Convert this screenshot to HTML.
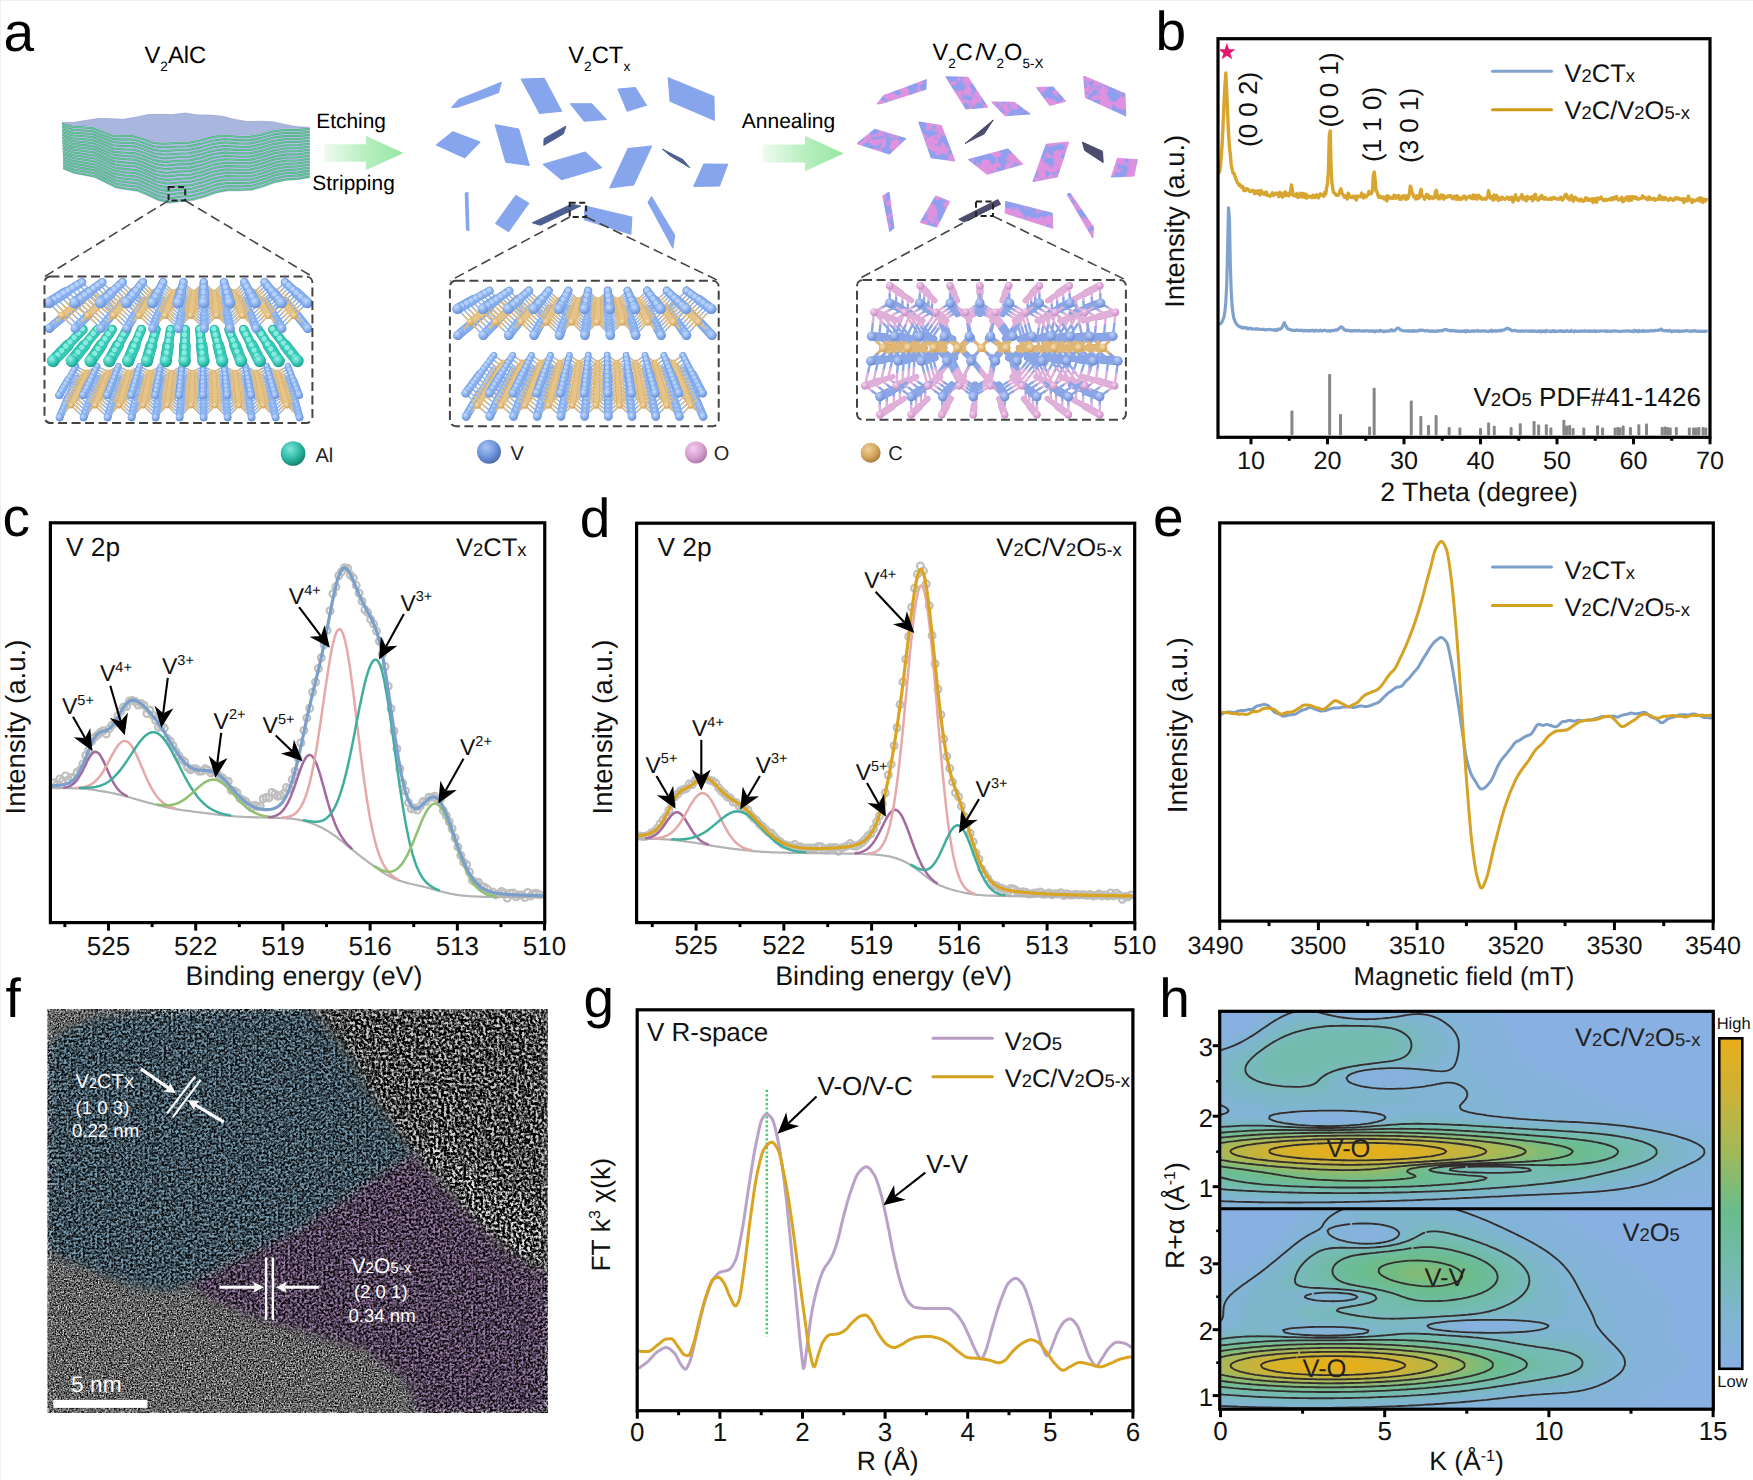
<!DOCTYPE html>
<html><head><meta charset="utf-8"><title>figure</title>
<style>
html,body{margin:0;padding:0;background:#fff;}
body{width:1753px;height:1480px;overflow:hidden;font-family:"Liberation Sans",sans-serif;}
svg{display:block;font-family:"Liberation Sans",sans-serif;text-rendering:geometricPrecision;}
</style></head><body>
<svg width="1753" height="1480" viewBox="0 0 1753 1480">
<rect x="0" y="0" width="1753" height="1480" fill="#fff"/>
<path d="M0.5 1480V0.5H1753" fill="none" stroke="#f0f0f0" stroke-width="1"/>
<g id="panel_a"><defs><radialGradient id="gV" cx="0.38" cy="0.32" r="0.75"><stop offset="0" stop-color="#c4dcfc"/><stop offset="0.55" stop-color="#86aeec"/><stop offset="1" stop-color="#5f88d4"/></radialGradient><radialGradient id="gV2" cx="0.38" cy="0.32" r="0.75"><stop offset="0" stop-color="#bdd0f8"/><stop offset="0.55" stop-color="#8aa6e6"/><stop offset="1" stop-color="#6582cc"/></radialGradient><radialGradient id="gC" cx="0.38" cy="0.32" r="0.75"><stop offset="0" stop-color="#f6e0b4"/><stop offset="0.55" stop-color="#e2ba78"/><stop offset="1" stop-color="#c89a52"/></radialGradient><radialGradient id="gAl" cx="0.38" cy="0.32" r="0.75"><stop offset="0" stop-color="#9af2e4"/><stop offset="0.55" stop-color="#35c8b6"/><stop offset="1" stop-color="#1a9584"/></radialGradient><radialGradient id="gO" cx="0.38" cy="0.32" r="0.75"><stop offset="0" stop-color="#f6d4f0"/><stop offset="0.55" stop-color="#dca6d6"/><stop offset="1" stop-color="#bf86ba"/></radialGradient><radialGradient id="gLV" cx="0.38" cy="0.32" r="0.75"><stop offset="0" stop-color="#a9c4f4"/><stop offset="0.55" stop-color="#6f94dc"/><stop offset="1" stop-color="#47639f"/></radialGradient><radialGradient id="gLO" cx="0.38" cy="0.32" r="0.75"><stop offset="0" stop-color="#f4cdee"/><stop offset="0.55" stop-color="#d9a0d2"/><stop offset="1" stop-color="#a874a4"/></radialGradient><radialGradient id="gLC" cx="0.38" cy="0.32" r="0.75"><stop offset="0" stop-color="#f0d09a"/><stop offset="0.55" stop-color="#d6a65c"/><stop offset="1" stop-color="#9f7634"/></radialGradient><radialGradient id="gLAl" cx="0.38" cy="0.32" r="0.75"><stop offset="0" stop-color="#7fe8d6"/><stop offset="0.55" stop-color="#2cb8a4"/><stop offset="1" stop-color="#147868"/></radialGradient><linearGradient id="ga1" x1="0" y1="0" x2="1" y2="0"><stop offset="0" stop-color="#eefbf0"/><stop offset="0.5" stop-color="#b9efc0"/><stop offset="1" stop-color="#96e6a2"/></linearGradient><filter id="mottle" x="0" y="0" width="100%" height="100%" color-interpolation-filters="sRGB">
<feTurbulence type="fractalNoise" baseFrequency="0.11" numOctaves="2" seed="3" result="n"/>
<feColorMatrix in="n" type="matrix" values="0 0 0 0 0.87  0 0 0 0 0.57  0 0 0 0 0.87  9 0 0 0 -3.9" result="pk"/>
<feComposite in="pk" in2="SourceGraphic" operator="atop"/>
</filter></defs>
<text x="144.4" y="62.9" font-size="23.8" text-anchor="start" fill="#000" >V<tspan font-size="13.68" dy="7.97">2</tspan><tspan dy="-7.97" font-size="1">&#8203;</tspan>AlC</text>
<text x="568.2" y="62.7" font-size="23.8" text-anchor="start" fill="#000" >V<tspan font-size="13.68" dy="7.97">2</tspan><tspan dy="-7.97" font-size="1">&#8203;</tspan>CT<tspan font-size="13.68" dy="7.97">x</tspan><tspan dy="-7.97" font-size="1">&#8203;</tspan></text>
<text x="932.6" y="60.1" font-size="23.5" text-anchor="start" fill="#000" >V<tspan font-size="13.51" dy="7.87">2</tspan><tspan dy="-7.87" font-size="1">&#8203;</tspan>C<tspan dx="2.6">/</tspan><tspan dx="-1">V</tspan><tspan font-size="13.51" dy="7.87">2</tspan><tspan dy="-7.87" font-size="1">&#8203;</tspan>O<tspan font-size="13.51" dy="7.87">5-X</tspan><tspan dy="-7.87" font-size="1">&#8203;</tspan></text>
<text x="3.6" y="50.7" font-size="55" text-anchor="start" fill="#000" >a</text>
<path d="M62 122.5 L74.3 122.33 L86.6 120.32 L98.9 118.31 L111.2 118.7 L123.5 119.24 L135.8 117.17 L148.1 114.6 L160.4 114.34 L172.7 114.62 L185 113 L197.47 114.96 L209.94 115.08 L222.41 116.19 L234.88 119.42 L247.35 121.55 L259.82 121.22 L272.29 121.67 L284.76 124.43 L297.23 126.7 L309.7 127.3 L297.47 128.45 L285.25 128.27 L273.02 129.83 L260.8 133.24 L248.57 135.56 L236.35 135.09 L224.12 134.05 L211.9 135.46 L199.68 138.82 L187.45 141.1 L175.22 141.27 L163 142 L152.9 140.98 L142.8 137.43 L132.7 134.44 L122.6 134.58 L112.5 134.24 L102.4 130.41 L92.3 126.58 L82.2 125.94 L72.1 125.46 L62 122.5Z" fill="#a9b6dd" stroke="#8f9cc8" stroke-width="0.6" /><path d="M62 122.5 L72.1 125.46 L82.2 125.94 L92.3 126.58 L102.4 130.41 L112.5 134.24 L122.6 134.58 L132.7 134.44 L142.8 137.43 L152.9 140.98 L163 142 L169.4 203.7 L158.79 201.2 L148.18 196.17 L137.57 191.7 L126.96 190.36 L116.35 188.54 L105.74 183.23 L95.13 177.92 L84.52 175.8 L73.91 173.84 L63.3 169.4Z" fill="#b0bbe6" stroke="none" stroke-width="1" /><path d="M163 142 L175.22 141.27 L187.45 141.1 L199.68 138.82 L211.9 135.46 L224.12 134.05 L236.35 135.09 L248.57 135.56 L260.8 133.24 L273.02 129.83 L285.25 128.27 L297.47 128.45 L309.7 127.3 L309.7 178 L298.01 180.07 L286.32 180.8 L274.62 183.28 L262.93 187.61 L251.24 190.84 L239.55 191.29 L227.86 191.17 L216.17 193.49 L204.48 197.77 L192.78 200.97 L181.09 202.06 L169.4 203.7Z" fill="#b0bbe6" stroke="none" stroke-width="1" /><path d="M62 123.9 72.2 126.9 82.3 127.4 92.4 128.1 102.5 132 112.6 135.8 122.7 136.2 132.8 136.1 143 139.2 153.1 142.8 163.2 143.8 175.4 143.1 187.6 142.9 199.8 140.6 212 137.2 224.2 135.7 236.4 136.7 248.7 137.2 260.9 134.8 273.1 131.4 285.3 129.8 297.5 130 309.7 128.8M62.1 126.6 72.3 129.7 82.4 130.3 92.5 131.1 102.7 135.1 112.8 139 123 139.5 133.1 139.5 143.3 142.6 153.4 146.3 163.6 147.4 175.7 146.6 187.9 146.4 200.1 144 212.3 140.6 224.5 139.1 236.6 140 248.8 140.4 261 138 273.2 134.5 285.3 132.9 297.5 133 309.7 131.8M62.2 129.4 72.4 132.6 82.5 133.3 92.7 134.1 102.9 138.2 113.1 142.2 123.2 142.8 133.4 142.9 143.6 146.1 153.8 149.8 163.9 151.1 176.1 150.2 188.2 149.9 200.4 147.5 212.5 144 224.7 142.4 236.8 143.3 249 143.7 261.1 141.2 273.3 137.7 285.4 136 297.6 136 309.7 134.8M62.3 132.2 72.5 135.4 82.7 136.2 92.9 137.2 103.1 141.3 113.3 145.4 123.5 146.1 133.7 146.2 143.9 149.5 154.1 153.4 164.3 154.7 176.4 153.8 188.5 153.4 200.7 151 212.8 147.4 224.9 145.8 237 146.7 249.1 146.9 261.2 144.4 273.4 140.8 285.5 139.1 297.6 139.1 309.7 137.7M62.3 134.9 72.6 138.3 82.8 139.1 93 140.2 103.3 144.4 113.5 148.6 123.8 149.3 134 149.6 144.2 153 154.5 156.9 164.7 158.3 176.8 157.4 188.9 156.9 200.9 154.4 213 150.8 225.1 149.2 237.2 150 249.3 150.2 261.4 147.6 273.4 144 285.5 142.2 297.6 142.1 309.7 140.7M62.4 137.7 72.7 141.1 83 142.1 93.2 143.2 103.5 147.5 113.7 151.8 124 152.6 134.3 153 144.5 156.4 154.8 160.5 165.1 162 177.1 160.9 189.2 160.5 201.2 157.9 213.3 154.2 225.3 152.5 237.4 153.3 249.4 153.4 261.5 150.8 273.5 147.1 285.6 145.3 297.6 145.2 309.7 143.7M62.5 140.4 72.8 144 83.1 145 93.4 146.2 103.7 150.6 114 155 124.3 155.9 134.6 156.3 144.9 159.9 155.2 164 165.4 165.6 177.5 164.5 189.5 164 201.5 161.4 213.5 157.6 225.6 155.9 237.6 156.6 249.6 156.7 261.6 154 273.6 150.3 285.7 148.4 297.7 148.2 309.7 146.7M62.6 143.2 72.9 146.8 83.2 147.9 93.5 149.2 103.9 153.7 114.2 158.2 124.5 159.2 134.8 159.7 145.2 163.3 155.5 167.6 165.8 169.2 177.8 168.1 189.8 167.5 201.8 164.8 213.8 161.1 225.8 159.2 237.8 159.9 249.8 159.9 261.7 157.2 273.7 153.4 285.7 151.4 297.7 151.2 309.7 149.7M62.6 146 73 149.7 83.4 150.9 93.7 152.3 104.1 156.8 114.4 161.4 124.8 162.5 135.1 163.1 145.5 166.8 155.8 171.1 166.2 172.8 178.2 171.7 190.1 171 202.1 168.3 214 164.5 226 162.6 237.9 163.2 249.9 163.2 261.9 160.4 273.8 156.6 285.8 154.5 297.7 154.3 309.7 152.7M62.7 148.7 73.1 152.5 83.5 153.8 93.9 155.3 104.3 159.9 114.7 164.6 125 165.8 135.4 166.4 145.8 170.3 156.2 174.6 166.6 176.5 178.5 175.2 190.4 174.6 202.4 171.8 214.3 167.9 226.2 166 238.1 166.5 250.1 166.5 262 163.6 273.9 159.7 285.8 157.6 297.8 157.3 309.7 155.6M62.8 151.5 73.2 155.3 83.6 156.7 94 158.3 104.5 163 114.9 167.8 125.3 169 135.7 169.8 146.1 173.7 156.5 178.2 167 180.1 178.8 178.8 190.7 178.1 202.6 175.2 214.5 171.3 226.4 169.3 238.3 169.8 250.2 169.7 262.1 166.8 274 162.8 285.9 160.7 297.8 160.3 309.7 158.6M62.9 154.2 73.3 158.2 83.8 159.7 94.2 161.3 104.7 166.1 115.1 171 125.5 172.3 136 173.2 146.4 177.2 156.9 181.7 167.3 183.7 179.2 182.4 191.1 181.6 202.9 178.7 214.8 174.7 226.7 172.7 238.5 173.1 250.4 173 262.2 170 274.1 166 286 163.8 297.8 163.4 309.7 161.6M63 157 73.4 161 83.9 162.6 94.4 164.3 104.9 169.2 115.3 174.2 125.8 175.6 136.3 176.5 146.8 180.6 157.2 185.3 167.7 187.4 179.5 186 191.4 185.1 203.2 182.2 215 178.1 226.9 176 238.7 176.4 250.5 176.2 262.4 173.2 274.2 169.1 286 166.9 297.9 166.4 309.7 164.6M63 159.7 73.5 163.9 84 165.5 94.5 167.4 105.1 172.4 115.6 177.4 126.1 178.9 136.6 179.9 147.1 184.1 157.6 188.8 168.1 191 179.9 189.5 191.7 188.6 203.5 185.6 215.3 181.5 227.1 179.4 238.9 179.7 250.7 179.5 262.5 176.4 274.3 172.3 286.1 170 297.9 169.4 309.7 167.6M63.1 162.5 73.6 166.7 84.2 168.5 94.7 170.4 105.2 175.5 115.8 180.6 126.3 182.2 136.9 183.3 147.4 187.5 157.9 192.3 168.5 194.6 180.2 193.1 192 192.2 203.8 189.1 215.5 185 227.3 182.8 239.1 183 250.8 182.7 262.6 179.6 274.4 175.4 286.2 173.1 297.9 172.5 309.7 170.5M63.2 165.3 73.8 169.6 84.3 171.4 94.9 173.4 105.4 178.6 116 183.8 126.6 185.4 137.1 186.7 147.7 191 158.3 195.9 168.8 198.3 180.6 196.7 192.3 195.7 204.1 192.6 215.8 188.4 227.5 186.1 239.3 186.3 251 186 262.7 182.8 274.5 178.6 286.2 176.2 298 175.5 309.7 173.5M63.3 168 73.9 172.4 84.5 174.3 95 176.4 105.6 181.7 116.2 186.9 126.8 188.7 137.4 190 148 194.4 158.6 199.4 169.2 201.9 180.9 200.3 192.6 199.2 204.3 196 216 191.8 227.7 189.5 239.5 189.6 251.2 189.2 262.9 186 274.6 181.7 286.3 179.3 298 178.6 309.7 176.5" fill="none" stroke="#4aa97c" stroke-width="1.8" stroke-linejoin="round"/><path d="M62 123.9 72.2 126.9 82.3 127.4 92.4 128.1 102.5 132 112.6 135.8 122.7 136.2 132.8 136.1 143 139.2 153.1 142.8 163.2 143.8 175.4 143.1 187.6 142.9 199.8 140.6 212 137.2 224.2 135.7 236.4 136.7 248.7 137.2 260.9 134.8 273.1 131.4 285.3 129.8 297.5 130 309.7 128.8M62.1 126.6 72.3 129.7 82.4 130.3 92.5 131.1 102.7 135.1 112.8 139 123 139.5 133.1 139.5 143.3 142.6 153.4 146.3 163.6 147.4 175.7 146.6 187.9 146.4 200.1 144 212.3 140.6 224.5 139.1 236.6 140 248.8 140.4 261 138 273.2 134.5 285.3 132.9 297.5 133 309.7 131.8M62.2 129.4 72.4 132.6 82.5 133.3 92.7 134.1 102.9 138.2 113.1 142.2 123.2 142.8 133.4 142.9 143.6 146.1 153.8 149.8 163.9 151.1 176.1 150.2 188.2 149.9 200.4 147.5 212.5 144 224.7 142.4 236.8 143.3 249 143.7 261.1 141.2 273.3 137.7 285.4 136 297.6 136 309.7 134.8M62.3 132.2 72.5 135.4 82.7 136.2 92.9 137.2 103.1 141.3 113.3 145.4 123.5 146.1 133.7 146.2 143.9 149.5 154.1 153.4 164.3 154.7 176.4 153.8 188.5 153.4 200.7 151 212.8 147.4 224.9 145.8 237 146.7 249.1 146.9 261.2 144.4 273.4 140.8 285.5 139.1 297.6 139.1 309.7 137.7M62.3 134.9 72.6 138.3 82.8 139.1 93 140.2 103.3 144.4 113.5 148.6 123.8 149.3 134 149.6 144.2 153 154.5 156.9 164.7 158.3 176.8 157.4 188.9 156.9 200.9 154.4 213 150.8 225.1 149.2 237.2 150 249.3 150.2 261.4 147.6 273.4 144 285.5 142.2 297.6 142.1 309.7 140.7M62.4 137.7 72.7 141.1 83 142.1 93.2 143.2 103.5 147.5 113.7 151.8 124 152.6 134.3 153 144.5 156.4 154.8 160.5 165.1 162 177.1 160.9 189.2 160.5 201.2 157.9 213.3 154.2 225.3 152.5 237.4 153.3 249.4 153.4 261.5 150.8 273.5 147.1 285.6 145.3 297.6 145.2 309.7 143.7M62.5 140.4 72.8 144 83.1 145 93.4 146.2 103.7 150.6 114 155 124.3 155.9 134.6 156.3 144.9 159.9 155.2 164 165.4 165.6 177.5 164.5 189.5 164 201.5 161.4 213.5 157.6 225.6 155.9 237.6 156.6 249.6 156.7 261.6 154 273.6 150.3 285.7 148.4 297.7 148.2 309.7 146.7M62.6 143.2 72.9 146.8 83.2 147.9 93.5 149.2 103.9 153.7 114.2 158.2 124.5 159.2 134.8 159.7 145.2 163.3 155.5 167.6 165.8 169.2 177.8 168.1 189.8 167.5 201.8 164.8 213.8 161.1 225.8 159.2 237.8 159.9 249.8 159.9 261.7 157.2 273.7 153.4 285.7 151.4 297.7 151.2 309.7 149.7M62.6 146 73 149.7 83.4 150.9 93.7 152.3 104.1 156.8 114.4 161.4 124.8 162.5 135.1 163.1 145.5 166.8 155.8 171.1 166.2 172.8 178.2 171.7 190.1 171 202.1 168.3 214 164.5 226 162.6 237.9 163.2 249.9 163.2 261.9 160.4 273.8 156.6 285.8 154.5 297.7 154.3 309.7 152.7M62.7 148.7 73.1 152.5 83.5 153.8 93.9 155.3 104.3 159.9 114.7 164.6 125 165.8 135.4 166.4 145.8 170.3 156.2 174.6 166.6 176.5 178.5 175.2 190.4 174.6 202.4 171.8 214.3 167.9 226.2 166 238.1 166.5 250.1 166.5 262 163.6 273.9 159.7 285.8 157.6 297.8 157.3 309.7 155.6M62.8 151.5 73.2 155.3 83.6 156.7 94 158.3 104.5 163 114.9 167.8 125.3 169 135.7 169.8 146.1 173.7 156.5 178.2 167 180.1 178.8 178.8 190.7 178.1 202.6 175.2 214.5 171.3 226.4 169.3 238.3 169.8 250.2 169.7 262.1 166.8 274 162.8 285.9 160.7 297.8 160.3 309.7 158.6M62.9 154.2 73.3 158.2 83.8 159.7 94.2 161.3 104.7 166.1 115.1 171 125.5 172.3 136 173.2 146.4 177.2 156.9 181.7 167.3 183.7 179.2 182.4 191.1 181.6 202.9 178.7 214.8 174.7 226.7 172.7 238.5 173.1 250.4 173 262.2 170 274.1 166 286 163.8 297.8 163.4 309.7 161.6M63 157 73.4 161 83.9 162.6 94.4 164.3 104.9 169.2 115.3 174.2 125.8 175.6 136.3 176.5 146.8 180.6 157.2 185.3 167.7 187.4 179.5 186 191.4 185.1 203.2 182.2 215 178.1 226.9 176 238.7 176.4 250.5 176.2 262.4 173.2 274.2 169.1 286 166.9 297.9 166.4 309.7 164.6M63 159.7 73.5 163.9 84 165.5 94.5 167.4 105.1 172.4 115.6 177.4 126.1 178.9 136.6 179.9 147.1 184.1 157.6 188.8 168.1 191 179.9 189.5 191.7 188.6 203.5 185.6 215.3 181.5 227.1 179.4 238.9 179.7 250.7 179.5 262.5 176.4 274.3 172.3 286.1 170 297.9 169.4 309.7 167.6M63.1 162.5 73.6 166.7 84.2 168.5 94.7 170.4 105.2 175.5 115.8 180.6 126.3 182.2 136.9 183.3 147.4 187.5 157.9 192.3 168.5 194.6 180.2 193.1 192 192.2 203.8 189.1 215.5 185 227.3 182.8 239.1 183 250.8 182.7 262.6 179.6 274.4 175.4 286.2 173.1 297.9 172.5 309.7 170.5M63.2 165.3 73.8 169.6 84.3 171.4 94.9 173.4 105.4 178.6 116 183.8 126.6 185.4 137.1 186.7 147.7 191 158.3 195.9 168.8 198.3 180.6 196.7 192.3 195.7 204.1 192.6 215.8 188.4 227.5 186.1 239.3 186.3 251 186 262.7 182.8 274.5 178.6 286.2 176.2 298 175.5 309.7 173.5M63.3 168 73.9 172.4 84.5 174.3 95 176.4 105.6 181.7 116.2 186.9 126.8 188.7 137.4 190 148 194.4 158.6 199.4 169.2 201.9 180.9 200.3 192.6 199.2 204.3 196 216 191.8 227.7 189.5 239.5 189.6 251.2 189.2 262.9 186 274.6 181.7 286.3 179.3 298 178.6 309.7 176.5" fill="none" stroke="#67cc97" stroke-width="1.0" stroke-linejoin="round"/>
<path d="M324.3 144.35 L365.8 144.35 L365.8 135.85 L403.4 153.05 L365.8 170.25 L365.8 161.75 L324.3 161.75Z" fill="url(#ga1)" stroke="none" stroke-width="1" />
<path d="M762.7 144.6 L805 144.6 L805 135.7 L843.7 153.5 L805 171.3 L805 162.4 L762.7 162.4Z" fill="url(#ga1)" stroke="none" stroke-width="1" />
<text x="316.3" y="127.5" font-size="20.9" text-anchor="start" fill="#000" >Etching</text>
<text x="312.3" y="189.7" font-size="20.9" text-anchor="start" fill="#000" >Stripping</text>
<text x="741.8" y="127.7" font-size="21" text-anchor="start" fill="#000" >Annealing</text>
<path d="M451.9 107.5 459.2 99.2 480.2 91 501.2 82.3 498.5 92.5 474.8 101.1 457.4 107.1ZM521.3 79.2 544.1 78.3 561.5 111.1 539.6 113.3ZM570.6 103.8 591.6 103.8 606.2 119.3 584.3 121.2ZM618.1 89.2 635.4 87.7 646.4 105.3 627.2 111.1ZM668.3 77.9 713.9 96.5 714.3 120.2 670.1 101.1ZM436.4 144.9 452.9 131.7 479.9 142.1 464.7 157.7ZM495.2 124.8 518.6 129 529.2 165.5 505.8 162.2ZM543.2 164.4 585.2 152.2 601.6 167.7 561.5 179.6ZM628.1 148.5 651.5 146.2 633.6 185 609.9 187.8ZM703.9 164.1 727.6 164.4 719.4 186 693.8 186.3ZM465.3 193.3 467.8 192.3 468.9 230.7 466.5 229.8ZM515.8 195.5 528.6 203.3 508.5 231.6 495.8 223.4ZM585.2 206 631.8 217 630.8 234.3 584.3 219.7ZM648.2 202.4 651.5 196.9 674.7 235.2 672.8 248Z" fill="#86a5ec" stroke="#86a5ec" stroke-width="1.2" stroke-linejoin="round" /><path d="M544.1 138.5 566 126.1 563.3 133.9 543.8 145.4ZM662.4 149.1 682.9 159.5 689.8 167.7 670.1 155.8ZM532.3 222.8 571.5 204.2 580.6 206 540.5 225.2Z" fill="#4d5f90" stroke="#4d5f90" stroke-width="1" stroke-linejoin="round"/>
<path d="M877.4 103.8 883.8 95.6 903.9 88.3 926.2 79.7 925.8 89.2 900.2 97.4 881.1 103.4ZM945.9 76.8 967.8 77.3 987.5 107.1 966 108.9ZM991.9 102 1014.3 102.4 1029.9 113.9 1005.2 115.7ZM1036.8 87.7 1052.7 87 1065.4 101.1 1049.9 105.3ZM1083.7 76.1 1124.8 93.8 1125.7 115.7 1085.5 97.4ZM857.3 143.6 874.7 129.4 905.7 138.5 889.3 154ZM918.9 122.1 941.3 125.7 954.6 160.8 931.3 157.7ZM968.7 159.5 1007.9 149.1 1022.5 164.1 987 174.1ZM1046.3 144.3 1068.6 142.1 1057.2 176.8 1033.1 181.4ZM1117.5 158.6 1137.2 159.5 1133.9 175.9 1111.6 176.8ZM882.9 196 888.9 192.3 893.9 227.9 889.7 231.2ZM935.8 196 949.5 201.5 936.8 227 920.3 222.5ZM1005.8 201.5 1052.1 213.3 1052.7 228.3 1005.2 213ZM1067.3 194.2 1070 193.3 1093.4 227 1092.8 238Z" fill="#8d9fee" stroke="#8d9fee" stroke-width="1.2" stroke-linejoin="round" filter="url(#mottle)"/><path d="M965 143.6 993.3 119.9 984.2 133.9 967.8 142.1ZM1082.4 142.1 1102.5 151.3 1103.2 162.6 1084.6 150.4ZM958.7 219.2 997.9 199.6 1000.6 204.2 964.1 222.1Z" fill="#4c4d6e" stroke="#4c4d6e" stroke-width="1" stroke-linejoin="round"/>
<path d="M76.5 378L59.6 417.5M97.7 378L83.6 417.5M118.9 378L107.6 417.5M140.1 378L131.6 417.5M161.3 378L155.6 417.5M182.5 378L179.6 417.5M203.7 378L203.6 417.5M224.9 378L227.6 417.5M246.1 378L251.6 417.5M267.3 378L275.6 417.5M288.5 378L299.6 417.5" stroke="#6a93dc" stroke-width="6.4" stroke-linecap="round" fill="none"/><path d="M68 397.8L59.6 417.5M90.7 397.8L83.6 417.5M113.2 397.8L107.6 417.5M135.8 397.8L131.6 417.5M158.4 397.8L155.6 417.5M181.1 397.8L179.6 417.5M203.6 397.8L203.6 417.5M226.2 397.8L227.6 417.5M248.8 397.8L251.6 417.5M271.4 397.8L275.6 417.5M294.1 397.8L299.6 417.5" stroke="#6a93dc" stroke-width="7.5" stroke-linecap="round" fill="none"/><path d="M76.5 378L59.6 417.5M97.7 378L83.6 417.5M118.9 378L107.6 417.5M140.1 378L131.6 417.5M161.3 378L155.6 417.5M182.5 378L179.6 417.5M203.7 378L203.6 417.5M224.9 378L227.6 417.5M246.1 378L251.6 417.5M267.3 378L275.6 417.5M288.5 378L299.6 417.5" stroke="#86aeec" stroke-width="5.4" stroke-linecap="round" fill="none"/><path d="M68 397.8L59.6 417.5M90.7 397.8L83.6 417.5M113.2 397.8L107.6 417.5M135.8 397.8L131.6 417.5M158.4 397.8L155.6 417.5M181.1 397.8L179.6 417.5M203.6 397.8L203.6 417.5M226.2 397.8L227.6 417.5M248.8 397.8L251.6 417.5M271.4 397.8L275.6 417.5M294.1 397.8L299.6 417.5" stroke="#86aeec" stroke-width="6.5" stroke-linecap="round" fill="none"/><path d="M75.9 377.2L59 416.7M97.1 377.2L83 416.7M118.3 377.2L107 416.7M139.5 377.2L131 416.7M160.7 377.2L155 416.7M181.9 377.2L179 416.7M203.1 377.2L203 416.7M224.3 377.2L227 416.7M245.5 377.2L251 416.7M266.7 377.2L275 416.7M287.9 377.2L299 416.7" stroke="#b3d0fa" stroke-width="3.5" stroke-linecap="round" stroke-dasharray="0.1 4" fill="none"/><path d="M59.1 395.2 71.1 405.5 83.1 395.2 95.1 405.5 107.1 395.2 119.1 405.5 131.1 395.2 143.1 405.5 155.1 395.2 167.1 405.5 179.1 395.2 191.1 405.5 203.1 395.2 215.1 405.5 227.1 395.2 239.1 405.5 251.1 395.2 263.1 405.5 275.1 395.2 287.1 405.5 299.1 395.2M59.6 417.5 71.1 405.5 83.6 417.5 95.1 405.5 107.6 417.5 119.1 405.5 131.6 417.5 143.1 405.5 155.6 417.5 167.1 405.5 179.6 417.5 191.1 405.5 203.6 417.5 215.1 405.5 227.6 417.5 239.1 405.5 251.6 417.5 263.1 405.5 275.6 417.5 287.1 405.5 299.6 417.5M60.5 392.8 72.4 402.7 84.3 392.8 96.2 402.7 108 392.8 119.9 402.7 131.8 392.8 143.7 402.7 155.6 392.8 167.5 402.7 179.3 392.8 191.2 402.7 203.1 392.8 215 402.7 226.9 392.8 238.8 402.7 250.6 392.8 262.5 402.7 274.4 392.8 286.3 402.7 298.2 392.8M61 414.2 72.4 402.7 84.8 414.2 96.2 402.7 108.5 414.2 119.9 402.7 132.3 414.2 143.7 402.7 156.1 414.2 167.5 402.7 179.8 414.2 191.2 402.7 203.6 414.2 215 402.7 227.4 414.2 238.8 402.7 251.1 414.2 262.5 402.7 274.9 414.2 286.3 402.7 298.7 414.2M61.9 390.4 73.7 399.9 85.4 390.4 97.2 399.9 109 390.4 120.8 399.9 132.5 390.4 144.3 399.9 156.1 390.4 167.8 399.9 179.6 390.4 191.3 399.9 203.1 390.4 214.9 399.9 226.7 390.4 238.4 399.9 250.2 390.4 262 399.9 273.7 390.4 285.5 399.9 297.2 390.4M62.4 410.9 73.7 399.9 85.9 410.9 97.2 399.9 109.5 410.9 120.8 399.9 133 410.9 144.3 399.9 156.6 410.9 167.8 399.9 180.1 410.9 191.3 399.9 203.6 410.9 214.9 399.9 227.2 410.9 238.4 399.9 250.7 410.9 262 399.9 274.2 410.9 285.5 399.9 297.8 410.9M63.3 387.9 75 397.1 86.6 387.9 98.3 397.1 109.9 387.9 121.6 397.1 133.2 387.9 144.9 397.1 156.5 387.9 168.2 397.1 179.8 387.9 191.5 397.1 203.1 387.9 214.8 397.1 226.4 387.9 238.1 397.1 249.7 387.9 261.4 397.1 273 387.9 284.7 397.1 296.3 387.9M63.8 407.6 75 397.1 87.1 407.6 98.3 397.1 110.4 407.6 121.6 397.1 133.7 407.6 144.9 397.1 157 407.6 168.2 397.1 180.3 407.6 191.5 397.1 203.6 407.6 214.8 397.1 226.9 407.6 238.1 397.1 250.2 407.6 261.4 397.1 273.5 407.6 284.7 397.1 296.8 407.6M64.7 385.5 76.3 394.3 87.8 385.5 99.3 394.3 110.9 385.5 122.4 394.3 133.9 385.5 145.5 394.3 157 385.5 168.5 394.3 180.1 385.5 191.6 394.3 203.1 385.5 214.7 394.3 226.2 385.5 237.7 394.3 249.3 385.5 260.8 394.3 272.3 385.5 283.9 394.3 295.4 385.5M65.2 404.3 76.3 394.3 88.3 404.3 99.3 394.3 111.4 404.3 122.4 394.3 134.4 404.3 145.5 394.3 157.5 404.3 168.5 394.3 180.6 404.3 191.6 394.3 203.6 404.3 214.7 394.3 226.7 404.3 237.7 394.3 249.8 404.3 260.8 394.3 272.8 404.3 283.9 394.3 295.9 404.3M66.1 383.1 77.6 391.5 89 383.1 100.4 391.5 111.8 383.1 123.2 391.5 134.6 383.1 146.1 391.5 157.5 383.1 168.9 391.5 180.3 383.1 191.7 391.5 203.1 383.1 214.6 391.5 226 383.1 237.4 391.5 248.8 383.1 260.2 391.5 271.6 383.1 283.1 391.5 294.5 383.1M66.6 401 77.6 391.5 89.5 401 100.4 391.5 112.3 401 123.2 391.5 135.1 401 146.1 391.5 158 401 168.9 391.5 180.8 401 191.7 391.5 203.6 401 214.6 391.5 226.5 401 237.4 391.5 249.3 401 260.2 391.5 272.1 401 283.1 391.5 295 401M67.5 380.6 78.8 388.8 90.2 380.6 101.4 388.8 112.8 380.6 124 388.8 135.3 380.6 146.6 388.8 157.9 380.6 169.2 388.8 180.6 380.6 191.8 388.8 203.1 380.6 214.4 388.8 225.8 380.6 237.1 388.8 248.3 380.6 259.6 388.8 270.9 380.6 282.2 388.8 293.6 380.6M68 397.8 78.8 388.8 90.7 397.8 101.4 388.8 113.2 397.8 124 388.8 135.8 397.8 146.6 388.8 158.4 397.8 169.2 388.8 181.1 397.8 191.8 388.8 203.6 397.8 214.4 388.8 226.2 397.8 237.1 388.8 248.8 397.8 259.6 388.8 271.4 397.8 282.2 388.8 294.1 397.8M69 378.2 80.1 386 91.3 378.2 102.5 386 113.7 378.2 124.9 386 136.1 378.2 147.2 386 158.4 378.2 169.6 386 180.8 378.2 192 386 203.2 378.2 214.3 386 225.5 378.2 236.7 386 247.9 378.2 259.1 386 270.3 378.2 281.4 386 292.6 378.2M69.5 394.5 80.1 386 91.8 394.5 102.5 386 114.2 394.5 124.9 386 136.6 394.5 147.2 386 158.9 394.5 169.6 386 181.3 394.5 192 386 203.7 394.5 214.3 386 226 394.5 236.7 386 248.4 394.5 259.1 386 270.8 394.5 281.4 386 293.1 394.5M70.4 375.8 81.4 383.2 92.5 375.8 103.6 383.2 114.6 375.8 125.7 383.2 136.8 375.8 147.8 383.2 158.9 375.8 170 383.2 181 375.8 192.1 383.2 203.2 375.8 214.2 383.2 225.3 375.8 236.4 383.2 247.4 375.8 258.5 383.2 269.6 375.8 280.6 383.2 291.7 375.8M70.9 391.2 81.4 383.2 93 391.2 103.6 383.2 115.1 391.2 125.7 383.2 137.3 391.2 147.8 383.2 159.4 391.2 170 383.2 181.5 391.2 192.1 383.2 203.7 391.2 214.2 383.2 225.8 391.2 236.4 383.2 247.9 391.2 258.5 383.2 270.1 391.2 280.6 383.2 292.2 391.2M71.8 373.4 82.7 380.4 93.7 373.4 104.6 380.4 115.6 373.4 126.5 380.4 137.5 373.4 148.4 380.4 159.4 373.4 170.3 380.4 181.3 373.4 192.2 380.4 203.2 373.4 214.1 380.4 225.1 373.4 236 380.4 247 373.4 257.9 380.4 268.9 373.4 279.8 380.4 290.8 373.4M72.3 387.9 82.7 380.4 94.2 387.9 104.6 380.4 116.1 387.9 126.5 380.4 138 387.9 148.4 380.4 159.9 387.9 170.3 380.4 181.8 387.9 192.2 380.4 203.7 387.9 214.1 380.4 225.6 387.9 236 380.4 247.5 387.9 257.9 380.4 269.4 387.9 279.8 380.4 291.3 387.9M73.2 371 84 377.6 94.8 371 105.7 377.6 116.5 371 127.3 377.6 138.2 371 149 377.6 159.9 371 170.7 377.6 181.5 371 192.3 377.6 203.2 371 214 377.6 224.8 371 235.7 377.6 246.5 371 257.4 377.6 268.2 371 279 377.6 289.9 371M73.7 384.6 84 377.6 95.3 384.6 105.7 377.6 117 384.6 127.3 377.6 138.7 384.6 149 377.6 160.4 384.6 170.7 377.6 182 384.6 192.3 377.6 203.7 384.6 214 377.6 225.3 384.6 235.7 377.6 247 384.6 257.4 377.6 268.7 384.6 279 377.6 290.4 384.6M74.6 368.5 85.3 374.8 96 368.5 106.7 374.8 117.5 368.5 128.2 374.8 138.9 368.5 149.6 374.8 160.3 368.5 171 374.8 181.8 368.5 192.5 374.8 203.2 368.5 213.9 374.8 224.6 368.5 235.3 374.8 246.1 368.5 256.8 374.8 267.5 368.5 278.2 374.8 288.9 368.5M75.1 381.3 85.3 374.8 96.5 381.3 106.7 374.8 118 381.3 128.2 374.8 139.4 381.3 149.6 374.8 160.8 381.3 171 374.8 182.3 381.3 192.5 374.8 203.7 381.3 213.9 374.8 225.1 381.3 235.3 374.8 246.6 381.3 256.8 374.8 268 381.3 278.2 374.8 289.4 381.3M76 366.1 86.6 372 97.2 366.1 107.8 372 118.4 366.1 129 372 139.6 366.1 150.2 372 160.8 366.1 171.4 372 182 366.1 192.6 372 203.2 366.1 213.8 372 224.4 366.1 235 372 245.6 366.1 256.2 372 266.8 366.1 277.4 372 288 366.1M76.5 378 86.6 372 97.7 378 107.8 372 118.9 378 129 372 140.1 378 150.2 372 161.3 378 171.4 372 182.5 378 192.6 372 203.7 378 213.8 372 224.9 378 235 372 246.1 378 256.2 372 267.3 378 277.4 372 288.5 378" stroke="#8db3ee" stroke-width="1.5" fill="none" stroke-linejoin="round"/><g stroke="#e2be80" stroke-width="1.7" fill="none" stroke-dasharray="0 0.5 1 0.5"><path pathLength="20" d="M59.1 395.2 71.1 405.5 83.1 395.2 95.1 405.5 107.1 395.2 119.1 405.5 131.1 395.2 143.1 405.5 155.1 395.2 167.1 405.5 179.1 395.2 191.1 405.5 203.1 395.2 215.1 405.5 227.1 395.2 239.1 405.5 251.1 395.2 263.1 405.5 275.1 395.2 287.1 405.5 299.1 395.2"/><path pathLength="20" d="M59.6 417.5 71.1 405.5 83.6 417.5 95.1 405.5 107.6 417.5 119.1 405.5 131.6 417.5 143.1 405.5 155.6 417.5 167.1 405.5 179.6 417.5 191.1 405.5 203.6 417.5 215.1 405.5 227.6 417.5 239.1 405.5 251.6 417.5 263.1 405.5 275.6 417.5 287.1 405.5 299.6 417.5"/><path pathLength="20" d="M60.5 392.8 72.4 402.7 84.3 392.8 96.2 402.7 108 392.8 119.9 402.7 131.8 392.8 143.7 402.7 155.6 392.8 167.5 402.7 179.3 392.8 191.2 402.7 203.1 392.8 215 402.7 226.9 392.8 238.8 402.7 250.6 392.8 262.5 402.7 274.4 392.8 286.3 402.7 298.2 392.8"/><path pathLength="20" d="M61 414.2 72.4 402.7 84.8 414.2 96.2 402.7 108.5 414.2 119.9 402.7 132.3 414.2 143.7 402.7 156.1 414.2 167.5 402.7 179.8 414.2 191.2 402.7 203.6 414.2 215 402.7 227.4 414.2 238.8 402.7 251.1 414.2 262.5 402.7 274.9 414.2 286.3 402.7 298.7 414.2"/><path pathLength="20" d="M61.9 390.4 73.7 399.9 85.4 390.4 97.2 399.9 109 390.4 120.8 399.9 132.5 390.4 144.3 399.9 156.1 390.4 167.8 399.9 179.6 390.4 191.3 399.9 203.1 390.4 214.9 399.9 226.7 390.4 238.4 399.9 250.2 390.4 262 399.9 273.7 390.4 285.5 399.9 297.2 390.4"/><path pathLength="20" d="M62.4 410.9 73.7 399.9 85.9 410.9 97.2 399.9 109.5 410.9 120.8 399.9 133 410.9 144.3 399.9 156.6 410.9 167.8 399.9 180.1 410.9 191.3 399.9 203.6 410.9 214.9 399.9 227.2 410.9 238.4 399.9 250.7 410.9 262 399.9 274.2 410.9 285.5 399.9 297.8 410.9"/><path pathLength="20" d="M63.3 387.9 75 397.1 86.6 387.9 98.3 397.1 109.9 387.9 121.6 397.1 133.2 387.9 144.9 397.1 156.5 387.9 168.2 397.1 179.8 387.9 191.5 397.1 203.1 387.9 214.8 397.1 226.4 387.9 238.1 397.1 249.7 387.9 261.4 397.1 273 387.9 284.7 397.1 296.3 387.9"/><path pathLength="20" d="M63.8 407.6 75 397.1 87.1 407.6 98.3 397.1 110.4 407.6 121.6 397.1 133.7 407.6 144.9 397.1 157 407.6 168.2 397.1 180.3 407.6 191.5 397.1 203.6 407.6 214.8 397.1 226.9 407.6 238.1 397.1 250.2 407.6 261.4 397.1 273.5 407.6 284.7 397.1 296.8 407.6"/><path pathLength="20" d="M64.7 385.5 76.3 394.3 87.8 385.5 99.3 394.3 110.9 385.5 122.4 394.3 133.9 385.5 145.5 394.3 157 385.5 168.5 394.3 180.1 385.5 191.6 394.3 203.1 385.5 214.7 394.3 226.2 385.5 237.7 394.3 249.3 385.5 260.8 394.3 272.3 385.5 283.9 394.3 295.4 385.5"/><path pathLength="20" d="M65.2 404.3 76.3 394.3 88.3 404.3 99.3 394.3 111.4 404.3 122.4 394.3 134.4 404.3 145.5 394.3 157.5 404.3 168.5 394.3 180.6 404.3 191.6 394.3 203.6 404.3 214.7 394.3 226.7 404.3 237.7 394.3 249.8 404.3 260.8 394.3 272.8 404.3 283.9 394.3 295.9 404.3"/><path pathLength="20" d="M66.1 383.1 77.6 391.5 89 383.1 100.4 391.5 111.8 383.1 123.2 391.5 134.6 383.1 146.1 391.5 157.5 383.1 168.9 391.5 180.3 383.1 191.7 391.5 203.1 383.1 214.6 391.5 226 383.1 237.4 391.5 248.8 383.1 260.2 391.5 271.6 383.1 283.1 391.5 294.5 383.1"/><path pathLength="20" d="M66.6 401 77.6 391.5 89.5 401 100.4 391.5 112.3 401 123.2 391.5 135.1 401 146.1 391.5 158 401 168.9 391.5 180.8 401 191.7 391.5 203.6 401 214.6 391.5 226.5 401 237.4 391.5 249.3 401 260.2 391.5 272.1 401 283.1 391.5 295 401"/><path pathLength="20" d="M67.5 380.6 78.8 388.8 90.2 380.6 101.4 388.8 112.8 380.6 124 388.8 135.3 380.6 146.6 388.8 157.9 380.6 169.2 388.8 180.6 380.6 191.8 388.8 203.1 380.6 214.4 388.8 225.8 380.6 237.1 388.8 248.3 380.6 259.6 388.8 270.9 380.6 282.2 388.8 293.6 380.6"/><path pathLength="20" d="M68 397.8 78.8 388.8 90.7 397.8 101.4 388.8 113.2 397.8 124 388.8 135.8 397.8 146.6 388.8 158.4 397.8 169.2 388.8 181.1 397.8 191.8 388.8 203.6 397.8 214.4 388.8 226.2 397.8 237.1 388.8 248.8 397.8 259.6 388.8 271.4 397.8 282.2 388.8 294.1 397.8"/><path pathLength="20" d="M69 378.2 80.1 386 91.3 378.2 102.5 386 113.7 378.2 124.9 386 136.1 378.2 147.2 386 158.4 378.2 169.6 386 180.8 378.2 192 386 203.2 378.2 214.3 386 225.5 378.2 236.7 386 247.9 378.2 259.1 386 270.3 378.2 281.4 386 292.6 378.2"/><path pathLength="20" d="M69.5 394.5 80.1 386 91.8 394.5 102.5 386 114.2 394.5 124.9 386 136.6 394.5 147.2 386 158.9 394.5 169.6 386 181.3 394.5 192 386 203.7 394.5 214.3 386 226 394.5 236.7 386 248.4 394.5 259.1 386 270.8 394.5 281.4 386 293.1 394.5"/><path pathLength="20" d="M70.4 375.8 81.4 383.2 92.5 375.8 103.6 383.2 114.6 375.8 125.7 383.2 136.8 375.8 147.8 383.2 158.9 375.8 170 383.2 181 375.8 192.1 383.2 203.2 375.8 214.2 383.2 225.3 375.8 236.4 383.2 247.4 375.8 258.5 383.2 269.6 375.8 280.6 383.2 291.7 375.8"/><path pathLength="20" d="M70.9 391.2 81.4 383.2 93 391.2 103.6 383.2 115.1 391.2 125.7 383.2 137.3 391.2 147.8 383.2 159.4 391.2 170 383.2 181.5 391.2 192.1 383.2 203.7 391.2 214.2 383.2 225.8 391.2 236.4 383.2 247.9 391.2 258.5 383.2 270.1 391.2 280.6 383.2 292.2 391.2"/><path pathLength="20" d="M71.8 373.4 82.7 380.4 93.7 373.4 104.6 380.4 115.6 373.4 126.5 380.4 137.5 373.4 148.4 380.4 159.4 373.4 170.3 380.4 181.3 373.4 192.2 380.4 203.2 373.4 214.1 380.4 225.1 373.4 236 380.4 247 373.4 257.9 380.4 268.9 373.4 279.8 380.4 290.8 373.4"/><path pathLength="20" d="M72.3 387.9 82.7 380.4 94.2 387.9 104.6 380.4 116.1 387.9 126.5 380.4 138 387.9 148.4 380.4 159.9 387.9 170.3 380.4 181.8 387.9 192.2 380.4 203.7 387.9 214.1 380.4 225.6 387.9 236 380.4 247.5 387.9 257.9 380.4 269.4 387.9 279.8 380.4 291.3 387.9"/><path pathLength="20" d="M73.2 371 84 377.6 94.8 371 105.7 377.6 116.5 371 127.3 377.6 138.2 371 149 377.6 159.9 371 170.7 377.6 181.5 371 192.3 377.6 203.2 371 214 377.6 224.8 371 235.7 377.6 246.5 371 257.4 377.6 268.2 371 279 377.6 289.9 371"/><path pathLength="20" d="M73.7 384.6 84 377.6 95.3 384.6 105.7 377.6 117 384.6 127.3 377.6 138.7 384.6 149 377.6 160.4 384.6 170.7 377.6 182 384.6 192.3 377.6 203.7 384.6 214 377.6 225.3 384.6 235.7 377.6 247 384.6 257.4 377.6 268.7 384.6 279 377.6 290.4 384.6"/><path pathLength="20" d="M74.6 368.5 85.3 374.8 96 368.5 106.7 374.8 117.5 368.5 128.2 374.8 138.9 368.5 149.6 374.8 160.3 368.5 171 374.8 181.8 368.5 192.5 374.8 203.2 368.5 213.9 374.8 224.6 368.5 235.3 374.8 246.1 368.5 256.8 374.8 267.5 368.5 278.2 374.8 288.9 368.5"/><path pathLength="20" d="M75.1 381.3 85.3 374.8 96.5 381.3 106.7 374.8 118 381.3 128.2 374.8 139.4 381.3 149.6 374.8 160.8 381.3 171 374.8 182.3 381.3 192.5 374.8 203.7 381.3 213.9 374.8 225.1 381.3 235.3 374.8 246.6 381.3 256.8 374.8 268 381.3 278.2 374.8 289.4 381.3"/><path pathLength="20" d="M76 366.1 86.6 372 97.2 366.1 107.8 372 118.4 366.1 129 372 139.6 366.1 150.2 372 160.8 366.1 171.4 372 182 366.1 192.6 372 203.2 366.1 213.8 372 224.4 366.1 235 372 245.6 366.1 256.2 372 266.8 366.1 277.4 372 288 366.1"/><path pathLength="20" d="M76.5 378 86.6 372 97.7 378 107.8 372 118.9 378 129 372 140.1 378 150.2 372 161.3 378 171.4 372 182.5 378 192.6 372 203.7 378 213.8 372 224.9 378 235 372 246.1 378 256.2 372 267.3 378 277.4 372 288.5 378"/></g><path d="M86.6 372L71.1 405.5M107.8 372L95.1 405.5M129 372L119.1 405.5M150.2 372L143.1 405.5M171.4 372L167.1 405.5M192.6 372L191.1 405.5M213.8 372L215.1 405.5M235 372L239.1 405.5M256.2 372L263.1 405.5M277.4 372L287.1 405.5" stroke="#d3ab68" stroke-width="4.7" stroke-linecap="round" fill="none"/><path d="M78.8 388.8L71.1 405.5M101.4 388.8L95.1 405.5M124 388.8L119.1 405.5M146.6 388.8L143.1 405.5M169.2 388.8L167.1 405.5M191.8 388.8L191.1 405.5M214.4 388.8L215.1 405.5M237.1 388.8L239.1 405.5M259.6 388.8L263.1 405.5M282.2 388.8L287.1 405.5" stroke="#d3ab68" stroke-width="5.7" stroke-linecap="round" fill="none"/><path d="M86.6 372L71.1 405.5M107.8 372L95.1 405.5M129 372L119.1 405.5M150.2 372L143.1 405.5M171.4 372L167.1 405.5M192.6 372L191.1 405.5M213.8 372L215.1 405.5M235 372L239.1 405.5M256.2 372L263.1 405.5M277.4 372L287.1 405.5" stroke="#e6c488" stroke-width="3.7" stroke-linecap="round" fill="none"/><path d="M78.8 388.8L71.1 405.5M101.4 388.8L95.1 405.5M124 388.8L119.1 405.5M146.6 388.8L143.1 405.5M169.2 388.8L167.1 405.5M191.8 388.8L191.1 405.5M214.4 388.8L215.1 405.5M237.1 388.8L239.1 405.5M259.6 388.8L263.1 405.5M282.2 388.8L287.1 405.5" stroke="#e6c488" stroke-width="4.7" stroke-linecap="round" fill="none"/><circle cx="71.1" cy="405.5" r="2.8" fill="url(#gC)"/><circle cx="95.1" cy="405.5" r="2.8" fill="url(#gC)"/><circle cx="119.1" cy="405.5" r="2.8" fill="url(#gC)"/><circle cx="143.1" cy="405.5" r="2.8" fill="url(#gC)"/><circle cx="167.1" cy="405.5" r="2.8" fill="url(#gC)"/><circle cx="191.1" cy="405.5" r="2.8" fill="url(#gC)"/><circle cx="215.1" cy="405.5" r="2.8" fill="url(#gC)"/><circle cx="239.1" cy="405.5" r="2.8" fill="url(#gC)"/><circle cx="263.1" cy="405.5" r="2.8" fill="url(#gC)"/><circle cx="287.1" cy="405.5" r="2.8" fill="url(#gC)"/><circle cx="59.6" cy="417.5" r="3.8" fill="url(#gV)"/><circle cx="83.6" cy="417.5" r="3.8" fill="url(#gV)"/><circle cx="107.6" cy="417.5" r="3.8" fill="url(#gV)"/><circle cx="131.6" cy="417.5" r="3.8" fill="url(#gV)"/><circle cx="155.6" cy="417.5" r="3.8" fill="url(#gV)"/><circle cx="179.6" cy="417.5" r="3.8" fill="url(#gV)"/><circle cx="203.6" cy="417.5" r="3.8" fill="url(#gV)"/><circle cx="227.6" cy="417.5" r="3.8" fill="url(#gV)"/><circle cx="251.6" cy="417.5" r="3.8" fill="url(#gV)"/><circle cx="275.6" cy="417.5" r="3.8" fill="url(#gV)"/><circle cx="299.6" cy="417.5" r="3.8" fill="url(#gV)"/><path d="M76 366.1L59.1 395.2M97.2 366.1L83.1 395.2M118.4 366.1L107.1 395.2M139.6 366.1L131.1 395.2M160.8 366.1L155.1 395.2M182 366.1L179.1 395.2M203.2 366.1L203.1 395.2M224.4 366.1L227.1 395.2M245.6 366.1L251.1 395.2M266.8 366.1L275.1 395.2M288 366.1L299.1 395.2" stroke="#6a93dc" stroke-width="6.4" stroke-linecap="round" fill="none"/><path d="M67.5 380.6L59.1 395.2M90.2 380.6L83.1 395.2M112.8 380.6L107.1 395.2M135.3 380.6L131.1 395.2M157.9 380.6L155.1 395.2M180.6 380.6L179.1 395.2M203.1 380.6L203.1 395.2M225.8 380.6L227.1 395.2M248.3 380.6L251.1 395.2M270.9 380.6L275.1 395.2M293.6 380.6L299.1 395.2" stroke="#6a93dc" stroke-width="7.5" stroke-linecap="round" fill="none"/><path d="M76 366.1L59.1 395.2M97.2 366.1L83.1 395.2M118.4 366.1L107.1 395.2M139.6 366.1L131.1 395.2M160.8 366.1L155.1 395.2M182 366.1L179.1 395.2M203.2 366.1L203.1 395.2M224.4 366.1L227.1 395.2M245.6 366.1L251.1 395.2M266.8 366.1L275.1 395.2M288 366.1L299.1 395.2" stroke="#86aeec" stroke-width="5.4" stroke-linecap="round" fill="none"/><path d="M67.5 380.6L59.1 395.2M90.2 380.6L83.1 395.2M112.8 380.6L107.1 395.2M135.3 380.6L131.1 395.2M157.9 380.6L155.1 395.2M180.6 380.6L179.1 395.2M203.1 380.6L203.1 395.2M225.8 380.6L227.1 395.2M248.3 380.6L251.1 395.2M270.9 380.6L275.1 395.2M293.6 380.6L299.1 395.2" stroke="#86aeec" stroke-width="6.5" stroke-linecap="round" fill="none"/><path d="M75.4 365.3L58.5 394.4M96.6 365.3L82.5 394.4M117.8 365.3L106.5 394.4M139 365.3L130.5 394.4M160.2 365.3L154.5 394.4M181.4 365.3L178.5 394.4M202.6 365.3L202.5 394.4M223.8 365.3L226.5 394.4M245 365.3L250.5 394.4M266.2 365.3L274.5 394.4M287.4 365.3L298.5 394.4" stroke="#b3d0fa" stroke-width="3.5" stroke-linecap="round" stroke-dasharray="0.1 4" fill="none"/><circle cx="59.1" cy="395.2" r="3.8" fill="url(#gV)"/><circle cx="83.1" cy="395.2" r="3.8" fill="url(#gV)"/><circle cx="107.1" cy="395.2" r="3.8" fill="url(#gV)"/><circle cx="131.1" cy="395.2" r="3.8" fill="url(#gV)"/><circle cx="155.1" cy="395.2" r="3.8" fill="url(#gV)"/><circle cx="179.1" cy="395.2" r="3.8" fill="url(#gV)"/><circle cx="203.1" cy="395.2" r="3.8" fill="url(#gV)"/><circle cx="227.1" cy="395.2" r="3.8" fill="url(#gV)"/><circle cx="251.1" cy="395.2" r="3.8" fill="url(#gV)"/><circle cx="275.1" cy="395.2" r="3.8" fill="url(#gV)"/><circle cx="299.1" cy="395.2" r="3.8" fill="url(#gV)"/><path d="M83 329.5L53 361M97.6 329.5L71.8 361M112.2 329.5L90.6 361M126.8 329.5L109.4 361M141.4 329.5L128.2 361M156 329.5L147 361M170.6 329.5L165.8 361M185.2 329.5L184.6 361M199.8 329.5L203.4 361M214.4 329.5L222.2 361M229 329.5L241 361M243.6 329.5L259.8 361M258.2 329.5L278.6 361M272.8 329.5L297.4 361" stroke="#22a897" stroke-width="9.5" stroke-linecap="round" fill="none"/><path d="M68 345.2L53 361M84.7 345.2L71.8 361M101.4 345.2L90.6 361M118.1 345.2L109.4 361M134.8 345.2L128.2 361M151.5 345.2L147 361M168.2 345.2L165.8 361M184.9 345.2L184.6 361M201.6 345.2L203.4 361M218.3 345.2L222.2 361M235 345.2L241 361M251.7 345.2L259.8 361M268.4 345.2L278.6 361M285.1 345.2L297.4 361" stroke="#22a897" stroke-width="11.6" stroke-linecap="round" fill="none"/><path d="M83 329.5L53 361M97.6 329.5L71.8 361M112.2 329.5L90.6 361M126.8 329.5L109.4 361M141.4 329.5L128.2 361M156 329.5L147 361M170.6 329.5L165.8 361M185.2 329.5L184.6 361M199.8 329.5L203.4 361M214.4 329.5L222.2 361M229 329.5L241 361M243.6 329.5L259.8 361M258.2 329.5L278.6 361M272.8 329.5L297.4 361" stroke="#35c8b6" stroke-width="8.5" stroke-linecap="round" fill="none"/><path d="M68 345.2L53 361M84.7 345.2L71.8 361M101.4 345.2L90.6 361M118.1 345.2L109.4 361M134.8 345.2L128.2 361M151.5 345.2L147 361M168.2 345.2L165.8 361M184.9 345.2L184.6 361M201.6 345.2L203.4 361M218.3 345.2L222.2 361M235 345.2L241 361M251.7 345.2L259.8 361M268.4 345.2L278.6 361M285.1 345.2L297.4 361" stroke="#35c8b6" stroke-width="10.6" stroke-linecap="round" fill="none"/><path d="M82.4 328.7L52.4 360.2M97 328.7L71.2 360.2M111.6 328.7L90 360.2M126.2 328.7L108.8 360.2M140.8 328.7L127.6 360.2M155.4 328.7L146.4 360.2M170 328.7L165.2 360.2M184.6 328.7L184 360.2M199.2 328.7L202.8 360.2M213.8 328.7L221.6 360.2M228.4 328.7L240.4 360.2M243 328.7L259.2 360.2M257.6 328.7L278 360.2M272.2 328.7L296.8 360.2" stroke="#86ecde" stroke-width="5.2" stroke-linecap="round" stroke-dasharray="0.1 5.9" fill="none"/><circle cx="53" cy="361" r="6.2" fill="url(#gAl)"/><circle cx="71.8" cy="361" r="6.2" fill="url(#gAl)"/><circle cx="90.6" cy="361" r="6.2" fill="url(#gAl)"/><circle cx="109.4" cy="361" r="6.2" fill="url(#gAl)"/><circle cx="128.2" cy="361" r="6.2" fill="url(#gAl)"/><circle cx="147" cy="361" r="6.2" fill="url(#gAl)"/><circle cx="165.8" cy="361" r="6.2" fill="url(#gAl)"/><circle cx="184.6" cy="361" r="6.2" fill="url(#gAl)"/><circle cx="203.4" cy="361" r="6.2" fill="url(#gAl)"/><circle cx="222.2" cy="361" r="6.2" fill="url(#gAl)"/><circle cx="241" cy="361" r="6.2" fill="url(#gAl)"/><circle cx="259.8" cy="361" r="6.2" fill="url(#gAl)"/><circle cx="278.6" cy="361" r="6.2" fill="url(#gAl)"/><circle cx="297.4" cy="361" r="6.2" fill="url(#gAl)"/><path d="M82.5 300.5L49.3 328.5M102.8 300.5L75.1 328.5M123.1 300.5L101 328.5M143.4 300.5L126.8 328.5M163.7 300.5L152.7 328.5M184 300.5L178.5 328.5M204.3 300.5L204.3 328.5M224.6 300.5L230.2 328.5M244.9 300.5L256 328.5M265.2 300.5L281.9 328.5M285.5 300.5L307.7 328.5" stroke="#6a93dc" stroke-width="7" stroke-linecap="round" fill="none"/><path d="M65.9 314.5L49.3 328.5M89 314.5L75.1 328.5M112 314.5L101 328.5M135.1 314.5L126.8 328.5M158.2 314.5L152.7 328.5M181.2 314.5L178.5 328.5M204.3 314.5L204.3 328.5M227.4 314.5L230.2 328.5M250.5 314.5L256 328.5M273.5 314.5L281.9 328.5M296.6 314.5L307.7 328.5" stroke="#6a93dc" stroke-width="8.6" stroke-linecap="round" fill="none"/><path d="M82.5 300.5L49.3 328.5M102.8 300.5L75.1 328.5M123.1 300.5L101 328.5M143.4 300.5L126.8 328.5M163.7 300.5L152.7 328.5M184 300.5L178.5 328.5M204.3 300.5L204.3 328.5M224.6 300.5L230.2 328.5M244.9 300.5L256 328.5M265.2 300.5L281.9 328.5M285.5 300.5L307.7 328.5" stroke="#86aeec" stroke-width="6" stroke-linecap="round" fill="none"/><path d="M65.9 314.5L49.3 328.5M89 314.5L75.1 328.5M112 314.5L101 328.5M135.1 314.5L126.8 328.5M158.2 314.5L152.7 328.5M181.2 314.5L178.5 328.5M204.3 314.5L204.3 328.5M227.4 314.5L230.2 328.5M250.5 314.5L256 328.5M273.5 314.5L281.9 328.5M296.6 314.5L307.7 328.5" stroke="#86aeec" stroke-width="7.6" stroke-linecap="round" fill="none"/><path d="M81.9 299.7L48.7 327.7M102.2 299.7L74.5 327.7M122.5 299.7L100.4 327.7M142.8 299.7L126.2 327.7M163.1 299.7L152.1 327.7M183.4 299.7L177.9 327.7M203.7 299.7L203.7 327.7M224 299.7L229.6 327.7M244.3 299.7L255.4 327.7M264.6 299.7L281.3 327.7M284.9 299.7L307.1 327.7" stroke="#b3d0fa" stroke-width="3.9" stroke-linecap="round" stroke-dasharray="0.1 4.4" fill="none"/><path d="M48.8 302.8 61.7 315.6 74.6 302.8 87.6 315.6 100.5 302.8 113.4 315.6 126.3 302.8 139.2 315.6 152.2 302.8 165.1 315.6 178 302.8 190.9 315.6 203.8 302.8 216.8 315.6 229.7 302.8 242.6 315.6 255.5 302.8 268.4 315.6 281.4 302.8 294.3 315.6 307.2 302.8M49.3 328.5 61.7 315.6 75.1 328.5 87.6 315.6 101 328.5 113.4 315.6 126.8 328.5 139.2 315.6 152.7 328.5 165.1 315.6 178.5 328.5 190.9 315.6 204.3 328.5 216.8 315.6 230.2 328.5 242.6 315.6 256 328.5 268.4 315.6 281.9 328.5 294.3 315.6 307.7 328.5M52.5 300.5 65.1 313 77.7 300.5 90.3 313 102.9 300.5 115.5 313 128.2 300.5 140.8 313 153.4 300.5 166 313 178.6 300.5 191.2 313 203.8 300.5 216.4 313 229.1 300.5 241.7 313 254.3 300.5 266.9 313 279.5 300.5 292.1 313 304.7 300.5M53 325.4 65.1 313 78.2 325.4 90.3 313 103.4 325.4 115.5 313 128.7 325.4 140.8 313 153.9 325.4 166 313 179.1 325.4 191.2 313 204.3 325.4 216.4 313 229.6 325.4 241.7 313 254.8 325.4 266.9 313 280 325.4 292.1 313 305.2 325.4M56.2 298.2 68.5 310.4 80.8 298.2 93.1 310.4 105.4 298.2 117.7 310.4 130 298.2 142.3 310.4 154.6 298.2 166.9 310.4 179.2 298.2 191.5 310.4 203.8 298.2 216.1 310.4 228.4 298.2 240.7 310.4 253 298.2 265.4 310.4 277.7 298.2 290 310.4 302.3 298.2M56.7 322.3 68.5 310.4 81.3 322.3 93.1 310.4 105.9 322.3 117.7 310.4 130.5 322.3 142.3 310.4 155.1 322.3 166.9 310.4 179.7 322.3 191.5 310.4 204.3 322.3 216.1 310.4 228.9 322.3 240.7 310.4 253.5 322.3 265.4 310.4 278.2 322.3 290 310.4 302.8 322.3M59.9 295.9 71.9 307.7 83.9 295.9 95.9 307.7 107.9 295.9 119.8 307.7 131.8 295.9 143.8 307.7 155.8 295.9 167.8 307.7 179.8 295.9 191.8 307.7 203.8 295.9 215.8 307.7 227.8 295.9 239.8 307.7 251.8 295.9 263.8 307.7 275.8 295.9 287.8 307.7 299.8 295.9M60.4 319.2 71.9 307.7 84.4 319.2 95.9 307.7 108.4 319.2 119.8 307.7 132.3 319.2 143.8 307.7 156.3 319.2 167.8 307.7 180.3 319.2 191.8 307.7 204.3 319.2 215.8 307.7 228.3 319.2 239.8 307.7 252.3 319.2 263.8 307.7 276.3 319.2 287.8 307.7 300.3 319.2M63.6 293.6 75.2 305.1 86.9 293.6 98.6 305.1 110.3 293.6 122 305.1 133.7 293.6 145.4 305.1 157.1 293.6 168.8 305.1 180.4 293.6 192.1 305.1 203.8 293.6 215.5 305.1 227.2 293.6 238.9 305.1 250.6 293.6 262.3 305.1 274 293.6 285.6 305.1 297.3 293.6M64.1 316.1 75.2 305.1 87.4 316.1 98.6 305.1 110.8 316.1 122 305.1 134.2 316.1 145.4 305.1 157.6 316.1 168.8 305.1 180.9 316.1 192.1 305.1 204.3 316.1 215.5 305.1 227.7 316.1 238.9 305.1 251.1 316.1 262.3 305.1 274.5 316.1 285.6 305.1 297.8 316.1M67.2 291.4 78.6 302.5 90 291.4 101.4 302.5 112.8 291.4 124.1 302.5 135.5 291.4 146.9 302.5 158.3 291.4 169.7 302.5 181.1 291.4 192.4 302.5 203.8 291.4 215.2 302.5 226.6 291.4 238 302.5 249.3 291.4 260.7 302.5 272.1 291.4 283.5 302.5 294.9 291.4M67.7 312.9 78.6 302.5 90.5 312.9 101.4 302.5 113.3 312.9 124.1 302.5 136 312.9 146.9 302.5 158.8 312.9 169.7 302.5 181.6 312.9 192.4 302.5 204.3 312.9 215.2 302.5 227.1 312.9 238 302.5 249.8 312.9 260.7 302.5 272.6 312.9 283.5 302.5 295.4 312.9M70.9 289.1 82 299.9 93.1 289.1 104.2 299.9 115.2 289.1 126.3 299.9 137.4 289.1 148.4 299.9 159.5 289.1 170.6 299.9 181.7 289.1 192.7 299.9 203.8 289.1 214.9 299.9 226 289.1 237 299.9 248.1 289.1 259.2 299.9 270.3 289.1 281.3 299.9 292.4 289.1M71.4 309.8 82 299.9 93.6 309.8 104.2 299.9 115.7 309.8 126.3 299.9 137.9 309.8 148.4 299.9 160 309.8 170.6 299.9 182.2 309.8 192.7 299.9 204.3 309.8 214.9 299.9 226.5 309.8 237 299.9 248.6 309.8 259.2 299.9 270.8 309.8 281.3 299.9 292.9 309.8M74.6 286.8 85.4 297.2 96.2 286.8 106.9 297.2 117.7 286.8 128.4 297.2 139.2 286.8 150 297.2 160.7 286.8 171.5 297.2 182.3 286.8 193 297.2 203.8 286.8 214.6 297.2 225.3 286.8 236.1 297.2 246.9 286.8 257.6 297.2 268.4 286.8 279.2 297.2 289.9 286.8M75.1 306.7 85.4 297.2 96.7 306.7 106.9 297.2 118.2 306.7 128.4 297.2 139.7 306.7 150 297.2 161.2 306.7 171.5 297.2 182.8 306.7 193 297.2 204.3 306.7 214.6 297.2 225.8 306.7 236.1 297.2 247.4 306.7 257.6 297.2 268.9 306.7 279.2 297.2 290.4 306.7M78.3 284.5 88.8 294.6 99.2 284.5 109.7 294.6 120.1 284.5 130.6 294.6 141.1 284.5 151.5 294.6 162 284.5 172.4 294.6 182.9 284.5 193.3 294.6 203.8 284.5 214.3 294.6 224.7 284.5 235.2 294.6 245.6 284.5 256.1 294.6 266.6 284.5 277 294.6 287.5 284.5M78.8 303.6 88.8 294.6 99.7 303.6 109.7 294.6 120.6 303.6 130.6 294.6 141.6 303.6 151.5 294.6 162.5 303.6 172.4 294.6 183.4 303.6 193.3 294.6 204.3 303.6 214.3 294.6 225.2 303.6 235.2 294.6 246.1 303.6 256.1 294.6 267.1 303.6 277 294.6 288 303.6M82 282.2 92.2 292 102.3 282.2 112.5 292 122.6 282.2 132.8 292 142.9 282.2 153.1 292 163.2 282.2 173.4 292 183.5 282.2 193.7 292 203.8 282.2 214 292 224.1 282.2 234.2 292 244.4 282.2 254.6 292 264.7 282.2 274.9 292 285 282.2M82.5 300.5 92.2 292 102.8 300.5 112.5 292 123.1 300.5 132.8 292 143.4 300.5 153.1 292 163.7 300.5 173.4 292 184 300.5 193.7 292 204.3 300.5 214 292 224.6 300.5 234.2 292 244.9 300.5 254.6 292 265.2 300.5 274.9 292 285.5 300.5" stroke="#8db3ee" stroke-width="1.5" fill="none" stroke-linejoin="round"/><g stroke="#e2be80" stroke-width="1.7" fill="none" stroke-dasharray="0 0.5 1 0.5"><path pathLength="20" d="M48.8 302.8 61.7 315.6 74.6 302.8 87.6 315.6 100.5 302.8 113.4 315.6 126.3 302.8 139.2 315.6 152.2 302.8 165.1 315.6 178 302.8 190.9 315.6 203.8 302.8 216.8 315.6 229.7 302.8 242.6 315.6 255.5 302.8 268.4 315.6 281.4 302.8 294.3 315.6 307.2 302.8"/><path pathLength="20" d="M49.3 328.5 61.7 315.6 75.1 328.5 87.6 315.6 101 328.5 113.4 315.6 126.8 328.5 139.2 315.6 152.7 328.5 165.1 315.6 178.5 328.5 190.9 315.6 204.3 328.5 216.8 315.6 230.2 328.5 242.6 315.6 256 328.5 268.4 315.6 281.9 328.5 294.3 315.6 307.7 328.5"/><path pathLength="20" d="M52.5 300.5 65.1 313 77.7 300.5 90.3 313 102.9 300.5 115.5 313 128.2 300.5 140.8 313 153.4 300.5 166 313 178.6 300.5 191.2 313 203.8 300.5 216.4 313 229.1 300.5 241.7 313 254.3 300.5 266.9 313 279.5 300.5 292.1 313 304.7 300.5"/><path pathLength="20" d="M53 325.4 65.1 313 78.2 325.4 90.3 313 103.4 325.4 115.5 313 128.7 325.4 140.8 313 153.9 325.4 166 313 179.1 325.4 191.2 313 204.3 325.4 216.4 313 229.6 325.4 241.7 313 254.8 325.4 266.9 313 280 325.4 292.1 313 305.2 325.4"/><path pathLength="20" d="M56.2 298.2 68.5 310.4 80.8 298.2 93.1 310.4 105.4 298.2 117.7 310.4 130 298.2 142.3 310.4 154.6 298.2 166.9 310.4 179.2 298.2 191.5 310.4 203.8 298.2 216.1 310.4 228.4 298.2 240.7 310.4 253 298.2 265.4 310.4 277.7 298.2 290 310.4 302.3 298.2"/><path pathLength="20" d="M56.7 322.3 68.5 310.4 81.3 322.3 93.1 310.4 105.9 322.3 117.7 310.4 130.5 322.3 142.3 310.4 155.1 322.3 166.9 310.4 179.7 322.3 191.5 310.4 204.3 322.3 216.1 310.4 228.9 322.3 240.7 310.4 253.5 322.3 265.4 310.4 278.2 322.3 290 310.4 302.8 322.3"/><path pathLength="20" d="M59.9 295.9 71.9 307.7 83.9 295.9 95.9 307.7 107.9 295.9 119.8 307.7 131.8 295.9 143.8 307.7 155.8 295.9 167.8 307.7 179.8 295.9 191.8 307.7 203.8 295.9 215.8 307.7 227.8 295.9 239.8 307.7 251.8 295.9 263.8 307.7 275.8 295.9 287.8 307.7 299.8 295.9"/><path pathLength="20" d="M60.4 319.2 71.9 307.7 84.4 319.2 95.9 307.7 108.4 319.2 119.8 307.7 132.3 319.2 143.8 307.7 156.3 319.2 167.8 307.7 180.3 319.2 191.8 307.7 204.3 319.2 215.8 307.7 228.3 319.2 239.8 307.7 252.3 319.2 263.8 307.7 276.3 319.2 287.8 307.7 300.3 319.2"/><path pathLength="20" d="M63.6 293.6 75.2 305.1 86.9 293.6 98.6 305.1 110.3 293.6 122 305.1 133.7 293.6 145.4 305.1 157.1 293.6 168.8 305.1 180.4 293.6 192.1 305.1 203.8 293.6 215.5 305.1 227.2 293.6 238.9 305.1 250.6 293.6 262.3 305.1 274 293.6 285.6 305.1 297.3 293.6"/><path pathLength="20" d="M64.1 316.1 75.2 305.1 87.4 316.1 98.6 305.1 110.8 316.1 122 305.1 134.2 316.1 145.4 305.1 157.6 316.1 168.8 305.1 180.9 316.1 192.1 305.1 204.3 316.1 215.5 305.1 227.7 316.1 238.9 305.1 251.1 316.1 262.3 305.1 274.5 316.1 285.6 305.1 297.8 316.1"/><path pathLength="20" d="M67.2 291.4 78.6 302.5 90 291.4 101.4 302.5 112.8 291.4 124.1 302.5 135.5 291.4 146.9 302.5 158.3 291.4 169.7 302.5 181.1 291.4 192.4 302.5 203.8 291.4 215.2 302.5 226.6 291.4 238 302.5 249.3 291.4 260.7 302.5 272.1 291.4 283.5 302.5 294.9 291.4"/><path pathLength="20" d="M67.7 312.9 78.6 302.5 90.5 312.9 101.4 302.5 113.3 312.9 124.1 302.5 136 312.9 146.9 302.5 158.8 312.9 169.7 302.5 181.6 312.9 192.4 302.5 204.3 312.9 215.2 302.5 227.1 312.9 238 302.5 249.8 312.9 260.7 302.5 272.6 312.9 283.5 302.5 295.4 312.9"/><path pathLength="20" d="M70.9 289.1 82 299.9 93.1 289.1 104.2 299.9 115.2 289.1 126.3 299.9 137.4 289.1 148.4 299.9 159.5 289.1 170.6 299.9 181.7 289.1 192.7 299.9 203.8 289.1 214.9 299.9 226 289.1 237 299.9 248.1 289.1 259.2 299.9 270.3 289.1 281.3 299.9 292.4 289.1"/><path pathLength="20" d="M71.4 309.8 82 299.9 93.6 309.8 104.2 299.9 115.7 309.8 126.3 299.9 137.9 309.8 148.4 299.9 160 309.8 170.6 299.9 182.2 309.8 192.7 299.9 204.3 309.8 214.9 299.9 226.5 309.8 237 299.9 248.6 309.8 259.2 299.9 270.8 309.8 281.3 299.9 292.9 309.8"/><path pathLength="20" d="M74.6 286.8 85.4 297.2 96.2 286.8 106.9 297.2 117.7 286.8 128.4 297.2 139.2 286.8 150 297.2 160.7 286.8 171.5 297.2 182.3 286.8 193 297.2 203.8 286.8 214.6 297.2 225.3 286.8 236.1 297.2 246.9 286.8 257.6 297.2 268.4 286.8 279.2 297.2 289.9 286.8"/><path pathLength="20" d="M75.1 306.7 85.4 297.2 96.7 306.7 106.9 297.2 118.2 306.7 128.4 297.2 139.7 306.7 150 297.2 161.2 306.7 171.5 297.2 182.8 306.7 193 297.2 204.3 306.7 214.6 297.2 225.8 306.7 236.1 297.2 247.4 306.7 257.6 297.2 268.9 306.7 279.2 297.2 290.4 306.7"/><path pathLength="20" d="M78.3 284.5 88.8 294.6 99.2 284.5 109.7 294.6 120.1 284.5 130.6 294.6 141.1 284.5 151.5 294.6 162 284.5 172.4 294.6 182.9 284.5 193.3 294.6 203.8 284.5 214.3 294.6 224.7 284.5 235.2 294.6 245.6 284.5 256.1 294.6 266.6 284.5 277 294.6 287.5 284.5"/><path pathLength="20" d="M78.8 303.6 88.8 294.6 99.7 303.6 109.7 294.6 120.6 303.6 130.6 294.6 141.6 303.6 151.5 294.6 162.5 303.6 172.4 294.6 183.4 303.6 193.3 294.6 204.3 303.6 214.3 294.6 225.2 303.6 235.2 294.6 246.1 303.6 256.1 294.6 267.1 303.6 277 294.6 288 303.6"/><path pathLength="20" d="M82 282.2 92.2 292 102.3 282.2 112.5 292 122.6 282.2 132.8 292 142.9 282.2 153.1 292 163.2 282.2 173.4 292 183.5 282.2 193.7 292 203.8 282.2 214 292 224.1 282.2 234.2 292 244.4 282.2 254.6 292 264.7 282.2 274.9 292 285 282.2"/><path pathLength="20" d="M82.5 300.5 92.2 292 102.8 300.5 112.5 292 123.1 300.5 132.8 292 143.4 300.5 153.1 292 163.7 300.5 173.4 292 184 300.5 193.7 292 204.3 300.5 214 292 224.6 300.5 234.2 292 244.9 300.5 254.6 292 265.2 300.5 274.9 292 285.5 300.5"/></g><path d="M92.2 292L61.7 315.6M112.5 292L87.6 315.6M132.8 292L113.4 315.6M153.1 292L139.2 315.6M173.4 292L165.1 315.6M193.7 292L190.9 315.6M214 292L216.8 315.6M234.2 292L242.6 315.6M254.6 292L268.4 315.6M274.9 292L294.3 315.6" stroke="#d3ab68" stroke-width="5.1" stroke-linecap="round" fill="none"/><path d="M76.9 303.8L61.7 315.6M100 303.8L87.6 315.6M123.1 303.8L113.4 315.6M146.1 303.8L139.2 315.6M169.2 303.8L165.1 315.6M192.3 303.8L190.9 315.6M215.4 303.8L216.8 315.6M238.4 303.8L242.6 315.6M261.5 303.8L268.4 315.6M284.6 303.8L294.3 315.6" stroke="#d3ab68" stroke-width="6.4" stroke-linecap="round" fill="none"/><path d="M92.2 292L61.7 315.6M112.5 292L87.6 315.6M132.8 292L113.4 315.6M153.1 292L139.2 315.6M173.4 292L165.1 315.6M193.7 292L190.9 315.6M214 292L216.8 315.6M234.2 292L242.6 315.6M254.6 292L268.4 315.6M274.9 292L294.3 315.6" stroke="#e6c488" stroke-width="4.1" stroke-linecap="round" fill="none"/><path d="M76.9 303.8L61.7 315.6M100 303.8L87.6 315.6M123.1 303.8L113.4 315.6M146.1 303.8L139.2 315.6M169.2 303.8L165.1 315.6M192.3 303.8L190.9 315.6M215.4 303.8L216.8 315.6M238.4 303.8L242.6 315.6M261.5 303.8L268.4 315.6M284.6 303.8L294.3 315.6" stroke="#e6c488" stroke-width="5.4" stroke-linecap="round" fill="none"/><circle cx="61.7" cy="315.6" r="3.2" fill="url(#gC)"/><circle cx="87.6" cy="315.6" r="3.2" fill="url(#gC)"/><circle cx="113.4" cy="315.6" r="3.2" fill="url(#gC)"/><circle cx="139.2" cy="315.6" r="3.2" fill="url(#gC)"/><circle cx="165.1" cy="315.6" r="3.2" fill="url(#gC)"/><circle cx="190.9" cy="315.6" r="3.2" fill="url(#gC)"/><circle cx="216.8" cy="315.6" r="3.2" fill="url(#gC)"/><circle cx="242.6" cy="315.6" r="3.2" fill="url(#gC)"/><circle cx="268.4" cy="315.6" r="3.2" fill="url(#gC)"/><circle cx="294.3" cy="315.6" r="3.2" fill="url(#gC)"/><circle cx="49.3" cy="328.5" r="4.5" fill="url(#gV)"/><circle cx="75.1" cy="328.5" r="4.5" fill="url(#gV)"/><circle cx="101" cy="328.5" r="4.5" fill="url(#gV)"/><circle cx="126.8" cy="328.5" r="4.5" fill="url(#gV)"/><circle cx="152.7" cy="328.5" r="4.5" fill="url(#gV)"/><circle cx="178.5" cy="328.5" r="4.5" fill="url(#gV)"/><circle cx="204.3" cy="328.5" r="4.5" fill="url(#gV)"/><circle cx="230.2" cy="328.5" r="4.5" fill="url(#gV)"/><circle cx="256" cy="328.5" r="4.5" fill="url(#gV)"/><circle cx="281.9" cy="328.5" r="4.5" fill="url(#gV)"/><circle cx="307.7" cy="328.5" r="4.5" fill="url(#gV)"/><path d="M82 282.2L48.8 302.8M102.3 282.2L74.6 302.8M122.6 282.2L100.5 302.8M142.9 282.2L126.3 302.8M163.2 282.2L152.2 302.8M183.5 282.2L178 302.8M203.8 282.2L203.8 302.8M224.1 282.2L229.7 302.8M244.4 282.2L255.5 302.8M264.7 282.2L281.4 302.8M285 282.2L307.2 302.8" stroke="#6a93dc" stroke-width="8.6" stroke-linecap="round" fill="none"/><path d="M65.4 292.5L48.8 302.8M88.5 292.5L74.6 302.8M111.5 292.5L100.5 302.8M134.6 292.5L126.3 302.8M157.7 292.5L152.2 302.8M180.8 292.5L178 302.8M203.8 292.5L203.8 302.8M226.9 292.5L229.7 302.8M250 292.5L255.5 302.8M273 292.5L281.4 302.8M296.1 292.5L307.2 302.8" stroke="#6a93dc" stroke-width="10.4" stroke-linecap="round" fill="none"/><path d="M82 282.2L48.8 302.8M102.3 282.2L74.6 302.8M122.6 282.2L100.5 302.8M142.9 282.2L126.3 302.8M163.2 282.2L152.2 302.8M183.5 282.2L178 302.8M203.8 282.2L203.8 302.8M224.1 282.2L229.7 302.8M244.4 282.2L255.5 302.8M264.7 282.2L281.4 302.8M285 282.2L307.2 302.8" stroke="#86aeec" stroke-width="7.6" stroke-linecap="round" fill="none"/><path d="M65.4 292.5L48.8 302.8M88.5 292.5L74.6 302.8M111.5 292.5L100.5 302.8M134.6 292.5L126.3 302.8M157.7 292.5L152.2 302.8M180.8 292.5L178 302.8M203.8 292.5L203.8 302.8M226.9 292.5L229.7 302.8M250 292.5L255.5 302.8M273 292.5L281.4 302.8M296.1 292.5L307.2 302.8" stroke="#86aeec" stroke-width="9.4" stroke-linecap="round" fill="none"/><path d="M81.4 281.4L48.2 302M101.7 281.4L74 302M122 281.4L99.9 302M142.3 281.4L125.7 302M162.6 281.4L151.6 302M182.9 281.4L177.4 302M203.2 281.4L203.2 302M223.5 281.4L229.1 302M243.8 281.4L254.9 302M264.1 281.4L280.8 302M284.4 281.4L306.6 302" stroke="#b3d0fa" stroke-width="4.7" stroke-linecap="round" stroke-dasharray="0.1 5.3" fill="none"/><circle cx="48.8" cy="302.8" r="5.5" fill="url(#gV)"/><circle cx="74.6" cy="302.8" r="5.5" fill="url(#gV)"/><circle cx="100.5" cy="302.8" r="5.5" fill="url(#gV)"/><circle cx="126.3" cy="302.8" r="5.5" fill="url(#gV)"/><circle cx="152.2" cy="302.8" r="5.5" fill="url(#gV)"/><circle cx="178" cy="302.8" r="5.5" fill="url(#gV)"/><circle cx="203.8" cy="302.8" r="5.5" fill="url(#gV)"/><circle cx="229.7" cy="302.8" r="5.5" fill="url(#gV)"/><circle cx="255.5" cy="302.8" r="5.5" fill="url(#gV)"/><circle cx="281.4" cy="302.8" r="5.5" fill="url(#gV)"/><circle cx="307.2" cy="302.8" r="5.5" fill="url(#gV)"/>
<path d="M490.1 308.5L457.9 335.3M509.8 308.5L483.3 335.3M529.5 308.5L508.7 335.3M549.2 308.5L534.1 335.3M568.9 308.5L559.5 335.3M588.6 308.5L584.9 335.3M608.3 308.5L610.3 335.3M628 308.5L635.7 335.3M647.7 308.5L661.1 335.3M667.4 308.5L686.5 335.3M687.1 308.5L711.9 335.3" stroke="#6a93dc" stroke-width="7.4" stroke-linecap="round" fill="none"/><path d="M474 321.9L457.9 335.3M496.5 321.9L483.3 335.3M519.1 321.9L508.7 335.3M541.6 321.9L534.1 335.3M564.2 321.9L559.5 335.3M586.8 321.9L584.9 335.3M609.3 321.9L610.3 335.3M631.8 321.9L635.7 335.3M654.4 321.9L661.1 335.3M677 321.9L686.5 335.3M699.5 321.9L711.9 335.3" stroke="#6a93dc" stroke-width="9.1" stroke-linecap="round" fill="none"/><path d="M490.1 308.5L457.9 335.3M509.8 308.5L483.3 335.3M529.5 308.5L508.7 335.3M549.2 308.5L534.1 335.3M568.9 308.5L559.5 335.3M588.6 308.5L584.9 335.3M608.3 308.5L610.3 335.3M628 308.5L635.7 335.3M647.7 308.5L661.1 335.3M667.4 308.5L686.5 335.3M687.1 308.5L711.9 335.3" stroke="#86aeec" stroke-width="6.4" stroke-linecap="round" fill="none"/><path d="M474 321.9L457.9 335.3M496.5 321.9L483.3 335.3M519.1 321.9L508.7 335.3M541.6 321.9L534.1 335.3M564.2 321.9L559.5 335.3M586.8 321.9L584.9 335.3M609.3 321.9L610.3 335.3M631.8 321.9L635.7 335.3M654.4 321.9L661.1 335.3M677 321.9L686.5 335.3M699.5 321.9L711.9 335.3" stroke="#86aeec" stroke-width="8.1" stroke-linecap="round" fill="none"/><path d="M489.5 307.7L457.3 334.5M509.2 307.7L482.7 334.5M528.9 307.7L508.1 334.5M548.6 307.7L533.5 334.5M568.3 307.7L558.9 334.5M588 307.7L584.3 334.5M607.7 307.7L609.7 334.5M627.4 307.7L635.1 334.5M647.1 307.7L660.5 334.5M666.8 307.7L685.9 334.5M686.5 307.7L711.3 334.5" stroke="#b3d0fa" stroke-width="4.1" stroke-linecap="round" stroke-dasharray="0.1 4.6" fill="none"/><path d="M457.4 308.9 470.1 322.1 482.8 308.9 495.5 322.1 508.2 308.9 520.9 322.1 533.6 308.9 546.3 322.1 559 308.9 571.7 322.1 584.4 308.9 597.1 322.1 609.8 308.9 622.5 322.1 635.2 308.9 647.9 322.1 660.6 308.9 673.3 322.1 686 308.9 698.7 322.1 711.4 308.9M457.9 335.3 470.1 322.1 483.3 335.3 495.5 322.1 508.7 335.3 520.9 322.1 534.1 335.3 546.3 322.1 559.5 335.3 571.7 322.1 584.9 335.3 597.1 322.1 610.3 335.3 622.5 322.1 635.7 335.3 647.9 322.1 661.1 335.3 673.3 322.1 686.5 335.3 698.7 322.1 711.9 335.3M461 306.9 473.4 319.6 485.7 306.9 498.1 319.6 510.5 306.9 522.9 319.6 535.3 306.9 547.7 319.6 560 306.9 572.4 319.6 584.8 306.9 597.2 319.6 609.6 306.9 622 319.6 634.3 306.9 646.7 319.6 659.1 306.9 671.5 319.6 683.9 306.9 696.3 319.6 708.6 306.9M461.5 332.3 473.4 319.6 486.2 332.3 498.1 319.6 511 332.3 522.9 319.6 535.8 332.3 547.7 319.6 560.5 332.3 572.4 319.6 585.3 332.3 597.2 319.6 610.1 332.3 622 319.6 634.8 332.3 646.7 319.6 659.6 332.3 671.5 319.6 684.4 332.3 696.3 319.6 709.1 332.3M464.6 304.9 476.6 317.2 488.7 304.9 500.8 317.2 512.8 304.9 524.9 317.2 537 304.9 549 317.2 561.1 304.9 573.2 317.2 585.2 304.9 597.3 317.2 609.4 304.9 621.4 317.2 633.5 304.9 645.6 317.2 657.6 304.9 669.7 317.2 681.8 304.9 693.8 317.2 705.9 304.9M465.1 329.3 476.6 317.2 489.2 329.3 500.8 317.2 513.3 329.3 524.9 317.2 537.5 329.3 549 317.2 561.6 329.3 573.2 317.2 585.7 329.3 597.3 317.2 609.9 329.3 621.4 317.2 634 329.3 645.6 317.2 658.1 329.3 669.7 317.2 682.3 329.3 693.8 317.2 706.4 329.3M468.1 302.8 479.9 314.7 491.6 302.8 503.4 314.7 515.1 302.8 526.9 314.7 538.6 302.8 550.4 314.7 562.1 302.8 573.9 314.7 585.6 302.8 597.4 314.7 609.1 302.8 620.9 314.7 632.6 302.8 644.4 314.7 656.1 302.8 667.9 314.7 679.6 302.8 691.4 314.7 703.1 302.8M468.6 326.4 479.9 314.7 492.1 326.4 503.4 314.7 515.6 326.4 526.9 314.7 539.1 326.4 550.4 314.7 562.6 326.4 573.9 314.7 586.1 326.4 597.4 314.7 609.6 326.4 620.9 314.7 633.1 326.4 644.4 314.7 656.6 326.4 667.9 314.7 680.1 326.4 691.4 314.7 703.6 326.4M471.7 300.8 483.1 312.3 494.6 300.8 506 312.3 517.4 300.8 528.9 312.3 540.3 300.8 551.7 312.3 563.2 300.8 574.6 312.3 586 300.8 597.5 312.3 608.9 300.8 620.3 312.3 631.8 300.8 643.2 312.3 654.6 300.8 666.1 312.3 677.5 300.8 688.9 312.3 700.4 300.8M472.2 323.4 483.1 312.3 495.1 323.4 506 312.3 517.9 323.4 528.9 312.3 540.8 323.4 551.7 312.3 563.7 323.4 574.6 312.3 586.5 323.4 597.5 312.3 609.4 323.4 620.3 312.3 632.3 323.4 643.2 312.3 655.1 323.4 666.1 312.3 678 323.4 688.9 312.3 700.9 323.4M475.3 298.8 486.4 309.8 497.5 298.8 508.6 309.8 519.8 298.8 530.9 309.8 542 298.8 553.1 309.8 564.2 298.8 575.3 309.8 586.5 298.8 597.6 309.8 608.7 298.8 619.8 309.8 630.9 298.8 642 309.8 653.2 298.8 664.3 309.8 675.4 298.8 686.5 309.8 697.6 298.8M475.8 320.4 486.4 309.8 498 320.4 508.6 309.8 520.3 320.4 530.9 309.8 542.5 320.4 553.1 309.8 564.7 320.4 575.3 309.8 587 320.4 597.6 309.8 609.2 320.4 619.8 309.8 631.4 320.4 642 309.8 653.7 320.4 664.3 309.8 675.9 320.4 686.5 309.8 698.1 320.4M478.9 296.8 489.7 307.4 500.5 296.8 511.3 307.4 522.1 296.8 532.9 307.4 543.7 296.8 554.5 307.4 565.3 296.8 576.1 307.4 586.9 296.8 597.7 307.4 608.5 296.8 619.3 307.4 630.1 296.8 640.9 307.4 651.7 296.8 662.5 307.4 673.3 296.8 684.1 307.4 694.9 296.8M479.4 317.4 489.7 307.4 501 317.4 511.3 307.4 522.6 317.4 532.9 307.4 544.2 317.4 554.5 307.4 565.8 317.4 576.1 307.4 587.4 317.4 597.7 307.4 609 317.4 619.3 307.4 630.6 317.4 640.9 307.4 652.2 317.4 662.5 307.4 673.8 317.4 684.1 307.4 695.4 317.4M482.4 294.7 492.9 304.9 503.4 294.7 513.9 304.9 524.4 294.7 534.9 304.9 545.3 294.7 555.8 304.9 566.3 294.7 576.8 304.9 587.3 294.7 597.8 304.9 608.2 294.7 618.7 304.9 629.2 294.7 639.7 304.9 650.2 294.7 660.7 304.9 671.1 294.7 681.6 304.9 692.1 294.7M482.9 314.5 492.9 304.9 503.9 314.5 513.9 304.9 524.9 314.5 534.9 304.9 545.8 314.5 555.8 304.9 566.8 314.5 576.8 304.9 587.8 314.5 597.8 304.9 608.7 314.5 618.7 304.9 629.7 314.5 639.7 304.9 650.7 314.5 660.7 304.9 671.6 314.5 681.6 304.9 692.6 314.5M486 292.7 496.2 302.5 506.4 292.7 516.5 302.5 526.7 292.7 536.9 302.5 547 292.7 557.2 302.5 567.4 292.7 577.5 302.5 587.7 292.7 597.9 302.5 608 292.7 618.2 302.5 628.4 292.7 638.5 302.5 648.7 292.7 658.9 302.5 669 292.7 679.2 302.5 689.4 292.7M486.5 311.5 496.2 302.5 506.9 311.5 516.5 302.5 527.2 311.5 536.9 302.5 547.5 311.5 557.2 302.5 567.9 311.5 577.5 302.5 588.2 311.5 597.9 302.5 608.5 311.5 618.2 302.5 628.9 311.5 638.5 302.5 649.2 311.5 658.9 302.5 669.5 311.5 679.2 302.5 689.9 311.5M489.6 290.7 499.5 300 509.3 290.7 519.1 300 529 290.7 538.9 300 548.7 290.7 558.6 300 568.4 290.7 578.2 300 588.1 290.7 598 300 607.8 290.7 617.6 300 627.5 290.7 637.4 300 647.2 290.7 657 300 666.9 290.7 676.8 300 686.6 290.7M490.1 308.5 499.5 300 509.8 308.5 519.1 300 529.5 308.5 538.9 300 549.2 308.5 558.6 300 568.9 308.5 578.2 300 588.6 308.5 598 300 608.3 308.5 617.6 300 628 308.5 637.4 300 647.7 308.5 657 300 667.4 308.5 676.8 300 687.1 308.5" stroke="#8db3ee" stroke-width="1.5" fill="none" stroke-linejoin="round"/><g stroke="#e2be80" stroke-width="1.7" fill="none" stroke-dasharray="0 0.5 1 0.5"><path pathLength="20" d="M457.4 308.9 470.1 322.1 482.8 308.9 495.5 322.1 508.2 308.9 520.9 322.1 533.6 308.9 546.3 322.1 559 308.9 571.7 322.1 584.4 308.9 597.1 322.1 609.8 308.9 622.5 322.1 635.2 308.9 647.9 322.1 660.6 308.9 673.3 322.1 686 308.9 698.7 322.1 711.4 308.9"/><path pathLength="20" d="M457.9 335.3 470.1 322.1 483.3 335.3 495.5 322.1 508.7 335.3 520.9 322.1 534.1 335.3 546.3 322.1 559.5 335.3 571.7 322.1 584.9 335.3 597.1 322.1 610.3 335.3 622.5 322.1 635.7 335.3 647.9 322.1 661.1 335.3 673.3 322.1 686.5 335.3 698.7 322.1 711.9 335.3"/><path pathLength="20" d="M461 306.9 473.4 319.6 485.7 306.9 498.1 319.6 510.5 306.9 522.9 319.6 535.3 306.9 547.7 319.6 560 306.9 572.4 319.6 584.8 306.9 597.2 319.6 609.6 306.9 622 319.6 634.3 306.9 646.7 319.6 659.1 306.9 671.5 319.6 683.9 306.9 696.3 319.6 708.6 306.9"/><path pathLength="20" d="M461.5 332.3 473.4 319.6 486.2 332.3 498.1 319.6 511 332.3 522.9 319.6 535.8 332.3 547.7 319.6 560.5 332.3 572.4 319.6 585.3 332.3 597.2 319.6 610.1 332.3 622 319.6 634.8 332.3 646.7 319.6 659.6 332.3 671.5 319.6 684.4 332.3 696.3 319.6 709.1 332.3"/><path pathLength="20" d="M464.6 304.9 476.6 317.2 488.7 304.9 500.8 317.2 512.8 304.9 524.9 317.2 537 304.9 549 317.2 561.1 304.9 573.2 317.2 585.2 304.9 597.3 317.2 609.4 304.9 621.4 317.2 633.5 304.9 645.6 317.2 657.6 304.9 669.7 317.2 681.8 304.9 693.8 317.2 705.9 304.9"/><path pathLength="20" d="M465.1 329.3 476.6 317.2 489.2 329.3 500.8 317.2 513.3 329.3 524.9 317.2 537.5 329.3 549 317.2 561.6 329.3 573.2 317.2 585.7 329.3 597.3 317.2 609.9 329.3 621.4 317.2 634 329.3 645.6 317.2 658.1 329.3 669.7 317.2 682.3 329.3 693.8 317.2 706.4 329.3"/><path pathLength="20" d="M468.1 302.8 479.9 314.7 491.6 302.8 503.4 314.7 515.1 302.8 526.9 314.7 538.6 302.8 550.4 314.7 562.1 302.8 573.9 314.7 585.6 302.8 597.4 314.7 609.1 302.8 620.9 314.7 632.6 302.8 644.4 314.7 656.1 302.8 667.9 314.7 679.6 302.8 691.4 314.7 703.1 302.8"/><path pathLength="20" d="M468.6 326.4 479.9 314.7 492.1 326.4 503.4 314.7 515.6 326.4 526.9 314.7 539.1 326.4 550.4 314.7 562.6 326.4 573.9 314.7 586.1 326.4 597.4 314.7 609.6 326.4 620.9 314.7 633.1 326.4 644.4 314.7 656.6 326.4 667.9 314.7 680.1 326.4 691.4 314.7 703.6 326.4"/><path pathLength="20" d="M471.7 300.8 483.1 312.3 494.6 300.8 506 312.3 517.4 300.8 528.9 312.3 540.3 300.8 551.7 312.3 563.2 300.8 574.6 312.3 586 300.8 597.5 312.3 608.9 300.8 620.3 312.3 631.8 300.8 643.2 312.3 654.6 300.8 666.1 312.3 677.5 300.8 688.9 312.3 700.4 300.8"/><path pathLength="20" d="M472.2 323.4 483.1 312.3 495.1 323.4 506 312.3 517.9 323.4 528.9 312.3 540.8 323.4 551.7 312.3 563.7 323.4 574.6 312.3 586.5 323.4 597.5 312.3 609.4 323.4 620.3 312.3 632.3 323.4 643.2 312.3 655.1 323.4 666.1 312.3 678 323.4 688.9 312.3 700.9 323.4"/><path pathLength="20" d="M475.3 298.8 486.4 309.8 497.5 298.8 508.6 309.8 519.8 298.8 530.9 309.8 542 298.8 553.1 309.8 564.2 298.8 575.3 309.8 586.5 298.8 597.6 309.8 608.7 298.8 619.8 309.8 630.9 298.8 642 309.8 653.2 298.8 664.3 309.8 675.4 298.8 686.5 309.8 697.6 298.8"/><path pathLength="20" d="M475.8 320.4 486.4 309.8 498 320.4 508.6 309.8 520.3 320.4 530.9 309.8 542.5 320.4 553.1 309.8 564.7 320.4 575.3 309.8 587 320.4 597.6 309.8 609.2 320.4 619.8 309.8 631.4 320.4 642 309.8 653.7 320.4 664.3 309.8 675.9 320.4 686.5 309.8 698.1 320.4"/><path pathLength="20" d="M478.9 296.8 489.7 307.4 500.5 296.8 511.3 307.4 522.1 296.8 532.9 307.4 543.7 296.8 554.5 307.4 565.3 296.8 576.1 307.4 586.9 296.8 597.7 307.4 608.5 296.8 619.3 307.4 630.1 296.8 640.9 307.4 651.7 296.8 662.5 307.4 673.3 296.8 684.1 307.4 694.9 296.8"/><path pathLength="20" d="M479.4 317.4 489.7 307.4 501 317.4 511.3 307.4 522.6 317.4 532.9 307.4 544.2 317.4 554.5 307.4 565.8 317.4 576.1 307.4 587.4 317.4 597.7 307.4 609 317.4 619.3 307.4 630.6 317.4 640.9 307.4 652.2 317.4 662.5 307.4 673.8 317.4 684.1 307.4 695.4 317.4"/><path pathLength="20" d="M482.4 294.7 492.9 304.9 503.4 294.7 513.9 304.9 524.4 294.7 534.9 304.9 545.3 294.7 555.8 304.9 566.3 294.7 576.8 304.9 587.3 294.7 597.8 304.9 608.2 294.7 618.7 304.9 629.2 294.7 639.7 304.9 650.2 294.7 660.7 304.9 671.1 294.7 681.6 304.9 692.1 294.7"/><path pathLength="20" d="M482.9 314.5 492.9 304.9 503.9 314.5 513.9 304.9 524.9 314.5 534.9 304.9 545.8 314.5 555.8 304.9 566.8 314.5 576.8 304.9 587.8 314.5 597.8 304.9 608.7 314.5 618.7 304.9 629.7 314.5 639.7 304.9 650.7 314.5 660.7 304.9 671.6 314.5 681.6 304.9 692.6 314.5"/><path pathLength="20" d="M486 292.7 496.2 302.5 506.4 292.7 516.5 302.5 526.7 292.7 536.9 302.5 547 292.7 557.2 302.5 567.4 292.7 577.5 302.5 587.7 292.7 597.9 302.5 608 292.7 618.2 302.5 628.4 292.7 638.5 302.5 648.7 292.7 658.9 302.5 669 292.7 679.2 302.5 689.4 292.7"/><path pathLength="20" d="M486.5 311.5 496.2 302.5 506.9 311.5 516.5 302.5 527.2 311.5 536.9 302.5 547.5 311.5 557.2 302.5 567.9 311.5 577.5 302.5 588.2 311.5 597.9 302.5 608.5 311.5 618.2 302.5 628.9 311.5 638.5 302.5 649.2 311.5 658.9 302.5 669.5 311.5 679.2 302.5 689.9 311.5"/><path pathLength="20" d="M489.6 290.7 499.5 300 509.3 290.7 519.1 300 529 290.7 538.9 300 548.7 290.7 558.6 300 568.4 290.7 578.2 300 588.1 290.7 598 300 607.8 290.7 617.6 300 627.5 290.7 637.4 300 647.2 290.7 657 300 666.9 290.7 676.8 300 686.6 290.7"/><path pathLength="20" d="M490.1 308.5 499.5 300 509.8 308.5 519.1 300 529.5 308.5 538.9 300 549.2 308.5 558.6 300 568.9 308.5 578.2 300 588.6 308.5 598 300 608.3 308.5 617.6 300 628 308.5 637.4 300 647.7 308.5 657 300 667.4 308.5 676.8 300 687.1 308.5"/></g><path d="M499.5 300L470.1 322.1M519.1 300L495.5 322.1M538.9 300L520.9 322.1M558.6 300L546.3 322.1M578.2 300L571.7 322.1M598 300L597.1 322.1M617.6 300L622.5 322.1M637.4 300L647.9 322.1M657 300L673.3 322.1M676.8 300L698.7 322.1" stroke="#d3ab68" stroke-width="5.3" stroke-linecap="round" fill="none"/><path d="M484.8 311.1L470.1 322.1M507.3 311.1L495.5 322.1M529.9 311.1L520.9 322.1M552.4 311.1L546.3 322.1M575 311.1L571.7 322.1M597.5 311.1L597.1 322.1M620.1 311.1L622.5 322.1M642.6 311.1L647.9 322.1M665.2 311.1L673.3 322.1M687.7 311.1L698.7 322.1" stroke="#d3ab68" stroke-width="6.7" stroke-linecap="round" fill="none"/><path d="M499.5 300L470.1 322.1M519.1 300L495.5 322.1M538.9 300L520.9 322.1M558.6 300L546.3 322.1M578.2 300L571.7 322.1M598 300L597.1 322.1M617.6 300L622.5 322.1M637.4 300L647.9 322.1M657 300L673.3 322.1M676.8 300L698.7 322.1" stroke="#e6c488" stroke-width="4.3" stroke-linecap="round" fill="none"/><path d="M484.8 311.1L470.1 322.1M507.3 311.1L495.5 322.1M529.9 311.1L520.9 322.1M552.4 311.1L546.3 322.1M575 311.1L571.7 322.1M597.5 311.1L597.1 322.1M620.1 311.1L622.5 322.1M642.6 311.1L647.9 322.1M665.2 311.1L673.3 322.1M687.7 311.1L698.7 322.1" stroke="#e6c488" stroke-width="5.7" stroke-linecap="round" fill="none"/><circle cx="470.1" cy="322.1" r="3.4" fill="url(#gC)"/><circle cx="495.5" cy="322.1" r="3.4" fill="url(#gC)"/><circle cx="520.9" cy="322.1" r="3.4" fill="url(#gC)"/><circle cx="546.3" cy="322.1" r="3.4" fill="url(#gC)"/><circle cx="571.7" cy="322.1" r="3.4" fill="url(#gC)"/><circle cx="597.1" cy="322.1" r="3.4" fill="url(#gC)"/><circle cx="622.5" cy="322.1" r="3.4" fill="url(#gC)"/><circle cx="647.9" cy="322.1" r="3.4" fill="url(#gC)"/><circle cx="673.3" cy="322.1" r="3.4" fill="url(#gC)"/><circle cx="698.7" cy="322.1" r="3.4" fill="url(#gC)"/><circle cx="457.9" cy="335.3" r="4.8" fill="url(#gV)"/><circle cx="483.3" cy="335.3" r="4.8" fill="url(#gV)"/><circle cx="508.7" cy="335.3" r="4.8" fill="url(#gV)"/><circle cx="534.1" cy="335.3" r="4.8" fill="url(#gV)"/><circle cx="559.5" cy="335.3" r="4.8" fill="url(#gV)"/><circle cx="584.9" cy="335.3" r="4.8" fill="url(#gV)"/><circle cx="610.3" cy="335.3" r="4.8" fill="url(#gV)"/><circle cx="635.7" cy="335.3" r="4.8" fill="url(#gV)"/><circle cx="661.1" cy="335.3" r="4.8" fill="url(#gV)"/><circle cx="686.5" cy="335.3" r="4.8" fill="url(#gV)"/><circle cx="711.9" cy="335.3" r="4.8" fill="url(#gV)"/><path d="M489.6 290.7L457.4 308.9M509.3 290.7L482.8 308.9M529 290.7L508.2 308.9M548.7 290.7L533.6 308.9M568.4 290.7L559 308.9M588.1 290.7L584.4 308.9M607.8 290.7L609.8 308.9M627.5 290.7L635.2 308.9M647.2 290.7L660.6 308.9M666.9 290.7L686 308.9M686.6 290.7L711.4 308.9" stroke="#6a93dc" stroke-width="8.2" stroke-linecap="round" fill="none"/><path d="M473.5 299.8L457.4 308.9M496 299.8L482.8 308.9M518.6 299.8L508.2 308.9M541.1 299.8L533.6 308.9M563.7 299.8L559 308.9M586.2 299.8L584.4 308.9M608.8 299.8L609.8 308.9M631.3 299.8L635.2 308.9M653.9 299.8L660.6 308.9M676.5 299.8L686 308.9M699 299.8L711.4 308.9" stroke="#6a93dc" stroke-width="9.9" stroke-linecap="round" fill="none"/><path d="M489.6 290.7L457.4 308.9M509.3 290.7L482.8 308.9M529 290.7L508.2 308.9M548.7 290.7L533.6 308.9M568.4 290.7L559 308.9M588.1 290.7L584.4 308.9M607.8 290.7L609.8 308.9M627.5 290.7L635.2 308.9M647.2 290.7L660.6 308.9M666.9 290.7L686 308.9M686.6 290.7L711.4 308.9" stroke="#86aeec" stroke-width="7.2" stroke-linecap="round" fill="none"/><path d="M473.5 299.8L457.4 308.9M496 299.8L482.8 308.9M518.6 299.8L508.2 308.9M541.1 299.8L533.6 308.9M563.7 299.8L559 308.9M586.2 299.8L584.4 308.9M608.8 299.8L609.8 308.9M631.3 299.8L635.2 308.9M653.9 299.8L660.6 308.9M676.5 299.8L686 308.9M699 299.8L711.4 308.9" stroke="#86aeec" stroke-width="8.9" stroke-linecap="round" fill="none"/><path d="M489 289.9L456.8 308.1M508.7 289.9L482.2 308.1M528.4 289.9L507.6 308.1M548.1 289.9L533 308.1M567.8 289.9L558.4 308.1M587.5 289.9L583.8 308.1M607.2 289.9L609.2 308.1M626.9 289.9L634.6 308.1M646.6 289.9L660 308.1M666.3 289.9L685.4 308.1M686 289.9L710.8 308.1" stroke="#b3d0fa" stroke-width="4.5" stroke-linecap="round" stroke-dasharray="0.1 5.1" fill="none"/><circle cx="457.4" cy="308.9" r="5.2" fill="url(#gV)"/><circle cx="482.8" cy="308.9" r="5.2" fill="url(#gV)"/><circle cx="508.2" cy="308.9" r="5.2" fill="url(#gV)"/><circle cx="533.6" cy="308.9" r="5.2" fill="url(#gV)"/><circle cx="559" cy="308.9" r="5.2" fill="url(#gV)"/><circle cx="584.4" cy="308.9" r="5.2" fill="url(#gV)"/><circle cx="609.8" cy="308.9" r="5.2" fill="url(#gV)"/><circle cx="635.2" cy="308.9" r="5.2" fill="url(#gV)"/><circle cx="660.6" cy="308.9" r="5.2" fill="url(#gV)"/><circle cx="686" cy="308.9" r="5.2" fill="url(#gV)"/><circle cx="711.4" cy="308.9" r="5.2" fill="url(#gV)"/><path d="M494.3 369L466.1 416.4M513.2 369L489.8 416.4M532.1 369L513.5 416.4M551 369L537.2 416.4M569.9 369L560.9 416.4M588.8 369L584.6 416.4M607.7 369L608.3 416.4M626.6 369L632 416.4M645.5 369L655.7 416.4M664.4 369L679.4 416.4M683.3 369L703.1 416.4" stroke="#6a93dc" stroke-width="6.7" stroke-linecap="round" fill="none"/><path d="M480.2 392.7L466.1 416.4M501.5 392.7L489.8 416.4M522.8 392.7L513.5 416.4M544.1 392.7L537.2 416.4M565.4 392.7L560.9 416.4M586.7 392.7L584.6 416.4M608 392.7L608.3 416.4M629.3 392.7L632 416.4M650.6 392.7L655.7 416.4M671.9 392.7L679.4 416.4M693.2 392.7L703.1 416.4" stroke="#6a93dc" stroke-width="8.3" stroke-linecap="round" fill="none"/><path d="M494.3 369L466.1 416.4M513.2 369L489.8 416.4M532.1 369L513.5 416.4M551 369L537.2 416.4M569.9 369L560.9 416.4M588.8 369L584.6 416.4M607.7 369L608.3 416.4M626.6 369L632 416.4M645.5 369L655.7 416.4M664.4 369L679.4 416.4M683.3 369L703.1 416.4" stroke="#86aeec" stroke-width="5.7" stroke-linecap="round" fill="none"/><path d="M480.2 392.7L466.1 416.4M501.5 392.7L489.8 416.4M522.8 392.7L513.5 416.4M544.1 392.7L537.2 416.4M565.4 392.7L560.9 416.4M586.7 392.7L584.6 416.4M608 392.7L608.3 416.4M629.3 392.7L632 416.4M650.6 392.7L655.7 416.4M671.9 392.7L679.4 416.4M693.2 392.7L703.1 416.4" stroke="#86aeec" stroke-width="7.3" stroke-linecap="round" fill="none"/><path d="M493.7 368.2L465.5 415.6M512.6 368.2L489.2 415.6M531.5 368.2L512.9 415.6M550.4 368.2L536.6 415.6M569.3 368.2L560.3 415.6M588.2 368.2L584 415.6M607.1 368.2L607.7 415.6M626 368.2L631.4 415.6M644.9 368.2L655.1 415.6M663.8 368.2L678.8 415.6M682.7 368.2L702.5 415.6" stroke="#b3d0fa" stroke-width="3.7" stroke-linecap="round" stroke-dasharray="0.1 4.2" fill="none"/><path d="M465.6 393.2 477.5 405.6 489.3 393.2 501.2 405.6 513 393.2 524.9 405.6 536.7 393.2 548.6 405.6 560.4 393.2 572.2 405.6 584.1 393.2 596 405.6 607.8 393.2 619.6 405.6 631.5 393.2 643.4 405.6 655.2 393.2 667 405.6 678.9 393.2 690.8 405.6 702.6 393.2M466.1 416.4 477.5 405.6 489.8 416.4 501.2 405.6 513.5 416.4 524.9 405.6 537.2 416.4 548.6 405.6 560.9 416.4 572.2 405.6 584.6 416.4 596 405.6 608.3 416.4 619.6 405.6 632 416.4 643.4 405.6 655.7 416.4 667 405.6 679.4 416.4 690.8 405.6 703.1 416.4M468 390 479.6 402 491.2 390 502.9 402 514.5 390 526.2 402 537.9 390 549.5 402 561.1 390 572.8 402 584.5 390 596.1 402 607.8 390 619.4 402 631 390 642.7 402 654.4 390 666 402 677.6 390 689.3 402 701 390M468.5 412.4 479.6 402 491.8 412.4 502.9 402 515 412.4 526.2 402 538.4 412.4 549.5 402 561.6 412.4 572.8 402 585 412.4 596.1 402 608.2 412.4 619.4 402 631.5 412.4 642.7 402 654.9 412.4 666 402 678.1 412.4 689.3 402 701.5 412.4M470.3 386.9 481.8 398.3 493.2 386.9 504.7 398.3 516.1 386.9 527.5 398.3 539 386.9 550.5 398.3 561.9 386.9 573.4 398.3 584.8 386.9 596.2 398.3 607.7 386.9 619.1 398.3 630.6 386.9 642 398.3 653.5 386.9 664.9 398.3 676.4 386.9 687.9 398.3 699.3 386.9M470.8 408.5 481.8 398.3 493.7 408.5 504.7 398.3 516.6 408.5 527.5 398.3 539.5 408.5 550.5 398.3 562.4 408.5 573.4 398.3 585.3 408.5 596.2 398.3 608.2 408.5 619.1 398.3 631.1 408.5 642 398.3 654 408.5 664.9 398.3 676.9 408.5 687.9 398.3 699.8 408.5M472.7 383.7 483.9 394.7 495.2 383.7 506.4 394.7 517.6 383.7 528.9 394.7 540.2 383.7 551.4 394.7 562.6 383.7 573.9 394.7 585.1 383.7 596.4 394.7 607.6 383.7 618.9 394.7 630.1 383.7 641.4 394.7 652.7 383.7 663.9 394.7 675.1 383.7 686.4 394.7 697.6 383.7M473.2 404.5 483.9 394.7 495.7 404.5 506.4 394.7 518.1 404.5 528.9 394.7 540.7 404.5 551.4 394.7 563.1 404.5 573.9 394.7 585.6 404.5 596.4 394.7 608.1 404.5 618.9 394.7 630.6 404.5 641.4 394.7 653.2 404.5 663.9 394.7 675.6 404.5 686.4 394.7 698.1 404.5M475 380.5 486.1 391.1 497.1 380.5 508.2 391.1 519.2 380.5 530.2 391.1 541.3 380.5 552.4 391.1 563.4 380.5 574.5 391.1 585.5 380.5 596.6 391.1 607.6 380.5 618.6 391.1 629.7 380.5 640.8 391.1 651.8 380.5 662.9 391.1 673.9 380.5 685 391.1 696 380.5M475.5 400.6 486.1 391.1 497.6 400.6 508.2 391.1 519.7 400.6 530.2 391.1 541.8 400.6 552.4 391.1 563.9 400.6 574.5 391.1 586 400.6 596.6 391.1 608.1 400.6 618.6 391.1 630.2 400.6 640.8 391.1 652.3 400.6 662.9 391.1 674.4 400.6 685 391.1 696.5 400.6M477.4 377.4 488.2 387.4 499.1 377.4 509.9 387.4 520.8 377.4 531.6 387.4 542.5 377.4 553.3 387.4 564.1 377.4 575 387.4 585.9 377.4 596.7 387.4 607.5 377.4 618.4 387.4 629.2 377.4 640.1 387.4 651 377.4 661.8 387.4 672.6 377.4 683.5 387.4 694.4 377.4M477.9 396.6 488.2 387.4 499.6 396.6 509.9 387.4 521.2 396.6 531.6 387.4 543 396.6 553.3 387.4 564.6 396.6 575 387.4 586.4 396.6 596.7 387.4 608 396.6 618.4 387.4 629.8 396.6 640.1 387.4 651.5 396.6 661.8 387.4 673.1 396.6 683.5 387.4 694.9 396.6M479.7 374.2 490.4 383.8 501 374.2 511.6 383.8 522.3 374.2 533 383.8 543.6 374.2 554.2 383.8 564.9 374.2 575.5 383.8 586.2 374.2 596.9 383.8 607.5 374.2 618.1 383.8 628.8 374.2 639.5 383.8 650.1 374.2 660.8 383.8 671.4 374.2 682 383.8 692.7 374.2M480.2 392.7 490.4 383.8 501.5 392.7 511.6 383.8 522.8 392.7 533 383.8 544.1 392.7 554.2 383.8 565.4 392.7 575.5 383.8 586.7 392.7 596.9 383.8 608 392.7 618.1 383.8 629.3 392.7 639.5 383.8 650.6 392.7 660.8 383.8 671.9 392.7 682 383.8 693.2 392.7M482.1 371 492.5 380.2 503 371 513.4 380.2 523.9 371 534.3 380.2 544.8 371 555.2 380.2 565.6 371 576.1 380.2 586.5 371 597 380.2 607.5 371 617.9 380.2 628.4 371 638.8 380.2 649.2 371 659.7 380.2 670.1 371 680.6 380.2 691 371M482.6 388.8 492.5 380.2 503.5 388.8 513.4 380.2 524.4 388.8 534.3 380.2 545.2 388.8 555.2 380.2 566.1 388.8 576.1 380.2 587 388.8 597 380.2 608 388.8 617.9 380.2 628.9 388.8 638.8 380.2 649.8 388.8 659.7 380.2 670.6 388.8 680.6 380.2 691.5 388.8M484.4 367.9 494.7 376.5 504.9 367.9 515.1 376.5 525.4 367.9 535.6 376.5 545.9 367.9 556.2 376.5 566.4 367.9 576.6 376.5 586.9 367.9 597.1 376.5 607.4 367.9 617.6 376.5 627.9 367.9 638.1 376.5 648.4 367.9 658.6 376.5 668.9 367.9 679.1 376.5 689.4 367.9M484.9 384.8 494.7 376.5 505.4 384.8 515.1 376.5 525.9 384.8 535.6 376.5 546.4 384.8 556.2 376.5 566.9 384.8 576.6 376.5 587.4 384.8 597.1 376.5 607.9 384.8 617.6 376.5 628.4 384.8 638.1 376.5 648.9 384.8 658.6 376.5 669.4 384.8 679.1 376.5 689.9 384.8M486.8 364.7 496.8 372.9 506.9 364.7 516.9 372.9 527 364.7 537 372.9 547 364.7 557.1 372.9 567.1 364.7 577.2 372.9 587.2 364.7 597.3 372.9 607.4 364.7 617.4 372.9 627.5 364.7 637.5 372.9 647.5 364.7 657.6 372.9 667.6 364.7 677.7 372.9 687.8 364.7M487.2 380.9 496.8 372.9 507.4 380.9 516.9 372.9 527.5 380.9 537 372.9 547.5 380.9 557.1 372.9 567.6 380.9 577.2 372.9 587.8 380.9 597.3 372.9 607.9 380.9 617.4 372.9 628 380.9 637.5 372.9 648 380.9 657.6 372.9 668.1 380.9 677.7 372.9 688.2 380.9M489.1 361.5 498.9 369.3 508.8 361.5 518.6 369.3 528.5 361.5 538.3 369.3 548.2 361.5 558.1 369.3 567.9 361.5 577.8 369.3 587.6 361.5 597.5 369.3 607.3 361.5 617.1 369.3 627 361.5 636.8 369.3 646.7 361.5 656.6 369.3 666.4 361.5 676.2 369.3 686.1 361.5M489.6 376.9 498.9 369.3 509.3 376.9 518.6 369.3 529 376.9 538.3 369.3 548.7 376.9 558.1 369.3 568.4 376.9 577.8 369.3 588.1 376.9 597.5 369.3 607.8 376.9 617.1 369.3 627.5 376.9 636.8 369.3 647.2 376.9 656.6 369.3 666.9 376.9 676.2 369.3 686.6 376.9M491.4 358.4 501.1 365.6 510.8 358.4 520.4 365.6 530.1 358.4 539.7 365.6 549.4 358.4 559 365.6 568.6 358.4 578.3 365.6 587.9 358.4 597.6 365.6 607.2 358.4 616.9 365.6 626.6 358.4 636.2 365.6 645.9 358.4 655.5 365.6 665.1 358.4 674.8 365.6 684.4 358.4M491.9 372.9 501.1 365.6 511.3 372.9 520.4 365.6 530.6 372.9 539.7 365.6 549.9 372.9 559 365.6 569.1 372.9 578.3 365.6 588.4 372.9 597.6 365.6 607.8 372.9 616.9 365.6 627.1 372.9 636.2 365.6 646.4 372.9 655.5 365.6 665.6 372.9 674.8 365.6 684.9 372.9M493.8 355.2 503.2 362 512.7 355.2 522.1 362 531.6 355.2 541 362 550.5 355.2 560 362 569.4 355.2 578.9 362 588.3 355.2 597.8 362 607.2 355.2 616.6 362 626.1 355.2 635.5 362 645 355.2 654.5 362 663.9 355.2 673.4 362 682.8 355.2M494.3 369 503.2 362 513.2 369 522.1 362 532.1 369 541 362 551 369 560 362 569.9 369 578.9 362 588.8 369 597.8 362 607.7 369 616.6 362 626.6 369 635.5 362 645.5 369 654.5 362 664.4 369 673.4 362 683.3 369" stroke="#8db3ee" stroke-width="1.5" fill="none" stroke-linejoin="round"/><g stroke="#e2be80" stroke-width="1.7" fill="none" stroke-dasharray="0 0.5 1 0.5"><path pathLength="20" d="M465.6 393.2 477.5 405.6 489.3 393.2 501.2 405.6 513 393.2 524.9 405.6 536.7 393.2 548.6 405.6 560.4 393.2 572.2 405.6 584.1 393.2 596 405.6 607.8 393.2 619.6 405.6 631.5 393.2 643.4 405.6 655.2 393.2 667 405.6 678.9 393.2 690.8 405.6 702.6 393.2"/><path pathLength="20" d="M466.1 416.4 477.5 405.6 489.8 416.4 501.2 405.6 513.5 416.4 524.9 405.6 537.2 416.4 548.6 405.6 560.9 416.4 572.2 405.6 584.6 416.4 596 405.6 608.3 416.4 619.6 405.6 632 416.4 643.4 405.6 655.7 416.4 667 405.6 679.4 416.4 690.8 405.6 703.1 416.4"/><path pathLength="20" d="M468 390 479.6 402 491.2 390 502.9 402 514.5 390 526.2 402 537.9 390 549.5 402 561.1 390 572.8 402 584.5 390 596.1 402 607.8 390 619.4 402 631 390 642.7 402 654.4 390 666 402 677.6 390 689.3 402 701 390"/><path pathLength="20" d="M468.5 412.4 479.6 402 491.8 412.4 502.9 402 515 412.4 526.2 402 538.4 412.4 549.5 402 561.6 412.4 572.8 402 585 412.4 596.1 402 608.2 412.4 619.4 402 631.5 412.4 642.7 402 654.9 412.4 666 402 678.1 412.4 689.3 402 701.5 412.4"/><path pathLength="20" d="M470.3 386.9 481.8 398.3 493.2 386.9 504.7 398.3 516.1 386.9 527.5 398.3 539 386.9 550.5 398.3 561.9 386.9 573.4 398.3 584.8 386.9 596.2 398.3 607.7 386.9 619.1 398.3 630.6 386.9 642 398.3 653.5 386.9 664.9 398.3 676.4 386.9 687.9 398.3 699.3 386.9"/><path pathLength="20" d="M470.8 408.5 481.8 398.3 493.7 408.5 504.7 398.3 516.6 408.5 527.5 398.3 539.5 408.5 550.5 398.3 562.4 408.5 573.4 398.3 585.3 408.5 596.2 398.3 608.2 408.5 619.1 398.3 631.1 408.5 642 398.3 654 408.5 664.9 398.3 676.9 408.5 687.9 398.3 699.8 408.5"/><path pathLength="20" d="M472.7 383.7 483.9 394.7 495.2 383.7 506.4 394.7 517.6 383.7 528.9 394.7 540.2 383.7 551.4 394.7 562.6 383.7 573.9 394.7 585.1 383.7 596.4 394.7 607.6 383.7 618.9 394.7 630.1 383.7 641.4 394.7 652.7 383.7 663.9 394.7 675.1 383.7 686.4 394.7 697.6 383.7"/><path pathLength="20" d="M473.2 404.5 483.9 394.7 495.7 404.5 506.4 394.7 518.1 404.5 528.9 394.7 540.7 404.5 551.4 394.7 563.1 404.5 573.9 394.7 585.6 404.5 596.4 394.7 608.1 404.5 618.9 394.7 630.6 404.5 641.4 394.7 653.2 404.5 663.9 394.7 675.6 404.5 686.4 394.7 698.1 404.5"/><path pathLength="20" d="M475 380.5 486.1 391.1 497.1 380.5 508.2 391.1 519.2 380.5 530.2 391.1 541.3 380.5 552.4 391.1 563.4 380.5 574.5 391.1 585.5 380.5 596.6 391.1 607.6 380.5 618.6 391.1 629.7 380.5 640.8 391.1 651.8 380.5 662.9 391.1 673.9 380.5 685 391.1 696 380.5"/><path pathLength="20" d="M475.5 400.6 486.1 391.1 497.6 400.6 508.2 391.1 519.7 400.6 530.2 391.1 541.8 400.6 552.4 391.1 563.9 400.6 574.5 391.1 586 400.6 596.6 391.1 608.1 400.6 618.6 391.1 630.2 400.6 640.8 391.1 652.3 400.6 662.9 391.1 674.4 400.6 685 391.1 696.5 400.6"/><path pathLength="20" d="M477.4 377.4 488.2 387.4 499.1 377.4 509.9 387.4 520.8 377.4 531.6 387.4 542.5 377.4 553.3 387.4 564.1 377.4 575 387.4 585.9 377.4 596.7 387.4 607.5 377.4 618.4 387.4 629.2 377.4 640.1 387.4 651 377.4 661.8 387.4 672.6 377.4 683.5 387.4 694.4 377.4"/><path pathLength="20" d="M477.9 396.6 488.2 387.4 499.6 396.6 509.9 387.4 521.2 396.6 531.6 387.4 543 396.6 553.3 387.4 564.6 396.6 575 387.4 586.4 396.6 596.7 387.4 608 396.6 618.4 387.4 629.8 396.6 640.1 387.4 651.5 396.6 661.8 387.4 673.1 396.6 683.5 387.4 694.9 396.6"/><path pathLength="20" d="M479.7 374.2 490.4 383.8 501 374.2 511.6 383.8 522.3 374.2 533 383.8 543.6 374.2 554.2 383.8 564.9 374.2 575.5 383.8 586.2 374.2 596.9 383.8 607.5 374.2 618.1 383.8 628.8 374.2 639.5 383.8 650.1 374.2 660.8 383.8 671.4 374.2 682 383.8 692.7 374.2"/><path pathLength="20" d="M480.2 392.7 490.4 383.8 501.5 392.7 511.6 383.8 522.8 392.7 533 383.8 544.1 392.7 554.2 383.8 565.4 392.7 575.5 383.8 586.7 392.7 596.9 383.8 608 392.7 618.1 383.8 629.3 392.7 639.5 383.8 650.6 392.7 660.8 383.8 671.9 392.7 682 383.8 693.2 392.7"/><path pathLength="20" d="M482.1 371 492.5 380.2 503 371 513.4 380.2 523.9 371 534.3 380.2 544.8 371 555.2 380.2 565.6 371 576.1 380.2 586.5 371 597 380.2 607.5 371 617.9 380.2 628.4 371 638.8 380.2 649.2 371 659.7 380.2 670.1 371 680.6 380.2 691 371"/><path pathLength="20" d="M482.6 388.8 492.5 380.2 503.5 388.8 513.4 380.2 524.4 388.8 534.3 380.2 545.2 388.8 555.2 380.2 566.1 388.8 576.1 380.2 587 388.8 597 380.2 608 388.8 617.9 380.2 628.9 388.8 638.8 380.2 649.8 388.8 659.7 380.2 670.6 388.8 680.6 380.2 691.5 388.8"/><path pathLength="20" d="M484.4 367.9 494.7 376.5 504.9 367.9 515.1 376.5 525.4 367.9 535.6 376.5 545.9 367.9 556.2 376.5 566.4 367.9 576.6 376.5 586.9 367.9 597.1 376.5 607.4 367.9 617.6 376.5 627.9 367.9 638.1 376.5 648.4 367.9 658.6 376.5 668.9 367.9 679.1 376.5 689.4 367.9"/><path pathLength="20" d="M484.9 384.8 494.7 376.5 505.4 384.8 515.1 376.5 525.9 384.8 535.6 376.5 546.4 384.8 556.2 376.5 566.9 384.8 576.6 376.5 587.4 384.8 597.1 376.5 607.9 384.8 617.6 376.5 628.4 384.8 638.1 376.5 648.9 384.8 658.6 376.5 669.4 384.8 679.1 376.5 689.9 384.8"/><path pathLength="20" d="M486.8 364.7 496.8 372.9 506.9 364.7 516.9 372.9 527 364.7 537 372.9 547 364.7 557.1 372.9 567.1 364.7 577.2 372.9 587.2 364.7 597.3 372.9 607.4 364.7 617.4 372.9 627.5 364.7 637.5 372.9 647.5 364.7 657.6 372.9 667.6 364.7 677.7 372.9 687.8 364.7"/><path pathLength="20" d="M487.2 380.9 496.8 372.9 507.4 380.9 516.9 372.9 527.5 380.9 537 372.9 547.5 380.9 557.1 372.9 567.6 380.9 577.2 372.9 587.8 380.9 597.3 372.9 607.9 380.9 617.4 372.9 628 380.9 637.5 372.9 648 380.9 657.6 372.9 668.1 380.9 677.7 372.9 688.2 380.9"/><path pathLength="20" d="M489.1 361.5 498.9 369.3 508.8 361.5 518.6 369.3 528.5 361.5 538.3 369.3 548.2 361.5 558.1 369.3 567.9 361.5 577.8 369.3 587.6 361.5 597.5 369.3 607.3 361.5 617.1 369.3 627 361.5 636.8 369.3 646.7 361.5 656.6 369.3 666.4 361.5 676.2 369.3 686.1 361.5"/><path pathLength="20" d="M489.6 376.9 498.9 369.3 509.3 376.9 518.6 369.3 529 376.9 538.3 369.3 548.7 376.9 558.1 369.3 568.4 376.9 577.8 369.3 588.1 376.9 597.5 369.3 607.8 376.9 617.1 369.3 627.5 376.9 636.8 369.3 647.2 376.9 656.6 369.3 666.9 376.9 676.2 369.3 686.6 376.9"/><path pathLength="20" d="M491.4 358.4 501.1 365.6 510.8 358.4 520.4 365.6 530.1 358.4 539.7 365.6 549.4 358.4 559 365.6 568.6 358.4 578.3 365.6 587.9 358.4 597.6 365.6 607.2 358.4 616.9 365.6 626.6 358.4 636.2 365.6 645.9 358.4 655.5 365.6 665.1 358.4 674.8 365.6 684.4 358.4"/><path pathLength="20" d="M491.9 372.9 501.1 365.6 511.3 372.9 520.4 365.6 530.6 372.9 539.7 365.6 549.9 372.9 559 365.6 569.1 372.9 578.3 365.6 588.4 372.9 597.6 365.6 607.8 372.9 616.9 365.6 627.1 372.9 636.2 365.6 646.4 372.9 655.5 365.6 665.6 372.9 674.8 365.6 684.9 372.9"/><path pathLength="20" d="M493.8 355.2 503.2 362 512.7 355.2 522.1 362 531.6 355.2 541 362 550.5 355.2 560 362 569.4 355.2 578.9 362 588.3 355.2 597.8 362 607.2 355.2 616.6 362 626.1 355.2 635.5 362 645 355.2 654.5 362 663.9 355.2 673.4 362 682.8 355.2"/><path pathLength="20" d="M494.3 369 503.2 362 513.2 369 522.1 362 532.1 369 541 362 551 369 560 362 569.9 369 578.9 362 588.8 369 597.8 362 607.7 369 616.6 362 626.6 369 635.5 362 645.5 369 654.5 362 664.4 369 673.4 362 683.3 369"/></g><path d="M503.2 362L477.5 405.6M522.1 362L501.2 405.6M541 362L524.9 405.6M560 362L548.6 405.6M578.9 362L572.2 405.6M597.8 362L596 405.6M616.6 362L619.6 405.6M635.5 362L643.4 405.6M654.5 362L667 405.6M673.4 362L690.8 405.6" stroke="#d3ab68" stroke-width="4.7" stroke-linecap="round" fill="none"/><path d="M490.4 383.8L477.5 405.6M511.6 383.8L501.2 405.6M533 383.8L524.9 405.6M554.2 383.8L548.6 405.6M575.5 383.8L572.2 405.6M596.9 383.8L596 405.6M618.1 383.8L619.6 405.6M639.5 383.8L643.4 405.6M660.8 383.8L667 405.6M682 383.8L690.8 405.6" stroke="#d3ab68" stroke-width="5.9" stroke-linecap="round" fill="none"/><path d="M503.2 362L477.5 405.6M522.1 362L501.2 405.6M541 362L524.9 405.6M560 362L548.6 405.6M578.9 362L572.2 405.6M597.8 362L596 405.6M616.6 362L619.6 405.6M635.5 362L643.4 405.6M654.5 362L667 405.6M673.4 362L690.8 405.6" stroke="#e6c488" stroke-width="3.7" stroke-linecap="round" fill="none"/><path d="M490.4 383.8L477.5 405.6M511.6 383.8L501.2 405.6M533 383.8L524.9 405.6M554.2 383.8L548.6 405.6M575.5 383.8L572.2 405.6M596.9 383.8L596 405.6M618.1 383.8L619.6 405.6M639.5 383.8L643.4 405.6M660.8 383.8L667 405.6M682 383.8L690.8 405.6" stroke="#e6c488" stroke-width="4.9" stroke-linecap="round" fill="none"/><circle cx="477.5" cy="405.6" r="3" fill="url(#gC)"/><circle cx="501.2" cy="405.6" r="3" fill="url(#gC)"/><circle cx="524.9" cy="405.6" r="3" fill="url(#gC)"/><circle cx="548.6" cy="405.6" r="3" fill="url(#gC)"/><circle cx="572.2" cy="405.6" r="3" fill="url(#gC)"/><circle cx="596" cy="405.6" r="3" fill="url(#gC)"/><circle cx="619.6" cy="405.6" r="3" fill="url(#gC)"/><circle cx="643.4" cy="405.6" r="3" fill="url(#gC)"/><circle cx="667" cy="405.6" r="3" fill="url(#gC)"/><circle cx="690.8" cy="405.6" r="3" fill="url(#gC)"/><circle cx="466.1" cy="416.4" r="4.3" fill="url(#gV)"/><circle cx="489.8" cy="416.4" r="4.3" fill="url(#gV)"/><circle cx="513.5" cy="416.4" r="4.3" fill="url(#gV)"/><circle cx="537.2" cy="416.4" r="4.3" fill="url(#gV)"/><circle cx="560.9" cy="416.4" r="4.3" fill="url(#gV)"/><circle cx="584.6" cy="416.4" r="4.3" fill="url(#gV)"/><circle cx="608.3" cy="416.4" r="4.3" fill="url(#gV)"/><circle cx="632" cy="416.4" r="4.3" fill="url(#gV)"/><circle cx="655.7" cy="416.4" r="4.3" fill="url(#gV)"/><circle cx="679.4" cy="416.4" r="4.3" fill="url(#gV)"/><circle cx="703.1" cy="416.4" r="4.3" fill="url(#gV)"/><path d="M493.8 355.2L465.6 393.2M512.7 355.2L489.3 393.2M531.6 355.2L513 393.2M550.5 355.2L536.7 393.2M569.4 355.2L560.4 393.2M588.3 355.2L584.1 393.2M607.2 355.2L607.8 393.2M626.1 355.2L631.5 393.2M645 355.2L655.2 393.2M663.9 355.2L678.9 393.2M682.8 355.2L702.6 393.2" stroke="#6a93dc" stroke-width="6.7" stroke-linecap="round" fill="none"/><path d="M479.7 374.2L465.6 393.2M501 374.2L489.3 393.2M522.3 374.2L513 393.2M543.6 374.2L536.7 393.2M564.9 374.2L560.4 393.2M586.2 374.2L584.1 393.2M607.5 374.2L607.8 393.2M628.8 374.2L631.5 393.2M650.1 374.2L655.2 393.2M671.4 374.2L678.9 393.2M692.7 374.2L702.6 393.2" stroke="#6a93dc" stroke-width="8.3" stroke-linecap="round" fill="none"/><path d="M493.8 355.2L465.6 393.2M512.7 355.2L489.3 393.2M531.6 355.2L513 393.2M550.5 355.2L536.7 393.2M569.4 355.2L560.4 393.2M588.3 355.2L584.1 393.2M607.2 355.2L607.8 393.2M626.1 355.2L631.5 393.2M645 355.2L655.2 393.2M663.9 355.2L678.9 393.2M682.8 355.2L702.6 393.2" stroke="#86aeec" stroke-width="5.7" stroke-linecap="round" fill="none"/><path d="M479.7 374.2L465.6 393.2M501 374.2L489.3 393.2M522.3 374.2L513 393.2M543.6 374.2L536.7 393.2M564.9 374.2L560.4 393.2M586.2 374.2L584.1 393.2M607.5 374.2L607.8 393.2M628.8 374.2L631.5 393.2M650.1 374.2L655.2 393.2M671.4 374.2L678.9 393.2M692.7 374.2L702.6 393.2" stroke="#86aeec" stroke-width="7.3" stroke-linecap="round" fill="none"/><path d="M493.2 354.4L465 392.4M512.1 354.4L488.7 392.4M531 354.4L512.4 392.4M549.9 354.4L536.1 392.4M568.8 354.4L559.8 392.4M587.7 354.4L583.5 392.4M606.6 354.4L607.2 392.4M625.5 354.4L630.9 392.4M644.4 354.4L654.6 392.4M663.3 354.4L678.3 392.4M682.2 354.4L702 392.4" stroke="#b3d0fa" stroke-width="3.7" stroke-linecap="round" stroke-dasharray="0.1 4.2" fill="none"/><circle cx="465.6" cy="393.2" r="4.3" fill="url(#gV)"/><circle cx="489.3" cy="393.2" r="4.3" fill="url(#gV)"/><circle cx="513" cy="393.2" r="4.3" fill="url(#gV)"/><circle cx="536.7" cy="393.2" r="4.3" fill="url(#gV)"/><circle cx="560.4" cy="393.2" r="4.3" fill="url(#gV)"/><circle cx="584.1" cy="393.2" r="4.3" fill="url(#gV)"/><circle cx="607.8" cy="393.2" r="4.3" fill="url(#gV)"/><circle cx="631.5" cy="393.2" r="4.3" fill="url(#gV)"/><circle cx="655.2" cy="393.2" r="4.3" fill="url(#gV)"/><circle cx="678.9" cy="393.2" r="4.3" fill="url(#gV)"/><circle cx="702.6" cy="393.2" r="4.3" fill="url(#gV)"/>
<path d="M911.5 300.6L889.7 285.7M934.8 300.6L920.3 285.7M957.4 300.6L950.1 285.7M980.1 300.6L979.9 285.7M1002.1 300.6L1008.8 285.7M1025.3 300.6L1039.4 285.7M1047.9 300.6L1069.2 285.7M1071.2 300.6L1099.8 285.7" stroke="#cf9cca" stroke-width="5.4" stroke-linecap="round" fill="none"/><path d="M900.6 293.2L889.7 285.7M927.6 293.2L920.3 285.7M953.8 293.2L950.1 285.7M980 293.2L979.9 285.7M1005.4 293.2L1008.8 285.7M1032.4 293.2L1039.4 285.7M1058.6 293.2L1069.2 285.7M1085.5 293.2L1099.8 285.7" stroke="#cf9cca" stroke-width="7.1" stroke-linecap="round" fill="none"/><path d="M911.5 300.6L889.7 285.7M934.8 300.6L920.3 285.7M957.4 300.6L950.1 285.7M980.1 300.6L979.9 285.7M1002.1 300.6L1008.8 285.7M1025.3 300.6L1039.4 285.7M1047.9 300.6L1069.2 285.7M1071.2 300.6L1099.8 285.7" stroke="#e0b0da" stroke-width="4.4" stroke-linecap="round" fill="none"/><path d="M900.6 293.2L889.7 285.7M927.6 293.2L920.3 285.7M953.8 293.2L950.1 285.7M980 293.2L979.9 285.7M1005.4 293.2L1008.8 285.7M1032.4 293.2L1039.4 285.7M1058.6 293.2L1069.2 285.7M1085.5 293.2L1099.8 285.7" stroke="#e0b0da" stroke-width="6.1" stroke-linecap="round" fill="none"/><path d="M899.6 320.7L874 312.2M922.9 320.7L904.6 312.2M946.7 320.7L936 312.2M969.4 320.7L965.8 312.2M992 320.7L995.6 312.2M1014.6 320.7L1025.4 312.2M1037.3 320.7L1055.1 312.2M1059.9 320.7L1084.9 312.2M1083.2 320.7L1115.5 312.2" stroke="#cf9cca" stroke-width="5.4" stroke-linecap="round" fill="none"/><path d="M886.8 316.5L874 312.2M913.7 316.5L904.6 312.2M941.4 316.5L936 312.2M967.6 316.5L965.8 312.2M993.8 316.5L995.6 312.2M1020 316.5L1025.4 312.2M1046.2 316.5L1055.1 312.2M1072.4 316.5L1084.9 312.2M1099.3 316.5L1115.5 312.2" stroke="#cf9cca" stroke-width="7.1" stroke-linecap="round" fill="none"/><path d="M899.6 320.7L874 312.2M922.9 320.7L904.6 312.2M946.7 320.7L936 312.2M969.4 320.7L965.8 312.2M992 320.7L995.6 312.2M1014.6 320.7L1025.4 312.2M1037.3 320.7L1055.1 312.2M1059.9 320.7L1084.9 312.2M1083.2 320.7L1115.5 312.2" stroke="#e0b0da" stroke-width="4.4" stroke-linecap="round" fill="none"/><path d="M886.8 316.5L874 312.2M913.7 316.5L904.6 312.2M941.4 316.5L936 312.2M967.6 316.5L965.8 312.2M993.8 316.5L995.6 312.2M1020 316.5L1025.4 312.2M1046.2 316.5L1055.1 312.2M1072.4 316.5L1084.9 312.2M1099.3 316.5L1115.5 312.2" stroke="#e0b0da" stroke-width="6.1" stroke-linecap="round" fill="none"/><path d="M892.7 376.7L864.9 385.8M916.6 376.7L896.3 385.8M940.5 376.7L927.8 385.8M964.3 376.7L959.2 385.8M988.2 376.7L990.6 385.8M1012.1 376.7L1022 385.8M1036 376.7L1053.5 385.8M1059.9 376.7L1084.9 385.8M1082.5 376.7L1114.7 385.8" stroke="#cf9cca" stroke-width="5.4" stroke-linecap="round" fill="none"/><path d="M878.8 381.2L864.9 385.8M906.4 381.2L896.3 385.8M934.1 381.2L927.8 385.8M961.8 381.2L959.2 385.8M989.4 381.2L990.6 385.8M1017.1 381.2L1022 385.8M1044.7 381.2L1053.5 385.8M1072.4 381.2L1084.9 385.8M1098.6 381.2L1114.7 385.8" stroke="#cf9cca" stroke-width="7.1" stroke-linecap="round" fill="none"/><path d="M892.7 376.7L864.9 385.8M916.6 376.7L896.3 385.8M940.5 376.7L927.8 385.8M964.3 376.7L959.2 385.8M988.2 376.7L990.6 385.8M1012.1 376.7L1022 385.8M1036 376.7L1053.5 385.8M1059.9 376.7L1084.9 385.8M1082.5 376.7L1114.7 385.8" stroke="#e0b0da" stroke-width="4.4" stroke-linecap="round" fill="none"/><path d="M878.8 381.2L864.9 385.8M906.4 381.2L896.3 385.8M934.1 381.2L927.8 385.8M961.8 381.2L959.2 385.8M989.4 381.2L990.6 385.8M1017.1 381.2L1022 385.8M1044.7 381.2L1053.5 385.8M1072.4 381.2L1084.9 385.8M1098.6 381.2L1114.7 385.8" stroke="#e0b0da" stroke-width="6.1" stroke-linecap="round" fill="none"/><path d="M904 398.7L879.8 414.7M927.9 398.7L911.2 414.7M951.1 398.7L941.8 414.7M975 398.7L973.2 414.7M998.9 398.7L1004.7 414.7M1023.4 398.7L1036.9 414.7M1047.3 398.7L1068.4 414.7M1071.2 398.7L1099.8 414.7" stroke="#cf9cca" stroke-width="5.4" stroke-linecap="round" fill="none"/><path d="M891.9 406.7L879.8 414.7M919.5 406.7L911.2 414.7M946.5 406.7L941.8 414.7M974.1 406.7L973.2 414.7M1001.8 406.7L1004.7 414.7M1030.2 406.7L1036.9 414.7M1057.8 406.7L1068.4 414.7M1085.5 406.7L1099.8 414.7" stroke="#cf9cca" stroke-width="7.1" stroke-linecap="round" fill="none"/><path d="M904 398.7L879.8 414.7M927.9 398.7L911.2 414.7M951.1 398.7L941.8 414.7M975 398.7L973.2 414.7M998.9 398.7L1004.7 414.7M1023.4 398.7L1036.9 414.7M1047.3 398.7L1068.4 414.7M1071.2 398.7L1099.8 414.7" stroke="#e0b0da" stroke-width="4.4" stroke-linecap="round" fill="none"/><path d="M891.9 406.7L879.8 414.7M919.5 406.7L911.2 414.7M946.5 406.7L941.8 414.7M974.1 406.7L973.2 414.7M1001.8 406.7L1004.7 414.7M1030.2 406.7L1036.9 414.7M1057.8 406.7L1068.4 414.7M1085.5 406.7L1099.8 414.7" stroke="#e0b0da" stroke-width="6.1" stroke-linecap="round" fill="none"/><path d="M911.5 313.8L889.7 303.1M934.2 313.8L919.5 303.1M957.4 313.8L950.1 303.1M980.1 313.8L979.9 303.1M1002.7 313.8L1009.6 303.1M1025.3 313.8L1039.4 303.1M1048.6 313.8L1070 303.1M1071.8 313.8L1100.6 303.1" stroke="#6f8cd2" stroke-width="6.6" stroke-linecap="round" fill="none"/><path d="M900.6 308.4L889.7 303.1M926.8 308.4L919.5 303.1M953.8 308.4L950.1 303.1M980 308.4L979.9 303.1M1006.2 308.4L1009.6 303.1M1032.4 308.4L1039.4 303.1M1059.3 308.4L1070 303.1M1086.2 308.4L1100.6 303.1" stroke="#6f8cd2" stroke-width="8.5" stroke-linecap="round" fill="none"/><path d="M911.5 313.8L889.7 303.1M934.2 313.8L919.5 303.1M957.4 313.8L950.1 303.1M980.1 313.8L979.9 303.1M1002.7 313.8L1009.6 303.1M1025.3 313.8L1039.4 303.1M1048.6 313.8L1070 303.1M1071.8 313.8L1100.6 303.1" stroke="#8aa6e6" stroke-width="5.6" stroke-linecap="round" fill="none"/><path d="M900.6 308.4L889.7 303.1M926.8 308.4L919.5 303.1M953.8 308.4L950.1 303.1M980 308.4L979.9 303.1M1006.2 308.4L1009.6 303.1M1032.4 308.4L1039.4 303.1M1059.3 308.4L1070 303.1M1086.2 308.4L1100.6 303.1" stroke="#8aa6e6" stroke-width="7.5" stroke-linecap="round" fill="none"/><path d="M897.7 338.9L871.5 336.2M915.3 338.9L894.7 336.2M934.2 338.9L919.5 336.2M953 338.9L944.3 336.2M971.9 338.9L969.1 336.2M988.2 338.9L990.6 336.2M1005.2 338.9L1012.9 336.2M1019.7 338.9L1032 336.2M1034.1 338.9L1051 336.2M1048.6 338.9L1070 336.2M1063.7 338.9L1089.9 336.2M1081.3 338.9L1113 336.2" stroke="#6f8cd2" stroke-width="6.6" stroke-linecap="round" fill="none"/><path d="M884.6 337.6L871.5 336.2M905 337.6L894.7 336.2M926.8 337.6L919.5 336.2M948.7 337.6L944.3 336.2M970.5 337.6L969.1 336.2M989.4 337.6L990.6 336.2M1009.1 337.6L1012.9 336.2M1025.8 337.6L1032 336.2M1042.6 337.6L1051 336.2M1059.3 337.6L1070 336.2M1076.8 337.6L1089.9 336.2M1097.1 337.6L1113 336.2" stroke="#6f8cd2" stroke-width="8.5" stroke-linecap="round" fill="none"/><path d="M897.7 338.9L871.5 336.2M915.3 338.9L894.7 336.2M934.2 338.9L919.5 336.2M953 338.9L944.3 336.2M971.9 338.9L969.1 336.2M988.2 338.9L990.6 336.2M1005.2 338.9L1012.9 336.2M1019.7 338.9L1032 336.2M1034.1 338.9L1051 336.2M1048.6 338.9L1070 336.2M1063.7 338.9L1089.9 336.2M1081.3 338.9L1113 336.2" stroke="#8aa6e6" stroke-width="5.6" stroke-linecap="round" fill="none"/><path d="M884.6 337.6L871.5 336.2M905 337.6L894.7 336.2M926.8 337.6L919.5 336.2M948.7 337.6L944.3 336.2M970.5 337.6L969.1 336.2M989.4 337.6L990.6 336.2M1009.1 337.6L1012.9 336.2M1025.8 337.6L1032 336.2M1042.6 337.6L1051 336.2M1059.3 337.6L1070 336.2M1076.8 337.6L1089.9 336.2M1097.1 337.6L1113 336.2" stroke="#8aa6e6" stroke-width="7.5" stroke-linecap="round" fill="none"/><path d="M897.1 357.8L870.7 361M917.8 357.8L898 361M935.4 357.8L921.1 361M954.9 357.8L946.8 361M973.1 357.8L970.8 361M992 357.8L995.6 361M1008.3 357.8L1017.1 361M1027.2 357.8L1041.9 361M1046.1 357.8L1066.7 361M1066.2 357.8L1093.2 361M1085 357.8L1118 361" stroke="#6f8cd2" stroke-width="6.6" stroke-linecap="round" fill="none"/><path d="M883.9 359.4L870.7 361M907.9 359.4L898 361M928.3 359.4L921.1 361M950.8 359.4L946.8 361M972 359.4L970.8 361M993.8 359.4L995.6 361M1012.7 359.4L1017.1 361M1034.5 359.4L1041.9 361M1056.4 359.4L1066.7 361M1079.7 359.4L1093.2 361M1101.5 359.4L1118 361" stroke="#6f8cd2" stroke-width="8.5" stroke-linecap="round" fill="none"/><path d="M897.1 357.8L870.7 361M917.8 357.8L898 361M935.4 357.8L921.1 361M954.9 357.8L946.8 361M973.1 357.8L970.8 361M992 357.8L995.6 361M1008.3 357.8L1017.1 361M1027.2 357.8L1041.9 361M1046.1 357.8L1066.7 361M1066.2 357.8L1093.2 361M1085 357.8L1118 361" stroke="#8aa6e6" stroke-width="5.6" stroke-linecap="round" fill="none"/><path d="M883.9 359.4L870.7 361M907.9 359.4L898 361M928.3 359.4L921.1 361M950.8 359.4L946.8 361M972 359.4L970.8 361M993.8 359.4L995.6 361M1012.7 359.4L1017.1 361M1034.5 359.4L1041.9 361M1056.4 359.4L1066.7 361M1079.7 359.4L1093.2 361M1101.5 359.4L1118 361" stroke="#8aa6e6" stroke-width="7.5" stroke-linecap="round" fill="none"/><path d="M904 384.8L879.8 396.6M927.9 384.8L911.2 396.6M951.8 384.8L942.6 396.6M975 384.8L973.2 396.6M998.9 384.8L1004.7 396.6M1023.4 384.8L1036.9 396.6M1047.3 384.8L1068.4 396.6M1071.2 384.8L1099.8 396.6" stroke="#6f8cd2" stroke-width="6.6" stroke-linecap="round" fill="none"/><path d="M891.9 390.7L879.8 396.6M919.5 390.7L911.2 396.6M947.2 390.7L942.6 396.6M974.1 390.7L973.2 396.6M1001.8 390.7L1004.7 396.6M1030.2 390.7L1036.9 396.6M1057.8 390.7L1068.4 396.6M1085.5 390.7L1099.8 396.6" stroke="#6f8cd2" stroke-width="8.5" stroke-linecap="round" fill="none"/><path d="M904 384.8L879.8 396.6M927.9 384.8L911.2 396.6M951.8 384.8L942.6 396.6M975 384.8L973.2 396.6M998.9 384.8L1004.7 396.6M1023.4 384.8L1036.9 396.6M1047.3 384.8L1068.4 396.6M1071.2 384.8L1099.8 396.6" stroke="#8aa6e6" stroke-width="5.6" stroke-linecap="round" fill="none"/><path d="M891.9 390.7L879.8 396.6M919.5 390.7L911.2 396.6M947.2 390.7L942.6 396.6M974.1 390.7L973.2 396.6M1001.8 390.7L1004.7 396.6M1030.2 390.7L1036.9 396.6M1057.8 390.7L1068.4 396.6M1085.5 390.7L1099.8 396.6" stroke="#8aa6e6" stroke-width="7.5" stroke-linecap="round" fill="none"/><path d="M906.5 347.8L883.1 347.8M925.4 347.8L907.9 347.8M944.9 347.8L933.5 347.8M963.1 347.8L957.5 347.8M981.3 347.8L981.5 347.8M1000.2 347.8L1006.3 347.8M1018.4 347.8L1030.3 347.8M1036.6 347.8L1054.3 347.8M1055.5 347.8L1079.1 347.8M1073.7 347.8L1103.1 347.8" stroke="#cfa25e" stroke-width="5.6" stroke-linecap="round" fill="none"/><path d="M894.8 347.8L883.1 347.8M916.6 347.8L907.9 347.8M939.2 347.8L933.5 347.8M960.3 347.8L957.5 347.8M981.4 347.8L981.5 347.8M1003.3 347.8L1006.3 347.8M1024.4 347.8L1030.3 347.8M1045.5 347.8L1054.3 347.8M1067.3 347.8L1079.1 347.8M1088.4 347.8L1103.1 347.8" stroke="#cfa25e" stroke-width="7.4" stroke-linecap="round" fill="none"/><path d="M906.5 347.8L883.1 347.8M925.4 347.8L907.9 347.8M944.9 347.8L933.5 347.8M963.1 347.8L957.5 347.8M981.3 347.8L981.5 347.8M1000.2 347.8L1006.3 347.8M1018.4 347.8L1030.3 347.8M1036.6 347.8L1054.3 347.8M1055.5 347.8L1079.1 347.8M1073.7 347.8L1103.1 347.8" stroke="#e0b676" stroke-width="4.6" stroke-linecap="round" fill="none"/><path d="M894.8 347.8L883.1 347.8M916.6 347.8L907.9 347.8M939.2 347.8L933.5 347.8M960.3 347.8L957.5 347.8M981.4 347.8L981.5 347.8M1003.3 347.8L1006.3 347.8M1024.4 347.8L1030.3 347.8M1045.5 347.8L1054.3 347.8M1067.3 347.8L1079.1 347.8M1088.4 347.8L1103.1 347.8" stroke="#e0b676" stroke-width="6.4" stroke-linecap="round" fill="none"/><path d="M889.7 285.7L889.7 294.4M920.3 285.7L919.9 294.4M950.1 285.7L950.1 294.4M979.9 285.7L979.9 294.4M1008.8 285.7L1009.2 294.4M1039.4 285.7L1039.4 294.4M1069.2 285.7L1069.6 294.4M1099.8 285.7L1100.2 294.4M896.1 290.1L896.1 298.1M924.5 290.1L924.1 298.1M952.2 290.1L952.2 298.1M979.9 290.1L979.9 298.1M1006.8 290.1L1007.2 298.1M1035.3 290.1L1035.3 298.1M1063 290.1L1063.4 298.1M1091.5 290.1L1091.8 298.1M902.4 294.4L902.4 301.9M928.8 294.4L928.4 301.9M954.4 294.4L954.4 301.9M980 294.4L980 301.9M1004.9 294.4L1005.2 301.9M1031.2 294.4L1031.2 301.9M1056.8 294.4L1057.2 301.9M1083.1 294.4L1083.5 301.9M907.9 298.1L907.9 305.1M932.4 298.1L932.1 305.1M956.2 298.1L956.2 305.1M980 298.1L980 305.1M1003.2 298.1L1003.5 305.1M1027.7 298.1L1027.7 305.1M1051.5 298.1L1051.8 305.1M1076 298.1L1076.3 305.1" stroke="#e0b0da" stroke-width="2.4" fill="none" stroke-linecap="round"/><path d="M889.7 294.4L889.7 303.1M919.9 294.4L919.5 303.1M950.1 294.4L950.1 303.1M979.9 294.4L979.9 303.1M1009.2 294.4L1009.6 303.1M1039.4 294.4L1039.4 303.1M1069.6 294.4L1070 303.1M1100.2 294.4L1100.6 303.1M896.1 298.1L896.1 306.2M924.1 298.1L923.8 306.2M952.2 298.1L952.2 306.2M979.9 298.1L979.9 306.2M1007.2 298.1L1007.6 306.2M1035.3 298.1L1035.3 306.2M1063.4 298.1L1063.8 306.2M1091.8 298.1L1092.2 306.2M902.4 301.9L902.4 309.3M928.4 301.9L928 309.3M954.4 301.9L954.4 309.3M980 301.9L980 309.3M1005.2 301.9L1005.6 309.3M1031.2 301.9L1031.2 309.3M1057.2 301.9L1057.5 309.3M1083.5 301.9L1083.8 309.3M907.9 305.1L907.9 312M932.1 305.1L931.7 312M956.2 305.1L956.2 312M980 305.1L980 312M1003.5 305.1L1003.8 312M1027.7 305.1L1027.7 312M1051.8 305.1L1052.2 312M1076.3 305.1L1076.6 312" stroke="#8aa6e6" stroke-width="2.4" fill="none" stroke-linecap="round"/><path d="M889.7 303.1L881.8 307.6M889.7 303.1L897.1 307.6M919.5 303.1L912 307.6M919.5 303.1L927.8 307.6M950.1 303.1L943.1 307.6M950.1 303.1L957.9 307.6M979.9 303.1L972.8 307.6M979.9 303.1L987.7 307.6M1009.6 303.1L1002.6 307.6M1009.6 303.1L1017.5 307.6M1039.4 303.1L1032.4 307.6M1039.4 303.1L1047.3 307.6M1070 303.1L1062.6 307.6M1070 303.1L1077.5 307.6M1100.6 303.1L1092.8 307.6M1100.6 303.1L1108.1 307.6M896.1 306.2L888.8 310.4M896.1 306.2L903 310.4M923.8 306.2L916.8 310.4M923.8 306.2L931.5 310.4M952.2 306.2L945.7 310.4M952.2 306.2L959.5 310.4M979.9 306.2L973.4 310.4M979.9 306.2L987.2 310.4M1007.6 306.2L1001.1 310.4M1007.6 306.2L1014.9 310.4M1035.3 306.2L1028.8 310.4M1035.3 306.2L1042.6 310.4M1063.8 306.2L1056.8 310.4M1063.8 306.2L1070.7 310.4M1092.2 306.2L1084.9 310.4M1092.2 306.2L1099.1 310.4M902.4 309.3L895.7 313.3M902.4 309.3L908.8 313.3M928 309.3L921.6 313.3M928 309.3L935.2 313.3M954.4 309.3L948.3 313.3M954.4 309.3L961.1 313.3M980 309.3L973.9 313.3M980 309.3L986.7 313.3M1005.6 309.3L999.5 313.3M1005.6 309.3L1012.3 313.3M1031.2 309.3L1025.1 313.3M1031.2 309.3L1037.9 313.3M1057.5 309.3L1051.1 313.3M1057.5 309.3L1063.9 313.3M1083.8 309.3L1077.1 313.3M1083.8 309.3L1090.2 313.3M907.9 312L901.6 315.7M907.9 312L913.9 315.7M931.7 312L925.8 315.7M931.7 312L938.3 315.7M956.2 312L950.6 315.7M956.2 312L962.5 315.7M980 312L974.4 315.7M980 312L986.3 315.7M1003.8 312L998.2 315.7M1003.8 312L1010.1 315.7M1027.7 312L1022 315.7M1027.7 312L1034 315.7M1052.2 312L1046.2 315.7M1052.2 312L1058.1 315.7M1076.6 312L1070.3 315.7M1076.6 312L1082.6 315.7" stroke="#8aa6e6" stroke-width="2.4" fill="none" stroke-linecap="round"/><path d="M881.8 307.6L874 312.2M897.1 307.6L904.6 312.2M912 307.6L904.6 312.2M927.8 307.6L936 312.2M943.1 307.6L936 312.2M957.9 307.6L965.8 312.2M972.8 307.6L965.8 312.2M987.7 307.6L995.6 312.2M1002.6 307.6L995.6 312.2M1017.5 307.6L1025.4 312.2M1032.4 307.6L1025.4 312.2M1047.3 307.6L1055.1 312.2M1062.6 307.6L1055.1 312.2M1077.5 307.6L1084.9 312.2M1092.8 307.6L1084.9 312.2M1108.1 307.6L1115.5 312.2M888.8 310.4L881.5 314.7M903 310.4L909.9 314.7M916.8 310.4L909.9 314.7M931.5 310.4L939.1 314.7M945.7 310.4L939.1 314.7M959.5 310.4L966.8 314.7M973.4 310.4L966.8 314.7M987.2 310.4L994.5 314.7M1001.1 310.4L994.5 314.7M1014.9 310.4L1022.2 314.7M1028.8 310.4L1022.2 314.7M1042.6 310.4L1049.9 314.7M1056.8 310.4L1049.9 314.7M1070.7 310.4L1077.6 314.7M1084.9 310.4L1077.6 314.7M1099.1 310.4L1106.1 314.7M895.7 313.3L888.9 317.2M908.8 313.3L915.2 317.2M921.6 313.3L915.2 317.2M935.2 313.3L942.3 317.2M948.3 313.3L942.3 317.2M961.1 313.3L967.9 317.2M973.9 313.3L967.9 317.2M986.7 313.3L993.5 317.2M999.5 313.3L993.5 317.2M1012.3 313.3L1019.1 317.2M1025.1 313.3L1019.1 317.2M1037.9 313.3L1044.7 317.2M1051.1 313.3L1044.7 317.2M1063.9 313.3L1070.3 317.2M1077.1 313.3L1070.3 317.2M1090.2 313.3L1096.6 317.2M901.6 315.7L895.3 319.3M913.9 315.7L919.8 319.3M925.8 315.7L919.8 319.3M938.3 315.7L945 319.3M950.6 315.7L945 319.3M962.5 315.7L968.8 319.3M974.4 315.7L968.8 319.3M986.3 315.7L992.6 319.3M998.2 315.7L992.6 319.3M1010.1 315.7L1016.4 319.3M1022 315.7L1016.4 319.3M1034 315.7L1040.2 319.3M1046.2 315.7L1040.2 319.3M1058.1 315.7L1064.1 319.3M1070.3 315.7L1064.1 319.3M1082.6 315.7L1088.5 319.3" stroke="#e0b0da" stroke-width="2.4" fill="none" stroke-linecap="round"/><path d="M874 312.2L872.7 324.2M874 312.2L884.3 324.2M904.6 312.2L899.6 324.2M904.6 312.2L912 324.2M936 312.2L927.8 324.2M936 312.2L940.2 324.2M965.8 312.2L967.5 324.2M995.6 312.2L993.1 324.2M995.6 312.2L1004.3 324.2M1025.4 312.2L1019.1 324.2M1025.4 312.2L1028.7 324.2M1055.1 312.2L1053.1 324.2M1055.1 312.2L1062.6 324.2M1084.9 312.2L1077.5 324.2M1084.9 312.2L1087.4 324.2M1115.5 312.2L1114.3 324.2M881.5 314.7L880.3 325.8M881.5 314.7L891.1 325.8M909.9 314.7L905.3 325.8M909.9 314.7L916.8 325.8M939.1 314.7L931.5 325.8M939.1 314.7L943 325.8M966.8 314.7L968.4 325.8M994.5 314.7L992.2 325.8M994.5 314.7L1002.6 325.8M1022.2 314.7L1016.5 325.8M1022.2 314.7L1025.3 325.8M1049.9 314.7L1048 325.8M1049.9 314.7L1056.8 325.8M1077.6 314.7L1070.7 325.8M1077.6 314.7L1079.9 325.8M1106.1 314.7L1104.9 325.8M888.9 317.2L887.9 327.5M888.9 317.2L897.8 327.5M915.2 317.2L911 327.5M915.2 317.2L921.6 327.5M942.3 317.2L935.2 327.5M942.3 317.2L945.8 327.5M967.9 317.2L969.3 327.5M993.5 317.2L991.4 327.5M993.5 317.2L1001 327.5M1019.1 317.2L1013.8 327.5M1019.1 317.2L1021.9 327.5M1044.7 317.2L1042.9 327.5M1044.7 317.2L1051.1 327.5M1070.3 317.2L1063.9 327.5M1070.3 317.2L1072.4 327.5M1096.6 317.2L1095.6 327.5M895.3 319.3L894.3 328.9M895.3 319.3L903.6 328.9M919.8 319.3L915.8 328.9M919.8 319.3L925.8 328.9M945 319.3L938.3 328.9M945 319.3L948.3 328.9M968.8 319.3L970.1 328.9M992.6 319.3L990.6 328.9M992.6 319.3L999.5 328.9M1016.4 319.3L1011.5 328.9M1016.4 319.3L1019.1 328.9M1040.2 319.3L1038.6 328.9M1040.2 319.3L1046.2 328.9M1064.1 319.3L1058.1 328.9M1064.1 319.3L1066 328.9M1088.5 319.3L1087.6 328.9" stroke="#e0b0da" stroke-width="2.4" fill="none" stroke-linecap="round"/><path d="M872.7 324.2L871.5 336.2M884.3 324.2L894.7 336.2M899.6 324.2L894.7 336.2M912 324.2L919.5 336.2M927.8 324.2L919.5 336.2M940.2 324.2L944.3 336.2M967.5 324.2L969.1 336.2M993.1 324.2L990.6 336.2M1004.3 324.2L1012.9 336.2M1019.1 324.2L1012.9 336.2M1028.7 324.2L1032 336.2M1053.1 324.2L1051 336.2M1062.6 324.2L1070 336.2M1077.5 324.2L1070 336.2M1087.4 324.2L1089.9 336.2M1114.3 324.2L1113 336.2M880.3 325.8L879.1 337M891.1 325.8L900.7 337M905.3 325.8L900.7 337M916.8 325.8L923.8 337M931.5 325.8L923.8 337M943 325.8L946.8 337M968.4 325.8L969.9 337M992.2 325.8L989.9 337M1002.6 325.8L1010.7 337M1016.5 325.8L1010.7 337M1025.3 325.8L1028.4 337M1048 325.8L1046.1 337M1056.8 325.8L1063.8 337M1070.7 325.8L1063.8 337M1079.9 325.8L1082.2 337M1104.9 325.8L1103.8 337M887.9 327.5L886.8 337.8M897.8 327.5L906.7 337.8M911 327.5L906.7 337.8M921.6 327.5L928 337.8M935.2 327.5L928 337.8M945.8 327.5L949.4 337.8M969.3 327.5L970.7 337.8M991.4 327.5L989.2 337.8M1001 327.5L1008.4 337.8M1013.8 327.5L1008.4 337.8M1021.9 327.5L1024.8 337.8M1042.9 327.5L1041.1 337.8M1051.1 327.5L1057.5 337.8M1063.9 327.5L1057.5 337.8M1072.4 327.5L1074.6 337.8M1095.6 327.5L1094.5 337.8M894.3 328.9L893.3 338.5M903.6 328.9L911.9 338.5M915.8 328.9L911.9 338.5M925.8 328.9L931.7 338.5M938.3 328.9L931.7 338.5M948.3 328.9L951.6 338.5M970.1 328.9L971.4 338.5M990.6 328.9L988.6 338.5M999.5 328.9L1006.5 338.5M1011.5 328.9L1006.5 338.5M1019.1 328.9L1021.7 338.5M1038.6 328.9L1036.9 338.5M1046.2 328.9L1052.2 338.5M1058.1 328.9L1052.2 338.5M1066 328.9L1068 338.5M1087.6 328.9L1086.6 338.5" stroke="#8aa6e6" stroke-width="2.4" fill="none" stroke-linecap="round"/><path d="M871.5 336.2L877.3 342M894.7 336.2L888.9 342M894.7 336.2L901.3 342M919.5 336.2L913.7 342M919.5 336.2L926.5 342M944.3 336.2L938.9 342M944.3 336.2L950.9 342M969.1 336.2L963.3 342M969.1 336.2L975.3 342M990.6 336.2L986.1 342M990.6 336.2L998.5 342M1012.9 336.2L1009.6 342M1032 336.2L1031.1 342M1051 336.2L1052.6 342M1070 336.2L1062.2 342M1070 336.2L1074.6 342M1089.9 336.2L1084.5 342M1089.9 336.2L1096.5 342M1113 336.2L1108.1 342M879.1 337L884.5 342.4M900.7 337L895.3 342.4M900.7 337L906.8 342.4M923.8 337L918.4 342.4M923.8 337L930.3 342.4M946.8 337L941.8 342.4M946.8 337L953 342.4M969.9 337L964.5 342.4M969.9 337L975.7 342.4M989.9 337L985.7 342.4M989.9 337L997.2 342.4M1010.7 337L1007.6 342.4M1028.4 337L1027.6 342.4M1046.1 337L1047.6 342.4M1063.8 337L1056.5 342.4M1063.8 337L1068 342.4M1082.2 337L1077.2 342.4M1082.2 337L1088.4 342.4M1103.8 337L1099.1 342.4M886.8 337.8L891.8 342.8M906.7 337.8L901.7 342.8M906.7 337.8L912.4 342.8M928 337.8L923.1 342.8M928 337.8L934.1 342.8M949.4 337.8L944.8 342.8M949.4 337.8L955.1 342.8M970.7 337.8L965.7 342.8M970.7 337.8L976.1 342.8M989.2 337.8L985.3 342.8M989.2 337.8L996 342.8M1008.4 337.8L1005.6 342.8M1024.8 337.8L1024.1 342.8M1041.1 337.8L1042.6 342.8M1057.5 337.8L1050.8 342.8M1057.5 337.8L1061.4 342.8M1074.6 337.8L1070 342.8M1074.6 337.8L1080.3 342.8M1094.5 337.8L1090.2 342.8M893.3 338.5L898 343.1M911.9 338.5L907.2 343.1M911.9 338.5L917.2 343.1M931.7 338.5L927.1 343.1M931.7 338.5L937.3 343.1M951.6 338.5L947.3 343.1M951.6 338.5L956.9 343.1M971.4 338.5L966.8 343.1M971.4 338.5L976.4 343.1M988.6 338.5L985 343.1M988.6 338.5L994.9 343.1M1006.5 338.5L1003.8 343.1M1021.7 338.5L1021.1 343.1M1036.9 338.5L1038.3 343.1M1052.2 338.5L1045.9 343.1M1052.2 338.5L1055.8 343.1M1068 338.5L1063.7 343.1M1068 338.5L1073.3 343.1M1086.6 338.5L1082.6 343.1" stroke="#8aa6e6" stroke-width="3" fill="none" stroke-linecap="round"/><path d="M877.3 342L883.1 347.8M888.9 342L883.1 347.8M901.3 342L907.9 347.8M913.7 342L907.9 347.8M926.5 342L933.5 347.8M938.9 342L933.5 347.8M950.9 342L957.5 347.8M963.3 342L957.5 347.8M975.3 342L981.5 347.8M986.1 342L981.5 347.8M998.5 342L1006.3 347.8M1009.6 342L1006.3 347.8M1031.1 342L1030.3 347.8M1052.6 342L1054.3 347.8M1062.2 342L1054.3 347.8M1074.6 342L1079.1 347.8M1084.5 342L1079.1 347.8M1096.5 342L1103.1 347.8M1108.1 342L1103.1 347.8M884.5 342.4L889.9 347.8M895.3 342.4L889.9 347.8M906.8 342.4L913 347.8M918.4 342.4L913 347.8M930.3 342.4L936.8 347.8M941.8 342.4L936.8 347.8M953 342.4L959.1 347.8M964.5 342.4L959.1 347.8M975.7 342.4L981.5 347.8M985.7 342.4L981.5 347.8M997.2 342.4L1004.5 347.8M1007.6 342.4L1004.5 347.8M1027.6 342.4L1026.8 347.8M1047.6 342.4L1049.1 347.8M1056.5 342.4L1049.1 347.8M1068 342.4L1072.2 347.8M1077.2 342.4L1072.2 347.8M1088.4 342.4L1094.5 347.8M1099.1 342.4L1094.5 347.8M891.8 342.8L896.7 347.8M901.7 342.8L896.7 347.8M912.4 342.8L918.1 347.8M923.1 342.8L918.1 347.8M934.1 342.8L940.1 347.8M944.8 342.8L940.1 347.8M955.1 342.8L960.8 347.8M965.7 342.8L960.8 347.8M976.1 342.8L981.4 347.8M985.3 342.8L981.4 347.8M996 342.8L1002.7 347.8M1005.6 342.8L1002.7 347.8M1024.1 342.8L1023.4 347.8M1042.6 342.8L1044 347.8M1050.8 342.8L1044 347.8M1061.4 342.8L1065.3 347.8M1070 342.8L1065.3 347.8M1080.3 342.8L1086 347.8M1090.2 342.8L1086 347.8M898 343.1L902.6 347.8M907.2 343.1L902.6 347.8M917.2 343.1L922.5 347.8M927.1 343.1L922.5 347.8M937.3 343.1L943 347.8M947.3 343.1L943 347.8M956.9 343.1L962.2 347.8M966.8 343.1L962.2 347.8M976.4 343.1L981.3 347.8M985 343.1L981.3 347.8M994.9 343.1L1001.2 347.8M1003.8 343.1L1001.2 347.8M1021.1 343.1L1020.4 347.8M1038.3 343.1L1039.6 347.8M1045.9 343.1L1039.6 347.8M1055.8 343.1L1059.4 347.8M1063.7 343.1L1059.4 347.8M1073.3 343.1L1078.6 347.8M1082.6 343.1L1078.6 347.8" stroke="#e0b676" stroke-width="3" fill="none" stroke-linecap="round"/><path d="M883.1 347.8L876.9 354.4M883.1 347.8L890.5 354.4M907.9 347.8L902.9 354.4M907.9 347.8L914.5 354.4M933.5 347.8L927.3 354.4M933.5 347.8L940.2 354.4M957.5 347.8L952.2 354.4M957.5 347.8L964.1 354.4M981.5 347.8L976.1 354.4M981.5 347.8L988.5 354.4M1006.3 347.8L1001 354.4M1006.3 347.8L1011.7 354.4M1030.3 347.8L1023.7 354.4M1030.3 347.8L1036.1 354.4M1054.3 347.8L1048.1 354.4M1054.3 347.8L1060.5 354.4M1079.1 347.8L1072.9 354.4M1079.1 347.8L1086.1 354.4M1103.1 347.8L1098.1 354.4M1103.1 347.8L1110.5 354.4M889.9 347.8L884.1 353.9M889.9 347.8L896.8 353.9M913 347.8L908.4 353.9M913 347.8L919.1 353.9M936.8 347.8L931.1 353.9M936.8 347.8L943 353.9M959.1 347.8L954.1 353.9M959.1 347.8L965.3 353.9M981.5 347.8L976.5 353.9M981.5 347.8L988 353.9M1004.5 347.8L999.5 353.9M1004.5 347.8L1009.5 353.9M1026.8 347.8L1020.7 353.9M1026.8 347.8L1032.2 353.9M1049.1 347.8L1043.4 353.9M1049.1 347.8L1054.9 353.9M1072.2 347.8L1066.5 353.9M1072.2 347.8L1078.8 353.9M1094.5 347.8L1089.9 353.9M1094.5 347.8L1101.5 353.9M896.7 347.8L891.4 353.4M896.7 347.8L903.2 353.4M918.1 347.8L913.8 353.4M918.1 347.8L923.8 353.4M940.1 347.8L934.8 353.4M940.1 347.8L945.8 353.4M960.8 347.8L956.1 353.4M960.8 347.8L966.5 353.4M981.4 347.8L976.8 353.4M981.4 347.8L987.4 353.4M1002.7 347.8L998.1 353.4M1002.7 347.8L1007.4 353.4M1023.4 347.8L1017.7 353.4M1023.4 347.8L1028.3 353.4M1044 347.8L1038.7 353.4M1044 347.8L1049.3 353.4M1065.3 347.8L1060 353.4M1065.3 347.8L1071.4 353.4M1086 347.8L1081.7 353.4M1086 347.8L1092.4 353.4M902.6 347.8L897.6 353M902.6 347.8L908.6 353M922.5 347.8L918.5 353M922.5 347.8L927.8 353M943 347.8L938 353M943 347.8L948.3 353M962.2 347.8L957.9 353M962.2 347.8L967.5 353M981.3 347.8L977 353M981.3 347.8L987 353M1001.2 347.8L996.9 353M1001.2 347.8L1005.5 353M1020.4 347.8L1015.1 353M1020.4 347.8L1025 353M1039.6 347.8L1034.6 353M1039.6 347.8L1044.5 353M1059.4 347.8L1054.5 353M1059.4 347.8L1065.1 353M1078.6 347.8L1074.6 353M1078.6 347.8L1084.6 353" stroke="#e0b676" stroke-width="3" fill="none" stroke-linecap="round"/><path d="M876.9 354.4L870.7 361M890.5 354.4L898 361M902.9 354.4L898 361M914.5 354.4L921.1 361M927.3 354.4L921.1 361M940.2 354.4L946.8 361M952.2 354.4L946.8 361M964.1 354.4L970.8 361M976.1 354.4L970.8 361M988.5 354.4L995.6 361M1001 354.4L995.6 361M1011.7 354.4L1017.1 361M1023.7 354.4L1017.1 361M1036.1 354.4L1041.9 361M1048.1 354.4L1041.9 361M1060.5 354.4L1066.7 361M1072.9 354.4L1066.7 361M1086.1 354.4L1093.2 361M1098.1 354.4L1093.2 361M1110.5 354.4L1118 361M884.1 353.9L878.4 360.1M896.8 353.9L903.8 360.1M908.4 353.9L903.8 360.1M919.1 353.9L925.3 360.1M931.1 353.9L925.3 360.1M943 353.9L949.1 360.1M954.1 353.9L949.1 360.1M965.3 353.9L971.5 360.1M976.5 353.9L971.5 360.1M988 353.9L994.5 360.1M999.5 353.9L994.5 360.1M1009.5 353.9L1014.5 360.1M1020.7 353.9L1014.5 360.1M1032.2 353.9L1037.6 360.1M1043.4 353.9L1037.6 360.1M1054.9 353.9L1060.7 360.1M1066.5 353.9L1060.7 360.1M1078.8 353.9L1085.3 360.1M1089.9 353.9L1085.3 360.1M1101.5 353.9L1108.4 360.1M891.4 353.4L886.1 359.1M903.2 353.4L909.6 359.1M913.8 353.4L909.6 359.1M923.8 353.4L929.5 359.1M934.8 353.4L929.5 359.1M945.8 353.4L951.5 359.1M956.1 353.4L951.5 359.1M966.5 353.4L972.2 359.1M976.8 353.4L972.2 359.1M987.4 353.4L993.5 359.1M998.1 353.4L993.5 359.1M1007.4 353.4L1012 359.1M1017.7 353.4L1012 359.1M1028.3 353.4L1033.3 359.1M1038.7 353.4L1033.3 359.1M1049.3 353.4L1054.7 359.1M1060 353.4L1054.7 359.1M1071.4 353.4L1077.4 359.1M1081.7 353.4L1077.4 359.1M1092.4 353.4L1098.8 359.1M897.6 353L892.7 358.3M908.6 353L914.5 358.3M918.5 353L914.5 358.3M927.8 353L933 358.3M938 353L933 358.3M948.3 353L953.6 358.3M957.9 353L953.6 358.3M967.5 353L972.7 358.3M977 353L972.7 358.3M987 353L992.6 358.3M996.9 353L992.6 358.3M1005.5 353L1009.8 358.3M1015.1 353L1009.8 358.3M1025 353L1029.7 358.3M1034.6 353L1029.7 358.3M1044.5 353L1049.5 358.3M1054.5 353L1049.5 358.3M1065.1 353L1070.7 358.3M1074.6 353L1070.7 358.3M1084.6 353L1090.5 358.3" stroke="#8aa6e6" stroke-width="3" fill="none" stroke-linecap="round"/><path d="M870.7 361L867.8 373.4M898 361L897.1 373.4M921.1 361L924.4 373.4M946.8 361L937.3 373.4M946.8 361L953 373.4M970.8 361L965 373.4M970.8 361L980.7 373.4M995.6 361L993.1 373.4M1017.1 361L1019.6 373.4M1041.9 361L1032 373.4M1041.9 361L1047.7 373.4M1066.7 361L1060.1 373.4M1066.7 361L1075.8 373.4M1093.2 361L1089 373.4M1118 361L1116.3 373.4M878.4 360.1L875.7 371.6M903.8 360.1L903 371.6M925.3 360.1L928.4 371.6M949.1 360.1L940.3 371.6M949.1 360.1L954.9 371.6M971.5 360.1L966.1 371.6M971.5 360.1L980.7 371.6M994.5 360.1L992.2 371.6M1014.5 360.1L1016.8 371.6M1037.6 360.1L1028.4 371.6M1037.6 360.1L1043 371.6M1060.7 360.1L1054.5 371.6M1060.7 360.1L1069.1 371.6M1085.3 360.1L1081.5 371.6M1108.4 360.1L1106.8 371.6M886.1 359.1L883.6 369.8M909.6 359.1L908.8 369.8M929.5 359.1L932.3 369.8M951.5 359.1L943.3 369.8M951.5 359.1L956.9 369.8M972.2 359.1L967.2 369.8M972.2 359.1L980.7 369.8M993.5 359.1L991.4 369.8M1012 359.1L1014.1 369.8M1033.3 359.1L1024.8 369.8M1033.3 359.1L1038.3 369.8M1054.7 359.1L1049 369.8M1054.7 359.1L1062.5 369.8M1077.4 359.1L1073.9 369.8M1098.8 359.1L1097.3 369.8M892.7 358.3L890.4 368.3M914.5 358.3L913.9 368.3M933 358.3L935.7 368.3M953.6 358.3L945.9 368.3M953.6 358.3L958.5 368.3M972.7 358.3L968.1 368.3M972.7 358.3L980.7 368.3M992.6 358.3L990.6 368.3M1009.8 358.3L1011.8 368.3M1029.7 358.3L1021.7 368.3M1029.7 358.3L1034.3 368.3M1049.5 358.3L1044.2 368.3M1049.5 358.3L1056.8 368.3M1070.7 358.3L1067.4 368.3M1090.5 358.3L1089.2 368.3" stroke="#8aa6e6" stroke-width="2.4" fill="none" stroke-linecap="round"/><path d="M867.8 373.4L864.9 385.8M897.1 373.4L896.3 385.8M924.4 373.4L927.8 385.8M937.3 373.4L927.8 385.8M953 373.4L959.2 385.8M965 373.4L959.2 385.8M980.7 373.4L990.6 385.8M993.1 373.4L990.6 385.8M1019.6 373.4L1022 385.8M1032 373.4L1022 385.8M1047.7 373.4L1053.5 385.8M1060.1 373.4L1053.5 385.8M1075.8 373.4L1084.9 385.8M1089 373.4L1084.9 385.8M1116.3 373.4L1114.7 385.8M875.7 371.6L873 383.1M903 371.6L902.2 383.1M928.4 371.6L931.5 383.1M940.3 371.6L931.5 383.1M954.9 371.6L960.7 383.1M966.1 371.6L960.7 383.1M980.7 371.6L989.9 383.1M992.2 371.6L989.9 383.1M1016.8 371.6L1019.1 383.1M1028.4 371.6L1019.1 383.1M1043 371.6L1048.4 383.1M1054.5 371.6L1048.4 383.1M1069.1 371.6L1077.6 383.1M1081.5 371.6L1077.6 383.1M1106.8 371.6L1105.3 383.1M883.6 369.8L881.1 380.5M908.8 369.8L908.1 380.5M932.3 369.8L935.2 380.5M943.3 369.8L935.2 380.5M956.9 369.8L962.2 380.5M967.2 369.8L962.2 380.5M980.7 369.8L989.2 380.5M991.4 369.8L989.2 380.5M1014.1 369.8L1016.3 380.5M1024.8 369.8L1016.3 380.5M1038.3 369.8L1043.3 380.5M1049 369.8L1043.3 380.5M1062.5 369.8L1070.3 380.5M1073.9 369.8L1070.3 380.5M1097.3 369.8L1095.9 380.5M890.4 368.3L888 378.2M913.9 368.3L913.2 378.2M935.7 368.3L938.3 378.2M945.9 368.3L938.3 378.2M958.5 368.3L963.5 378.2M968.1 368.3L963.5 378.2M980.7 368.3L988.6 378.2M990.6 368.3L988.6 378.2M1011.8 368.3L1013.8 378.2M1021.7 368.3L1013.8 378.2M1034.3 368.3L1038.9 378.2M1044.2 368.3L1038.9 378.2M1056.8 368.3L1064.1 378.2M1067.4 368.3L1064.1 378.2M1089.2 368.3L1087.9 378.2" stroke="#e0b0da" stroke-width="2.4" fill="none" stroke-linecap="round"/><path d="M864.9 385.8L872.3 391.2M896.3 385.8L888 391.2M896.3 385.8L903.8 391.2M927.8 385.8L919.5 391.2M927.8 385.8L935.2 391.2M959.2 385.8L950.9 391.2M959.2 385.8L966.2 391.2M990.6 385.8L981.9 391.2M990.6 385.8L997.6 391.2M1022 385.8L1013.4 391.2M1022 385.8L1029.5 391.2M1053.5 385.8L1045.2 391.2M1053.5 385.8L1060.9 391.2M1084.9 385.8L1076.6 391.2M1084.9 385.8L1092.3 391.2M1114.7 385.8L1107.2 391.2M873 383.1L879.9 388.1M902.2 383.1L894.5 388.1M902.2 383.1L909.1 388.1M931.5 383.1L923.8 388.1M931.5 383.1L938.4 388.1M960.7 383.1L953 388.1M960.7 383.1L967.2 388.1M989.9 383.1L981.8 388.1M989.9 383.1L996.5 388.1M1019.1 383.1L1011.1 388.1M1019.1 383.1L1026.1 388.1M1048.4 383.1L1040.7 388.1M1048.4 383.1L1055.3 388.1M1077.6 383.1L1069.9 388.1M1077.6 383.1L1084.5 388.1M1105.3 383.1L1098.4 388.1M881.1 380.5L887.5 385.1M908.1 380.5L901 385.1M908.1 380.5L914.5 385.1M935.2 380.5L928 385.1M935.2 380.5L941.6 385.1M962.2 380.5L955.1 385.1M962.2 380.5L968.2 385.1M989.2 380.5L981.8 385.1M989.2 380.5L995.3 385.1M1016.3 380.5L1008.8 385.1M1016.3 380.5L1022.7 385.1M1043.3 380.5L1036.2 385.1M1043.3 380.5L1049.7 385.1M1070.3 380.5L1063.2 385.1M1070.3 380.5L1076.7 385.1M1095.9 380.5L1089.5 385.1M888 378.2L894 382.5M913.2 378.2L906.6 382.5M913.2 378.2L919.1 382.5M938.3 378.2L931.7 382.5M938.3 378.2L944.3 382.5M963.5 378.2L956.9 382.5M963.5 378.2L969.1 382.5M988.6 378.2L981.7 382.5M988.6 378.2L994.3 382.5M1013.8 378.2L1006.8 382.5M1013.8 378.2L1019.7 382.5M1038.9 378.2L1032.3 382.5M1038.9 378.2L1044.9 382.5M1064.1 378.2L1057.4 382.5M1064.1 378.2L1070 382.5M1087.9 378.2L1081.9 382.5" stroke="#e0b0da" stroke-width="2.4" fill="none" stroke-linecap="round"/><path d="M872.3 391.2L879.8 396.6M888 391.2L879.8 396.6M903.8 391.2L911.2 396.6M919.5 391.2L911.2 396.6M935.2 391.2L942.6 396.6M950.9 391.2L942.6 396.6M966.2 391.2L973.2 396.6M981.9 391.2L973.2 396.6M997.6 391.2L1004.7 396.6M1013.4 391.2L1004.7 396.6M1029.5 391.2L1036.9 396.6M1045.2 391.2L1036.9 396.6M1060.9 391.2L1068.4 396.6M1076.6 391.2L1068.4 396.6M1092.3 391.2L1099.8 396.6M1107.2 391.2L1099.8 396.6M879.9 388.1L886.8 393.1M894.5 388.1L886.8 393.1M909.1 388.1L916.1 393.1M923.8 388.1L916.1 393.1M938.4 388.1L945.3 393.1M953 388.1L945.3 393.1M967.2 388.1L973.8 393.1M981.8 388.1L973.8 393.1M996.5 388.1L1003 393.1M1011.1 388.1L1003 393.1M1026.1 388.1L1033 393.1M1040.7 388.1L1033 393.1M1055.3 388.1L1062.2 393.1M1069.9 388.1L1062.2 393.1M1084.5 388.1L1091.5 393.1M1098.4 388.1L1091.5 393.1M887.5 385.1L893.9 389.7M901 385.1L893.9 389.7M914.5 385.1L920.9 389.7M928 385.1L920.9 389.7M941.6 385.1L948 389.7M955.1 385.1L948 389.7M968.2 385.1L974.3 389.7M981.8 385.1L974.3 389.7M995.3 385.1L1001.3 389.7M1008.8 385.1L1001.3 389.7M1022.7 385.1L1029.1 389.7M1036.2 385.1L1029.1 389.7M1049.7 385.1L1056.1 389.7M1063.2 385.1L1056.1 389.7M1076.7 385.1L1083.1 389.7M1089.5 385.1L1083.1 389.7M894 382.5L900 386.8M906.6 382.5L900 386.8M919.1 382.5L925.1 386.8M931.7 382.5L925.1 386.8M944.3 382.5L950.2 386.8M956.9 382.5L950.2 386.8M969.1 382.5L974.7 386.8M981.7 382.5L974.7 386.8M994.3 382.5L999.9 386.8M1006.8 382.5L999.9 386.8M1019.7 382.5L1025.7 386.8M1032.3 382.5L1025.7 386.8M1044.9 382.5L1050.8 386.8M1057.4 382.5L1050.8 386.8M1070 382.5L1076 386.8M1081.9 382.5L1076 386.8" stroke="#8aa6e6" stroke-width="2.4" fill="none" stroke-linecap="round"/><path d="M879.8 396.6L879.8 405.6M911.2 396.6L911.2 405.6M942.6 396.6L942.2 405.6M973.2 396.6L973.2 405.6M1004.7 396.6L1004.7 405.6M1036.9 396.6L1036.9 405.6M1068.4 396.6L1068.4 405.6M1099.8 396.6L1099.8 405.6M886.8 393.1L886.8 401.6M916.1 393.1L916.1 401.6M945.3 393.1L944.9 401.6M973.8 393.1L973.8 401.6M1003 393.1L1003 401.6M1033 393.1L1033 401.6M1062.2 393.1L1062.2 401.6M1091.5 393.1L1091.5 401.6M893.9 389.7L893.9 397.5M920.9 389.7L920.9 397.5M948 389.7L947.6 397.5M974.3 389.7L974.3 397.5M1001.3 389.7L1001.3 397.5M1029.1 389.7L1029.1 397.5M1056.1 389.7L1056.1 397.5M1083.1 389.7L1083.1 397.5M900 386.8L900 394.1M925.1 386.8L925.1 394.1M950.2 386.8L949.9 394.1M974.7 386.8L974.7 394.1M999.9 386.8L999.9 394.1M1025.7 386.8L1025.7 394.1M1050.8 386.8L1050.8 394.1M1076 386.8L1076 394.1" stroke="#8aa6e6" stroke-width="2.4" fill="none" stroke-linecap="round"/><path d="M879.8 405.6L879.8 414.7M911.2 405.6L911.2 414.7M942.2 405.6L941.8 414.7M973.2 405.6L973.2 414.7M1004.7 405.6L1004.7 414.7M1036.9 405.6L1036.9 414.7M1068.4 405.6L1068.4 414.7M1099.8 405.6L1099.8 414.7M886.8 401.6L886.8 410.1M916.1 401.6L916.1 410.1M944.9 401.6L944.5 410.1M973.8 401.6L973.8 410.1M1003 401.6L1003 410.1M1033 401.6L1033 410.1M1062.2 401.6L1062.2 410.1M1091.5 401.6L1091.5 410.1M893.9 397.5L893.9 405.4M920.9 397.5L920.9 405.4M947.6 397.5L947.3 405.4M974.3 397.5L974.3 405.4M1001.3 397.5L1001.3 405.4M1029.1 397.5L1029.1 405.4M1056.1 397.5L1056.1 405.4M1083.1 397.5L1083.1 405.4M900 394.1L900 401.3M925.1 394.1L925.1 401.3M949.9 394.1L949.6 401.3M974.7 394.1L974.7 401.3M999.9 394.1L999.9 401.3M1025.7 394.1L1025.7 401.3M1050.8 394.1L1050.8 401.3M1076 394.1L1076 401.3" stroke="#e0b0da" stroke-width="2.4" fill="none" stroke-linecap="round"/><circle cx="889.7" cy="285.7" r="3.7" fill="url(#gO)"/><circle cx="920.3" cy="285.7" r="3.7" fill="url(#gO)"/><circle cx="950.1" cy="285.7" r="3.7" fill="url(#gO)"/><circle cx="979.9" cy="285.7" r="3.7" fill="url(#gO)"/><circle cx="1008.8" cy="285.7" r="3.7" fill="url(#gO)"/><circle cx="1039.4" cy="285.7" r="3.7" fill="url(#gO)"/><circle cx="1069.2" cy="285.7" r="3.7" fill="url(#gO)"/><circle cx="1099.8" cy="285.7" r="3.7" fill="url(#gO)"/><circle cx="874" cy="312.2" r="3.7" fill="url(#gO)"/><circle cx="904.6" cy="312.2" r="3.7" fill="url(#gO)"/><circle cx="936" cy="312.2" r="3.7" fill="url(#gO)"/><circle cx="965.8" cy="312.2" r="3.7" fill="url(#gO)"/><circle cx="995.6" cy="312.2" r="3.7" fill="url(#gO)"/><circle cx="1025.4" cy="312.2" r="3.7" fill="url(#gO)"/><circle cx="1055.1" cy="312.2" r="3.7" fill="url(#gO)"/><circle cx="1084.9" cy="312.2" r="3.7" fill="url(#gO)"/><circle cx="1115.5" cy="312.2" r="3.7" fill="url(#gO)"/><circle cx="864.9" cy="385.8" r="3.7" fill="url(#gO)"/><circle cx="896.3" cy="385.8" r="3.7" fill="url(#gO)"/><circle cx="927.8" cy="385.8" r="3.7" fill="url(#gO)"/><circle cx="959.2" cy="385.8" r="3.7" fill="url(#gO)"/><circle cx="990.6" cy="385.8" r="3.7" fill="url(#gO)"/><circle cx="1022" cy="385.8" r="3.7" fill="url(#gO)"/><circle cx="1053.5" cy="385.8" r="3.7" fill="url(#gO)"/><circle cx="1084.9" cy="385.8" r="3.7" fill="url(#gO)"/><circle cx="1114.7" cy="385.8" r="3.7" fill="url(#gO)"/><circle cx="879.8" cy="414.7" r="3.7" fill="url(#gO)"/><circle cx="911.2" cy="414.7" r="3.7" fill="url(#gO)"/><circle cx="941.8" cy="414.7" r="3.7" fill="url(#gO)"/><circle cx="973.2" cy="414.7" r="3.7" fill="url(#gO)"/><circle cx="1004.7" cy="414.7" r="3.7" fill="url(#gO)"/><circle cx="1036.9" cy="414.7" r="3.7" fill="url(#gO)"/><circle cx="1068.4" cy="414.7" r="3.7" fill="url(#gO)"/><circle cx="1099.8" cy="414.7" r="3.7" fill="url(#gO)"/><circle cx="889.7" cy="303.1" r="4.7" fill="url(#gV2)"/><circle cx="919.5" cy="303.1" r="4.7" fill="url(#gV2)"/><circle cx="950.1" cy="303.1" r="4.7" fill="url(#gV2)"/><circle cx="979.9" cy="303.1" r="4.7" fill="url(#gV2)"/><circle cx="1009.6" cy="303.1" r="4.7" fill="url(#gV2)"/><circle cx="1039.4" cy="303.1" r="4.7" fill="url(#gV2)"/><circle cx="1070" cy="303.1" r="4.7" fill="url(#gV2)"/><circle cx="1100.6" cy="303.1" r="4.7" fill="url(#gV2)"/><circle cx="871.5" cy="336.2" r="4.7" fill="url(#gV2)"/><circle cx="894.7" cy="336.2" r="4.7" fill="url(#gV2)"/><circle cx="919.5" cy="336.2" r="4.7" fill="url(#gV2)"/><circle cx="944.3" cy="336.2" r="4.7" fill="url(#gV2)"/><circle cx="969.1" cy="336.2" r="4.7" fill="url(#gV2)"/><circle cx="990.6" cy="336.2" r="4.7" fill="url(#gV2)"/><circle cx="1012.9" cy="336.2" r="4.7" fill="url(#gV2)"/><circle cx="1032" cy="336.2" r="4.7" fill="url(#gV2)"/><circle cx="1051" cy="336.2" r="4.7" fill="url(#gV2)"/><circle cx="1070" cy="336.2" r="4.7" fill="url(#gV2)"/><circle cx="1089.9" cy="336.2" r="4.7" fill="url(#gV2)"/><circle cx="1113" cy="336.2" r="4.7" fill="url(#gV2)"/><circle cx="870.7" cy="361" r="4.7" fill="url(#gV2)"/><circle cx="898" cy="361" r="4.7" fill="url(#gV2)"/><circle cx="921.1" cy="361" r="4.7" fill="url(#gV2)"/><circle cx="946.8" cy="361" r="4.7" fill="url(#gV2)"/><circle cx="970.8" cy="361" r="4.7" fill="url(#gV2)"/><circle cx="995.6" cy="361" r="4.7" fill="url(#gV2)"/><circle cx="1017.1" cy="361" r="4.7" fill="url(#gV2)"/><circle cx="1041.9" cy="361" r="4.7" fill="url(#gV2)"/><circle cx="1066.7" cy="361" r="4.7" fill="url(#gV2)"/><circle cx="1093.2" cy="361" r="4.7" fill="url(#gV2)"/><circle cx="1118" cy="361" r="4.7" fill="url(#gV2)"/><circle cx="879.8" cy="396.6" r="4.7" fill="url(#gV2)"/><circle cx="911.2" cy="396.6" r="4.7" fill="url(#gV2)"/><circle cx="942.6" cy="396.6" r="4.7" fill="url(#gV2)"/><circle cx="973.2" cy="396.6" r="4.7" fill="url(#gV2)"/><circle cx="1004.7" cy="396.6" r="4.7" fill="url(#gV2)"/><circle cx="1036.9" cy="396.6" r="4.7" fill="url(#gV2)"/><circle cx="1068.4" cy="396.6" r="4.7" fill="url(#gV2)"/><circle cx="1099.8" cy="396.6" r="4.7" fill="url(#gV2)"/><circle cx="883.1" cy="347.8" r="4.2" fill="url(#gC)"/><circle cx="907.9" cy="347.8" r="4.2" fill="url(#gC)"/><circle cx="933.5" cy="347.8" r="4.2" fill="url(#gC)"/><circle cx="957.5" cy="347.8" r="4.2" fill="url(#gC)"/><circle cx="981.5" cy="347.8" r="4.2" fill="url(#gC)"/><circle cx="1006.3" cy="347.8" r="4.2" fill="url(#gC)"/><circle cx="1030.3" cy="347.8" r="4.2" fill="url(#gC)"/><circle cx="1054.3" cy="347.8" r="4.2" fill="url(#gC)"/><circle cx="1079.1" cy="347.8" r="4.2" fill="url(#gC)"/><circle cx="1103.1" cy="347.8" r="4.2" fill="url(#gC)"/>
<line x1="168.6" y1="200.6" x2="44.5" y2="276.6" stroke="#444" stroke-width="1.6" stroke-dasharray="10 5"/><line x1="185.2" y1="200.6" x2="312.4" y2="276.6" stroke="#444" stroke-width="1.6" stroke-dasharray="10 5"/>
<rect x="168.6" y="186.9" width="16.6" height="13.7" fill="none" stroke="#222" stroke-width="2" stroke-dasharray="6 3.5"/>
<rect x="44.5" y="276.6" width="267.9" height="146.4" fill="none" stroke="#444" stroke-width="2" rx="6" stroke-dasharray="9 4.5"/>
<line x1="569.7" y1="217" x2="449.9" y2="280.8" stroke="#444" stroke-width="1.6" stroke-dasharray="10 5"/><line x1="586.1" y1="217" x2="718.7" y2="280.8" stroke="#444" stroke-width="1.6" stroke-dasharray="10 5"/>
<rect x="569.7" y="202.8" width="16.4" height="14.2" fill="none" stroke="#222" stroke-width="2" stroke-dasharray="6 3.5"/>
<rect x="449.9" y="280.8" width="268.8" height="145.5" fill="none" stroke="#444" stroke-width="2" rx="6" stroke-dasharray="9 4.5"/>
<line x1="976" y1="216.1" x2="857" y2="279.9" stroke="#444" stroke-width="1.6" stroke-dasharray="10 5"/><line x1="993" y1="216.1" x2="1125.9" y2="279.9" stroke="#444" stroke-width="1.6" stroke-dasharray="10 5"/>
<rect x="976" y="201.5" width="17" height="14.6" fill="none" stroke="#222" stroke-width="2" stroke-dasharray="6 3.5"/>
<rect x="857" y="279.9" width="268.9" height="139.8" fill="none" stroke="#444" stroke-width="2" rx="6" stroke-dasharray="9 4.5"/>
<circle cx="293.1" cy="453.5" r="12.3" fill="url(#gLAl)"/>
<text x="315.5" y="462" font-size="20" text-anchor="start" fill="#222" >Al</text>
<circle cx="489" cy="451.7" r="12" fill="url(#gLV)"/>
<text x="510.4" y="459.7" font-size="20" text-anchor="start" fill="#222" >V</text>
<circle cx="696" cy="452.4" r="11" fill="url(#gLO)"/>
<text x="713.7" y="459.5" font-size="20" text-anchor="start" fill="#222" >O</text>
<circle cx="870.6" cy="452.8" r="10" fill="url(#gLC)"/>
<text x="888.2" y="459.7" font-size="20" text-anchor="start" fill="#222" >C</text></g>
<g id="panel_b"><rect x="1290.43" y="410.5" width="3" height="24.8" fill="#878787" stroke="none" stroke-width="1" rx="1"/>
<rect x="1328.14" y="374" width="3" height="61.3" fill="#878787" stroke="none" stroke-width="1" rx="1"/>
<rect x="1339.01" y="414" width="3" height="21.3" fill="#878787" stroke="none" stroke-width="1" rx="1"/>
<rect x="1368.08" y="426.4" width="3" height="8.9" fill="#878787" stroke="none" stroke-width="1" rx="1"/>
<rect x="1372.66" y="387.7" width="3" height="47.6" fill="#878787" stroke="none" stroke-width="1" rx="1"/>
<rect x="1409.77" y="400.6" width="3" height="34.7" fill="#878787" stroke="none" stroke-width="1" rx="1"/>
<rect x="1419.33" y="416" width="3" height="19.3" fill="#878787" stroke="none" stroke-width="1" rx="1"/>
<rect x="1426.98" y="425" width="3" height="10.3" fill="#878787" stroke="none" stroke-width="1" rx="1"/>
<rect x="1434.63" y="415" width="3" height="20.3" fill="#878787" stroke="none" stroke-width="1" rx="1"/>
<rect x="1447.63" y="427" width="3" height="8.3" fill="#878787" stroke="none" stroke-width="1" rx="1"/>
<rect x="1458.35" y="427.6" width="3" height="7.7" fill="#878787" stroke="none" stroke-width="1" rx="1"/>
<rect x="1479" y="428" width="3" height="7.3" fill="#878787" stroke="none" stroke-width="1" rx="1"/>
<rect x="1487.11" y="422.4" width="3" height="12.9" fill="#878787" stroke="none" stroke-width="1" rx="1"/>
<rect x="1492.77" y="425.8" width="3" height="9.5" fill="#878787" stroke="none" stroke-width="1" rx="1"/>
<rect x="1509.6" y="427" width="3" height="8.3" fill="#878787" stroke="none" stroke-width="1" rx="1"/>
<rect x="1518.78" y="423.2" width="3" height="12.1" fill="#878787" stroke="none" stroke-width="1" rx="1"/>
<rect x="1532.55" y="420.9" width="3" height="14.4" fill="#878787" stroke="none" stroke-width="1" rx="1"/>
<rect x="1537.14" y="424.4" width="3" height="10.9" fill="#878787" stroke="none" stroke-width="1" rx="1"/>
<rect x="1544.79" y="424.3" width="3" height="11" fill="#878787" stroke="none" stroke-width="1" rx="1"/>
<rect x="1549.38" y="427.4" width="3" height="7.9" fill="#878787" stroke="none" stroke-width="1" rx="1"/>
<rect x="1562.38" y="419.8" width="3" height="15.5" fill="#878787" stroke="none" stroke-width="1" rx="1"/>
<rect x="1565.06" y="425.5" width="3" height="9.8" fill="#878787" stroke="none" stroke-width="1" rx="1"/>
<rect x="1568.12" y="425" width="3" height="10.3" fill="#878787" stroke="none" stroke-width="1" rx="1"/>
<rect x="1571.57" y="427.9" width="3" height="7.4" fill="#878787" stroke="none" stroke-width="1" rx="1"/>
<rect x="1582.28" y="427.4" width="3" height="7.9" fill="#878787" stroke="none" stroke-width="1" rx="1"/>
<rect x="1596.05" y="425.2" width="3" height="10.1" fill="#878787" stroke="none" stroke-width="1" rx="1"/>
<rect x="1601.09" y="427.4" width="3" height="7.9" fill="#878787" stroke="none" stroke-width="1" rx="1"/>
<rect x="1613.64" y="427.4" width="3" height="7.9" fill="#878787" stroke="none" stroke-width="1" rx="1"/>
<rect x="1616.32" y="427" width="3" height="8.3" fill="#878787" stroke="none" stroke-width="1" rx="1"/>
<rect x="1618.61" y="427.4" width="3" height="7.9" fill="#878787" stroke="none" stroke-width="1" rx="1"/>
<rect x="1621.67" y="425.5" width="3" height="9.8" fill="#878787" stroke="none" stroke-width="1" rx="1"/>
<rect x="1628.94" y="427" width="3" height="8.3" fill="#878787" stroke="none" stroke-width="1" rx="1"/>
<rect x="1637.36" y="424.3" width="3" height="11" fill="#878787" stroke="none" stroke-width="1" rx="1"/>
<rect x="1645.01" y="423.5" width="3" height="11.8" fill="#878787" stroke="none" stroke-width="1" rx="1"/>
<rect x="1660.69" y="427" width="3" height="8.3" fill="#878787" stroke="none" stroke-width="1" rx="1"/>
<rect x="1663.37" y="426.6" width="3" height="8.7" fill="#878787" stroke="none" stroke-width="1" rx="1"/>
<rect x="1666.04" y="427" width="3" height="8.3" fill="#878787" stroke="none" stroke-width="1" rx="1"/>
<rect x="1668.72" y="427.4" width="3" height="7.9" fill="#878787" stroke="none" stroke-width="1" rx="1"/>
<rect x="1674.84" y="427" width="3" height="8.3" fill="#878787" stroke="none" stroke-width="1" rx="1"/>
<rect x="1687.85" y="427.4" width="3" height="7.9" fill="#878787" stroke="none" stroke-width="1" rx="1"/>
<rect x="1692.05" y="427.4" width="3" height="7.9" fill="#878787" stroke="none" stroke-width="1" rx="1"/>
<rect x="1694.73" y="427.4" width="3" height="7.9" fill="#878787" stroke="none" stroke-width="1" rx="1"/>
<rect x="1697.41" y="427" width="3" height="8.3" fill="#878787" stroke="none" stroke-width="1" rx="1"/>
<rect x="1701.62" y="427" width="3" height="8.3" fill="#878787" stroke="none" stroke-width="1" rx="1"/>
<rect x="1704.29" y="427.4" width="3" height="7.9" fill="#878787" stroke="none" stroke-width="1" rx="1"/>
<path d="M1219.5 172.2 1220.4 166.7 1221.3 156.5 1222.2 143.1 1223.1 123.9 1224 102.8 1224.9 87.1 1225.8 73 1226.7 91.5 1227.6 113.2 1228.5 132.6 1229.4 146.5 1230.3 154 1231.2 164.5 1232.1 169.2 1233 173.1 1233.9 173.2 1234.8 175.5 1235.7 178.5 1236.6 180.7 1237.5 183 1238.4 183.7 1239.3 185.4 1240.2 184.7 1241.1 186.7 1242 187.5 1242.9 186.7 1243.8 190.4 1244.7 189.4 1245.6 190.7 1246.5 188.6 1247.4 188.8 1248.3 189.7 1249.2 190.4 1250.1 191.7 1251 191.4 1251.9 190.7 1252.8 190.3 1253.7 191.1 1254.6 193.7 1255.5 191.2 1256.4 192.8 1257.3 193.2 1258.2 190.8 1259.1 193 1260 194.9 1260.9 190.5 1261.8 192.9 1262.7 193.4 1263.6 192.5 1264.5 194.4 1265.4 193.8 1266.3 192 1267.2 195.2 1268.1 195.1 1269 195.5 1269.9 196.3 1270.8 194.9 1271.7 194.7 1272.6 192.8 1273.5 195.5 1274.4 193.9 1275.3 194.2 1276.2 193.1 1277.1 193.6 1278 194.2 1278.9 196.7 1279.8 192.3 1280.7 193.1 1281.6 195.5 1282.5 197.1 1283.4 196 1284.3 192.6 1285.2 191.8 1286.1 195.6 1287 194.1 1287.9 193.4 1288.8 195.8 1289.7 194.9 1290.6 190.5 1291.5 185 1292.4 190.4 1293.3 195.5 1294.2 195.4 1295.1 195.8 1296 196.1 1296.9 193.4 1297.8 197.4 1298.7 197 1299.6 196.5 1300.5 193.2 1301.4 195 1302.3 197.1 1303.2 193.5 1304.1 195.7 1305 197.4 1305.9 194.2 1306.8 198.2 1307.7 196.8 1308.6 195.9 1309.5 196.5 1310.4 197 1311.3 196.2 1312.2 197.6 1313.1 195.2 1314 195.5 1314.9 197.4 1315.8 196.1 1316.7 194.8 1317.6 197.2 1318.5 197.8 1319.4 195.2 1320.3 193.8 1321.2 195.3 1322.1 195 1323 194.5 1323.9 196.3 1324.8 192.2 1325.7 193.9 1326.6 188 1327.5 183.2 1328.4 171.2 1329.3 135.6 1330.2 130.9 1331.1 168.4 1332 183.6 1332.9 189.6 1333.8 192.8 1334.7 193.2 1335.6 194.6 1336.5 195.4 1337.4 194.7 1338.3 195.3 1339.2 193.4 1340.1 190.5 1341 188.9 1341.9 192.8 1342.8 194.6 1343.7 195.7 1344.6 197.3 1345.5 195.8 1346.4 196.9 1347.3 199 1348.2 193.1 1349.1 195.1 1350 197 1350.9 197.3 1351.8 197.1 1352.7 196.2 1353.6 197.7 1354.5 197.2 1355.4 196.1 1356.3 200.1 1357.2 197.3 1358.1 196.1 1359 196.7 1359.9 196.5 1360.8 196.7 1361.7 193.1 1362.6 196.1 1363.5 198 1364.4 194.9 1365.3 196.1 1366.2 196.9 1367.1 195.6 1368 194.8 1368.9 191.5 1369.8 194 1370.7 193.6 1371.6 193.3 1372.5 189.8 1373.4 174.8 1374.3 172 1375.2 180.4 1376.1 191.2 1377 191.5 1377.9 195.2 1378.8 197.4 1379.7 196 1380.6 196.8 1381.5 197.8 1382.4 197.1 1383.3 196.9 1384.2 199.1 1385.1 198.5 1386 196.8 1386.9 200.9 1387.8 195.7 1388.7 198.5 1389.6 197 1390.5 197.5 1391.4 198.3 1392.3 197.7 1393.2 198.3 1394.1 195.3 1395 195.4 1395.9 198.3 1396.8 196.1 1397.7 196.1 1398.6 195.5 1399.5 199.2 1400.4 198.5 1401.3 199.4 1402.2 196.2 1403.1 197.4 1404 195.8 1404.9 198.3 1405.8 199.3 1406.7 195.8 1407.6 198.7 1408.5 197.2 1409.4 193.7 1410.3 186.1 1411.2 188.6 1412.1 192.7 1413 194.6 1413.9 196.9 1414.8 197.4 1415.7 199 1416.6 195.7 1417.5 198.5 1418.4 198.6 1419.3 197.4 1420.2 192 1421.1 189.3 1422 196 1422.9 196.5 1423.8 197.2 1424.7 199.2 1425.6 197.1 1426.5 194.4 1427.4 197.1 1428.3 195.1 1429.2 198.7 1430.1 198 1431 196.8 1431.9 197.5 1432.8 198.5 1433.7 197 1434.6 197.6 1435.5 191.8 1436.4 190.4 1437.3 196.9 1438.2 198.9 1439.1 196.4 1440 198.7 1440.9 195.1 1441.8 196.2 1442.7 195.1 1443.6 199.2 1444.5 196.1 1445.4 197.7 1446.3 197.3 1447.2 197.3 1448.1 196 1449 195.8 1449.9 196.4 1450.8 195.6 1451.7 197.6 1452.6 198.8 1453.5 197.4 1454.4 196.1 1455.3 197.1 1456.2 199.4 1457.1 195.8 1458 197.2 1458.9 199.4 1459.8 199.1 1460.7 198.1 1461.6 199.2 1462.5 198.3 1463.4 196.5 1464.3 196 1465.2 197.3 1466.1 199.4 1467 197.4 1467.9 196.9 1468.8 197.1 1469.7 196.1 1470.6 198 1471.5 196.6 1472.4 198.7 1473.3 195 1474.2 198.6 1475.1 197.3 1476 195.6 1476.9 199.2 1477.8 197.8 1478.7 195.2 1479.6 197 1480.5 198.5 1481.4 197.5 1482.3 199.2 1483.2 199.1 1484.1 198.9 1485 198.3 1485.9 199.4 1486.8 198 1487.7 196.5 1488.6 190.8 1489.5 195.5 1490.4 198.1 1491.3 196.8 1492.2 196.9 1493.1 200.2 1494 195 1494.9 197.3 1495.8 199 1496.7 195.4 1497.6 198.5 1498.5 200.5 1499.4 197.9 1500.3 198.9 1501.2 199.4 1502.1 197 1503 198.2 1503.9 198.7 1504.8 199.4 1505.7 198.3 1506.6 198.1 1507.5 197 1508.4 197.9 1509.3 199.6 1510.2 198.5 1511.1 197.2 1512 197.2 1512.9 202 1513.8 199.9 1514.7 199.2 1515.6 194.8 1516.5 199.2 1517.4 198.9 1518.3 200.4 1519.2 198.5 1520.1 197.2 1521 197.2 1521.9 194.5 1522.8 199.2 1523.7 198.6 1524.6 197.3 1525.5 200.1 1526.4 200.8 1527.3 196.5 1528.2 197.5 1529.1 198.7 1530 198.6 1530.9 197.7 1531.8 196.8 1532.7 200.8 1533.6 199 1534.5 195.2 1535.4 194.3 1536.3 198.8 1537.2 198.7 1538.1 200.3 1539 199.2 1539.9 197.1 1540.8 198.7 1541.7 195.5 1542.6 197.4 1543.5 198.4 1544.4 199.2 1545.3 197.5 1546.2 198.4 1547.1 199.2 1548 199.1 1548.9 199.4 1549.8 198.8 1550.7 198.1 1551.6 199.6 1552.5 198.6 1553.4 197.5 1554.3 197.7 1555.2 198.6 1556.1 198.4 1557 199.2 1557.9 199 1558.8 199.2 1559.7 198.7 1560.6 197.2 1561.5 199.4 1562.4 200.1 1563.3 198.9 1564.2 197 1565.1 195.2 1566 194.2 1566.9 195.1 1567.8 198.5 1568.7 197.5 1569.6 199.9 1570.5 197.5 1571.4 195.4 1572.3 197.6 1573.2 201.2 1574.1 198.5 1575 197.2 1575.9 198 1576.8 199.8 1577.7 199.8 1578.6 199.3 1579.5 201.1 1580.4 200.1 1581.3 199.1 1582.2 199.9 1583.1 201.3 1584 200.4 1584.9 200.5 1585.8 197.7 1586.7 198.9 1587.6 200.1 1588.5 198.7 1589.4 200.6 1590.3 199.9 1591.2 200.3 1592.1 198.8 1593 202.5 1593.9 200.7 1594.8 198.7 1595.7 199 1596.6 202.3 1597.5 198 1598.4 199.1 1599.3 199 1600.2 198.2 1601.1 197.1 1602 199.1 1602.9 199.5 1603.8 200.6 1604.7 200.2 1605.6 199.2 1606.5 200.3 1607.4 199.9 1608.3 199.4 1609.2 199.3 1610.1 198.9 1611 200.1 1611.9 197.8 1612.8 198.4 1613.7 199.2 1614.6 197.2 1615.5 198.6 1616.4 196.5 1617.3 198.3 1618.2 200 1619.1 200 1620 199.2 1620.9 198.9 1621.8 197.3 1622.7 201.7 1623.6 199.9 1624.5 200.7 1625.4 198 1626.3 199 1627.2 196.8 1628.1 200.3 1629 200.5 1629.9 196.7 1630.8 199.1 1631.7 200.1 1632.6 196.8 1633.5 196.7 1634.4 197.7 1635.3 198.2 1636.2 197.1 1637.1 199 1638 199.1 1638.9 199.2 1639.8 198.6 1640.7 198.6 1641.6 198.1 1642.5 195.8 1643.4 197.7 1644.3 197.3 1645.2 197.5 1646.1 198.9 1647 199.1 1647.9 199.8 1648.8 197.1 1649.7 197.6 1650.6 199.2 1651.5 199 1652.4 198.9 1653.3 199.2 1654.2 198.3 1655.1 200.2 1656 199.8 1656.9 199.2 1657.8 198.4 1658.7 199.1 1659.6 195.6 1660.5 198 1661.4 199.4 1662.3 197.3 1663.2 199.6 1664.1 199.5 1665 197.5 1665.9 199 1666.8 198.9 1667.7 200 1668.6 200.2 1669.5 199.3 1670.4 198.2 1671.3 199.2 1672.2 199.3 1673.1 200.4 1674 199.8 1674.9 198.4 1675.8 197.5 1676.7 198.9 1677.6 198.4 1678.5 197.9 1679.4 199.2 1680.3 198.7 1681.2 199.5 1682.1 200.1 1683 198.8 1683.9 202.5 1684.8 199 1685.7 200.9 1686.6 199.6 1687.5 200.9 1688.4 196.2 1689.3 198.4 1690.2 199.7 1691.1 200.2 1692 202.6 1692.9 199.8 1693.8 201.1 1694.7 200.4 1695.6 200.7 1696.5 200.1 1697.4 199.2 1698.3 200.1 1699.2 198 1700.1 201 1701 198 1701.9 199.8 1702.8 202.3 1703.7 199.1 1704.6 199.5 1705.5 201 1706.4 199.5" fill="none" stroke="#d9a531" stroke-width="3.4" stroke-linejoin="round" stroke-linecap="round" />
<path d="M1219.5 324 1220.4 323.7 1221.3 322.9 1222.2 321.6 1223.1 319.2 1224 316.9 1224.9 311.8 1225.8 302.2 1226.7 284.9 1227.6 250.8 1228.5 207.8 1229.4 218.1 1230.3 263.7 1231.2 291.5 1232.1 305.8 1233 313.9 1233.9 318.5 1234.8 320.9 1235.7 322.5 1236.6 324.3 1237.5 324.9 1238.4 325.8 1239.3 326.7 1240.2 327 1241.1 326.8 1242 328 1242.9 327.5 1243.8 328 1244.7 327.7 1245.6 328.1 1246.5 327.7 1247.4 328.9 1248.3 328.9 1249.2 328.2 1250.1 328.2 1251 328.3 1251.9 329.2 1252.8 328.8 1253.7 329 1254.6 329 1255.5 329.1 1256.4 328.8 1257.3 329.2 1258.2 328.8 1259.1 329.3 1260 329.5 1260.9 329.5 1261.8 329.4 1262.7 329.2 1263.6 329.6 1264.5 329.4 1265.4 330.1 1266.3 329.8 1267.2 329.6 1268.1 329.5 1269 329.5 1269.9 329.4 1270.8 329.6 1271.7 329.8 1272.6 329.9 1273.5 329.9 1274.4 330.4 1275.3 329.5 1276.2 329.7 1277.1 330.5 1278 329 1278.9 329.3 1279.8 329.2 1280.7 328.8 1281.6 328.1 1282.5 326.6 1283.4 324.4 1284.3 322.7 1285.2 324.7 1286.1 326.2 1287 327.9 1287.9 329 1288.8 329.1 1289.7 329.4 1290.6 330 1291.5 329.8 1292.4 330.3 1293.3 330.4 1294.2 330.3 1295.1 330.4 1296 330.3 1296.9 329.9 1297.8 330.3 1298.7 330.5 1299.6 330.2 1300.5 330.4 1301.4 330.7 1302.3 330.2 1303.2 330.7 1304.1 331.1 1305 330.4 1305.9 330.6 1306.8 330.5 1307.7 331 1308.6 330.7 1309.5 330.9 1310.4 330.4 1311.3 330.6 1312.2 330.6 1313.1 330.1 1314 331.1 1314.9 330.9 1315.8 330.1 1316.7 330.9 1317.6 330.6 1318.5 330.8 1319.4 330.8 1320.3 330.2 1321.2 330.6 1322.1 331.1 1323 330.5 1323.9 330.4 1324.8 330.3 1325.7 330.3 1326.6 330.8 1327.5 331.2 1328.4 330.8 1329.3 330.7 1330.2 331.3 1331.1 330.5 1332 330.4 1332.9 330.7 1333.8 330.7 1334.7 330.1 1335.6 329.9 1336.5 330.2 1337.4 329.9 1338.3 328.9 1339.2 328.5 1340.1 327.4 1341 326.9 1341.9 327 1342.8 328 1343.7 328.8 1344.6 329.9 1345.5 330.4 1346.4 330.1 1347.3 330.7 1348.2 330.3 1349.1 330.6 1350 330.9 1350.9 331.2 1351.8 330.7 1352.7 330.8 1353.6 330.9 1354.5 330.4 1355.4 330.9 1356.3 330.7 1357.2 331 1358.1 330.6 1359 330.3 1359.9 330.9 1360.8 331 1361.7 330.8 1362.6 331.2 1363.5 330.9 1364.4 330.8 1365.3 331.1 1366.2 330.5 1367.1 330.8 1368 331 1368.9 331.2 1369.8 330.9 1370.7 331.1 1371.6 330.8 1372.5 331.1 1373.4 331.5 1374.3 330.8 1375.2 331.7 1376.1 330.8 1377 331 1377.9 331.1 1378.8 331.3 1379.7 330.6 1380.6 330.4 1381.5 331.2 1382.4 331.2 1383.3 331.2 1384.2 331.8 1385.1 331 1386 331 1386.9 331.2 1387.8 331 1388.7 331.4 1389.6 330.5 1390.5 330.7 1391.4 329.7 1392.3 330.9 1393.2 330.4 1394.1 330.6 1395 330.6 1395.9 329.4 1396.8 328.6 1397.7 328 1398.6 328.1 1399.5 328.9 1400.4 329.9 1401.3 330.2 1402.2 330.5 1403.1 330.6 1404 331 1404.9 330.9 1405.8 330.8 1406.7 331.1 1407.6 330.9 1408.5 330.6 1409.4 331.4 1410.3 331.1 1411.2 330.7 1412.1 331.3 1413 331.1 1413.9 330.5 1414.8 331.4 1415.7 331 1416.6 331.2 1417.5 330.9 1418.4 330.7 1419.3 330.1 1420.2 330.6 1421.1 330.1 1422 330 1422.9 330.4 1423.8 330.6 1424.7 330.9 1425.6 330.7 1426.5 330.9 1427.4 330.3 1428.3 330.8 1429.2 331.2 1430.1 331.4 1431 330.9 1431.9 331 1432.8 331.5 1433.7 330.9 1434.6 331.2 1435.5 331.5 1436.4 331 1437.3 331.3 1438.2 330.7 1439.1 330.9 1440 330.7 1440.9 330.6 1441.8 330.8 1442.7 330.9 1443.6 329.7 1444.5 329.5 1445.4 329.7 1446.3 329.4 1447.2 330.1 1448.1 330.4 1449 330.4 1449.9 330.8 1450.8 330.3 1451.7 331.1 1452.6 330.4 1453.5 330.7 1454.4 330.8 1455.3 330.9 1456.2 331.3 1457.1 331.1 1458 330.9 1458.9 331.2 1459.8 331.6 1460.7 331.1 1461.6 331.2 1462.5 331.5 1463.4 331.2 1464.3 330.7 1465.2 331.9 1466.1 331.8 1467 330.5 1467.9 331.1 1468.8 331.3 1469.7 331.4 1470.6 331.3 1471.5 331 1472.4 330.8 1473.3 331.2 1474.2 331.4 1475.1 330.8 1476 330.8 1476.9 331.1 1477.8 330.5 1478.7 331.1 1479.6 331 1480.5 331.3 1481.4 330.9 1482.3 330.9 1483.2 331 1484.1 331.1 1485 330.9 1485.9 331.1 1486.8 331.3 1487.7 331.5 1488.6 331.6 1489.5 330.9 1490.4 331 1491.3 330.3 1492.2 331.6 1493.1 330.8 1494 331 1494.9 331.2 1495.8 330.6 1496.7 331.1 1497.6 330.9 1498.5 330.3 1499.4 330.9 1500.3 331.1 1501.2 330 1502.1 330.6 1503 330.2 1503.9 330 1504.8 329.5 1505.7 329.2 1506.6 328.3 1507.5 328.5 1508.4 328.4 1509.3 329.3 1510.2 329.4 1511.1 330 1512 330.8 1512.9 330.6 1513.8 330.6 1514.7 330.4 1515.6 330.6 1516.5 330.9 1517.4 331.2 1518.3 331.1 1519.2 331.2 1520.1 331 1521 331.4 1521.9 330.9 1522.8 330.9 1523.7 331.4 1524.6 331.1 1525.5 331 1526.4 330.9 1527.3 331 1528.2 331.3 1529.1 331.2 1530 330.8 1530.9 331.3 1531.8 331.2 1532.7 330.8 1533.6 331.4 1534.5 331.1 1535.4 331.1 1536.3 331.4 1537.2 331.6 1538.1 331 1539 331.3 1539.9 330.9 1540.8 331.9 1541.7 331 1542.6 331.5 1543.5 331 1544.4 331.4 1545.3 331.8 1546.2 330.4 1547.1 331 1548 331.3 1548.9 331.1 1549.8 331 1550.7 331.8 1551.6 331.2 1552.5 330.7 1553.4 331.4 1554.3 330.7 1555.2 331.5 1556.1 331 1557 331.2 1557.9 331.6 1558.8 331.2 1559.7 330.8 1560.6 330.7 1561.5 331.5 1562.4 331.4 1563.3 330.9 1564.2 331.4 1565.1 331.3 1566 331.4 1566.9 330.5 1567.8 331.1 1568.7 331.5 1569.6 331.4 1570.5 331.4 1571.4 330.4 1572.3 331.2 1573.2 331.3 1574.1 331.9 1575 330.9 1575.9 331.1 1576.8 331.2 1577.7 331.5 1578.6 331.1 1579.5 331.5 1580.4 330.9 1581.3 331.3 1582.2 331 1583.1 331.2 1584 331 1584.9 330.7 1585.8 331.5 1586.7 331.3 1587.6 331 1588.5 331.2 1589.4 331.5 1590.3 330.9 1591.2 331.2 1592.1 331.3 1593 331.3 1593.9 331.1 1594.8 330.6 1595.7 331.6 1596.6 331.3 1597.5 331.2 1598.4 331.1 1599.3 331.3 1600.2 331.1 1601.1 330.9 1602 331 1602.9 331 1603.8 331 1604.7 330.8 1605.6 331.4 1606.5 330.8 1607.4 331.4 1608.3 330.9 1609.2 331.3 1610.1 331.6 1611 331.2 1611.9 331 1612.8 331.2 1613.7 331.2 1614.6 330.7 1615.5 331 1616.4 331.2 1617.3 331 1618.2 331.2 1619.1 331.4 1620 331.4 1620.9 331.5 1621.8 331.4 1622.7 331.1 1623.6 331.2 1624.5 331.1 1625.4 331.1 1626.3 331.1 1627.2 330.7 1628.1 331.1 1629 331.2 1629.9 330.9 1630.8 331.2 1631.7 331.3 1632.6 331.1 1633.5 331.8 1634.4 330.4 1635.3 331.1 1636.2 330.6 1637.1 331.4 1638 331.9 1638.9 330.4 1639.8 331.2 1640.7 331.3 1641.6 331 1642.5 331.3 1643.4 330.4 1644.3 331.4 1645.2 331.2 1646.1 331.1 1647 330.9 1647.9 331.2 1648.8 330.9 1649.7 331.1 1650.6 330.8 1651.5 330.3 1652.4 330.9 1653.3 330.9 1654.2 331 1655.1 330.4 1656 330.5 1656.9 330.5 1657.8 330.1 1658.7 330.2 1659.6 330.2 1660.5 329.3 1661.4 329.1 1662.3 330.2 1663.2 330.6 1664.1 330.7 1665 330.8 1665.9 330.5 1666.8 330.6 1667.7 331.1 1668.6 330.6 1669.5 330.4 1670.4 330.7 1671.3 331.8 1672.2 331.6 1673.1 330.9 1674 330.9 1674.9 331.2 1675.8 330.9 1676.7 331.5 1677.6 331.1 1678.5 330.8 1679.4 331.5 1680.3 331 1681.2 331.2 1682.1 331.1 1683 331.1 1683.9 331.3 1684.8 331 1685.7 330.6 1686.6 330.5 1687.5 330.8 1688.4 330.9 1689.3 331.2 1690.2 331.2 1691.1 331.3 1692 331.2 1692.9 330.9 1693.8 331 1694.7 330.5 1695.6 331.1 1696.5 331.3 1697.4 331.3 1698.3 331.1 1699.2 331.1 1700.1 331.5 1701 331.2 1701.9 331.4 1702.8 331.4 1703.7 331.2 1704.6 331.6 1705.5 331 1706.4 331.1" fill="none" stroke="#7fa2cd" stroke-width="3.2" stroke-linejoin="round" stroke-linecap="round" />
<line x1="1251" y1="437.3" x2="1251" y2="444.3" stroke="#000" stroke-width="3" />
<line x1="1327.5" y1="437.3" x2="1327.5" y2="444.3" stroke="#000" stroke-width="3" />
<line x1="1404" y1="437.3" x2="1404" y2="444.3" stroke="#000" stroke-width="3" />
<line x1="1480.5" y1="437.3" x2="1480.5" y2="444.3" stroke="#000" stroke-width="3" />
<line x1="1557" y1="437.3" x2="1557" y2="444.3" stroke="#000" stroke-width="3" />
<line x1="1633.5" y1="437.3" x2="1633.5" y2="444.3" stroke="#000" stroke-width="3" />
<line x1="1710" y1="437.3" x2="1710" y2="444.3" stroke="#000" stroke-width="3" />
<line x1="1289.25" y1="437.3" x2="1289.25" y2="440.8" stroke="#000" stroke-width="3" />
<line x1="1365.75" y1="437.3" x2="1365.75" y2="440.8" stroke="#000" stroke-width="3" />
<line x1="1442.25" y1="437.3" x2="1442.25" y2="440.8" stroke="#000" stroke-width="3" />
<line x1="1518.75" y1="437.3" x2="1518.75" y2="440.8" stroke="#000" stroke-width="3" />
<line x1="1595.25" y1="437.3" x2="1595.25" y2="440.8" stroke="#000" stroke-width="3" />
<line x1="1671.75" y1="437.3" x2="1671.75" y2="440.8" stroke="#000" stroke-width="3" />
<rect x="1218" y="38.7" width="492" height="398.6" fill="none" stroke="#000" stroke-width="3.2" />
<text x="1251" y="468.8" font-size="25.2" text-anchor="middle" fill="#111" >10</text>
<text x="1327.5" y="468.8" font-size="25.2" text-anchor="middle" fill="#111" >20</text>
<text x="1404" y="468.8" font-size="25.2" text-anchor="middle" fill="#111" >30</text>
<text x="1480.5" y="468.8" font-size="25.2" text-anchor="middle" fill="#111" >40</text>
<text x="1557" y="468.8" font-size="25.2" text-anchor="middle" fill="#111" >50</text>
<text x="1633.5" y="468.8" font-size="25.2" text-anchor="middle" fill="#111" >60</text>
<text x="1710" y="468.8" font-size="25.2" text-anchor="middle" fill="#111" >70</text>
<text x="1479" y="501" font-size="26.6" text-anchor="middle" fill="#111" >2 Theta (degree)</text>
<text x="1183.8" y="221.3" font-size="27.3" text-anchor="middle" fill="#111" transform="rotate(-90 1183.8 221.3)" >Intensity (a.u.)</text>
<text x="1155.5" y="50.2" font-size="55" text-anchor="start" fill="#000" >b</text>
<path d="M1226.9 43.1 L1229.02 49.14 L1235.41 49.28 L1230.32 53.16 L1232.16 59.29 L1226.9 55.65 L1221.64 59.29 L1223.48 53.16 L1218.39 49.28 L1224.78 49.14Z" fill="#e5166f" stroke="none" stroke-width="1" />
<text x="1256.5" y="147" font-size="26" text-anchor="start" fill="#111" transform="rotate(-90 1256.5 147)" >(0 0 2)</text>
<text x="1338" y="127.5" font-size="26" text-anchor="start" fill="#111" transform="rotate(-90 1338 127.5)" >(0 0 1)</text>
<text x="1380.5" y="162" font-size="26" text-anchor="start" fill="#111" transform="rotate(-90 1380.5 162)" >(1 1 0)</text>
<text x="1418" y="163" font-size="26" text-anchor="start" fill="#111" transform="rotate(-90 1418 163)" >(3 0 1)</text>
<line x1="1492.5" y1="71.2" x2="1551.5" y2="71.2" stroke="#7fa2cd" stroke-width="3" stroke-linecap="round"/>
<line x1="1492.5" y1="109.8" x2="1551.5" y2="109.8" stroke="#cd9a16" stroke-width="3" stroke-linecap="round"/>
<text x="1564.6" y="82.2" font-size="25.5" text-anchor="start" fill="#111" >V<tspan font-size="72%">2</tspan>CT<tspan font-size="72%">x</tspan></text>
<text x="1564.6" y="119.1" font-size="25.5" text-anchor="start" fill="#111" >V<tspan font-size="72%">2</tspan>C/V<tspan font-size="72%">2</tspan>O<tspan font-size="72%">5-x</tspan></text>
<text x="1701" y="405.6" font-size="26" text-anchor="end" fill="#111" >V<tspan font-size="72%">2</tspan>O<tspan font-size="72%">5</tspan> PDF#41-1426</text></g>
<g id="panel_c"><g fill="none" stroke="#bfbfbf" stroke-width="2.2"><circle cx="53.8" cy="783.1" r="3.4"/><circle cx="56.8" cy="785" r="3.4"/><circle cx="59.7" cy="778.9" r="3.4"/><circle cx="62.6" cy="780.8" r="3.4"/><circle cx="65.5" cy="775.9" r="3.4"/><circle cx="68.4" cy="780" r="3.4"/><circle cx="71.3" cy="777.5" r="3.4"/><circle cx="74.2" cy="778.1" r="3.4"/><circle cx="77.1" cy="772.3" r="3.4"/><circle cx="80" cy="770.1" r="3.4"/><circle cx="82.9" cy="763.9" r="3.4"/><circle cx="85.8" cy="755.5" r="3.4"/><circle cx="88.7" cy="750.1" r="3.4"/><circle cx="91.6" cy="741.4" r="3.4"/><circle cx="94.5" cy="737.5" r="3.4"/><circle cx="97.5" cy="735" r="3.4"/><circle cx="100.4" cy="732.3" r="3.4"/><circle cx="103.3" cy="730.7" r="3.4"/><circle cx="106.2" cy="733.9" r="3.4"/><circle cx="109.1" cy="728.9" r="3.4"/><circle cx="112" cy="725.2" r="3.4"/><circle cx="114.9" cy="722.7" r="3.4"/><circle cx="117.8" cy="716.1" r="3.4"/><circle cx="120.7" cy="711.4" r="3.4"/><circle cx="123.6" cy="707" r="3.4"/><circle cx="126.5" cy="706.5" r="3.4"/><circle cx="129.4" cy="701.1" r="3.4"/><circle cx="132.3" cy="700.5" r="3.4"/><circle cx="135.2" cy="701.5" r="3.4"/><circle cx="138.2" cy="705.1" r="3.4"/><circle cx="141.1" cy="703.5" r="3.4"/><circle cx="144" cy="705.3" r="3.4"/><circle cx="146.9" cy="713.5" r="3.4"/><circle cx="149.8" cy="710.2" r="3.4"/><circle cx="152.7" cy="715.2" r="3.4"/><circle cx="155.6" cy="720.3" r="3.4"/><circle cx="158.5" cy="727.3" r="3.4"/><circle cx="161.4" cy="726.2" r="3.4"/><circle cx="164.3" cy="728.1" r="3.4"/><circle cx="167.2" cy="738.4" r="3.4"/><circle cx="170.1" cy="741" r="3.4"/><circle cx="173" cy="745.8" r="3.4"/><circle cx="175.9" cy="751.5" r="3.4"/><circle cx="178.8" cy="756" r="3.4"/><circle cx="181.8" cy="759.7" r="3.4"/><circle cx="184.7" cy="761.7" r="3.4"/><circle cx="187.6" cy="767.5" r="3.4"/><circle cx="190.5" cy="769.7" r="3.4"/><circle cx="193.4" cy="768.8" r="3.4"/><circle cx="196.3" cy="768.9" r="3.4"/><circle cx="199.2" cy="771.3" r="3.4"/><circle cx="202.1" cy="771.1" r="3.4"/><circle cx="205" cy="768.8" r="3.4"/><circle cx="207.9" cy="770" r="3.4"/><circle cx="210.8" cy="772.9" r="3.4"/><circle cx="213.7" cy="771.9" r="3.4"/><circle cx="216.6" cy="772.9" r="3.4"/><circle cx="219.5" cy="776" r="3.4"/><circle cx="222.5" cy="777.9" r="3.4"/><circle cx="225.4" cy="780.7" r="3.4"/><circle cx="228.3" cy="781.2" r="3.4"/><circle cx="231.2" cy="790.2" r="3.4"/><circle cx="234.1" cy="790.8" r="3.4"/><circle cx="237" cy="792.7" r="3.4"/><circle cx="239.9" cy="798.5" r="3.4"/><circle cx="242.8" cy="799.9" r="3.4"/><circle cx="245.7" cy="801.5" r="3.4"/><circle cx="248.6" cy="805" r="3.4"/><circle cx="251.5" cy="807.8" r="3.4"/><circle cx="254.4" cy="805.2" r="3.4"/><circle cx="257.3" cy="806.4" r="3.4"/><circle cx="260.2" cy="805.9" r="3.4"/><circle cx="263.2" cy="798.8" r="3.4"/><circle cx="266.1" cy="797.5" r="3.4"/><circle cx="269" cy="797.7" r="3.4"/><circle cx="271.9" cy="792.4" r="3.4"/><circle cx="274.8" cy="794.1" r="3.4"/><circle cx="277.7" cy="796.2" r="3.4"/><circle cx="280.6" cy="795.5" r="3.4"/><circle cx="283.5" cy="793.8" r="3.4"/><circle cx="286.4" cy="787.6" r="3.4"/><circle cx="289.3" cy="788.9" r="3.4"/><circle cx="292.2" cy="779.6" r="3.4"/><circle cx="295.1" cy="771.3" r="3.4"/><circle cx="298" cy="758.2" r="3.4"/><circle cx="300.9" cy="742.7" r="3.4"/><circle cx="303.9" cy="730.4" r="3.4"/><circle cx="306.8" cy="718" r="3.4"/><circle cx="309.7" cy="708.2" r="3.4"/><circle cx="312.6" cy="692.2" r="3.4"/><circle cx="315.5" cy="682" r="3.4"/><circle cx="318.4" cy="668.5" r="3.4"/><circle cx="321.3" cy="657.8" r="3.4"/><circle cx="324.2" cy="644.7" r="3.4"/><circle cx="327.1" cy="630.4" r="3.4"/><circle cx="330" cy="610.7" r="3.4"/><circle cx="332.9" cy="593.8" r="3.4"/><circle cx="335.8" cy="586.8" r="3.4"/><circle cx="338.7" cy="575.7" r="3.4"/><circle cx="341.6" cy="571.7" r="3.4"/><circle cx="344.5" cy="567.7" r="3.4"/><circle cx="347.5" cy="568.3" r="3.4"/><circle cx="350.4" cy="575.1" r="3.4"/><circle cx="353.3" cy="577.9" r="3.4"/><circle cx="356.2" cy="585.4" r="3.4"/><circle cx="359.1" cy="593.3" r="3.4"/><circle cx="362" cy="601.3" r="3.4"/><circle cx="364.9" cy="609.7" r="3.4"/><circle cx="367.8" cy="612.6" r="3.4"/><circle cx="370.7" cy="619.4" r="3.4"/><circle cx="373.6" cy="623.9" r="3.4"/><circle cx="376.5" cy="631.1" r="3.4"/><circle cx="379.4" cy="641.2" r="3.4"/><circle cx="382.3" cy="654.4" r="3.4"/><circle cx="385.2" cy="666.6" r="3.4"/><circle cx="388.2" cy="686.2" r="3.4"/><circle cx="391.1" cy="708.7" r="3.4"/><circle cx="394" cy="731" r="3.4"/><circle cx="396.9" cy="748.7" r="3.4"/><circle cx="399.8" cy="768.8" r="3.4"/><circle cx="402.7" cy="783.1" r="3.4"/><circle cx="405.6" cy="791" r="3.4"/><circle cx="408.5" cy="802.6" r="3.4"/><circle cx="411.4" cy="808.9" r="3.4"/><circle cx="414.3" cy="808.1" r="3.4"/><circle cx="417.2" cy="810.1" r="3.4"/><circle cx="420.1" cy="806.4" r="3.4"/><circle cx="423" cy="801.6" r="3.4"/><circle cx="425.9" cy="801.6" r="3.4"/><circle cx="428.9" cy="797.3" r="3.4"/><circle cx="431.8" cy="797.3" r="3.4"/><circle cx="434.7" cy="796.3" r="3.4"/><circle cx="437.6" cy="799" r="3.4"/><circle cx="440.5" cy="799" r="3.4"/><circle cx="443.4" cy="810.7" r="3.4"/><circle cx="446.3" cy="815.8" r="3.4"/><circle cx="449.2" cy="821.7" r="3.4"/><circle cx="452.1" cy="828.7" r="3.4"/><circle cx="455" cy="838.1" r="3.4"/><circle cx="457.9" cy="847" r="3.4"/><circle cx="460.8" cy="855.5" r="3.4"/><circle cx="463.7" cy="862.2" r="3.4"/><circle cx="466.6" cy="864.5" r="3.4"/><circle cx="469.5" cy="872.1" r="3.4"/><circle cx="472.5" cy="880.4" r="3.4"/><circle cx="475.4" cy="882.2" r="3.4"/><circle cx="478.3" cy="882.3" r="3.4"/><circle cx="481.2" cy="886.1" r="3.4"/><circle cx="484.1" cy="886.9" r="3.4"/><circle cx="487" cy="888.9" r="3.4"/><circle cx="489.9" cy="893.6" r="3.4"/><circle cx="492.8" cy="892.1" r="3.4"/><circle cx="495.7" cy="894.9" r="3.4"/><circle cx="498.6" cy="893.8" r="3.4"/><circle cx="501.5" cy="891.5" r="3.4"/><circle cx="504.4" cy="893.1" r="3.4"/><circle cx="507.3" cy="898.1" r="3.4"/><circle cx="510.2" cy="893.3" r="3.4"/><circle cx="513.2" cy="893" r="3.4"/><circle cx="516.1" cy="896.9" r="3.4"/><circle cx="519" cy="895.1" r="3.4"/><circle cx="521.9" cy="895.1" r="3.4"/><circle cx="524.8" cy="897.6" r="3.4"/><circle cx="527.7" cy="892.5" r="3.4"/><circle cx="530.6" cy="896.1" r="3.4"/><circle cx="533.5" cy="893.8" r="3.4"/><circle cx="536.4" cy="893.3" r="3.4"/><circle cx="539.3" cy="894.4" r="3.4"/></g>
<path d="M52 788 54.2 788 56.4 788 58.6 788.1 60.8 788.1 63 788.1 65.2 788.1 67.4 788.1 69.6 788.2 71.8 788.2 74 788.3 76.2 788.3 78.4 788.4 80.6 788.5 82.8 788.7 85 788.8 87.2 789 89.4 789.3 91.6 789.5 93.8 789.9 96 790.2 98.2 790.6 100.4 790.9 102.6 791.3 104.8 791.7 107 792.1 109.2 792.5 111.4 793 113.6 793.4 115.8 793.9 118 794.3 120.2 794.9 122.4 795.4 124.6 796 126.8 796.6 129 797.2 131.2 797.8 133.4 798.5 135.6 799.1 137.8 799.7 140 800.4 142.2 801 144.4 801.6 146.6 802.2 148.8 802.9 151 803.4 153.2 804 155.4 804.6 157.6 805.1 159.8 805.7 162 806.2 164.2 806.7 166.3 807.2 168.5 807.6 170.7 808.1 172.9 808.5 175.1 808.9 177.3 809.3 179.5 809.6 181.7 810 183.9 810.3 186.1 810.6 188.3 810.9 190.5 811.2 192.7 811.5 194.9 811.8 197.1 812 199.3 812.3 201.5 812.6 203.7 812.9 205.9 813.1 208.1 813.4 210.3 813.7 212.5 814 214.7 814.3 216.9 814.5 219.1 814.8 221.3 815 223.5 815.3 225.7 815.5 227.9 815.7 230.1 815.9 232.3 816.1 234.5 816.3 236.7 816.5 238.9 816.6 241.1 816.7 243.3 816.9 245.5 817 247.7 817.1 249.9 817.1 252.1 817.2 254.3 817.3 256.5 817.3 258.7 817.4 260.9 817.5 263.1 817.5 265.3 817.6 267.5 817.6 269.7 817.7 271.9 817.7 274.1 817.8 276.3 817.8 278.5 817.9 280.7 818 282.9 818.1 285.1 818.2 287.3 818.4 289.5 818.5 291.7 818.7 293.9 819 296.1 819.3 298.3 819.7 300.5 820.1 302.7 820.6 304.9 821.1 307.1 821.8 309.3 822.5 311.5 823.3 313.7 824.1 315.9 825 318.1 826 320.3 827 322.5 828.1 324.7 829.3 326.9 830.6 329.1 831.9 331.3 833.3 333.5 834.8 335.7 836.4 337.9 838.1 340.1 839.8 342.3 841.5 344.5 843.3 346.7 845.1 348.9 846.9 351.1 848.7 353.3 850.5 355.4 852.2 357.6 854 359.8 855.7 362 857.4 364.2 859 366.4 860.7 368.6 862.3 370.8 863.9 373 865.5 375.2 867.1 377.4 868.7 379.6 870.2 381.8 871.7 384 873.1 386.2 874.4 388.4 875.7 390.6 876.8 392.8 877.9 395 878.9 397.2 879.8 399.4 880.6 401.6 881.3 403.8 882 406 882.6 408.2 883.2 410.4 883.7 412.6 884.2 414.8 884.7 417 885.2 419.2 885.7 421.4 886.2 423.6 886.8 425.8 887.3 428 887.9 430.2 888.5 432.4 889.1 434.6 889.7 436.8 890.3 439 890.9 441.2 891.5 443.4 892 445.6 892.6 447.8 893.1 450 893.6 452.2 894 454.4 894.4 456.6 894.8 458.8 895.1 461 895.4 463.2 895.6 465.4 895.8 467.6 896 469.8 896.2 472 896.3 474.2 896.4 476.4 896.5 478.6 896.6 480.8 896.7 483 896.8 485.2 896.8 487.4 896.8 489.6 896.9 491.8 896.9 494 896.9 496.2 897 498.4 897 500.6 897 502.8 897 505 897.1 507.2 897.1 509.4 897.1 511.6 897.1 513.8 897.1 516 897.1 518.2 897.2 520.4 897.2 522.6 897.2 524.8 897.2 527 897.2 529.2 897.2 531.4 897.2 533.6 897.2 535.8 897.3 538 897.3 540.2 897.3 542.4 897.3" fill="none" stroke="#b3b3b3" stroke-width="2.2" stroke-linejoin="round" stroke-linecap="round" />
<path d="M64.1 787.6 65.8 787.3 67.4 786.9 69.1 786.4 70.7 785.6 72.3 784.6 74 783.3 75.6 781.6 77.3 779.6 78.9 777.1 80.6 774.4 82.2 771.3 83.9 768 85.5 764.6 87.2 761.3 88.8 758.3 90.5 755.6 92.1 753.6 93.8 752.2 95.4 751.8 97.1 752.2 98.7 753.4 100.4 755.5 102 758.3 103.7 761.6 105.3 765.2 107 769 108.6 772.8 110.3 776.5 111.9 779.9 113.6 782.9 115.2 785.6 116.9 788 118.5 789.9 120.2 791.6 121.8 792.9 123.5 794.1 125.1 795 126.8 795.9" fill="none" stroke="#a4699f" stroke-width="2.5" stroke-linejoin="round" stroke-linecap="round" />
<path d="M77.3 787.8 78.9 787.7 80.6 787.5 82.2 787.3 83.9 787 85.5 786.6 87.2 786.1 88.8 785.5 90.5 784.7 92.1 783.7 93.8 782.5 95.4 781.2 97.1 779.5 98.7 777.7 100.4 775.5 102 773.2 103.7 770.6 105.3 767.7 107 764.8 108.6 761.7 110.3 758.5 111.9 755.4 113.6 752.4 115.2 749.6 116.9 747 118.5 744.8 120.2 743.1 121.8 741.8 123.5 741.1 125.1 740.9 126.8 741.4 128.4 742.4 130.1 744 131.7 746.2 133.4 748.8 135 751.9 136.7 755.3 138.3 758.9 140 762.7 141.6 766.7 143.3 770.6 144.9 774.4 146.6 778.2 148.2 781.7 149.9 785.1 151.5 788.2 153.2 791 154.8 793.6 156.5 795.9 158.1 798 159.8 799.8 161.4 801.3 163.1 802.7 164.7 803.9 166.3 804.9 168 805.8 169.6 806.5 171.3 807.2 172.9 807.8 174.6 808.3" fill="none" stroke="#e6a9a9" stroke-width="2.5" stroke-linejoin="round" stroke-linecap="round" />
<path d="M80 788 81.7 787.9 83.3 787.9 85 787.8 86.6 787.8 88.3 787.7 89.9 787.6 91.6 787.4 93.2 787.2 94.9 787 96.5 786.7 98.2 786.3 99.8 785.9 101.5 785.3 103.1 784.7 104.8 783.9 106.4 783 108.1 782 109.7 780.8 111.4 779.5 113 778 114.7 776.4 116.3 774.7 118 772.9 119.6 770.9 121.3 768.8 122.9 766.6 124.6 764.3 126.2 761.9 127.9 759.4 129.5 756.9 131.2 754.4 132.8 751.8 134.5 749.3 136.1 746.9 137.8 744.6 139.4 742.3 141.1 740.3 142.7 738.4 144.4 736.7 146 735.2 147.7 734 149.3 733.1 151 732.5 152.6 732.2 154.3 732.3 155.9 732.7 157.6 733.4 159.2 734.4 160.9 735.8 162.5 737.4 164.2 739.3 165.8 741.6 167.4 744 169.1 746.6 170.7 749.5 172.4 752.5 174 755.6 175.7 758.8 177.3 762 179 765.3 180.6 768.5 182.3 771.8 183.9 775 185.6 778.1 187.2 781.1 188.9 783.9 190.5 786.7 192.2 789.3 193.8 791.8 195.5 794.1 197.1 796.3 198.8 798.3 200.4 800.2 202.1 801.9 203.7 803.5 205.4 804.9 207 806.2 208.7 807.4 210.3 808.5 212 809.5 213.6 810.4 215.3 811.2 216.9 811.9 218.6 812.5 220.2 813.1 221.9 813.6 223.5 814 225.2 814.4 226.8 814.8 228.5 815.1 230.1 815.4" fill="none" stroke="#41ae9d" stroke-width="2.5" stroke-linejoin="round" stroke-linecap="round" />
<path d="M157 804.5 158.7 804.7 160.3 805 162 805.1 163.6 805.3 165.2 805.3 166.9 805.3 168.5 805.3 170.2 805.1 171.8 804.8 173.5 804.5 175.1 804 176.8 803.5 178.4 802.8 180.1 802 181.7 801.1 183.4 800.1 185 799 186.7 797.8 188.3 796.4 190 795 191.6 793.6 193.3 792.1 194.9 790.6 196.6 789 198.2 787.5 199.9 786.1 201.5 784.7 203.2 783.5 204.8 782.4 206.5 781.4 208.1 780.7 209.8 780.1 211.4 779.7 213.1 779.6 214.7 779.7 216.4 780 218 780.6 219.7 781.4 221.3 782.4 223 783.6 224.6 785 226.3 786.5 227.9 788.1 229.6 789.8 231.2 791.6 232.9 793.5 234.5 795.3 236.2 797.2 237.8 799 239.5 800.8 241.1 802.5 242.8 804.1 244.4 805.6 246.1 807.1 247.7 808.4 249.4 809.6 251 810.7 252.7 811.7 254.3 812.5 256 813.3 257.6 814 259.3 814.6 260.9 815.1 262.5 815.6 264.2 816 265.8 816.3 267.5 816.6 269.1 816.8 270.8 817.1 272.4 817.2" fill="none" stroke="#90c070" stroke-width="2.5" stroke-linejoin="round" stroke-linecap="round" />
<path d="M269.1 817.2 270.8 817 272.4 816.7 274.1 816.3 275.7 815.7 277.4 814.9 279 814 280.7 812.7 282.3 811.1 284 809.1 285.6 806.7 287.3 803.9 288.9 800.6 290.6 796.9 292.2 792.7 293.9 788.3 295.5 783.6 297.2 778.7 298.8 773.9 300.5 769.3 302.1 765 303.8 761.3 305.4 758.3 307.1 756.2 308.7 755.1 310.4 755 312 756 313.7 758.1 315.3 761.2 317 765.2 318.6 769.9 320.3 775.2 321.9 781 323.6 786.9 325.2 792.9 326.9 798.9 328.5 804.6 330.2 810 331.8 815.1 333.5 819.7 335.1 823.9 336.8 827.7 338.4 831.1 340.1 834.2 341.7 836.9 343.4 839.3 345 841.5 346.7 843.5 348.3 845.3 350 847 351.6 848.6" fill="none" stroke="#a4699f" stroke-width="2.5" stroke-linejoin="round" stroke-linecap="round" />
<path d="M282.3 817.5 284 817.4 285.6 817.2 287.3 816.9 288.9 816.5 290.6 816 292.2 815.3 293.9 814.4 295.5 813.2 297.2 811.7 298.8 809.8 300.5 807.4 302.1 804.6 303.8 801.1 305.4 797 307.1 792.2 308.7 786.5 310.4 780.1 312 772.7 313.7 764.6 315.3 755.6 317 745.8 318.6 735.3 320.3 724.3 321.9 712.9 323.6 701.3 325.2 689.7 326.9 678.5 328.5 667.7 330.2 657.8 331.8 649 333.5 641.6 335.1 635.7 336.8 631.6 338.4 629.4 340.1 629.1 341.7 630.9 343.4 634.8 345 640.5 346.7 648.1 348.3 657.3 350 667.9 351.6 679.7 353.3 692.3 354.9 705.6 356.5 719.3 358.2 733.1 359.8 746.8 361.5 760.1 363.1 772.9 364.8 785 366.4 796.3 368.1 806.8 369.7 816.4 371.4 825.1 373 832.9 374.7 839.8 376.3 846 378 851.3 379.6 856 381.3 860 382.9 863.5 384.6 866.5 386.2 869.1 387.9 871.3 389.5 873.2 391.2 874.8 392.8 876.2 394.5 877.4 396.1 878.4 397.8 879.3" fill="none" stroke="#e6a9a9" stroke-width="2.5" stroke-linejoin="round" stroke-linecap="round" />
<path d="M303.8 820.3 305.4 820.6 307.1 820.9 308.7 821.1 310.4 821.4 312 821.6 313.7 821.7 315.3 821.8 317 821.7 318.6 821.6 320.3 821.2 321.9 820.8 323.6 820.1 325.2 819.1 326.9 817.9 328.5 816.4 330.2 814.6 331.8 812.3 333.5 809.7 335.1 806.6 336.8 803.1 338.4 799 340.1 794.4 341.7 789.3 343.4 783.6 345 777.4 346.7 770.7 348.3 763.6 350 756 351.6 748 353.3 739.8 354.9 731.3 356.5 722.8 358.2 714.4 359.8 706.1 361.5 698 363.1 690.5 364.8 683.4 366.4 677.1 368.1 671.6 369.7 667 371.4 663.5 373 661 374.7 659.8 376.3 659.7 378 661 379.6 663.9 381.3 668.5 382.9 674.7 384.6 682.3 386.2 691.2 387.9 701.2 389.5 712 391.2 723.5 392.8 735.5 394.5 747.7 396.1 760 397.8 772.1 399.4 783.8 401.1 795.1 402.7 805.8 404.4 815.8 406 825.1 407.7 833.6 409.3 841.3 411 848.2 412.6 854.3 414.3 859.7 415.9 864.5 417.6 868.6 419.2 872.1 420.9 875.2 422.5 877.8 424.2 880 425.8 881.9 427.5 883.5 429.1 884.9 430.8 886.1 432.4 887.2 434.1 888.1 435.7 888.9 437.4 889.6 439 890.3" fill="none" stroke="#41ae9d" stroke-width="2.5" stroke-linejoin="round" stroke-linecap="round" />
<path d="M374.7 866.2 376.3 867.2 378 868.2 379.6 869.1 381.3 869.8 382.9 870.5 384.6 871.1 386.2 871.5 387.9 871.7 389.5 871.7 391.2 871.5 392.8 871.1 394.5 870.5 396.1 869.5 397.8 868.3 399.4 866.7 401.1 864.9 402.7 862.7 404.4 860.2 406 857.4 407.7 854.3 409.3 850.9 411 847.2 412.6 843.4 414.3 839.4 415.9 835.3 417.6 831.2 419.2 827.1 420.9 823.1 422.5 819.3 424.2 815.8 425.8 812.6 427.5 809.7 429.1 807.4 430.8 805.6 432.4 804.3 434.1 803.6 435.7 803.6 437.4 804.2 439 805.5 440.7 807.3 442.3 809.7 444 812.7 445.6 816.1 447.3 820 448.9 824.1 450.5 828.6 452.2 833.2 453.8 837.9 455.5 842.7 457.1 847.5 458.8 852.1 460.4 856.6 462.1 861 463.7 865 465.4 868.9 467 872.4 468.7 875.7 470.3 878.6 472 881.3 473.6 883.7 475.3 885.7 476.9 887.6 478.6 889.2 480.2 890.5 481.9 891.7 483.5 892.7 485.2 893.5 486.8 894.2 488.5 894.8 490.1 895.2 491.8 895.6 493.4 895.9 495.1 896.2 496.7 896.4" fill="none" stroke="#90c070" stroke-width="2.5" stroke-linejoin="round" stroke-linecap="round" />
<path d="M52 785.8 53.7 785.7 55.3 785.6 57 785.5 58.6 785.3 60.3 785.2 61.9 785 63.6 784.7 65.2 784.3 66.9 783.8 68.5 783.2 70.1 782.3 71.8 781.3 73.4 779.9 75.1 778.2 76.7 776.1 78.4 773.6 80 770.7 81.7 767.3 83.3 763.6 85 759.7 86.6 755.5 88.3 751.3 89.9 747.2 91.6 743.4 93.2 740.1 94.9 737.2 96.5 735 98.2 733.5 99.8 732.4 101.5 731.8 103.1 731.3 104.8 730.9 106.4 730.4 108.1 729.5 109.7 728.4 111.4 726.8 113 724.8 114.7 722.5 116.3 719.8 118 716.9 119.6 714 121.3 711.1 122.9 708.4 124.6 706 126.2 703.9 127.9 702.3 129.5 701.1 131.2 700.4 132.8 700.2 134.5 700.3 136.1 700.8 137.8 701.6 139.4 702.6 141.1 703.9 142.7 705.3 144.4 706.8 146 708.4 147.7 710.1 149.3 711.9 151 713.8 152.6 715.8 154.3 717.8 155.9 719.9 157.6 722.1 159.2 724.5 160.9 726.9 162.5 729.4 164.2 732 165.8 734.6 167.4 737.3 169.1 740 170.7 742.8 172.4 745.5 174 748.2 175.7 750.7 177.3 753.2 179 755.6 180.6 757.8 182.3 759.9 183.9 761.8 185.6 763.5 187.2 765 188.9 766.3 190.5 767.3 192.2 768.2 193.8 768.9 195.5 769.4 197.1 769.8 198.8 770.1 200.4 770.2 202.1 770.3 203.7 770.4 205.4 770.5 207 770.6 208.7 770.8 210.3 771.1 212 771.5 213.6 772.1 215.3 772.8 216.9 773.7 218.6 774.8 220.2 776.1 221.9 777.5 223.5 779 225.2 780.7 226.8 782.4 228.5 784.3 230.1 786.1 231.8 788 233.4 789.9 235.1 791.7 236.7 793.5 238.4 795.3 240 797 241.7 798.6 243.3 800 245 801.4 246.6 802.7 248.3 803.8 249.9 804.9 251.6 805.8 253.2 806.6 254.9 807.3 256.5 807.9 258.2 808.5 259.8 808.9 261.4 809.2 263.1 809.4 264.7 809.6 266.4 809.7 268 809.6 269.7 809.5 271.3 809.2 273 808.8 274.6 808.3 276.3 807.5 277.9 806.5 279.6 805.3 281.2 803.6 282.9 801.7 284.5 799.2 286.2 796.3 287.8 792.9 289.5 788.9 291.1 784.3 292.8 779.1 294.4 773.4 296.1 767.1 297.7 760.3 299.4 753.2 301 745.7 302.7 738 304.3 730.3 306 722.5 307.6 714.9 309.3 707.6 310.9 700.5 312.6 693.6 314.2 686.8 315.9 680.2 317.5 673.4 319.2 666.5 320.8 659.3 322.5 651.8 324.1 643.9 325.8 635.6 327.4 627.1 329.1 618.4 330.7 609.9 332.4 601.5 334 593.7 335.7 586.5 337.3 580.3 339 575.3 340.6 571.5 342.3 569.1 343.9 567.9 345.6 568.1 347.2 569.3 348.9 571.5 350.5 574.4 352.2 577.9 353.8 581.7 355.4 585.7 357.1 589.7 358.7 593.6 360.4 597.3 362 600.9 363.7 604.2 365.3 607.4 367 610.4 368.6 613.4 370.3 616.5 371.9 619.8 373.6 623.5 375.2 627.6 376.9 632.2 378.5 637.7 380.2 644.3 381.8 652 383.5 660.8 385.1 670.5 386.8 680.9 388.4 691.8 390.1 703.1 391.7 714.5 393.4 725.9 395 737 396.7 747.6 398.3 757.7 400 767 401.6 775.5 403.3 783 404.9 789.6 406.6 795.1 408.2 799.7 409.9 803.2 411.5 805.8 413.2 807.4 414.8 808.3 416.5 808.4 418.1 808 419.8 807 421.4 805.7 423.1 804.2 424.7 802.5 426.4 800.9 428 799.4 429.7 798.2 431.3 797.3 433 796.9 434.6 797 436.3 797.7 437.9 799 439.6 800.9 441.2 803.3 442.9 806.3 444.5 809.8 446.2 813.6 447.8 817.8 449.5 822.3 451.1 826.9 452.7 831.7 454.4 836.5 456 841.3 457.7 845.9 459.3 850.5 461 854.8 462.6 859 464.3 862.9 465.9 866.5 467.6 869.9 469.2 872.9 470.9 875.7 472.5 878.2 474.2 880.5 475.8 882.4 477.5 884.2 479.1 885.7 480.8 887.1 482.4 888.2 484.1 889.2 485.7 890 487.4 890.8 489 891.4 490.7 891.9 492.3 892.3 494 892.7 495.6 893 497.3 893.3 498.9 893.6 500.6 893.8 502.2 893.9 503.9 894.1 505.5 894.2 507.2 894.4 508.8 894.5 510.5 894.6 512.1 894.7 513.8 894.8 515.4 894.9 517.1 894.9 518.7 895 520.4 895.1 522 895.1 523.7 895.2 525.3 895.3 527 895.3 528.6 895.4 530.3 895.4 531.9 895.5 533.6 895.5 535.2 895.6 536.9 895.6 538.5 895.7 540.2 895.7 541.8 895.8" fill="none" stroke="#7b9fcb" stroke-width="3.2" stroke-linejoin="round" stroke-linecap="round" />
<line x1="544.55" y1="922.6" x2="544.55" y2="930.6" stroke="#000" stroke-width="3" />
<line x1="457.34" y1="922.6" x2="457.34" y2="930.6" stroke="#000" stroke-width="3" />
<line x1="370.13" y1="922.6" x2="370.13" y2="930.6" stroke="#000" stroke-width="3" />
<line x1="282.92" y1="922.6" x2="282.92" y2="930.6" stroke="#000" stroke-width="3" />
<line x1="195.71" y1="922.6" x2="195.71" y2="930.6" stroke="#000" stroke-width="3" />
<line x1="108.5" y1="922.6" x2="108.5" y2="930.6" stroke="#000" stroke-width="3" />
<line x1="500.94" y1="922.6" x2="500.94" y2="927.1" stroke="#000" stroke-width="3" />
<line x1="413.74" y1="922.6" x2="413.74" y2="927.1" stroke="#000" stroke-width="3" />
<line x1="326.52" y1="922.6" x2="326.52" y2="927.1" stroke="#000" stroke-width="3" />
<line x1="239.31" y1="922.6" x2="239.31" y2="927.1" stroke="#000" stroke-width="3" />
<line x1="152.11" y1="922.6" x2="152.11" y2="927.1" stroke="#000" stroke-width="3" />
<line x1="64.89" y1="922.6" x2="64.89" y2="927.1" stroke="#000" stroke-width="3" />
<rect x="50.4" y="522.8" width="494.35" height="399.8" fill="none" stroke="#000" stroke-width="3.2" />
<text x="544.55" y="955.3" font-size="26" text-anchor="middle" fill="#111" >510</text>
<text x="457.34" y="955.3" font-size="26" text-anchor="middle" fill="#111" >513</text>
<text x="370.13" y="955.3" font-size="26" text-anchor="middle" fill="#111" >516</text>
<text x="282.92" y="955.3" font-size="26" text-anchor="middle" fill="#111" >519</text>
<text x="195.71" y="955.3" font-size="26" text-anchor="middle" fill="#111" >522</text>
<text x="108.5" y="955.3" font-size="26" text-anchor="middle" fill="#111" >525</text>
<text x="304" y="984.5" font-size="26.8" text-anchor="middle" fill="#111" >Binding energy (eV)</text>
<text x="25.2" y="727" font-size="27.6" text-anchor="middle" fill="#111" transform="rotate(-90 25.2 727)" >Intensity (a.u.)</text>
<text x="62" y="714" font-size="23" text-anchor="start" fill="#111" >V<tspan font-size="14.49" dy="-9.2">5+</tspan><tspan dy="9.2" font-size="1">&#8203;</tspan></text>
<line x1="73" y1="716.7" x2="85.08" y2="738.1" stroke="#000" stroke-width="2.1" /><path d="M92.3 750.9 L73.71 737.28 L85.08 738.1 L90.25 727.94Z" fill="#000" stroke="none" stroke-width="1" />
<text x="100" y="681.3" font-size="23" text-anchor="start" fill="#111" >V<tspan font-size="14.49" dy="-9.2">4+</tspan><tspan dy="9.2" font-size="1">&#8203;</tspan></text>
<line x1="110.3" y1="685.7" x2="120.6" y2="721.18" stroke="#000" stroke-width="2.1" /><path d="M124.7 735.3 L109.72 717.78 L120.6 721.18 L127.97 712.48Z" fill="#000" stroke="none" stroke-width="1" />
<text x="162" y="674.4" font-size="23" text-anchor="start" fill="#111" >V<tspan font-size="14.49" dy="-9.2">3+</tspan><tspan dy="9.2" font-size="1">&#8203;</tspan></text>
<line x1="167.8" y1="677.8" x2="163.2" y2="713.22" stroke="#000" stroke-width="2.1" /><path d="M161.3 727.8 L154.59 705.75 L163.2 713.22 L173.43 708.2Z" fill="#000" stroke="none" stroke-width="1" />
<text x="213.6" y="728.5" font-size="23" text-anchor="start" fill="#111" >V<tspan font-size="14.49" dy="-9.2">2+</tspan><tspan dy="9.2" font-size="1">&#8203;</tspan></text>
<line x1="221.2" y1="732.9" x2="217.29" y2="763.12" stroke="#000" stroke-width="2.1" /><path d="M215.4 777.7 L208.67 755.65 L217.29 763.12 L227.52 758.09Z" fill="#000" stroke="none" stroke-width="1" />
<text x="262.6" y="732.9" font-size="23" text-anchor="start" fill="#111" >V<tspan font-size="14.49" dy="-9.2">5+</tspan><tspan dy="9.2" font-size="1">&#8203;</tspan></text>
<line x1="275.7" y1="735.4" x2="291.91" y2="751" stroke="#000" stroke-width="2.1" /><path d="M302.5 761.2 L280.78 753.48 L291.91 751 L293.96 739.79Z" fill="#000" stroke="none" stroke-width="1" />
<text x="288.8" y="603.7" font-size="23" text-anchor="start" fill="#111" >V<tspan font-size="14.49" dy="-9.2">4+</tspan><tspan dy="9.2" font-size="1">&#8203;</tspan></text>
<line x1="299.1" y1="607.2" x2="320.93" y2="636.07" stroke="#000" stroke-width="2.1" /><path d="M329.8 647.8 L309.56 636.78 L320.93 636.07 L324.71 625.32Z" fill="#000" stroke="none" stroke-width="1" />
<text x="400.4" y="610.6" font-size="23" text-anchor="start" fill="#111" >V<tspan font-size="14.49" dy="-9.2">3+</tspan><tspan dy="9.2" font-size="1">&#8203;</tspan></text>
<line x1="403.9" y1="614" x2="386.06" y2="646.6" stroke="#000" stroke-width="2.1" /><path d="M379 659.5 L380.75 636.52 L386.06 646.6 L397.42 645.64Z" fill="#000" stroke="none" stroke-width="1" />
<text x="460" y="755.3" font-size="23" text-anchor="start" fill="#111" >V<tspan font-size="14.49" dy="-9.2">2+</tspan><tspan dy="9.2" font-size="1">&#8203;</tspan></text>
<line x1="463.5" y1="758.8" x2="445.51" y2="790.79" stroke="#000" stroke-width="2.1" /><path d="M438.3 803.6 L440.32 780.64 L445.51 790.79 L456.88 789.95Z" fill="#000" stroke="none" stroke-width="1" /><text x="2.5" y="536.3" font-size="55" text-anchor="start" fill="#000" >c</text><text x="66" y="555.8" font-size="26.3" text-anchor="start" fill="#111" >V 2p</text><text x="526.5" y="555.5" font-size="25.5" text-anchor="end" fill="#111" >V<tspan font-size="72%">2</tspan>CT<tspan font-size="72%">x</tspan></text></g>
<g id="panel_d"><g fill="none" stroke="#bfbfbf" stroke-width="2.2"><circle cx="639.6" cy="835.9" r="3.4"/><circle cx="642.6" cy="836.6" r="3.4"/><circle cx="645.5" cy="836.4" r="3.4"/><circle cx="648.4" cy="835.3" r="3.4"/><circle cx="651.3" cy="833" r="3.4"/><circle cx="654.3" cy="831.4" r="3.4"/><circle cx="657.2" cy="828.4" r="3.4"/><circle cx="660.1" cy="824" r="3.4"/><circle cx="663" cy="820" r="3.4"/><circle cx="666" cy="816.5" r="3.4"/><circle cx="668.9" cy="810.2" r="3.4"/><circle cx="671.8" cy="803.9" r="3.4"/><circle cx="674.7" cy="796.9" r="3.4"/><circle cx="677.7" cy="794" r="3.4"/><circle cx="680.6" cy="790.7" r="3.4"/><circle cx="683.5" cy="789.6" r="3.4"/><circle cx="686.4" cy="788.5" r="3.4"/><circle cx="689.4" cy="784" r="3.4"/><circle cx="692.3" cy="784.6" r="3.4"/><circle cx="695.2" cy="780.6" r="3.4"/><circle cx="698.1" cy="779.1" r="3.4"/><circle cx="701.1" cy="777.2" r="3.4"/><circle cx="704" cy="778.9" r="3.4"/><circle cx="706.9" cy="778.9" r="3.4"/><circle cx="709.8" cy="780.2" r="3.4"/><circle cx="712.8" cy="781.1" r="3.4"/><circle cx="715.7" cy="783.1" r="3.4"/><circle cx="718.6" cy="787.8" r="3.4"/><circle cx="721.5" cy="791.2" r="3.4"/><circle cx="724.5" cy="793.5" r="3.4"/><circle cx="727.4" cy="797.1" r="3.4"/><circle cx="730.3" cy="797.9" r="3.4"/><circle cx="733.2" cy="802.1" r="3.4"/><circle cx="736.2" cy="802.6" r="3.4"/><circle cx="739.1" cy="806.3" r="3.4"/><circle cx="742" cy="806.4" r="3.4"/><circle cx="744.9" cy="808.2" r="3.4"/><circle cx="747.9" cy="810" r="3.4"/><circle cx="750.8" cy="815.1" r="3.4"/><circle cx="753.7" cy="818.3" r="3.4"/><circle cx="756.6" cy="820.4" r="3.4"/><circle cx="759.6" cy="824.3" r="3.4"/><circle cx="762.5" cy="826.5" r="3.4"/><circle cx="765.4" cy="829.2" r="3.4"/><circle cx="768.3" cy="832.1" r="3.4"/><circle cx="771.3" cy="833.3" r="3.4"/><circle cx="774.2" cy="836.4" r="3.4"/><circle cx="777.1" cy="839.6" r="3.4"/><circle cx="780" cy="841.4" r="3.4"/><circle cx="783" cy="844.2" r="3.4"/><circle cx="785.9" cy="844.9" r="3.4"/><circle cx="788.8" cy="845.7" r="3.4"/><circle cx="791.7" cy="846.2" r="3.4"/><circle cx="794.7" cy="844.4" r="3.4"/><circle cx="797.6" cy="847.4" r="3.4"/><circle cx="800.5" cy="846.8" r="3.4"/><circle cx="803.4" cy="848.6" r="3.4"/><circle cx="806.4" cy="848" r="3.4"/><circle cx="809.3" cy="848.1" r="3.4"/><circle cx="812.2" cy="847.9" r="3.4"/><circle cx="815.1" cy="848.2" r="3.4"/><circle cx="818.1" cy="846.4" r="3.4"/><circle cx="821" cy="846.8" r="3.4"/><circle cx="823.9" cy="849.8" r="3.4"/><circle cx="826.8" cy="848.8" r="3.4"/><circle cx="829.8" cy="847.8" r="3.4"/><circle cx="832.7" cy="847.7" r="3.4"/><circle cx="835.6" cy="847.5" r="3.4"/><circle cx="838.5" cy="851.2" r="3.4"/><circle cx="841.5" cy="848" r="3.4"/><circle cx="844.4" cy="847.1" r="3.4"/><circle cx="847.3" cy="845.9" r="3.4"/><circle cx="850.2" cy="843.6" r="3.4"/><circle cx="853.2" cy="845.8" r="3.4"/><circle cx="856.1" cy="846.3" r="3.4"/><circle cx="859" cy="844.8" r="3.4"/><circle cx="861.9" cy="842.7" r="3.4"/><circle cx="864.9" cy="839.8" r="3.4"/><circle cx="867.8" cy="836.1" r="3.4"/><circle cx="870.7" cy="833.9" r="3.4"/><circle cx="873.6" cy="828.7" r="3.4"/><circle cx="876.6" cy="821.9" r="3.4"/><circle cx="879.5" cy="815.8" r="3.4"/><circle cx="882.4" cy="803.6" r="3.4"/><circle cx="885.3" cy="792.8" r="3.4"/><circle cx="888.3" cy="775" r="3.4"/><circle cx="891.2" cy="764.4" r="3.4"/><circle cx="894.1" cy="745.8" r="3.4"/><circle cx="897" cy="727.8" r="3.4"/><circle cx="900" cy="704.6" r="3.4"/><circle cx="902.9" cy="681.9" r="3.4"/><circle cx="905.8" cy="659.2" r="3.4"/><circle cx="908.7" cy="636.4" r="3.4"/><circle cx="911.7" cy="607.3" r="3.4"/><circle cx="914.6" cy="588.2" r="3.4"/><circle cx="917.5" cy="574.1" r="3.4"/><circle cx="920.4" cy="566" r="3.4"/><circle cx="923.4" cy="570.9" r="3.4"/><circle cx="926.3" cy="584" r="3.4"/><circle cx="929.2" cy="605.8" r="3.4"/><circle cx="932.1" cy="635.5" r="3.4"/><circle cx="935.1" cy="663.7" r="3.4"/><circle cx="938" cy="689.2" r="3.4"/><circle cx="940.9" cy="714.8" r="3.4"/><circle cx="943.8" cy="739.1" r="3.4"/><circle cx="946.8" cy="756.4" r="3.4"/><circle cx="949.7" cy="768.4" r="3.4"/><circle cx="952.6" cy="781.9" r="3.4"/><circle cx="955.5" cy="792.7" r="3.4"/><circle cx="958.5" cy="796.7" r="3.4"/><circle cx="961.4" cy="806.1" r="3.4"/><circle cx="964.3" cy="816.3" r="3.4"/><circle cx="967.2" cy="823.7" r="3.4"/><circle cx="970.2" cy="833.3" r="3.4"/><circle cx="973.1" cy="841.9" r="3.4"/><circle cx="976" cy="853" r="3.4"/><circle cx="978.9" cy="859.2" r="3.4"/><circle cx="981.9" cy="869.3" r="3.4"/><circle cx="984.8" cy="873.9" r="3.4"/><circle cx="987.7" cy="878.5" r="3.4"/><circle cx="990.6" cy="883.1" r="3.4"/><circle cx="993.6" cy="885" r="3.4"/><circle cx="996.5" cy="885.8" r="3.4"/><circle cx="999.4" cy="887.8" r="3.4"/><circle cx="1002.3" cy="888.5" r="3.4"/><circle cx="1005.3" cy="889.7" r="3.4"/><circle cx="1008.2" cy="891.3" r="3.4"/><circle cx="1011.1" cy="888.5" r="3.4"/><circle cx="1014" cy="889.3" r="3.4"/><circle cx="1017" cy="891.3" r="3.4"/><circle cx="1019.9" cy="892.4" r="3.4"/><circle cx="1022.8" cy="891.7" r="3.4"/><circle cx="1025.7" cy="892.3" r="3.4"/><circle cx="1028.7" cy="894" r="3.4"/><circle cx="1031.6" cy="893.7" r="3.4"/><circle cx="1034.5" cy="893.1" r="3.4"/><circle cx="1037.4" cy="893" r="3.4"/><circle cx="1040.4" cy="891.9" r="3.4"/><circle cx="1043.3" cy="894.3" r="3.4"/><circle cx="1046.2" cy="894" r="3.4"/><circle cx="1049.1" cy="893" r="3.4"/><circle cx="1052.1" cy="894.7" r="3.4"/><circle cx="1055" cy="893.8" r="3.4"/><circle cx="1057.9" cy="894" r="3.4"/><circle cx="1060.8" cy="892.7" r="3.4"/><circle cx="1063.8" cy="895.5" r="3.4"/><circle cx="1066.7" cy="893.8" r="3.4"/><circle cx="1069.6" cy="895.1" r="3.4"/><circle cx="1072.5" cy="895.1" r="3.4"/><circle cx="1075.5" cy="894.3" r="3.4"/><circle cx="1078.4" cy="894.9" r="3.4"/><circle cx="1081.3" cy="894.8" r="3.4"/><circle cx="1084.2" cy="894.8" r="3.4"/><circle cx="1087.2" cy="895.4" r="3.4"/><circle cx="1090.1" cy="894.5" r="3.4"/><circle cx="1093" cy="896" r="3.4"/><circle cx="1095.9" cy="895.5" r="3.4"/><circle cx="1098.9" cy="894.1" r="3.4"/><circle cx="1101.8" cy="895.9" r="3.4"/><circle cx="1104.7" cy="895" r="3.4"/><circle cx="1107.6" cy="896" r="3.4"/><circle cx="1110.6" cy="893" r="3.4"/><circle cx="1113.5" cy="896" r="3.4"/><circle cx="1116.4" cy="893.2" r="3.4"/><circle cx="1119.3" cy="895.2" r="3.4"/><circle cx="1122.3" cy="899.2" r="3.4"/><circle cx="1125.2" cy="896.5" r="3.4"/><circle cx="1128.1" cy="896.9" r="3.4"/><circle cx="1131" cy="895" r="3.4"/></g>
<path d="M638.4 838.7 640.6 838.7 642.8 838.8 645 838.8 647.2 838.8 649.5 838.8 651.7 838.9 653.9 838.9 656.1 838.9 658.3 839 660.5 839.1 662.8 839.2 665 839.3 667.2 839.4 669.4 839.6 671.6 839.8 673.9 840 676.1 840.2 678.3 840.5 680.5 840.8 682.7 841 685 841.3 687.2 841.7 689.4 842 691.6 842.3 693.8 842.6 696 843 698.3 843.3 700.5 843.7 702.7 844.1 704.9 844.5 707.1 844.9 709.4 845.2 711.6 845.6 713.8 846 716 846.4 718.2 846.7 720.5 847 722.7 847.4 724.9 847.7 727.1 848 729.3 848.3 731.6 848.6 733.8 848.9 736 849.1 738.2 849.4 740.4 849.7 742.6 849.9 744.9 850.2 747.1 850.4 749.3 850.7 751.5 850.9 753.7 851.1 756 851.3 758.2 851.4 760.4 851.6 762.6 851.8 764.8 851.9 767.1 852 769.3 852.1 771.5 852.3 773.7 852.3 775.9 852.4 778.2 852.5 780.4 852.6 782.6 852.6 784.8 852.7 787 852.7 789.2 852.8 791.5 852.8 793.7 852.9 795.9 852.9 798.1 852.9 800.3 853 802.6 853 804.8 853 807 853.1 809.2 853.1 811.4 853.1 813.7 853.1 815.9 853.2 818.1 853.2 820.3 853.2 822.5 853.2 824.7 853.3 827 853.3 829.2 853.3 831.4 853.4 833.6 853.4 835.8 853.4 838.1 853.5 840.3 853.5 842.5 853.5 844.7 853.6 846.9 853.6 849.2 853.6 851.4 853.7 853.6 853.7 855.8 853.8 858 853.8 860.3 853.9 862.5 853.9 864.7 854 866.9 854.1 869.1 854.2 871.3 854.3 873.6 854.4 875.8 854.6 878 854.8 880.2 855 882.4 855.3 884.7 855.6 886.9 856 889.1 856.4 891.3 856.9 893.5 857.5 895.8 858.1 898 858.9 900.2 859.7 902.4 860.6 904.6 861.7 906.9 862.8 909.1 864.1 911.3 865.5 913.5 867 915.7 868.6 917.9 870.2 920.2 872 922.4 873.7 924.6 875.5 926.8 877.2 929 878.8 931.3 880.4 933.5 881.8 935.7 883.1 937.9 884.3 940.1 885.4 942.4 886.3 944.6 887.2 946.8 888 949 888.8 951.2 889.5 953.4 890.1 955.7 890.7 957.9 891.3 960.1 891.8 962.3 892.3 964.5 892.8 966.8 893.2 969 893.6 971.2 894 973.4 894.3 975.6 894.6 977.9 894.8 980.1 895 982.3 895.2 984.5 895.3 986.7 895.5 989 895.6 991.2 895.7 993.4 895.7 995.6 895.8 997.8 895.9 1000 895.9 1002.3 896 1004.5 896 1006.7 896 1008.9 896.1 1011.1 896.1 1013.4 896.1 1015.6 896.2 1017.8 896.2 1020 896.2 1022.2 896.3 1024.5 896.3 1026.7 896.3 1028.9 896.3 1031.1 896.3 1033.3 896.4 1035.6 896.4 1037.8 896.4 1040 896.4 1042.2 896.4 1044.4 896.4 1046.6 896.5 1048.9 896.5 1051.1 896.5 1053.3 896.5 1055.5 896.5 1057.7 896.5 1060 896.5 1062.2 896.5 1064.4 896.6 1066.6 896.6 1068.8 896.6 1071.1 896.6 1073.3 896.6 1075.5 896.6 1077.7 896.6 1079.9 896.6 1082.1 896.6 1084.4 896.6 1086.6 896.7 1088.8 896.7 1091 896.7 1093.2 896.7 1095.5 896.7 1097.7 896.7 1099.9 896.7 1102.1 896.7 1104.3 896.7 1106.6 896.7 1108.8 896.7 1111 896.7 1113.2 896.7 1115.4 896.8 1117.7 896.8 1119.9 896.8 1122.1 896.8 1124.3 896.8 1126.5 896.8 1128.7 896.8 1131 896.8 1133.2 896.8" fill="none" stroke="#b3b3b3" stroke-width="2.2" stroke-linejoin="round" stroke-linecap="round" />
<path d="M646.1 838.2 647.8 838 649.5 837.6 651.1 837.1 652.8 836.4 654.4 835.6 656.1 834.4 657.8 833 659.4 831.4 661.1 829.5 662.8 827.3 664.4 825 666.1 822.5 667.8 820.1 669.4 817.8 671.1 815.7 672.8 814.1 674.4 812.9 676.1 812.3 677.7 812.3 679.4 812.9 681.1 814.2 682.7 816 684.4 818.2 686.1 820.8 687.7 823.5 689.4 826.3 691.1 829 692.7 831.6 694.4 834 696 836.1 697.7 838 699.4 839.6 701 840.9 702.7 842 704.4 842.9 706 843.7 707.7 844.3" fill="none" stroke="#a4699f" stroke-width="2.5" stroke-linejoin="round" stroke-linecap="round" />
<path d="M655 838.4 656.7 838.2 658.3 838 660 837.7 661.7 837.4 663.3 836.9 665 836.3 666.6 835.6 668.3 834.8 670 833.7 671.6 832.5 673.3 831.1 675 829.4 676.6 827.5 678.3 825.4 680 823.1 681.6 820.5 683.3 817.8 685 814.9 686.6 812 688.3 809.1 689.9 806.1 691.6 803.3 693.3 800.7 694.9 798.4 696.6 796.5 698.3 794.9 699.9 793.8 701.6 793.2 703.3 793.2 704.9 793.7 706.6 794.8 708.3 796.3 709.9 798.4 711.6 800.8 713.2 803.6 714.9 806.7 716.6 810 718.2 813.4 719.9 816.8 721.6 820.2 723.2 823.6 724.9 826.8 726.6 829.8 728.2 832.6 729.9 835.2 731.6 837.5 733.2 839.6 734.9 841.5 736.5 843.1 738.2 844.5 739.9 845.7 741.5 846.7 743.2 847.6 744.9 848.3 746.5 849 748.2 849.5 749.9 849.9 751.5 850.3" fill="none" stroke="#e6a9a9" stroke-width="2.5" stroke-linejoin="round" stroke-linecap="round" />
<path d="M672.2 839.3 673.9 839.3 675.5 839.4 677.2 839.4 678.9 839.4 680.5 839.4 682.2 839.3 683.8 839.2 685.5 839 687.2 838.8 688.8 838.5 690.5 838.2 692.2 837.8 693.8 837.3 695.5 836.8 697.2 836.1 698.8 835.4 700.5 834.6 702.2 833.7 703.8 832.8 705.5 831.7 707.1 830.6 708.8 829.4 710.5 828.1 712.1 826.8 713.8 825.4 715.5 824 717.1 822.6 718.8 821.2 720.5 819.8 722.1 818.4 723.8 817.2 725.5 815.9 727.1 814.8 728.8 813.9 730.4 813 732.1 812.3 733.8 811.8 735.4 811.5 737.1 811.4 738.8 811.4 740.4 811.7 742.1 812.2 743.8 812.8 745.4 813.6 747.1 814.6 748.8 815.8 750.4 817.1 752.1 818.6 753.7 820.1 755.4 821.7 757.1 823.5 758.7 825.2 760.4 827 762.1 828.8 763.7 830.6 765.4 832.4 767.1 834.1 768.7 835.7 770.4 837.3 772 838.9 773.7 840.3 775.4 841.7 777 842.9 778.7 844.1 780.4 845.2 782 846.1 783.7 847 785.4 847.8 787 848.6 788.7 849.2 790.4 849.8 792 850.3 793.7 850.7 795.3 851.1 797 851.4 798.7 851.7 800.3 851.9 802 852.1 803.7 852.3 805.3 852.5" fill="none" stroke="#41ae9d" stroke-width="2.5" stroke-linejoin="round" stroke-linecap="round" />
<path d="M855.3 853.2 856.9 853 858.6 852.8 860.3 852.4 861.9 851.9 863.6 851.2 865.2 850.4 866.9 849.3 868.6 848 870.2 846.4 871.9 844.5 873.6 842.3 875.2 839.8 876.9 837 878.6 833.9 880.2 830.7 881.9 827.4 883.6 824 885.2 820.8 886.9 817.7 888.5 815 890.2 812.8 891.9 811.1 893.5 810.1 895.2 809.8 896.9 810.2 898.5 811.5 900.2 813.5 901.9 816.1 903.5 819.4 905.2 823.2 906.9 827.4 908.5 831.8 910.2 836.4 911.8 841 913.5 845.6 915.2 850 916.8 854.2 918.5 858.1 920.2 861.8 921.8 865.2 923.5 868.2 925.2 870.9 926.8 873.4 928.5 875.6 930.2 877.5 931.8 879.2 933.5 880.7 935.1 882 936.8 883.2" fill="none" stroke="#a4699f" stroke-width="2.5" stroke-linejoin="round" stroke-linecap="round" />
<path d="M868 853.6 869.7 853.4 871.3 853.2 873 852.8 874.7 852.2 876.3 851.4 878 850.3 879.7 848.9 881.3 846.9 883 844.4 884.7 841.2 886.3 837.2 888 832.2 889.7 826.1 891.3 818.8 893 810.2 894.6 800.1 896.3 788.5 898 775.5 899.6 761 901.3 745.3 903 728.4 904.6 710.8 906.3 692.7 908 674.6 909.6 656.9 911.3 640.1 913 624.8 914.6 611.4 916.3 600.4 917.9 592.3 919.6 587.2 921.3 585.5 922.9 587.2 924.6 592.4 926.3 600.7 927.9 612.1 929.6 626.1 931.3 642.3 932.9 660.2 934.6 679.3 936.3 699 937.9 719 939.6 738.7 941.2 757.7 942.9 775.7 944.6 792.5 946.2 807.8 947.9 821.6 949.6 833.9 951.2 844.6 952.9 853.8 954.6 861.7 956.2 868.3 957.9 873.7 959.6 878.2 961.2 881.9 962.9 884.8 964.5 887.1 966.2 889 967.9 890.4 969.5 891.6 971.2 892.5 972.9 893.2 974.5 893.7" fill="none" stroke="#e6a9a9" stroke-width="2.5" stroke-linejoin="round" stroke-linecap="round" />
<path d="M911.3 864.9 913 865.8 914.6 866.7 916.3 867.6 917.9 868.4 919.6 869 921.3 869.5 922.9 869.9 924.6 870 926.3 869.8 927.9 869.2 929.6 868.3 931.3 867 932.9 865.3 934.6 863.2 936.3 860.7 937.9 857.8 939.6 854.6 941.2 851.1 942.9 847.5 944.6 843.7 946.2 840.1 947.9 836.6 949.6 833.3 951.2 830.5 952.9 828.2 954.6 826.5 956.2 825.6 957.9 825.3 959.6 825.8 961.2 827.1 962.9 829.1 964.5 831.8 966.2 835.1 967.9 838.9 969.5 843 971.2 847.5 972.9 852 974.5 856.6 976.2 861.1 977.9 865.5 979.5 869.6 981.2 873.5 982.9 877 984.5 880.1 986.2 882.9 987.8 885.3 989.5 887.4 991.2 889.1 992.8 890.6 994.5 891.8 996.2 892.8 997.8 893.5 999.5 894.2 1001.2 894.7 1002.8 895 1004.5 895.3" fill="none" stroke="#41ae9d" stroke-width="2.5" stroke-linejoin="round" stroke-linecap="round" />
<path d="M638.4 835.7 640 835.6 641.7 835.4 643.3 835.1 645 834.8 646.7 834.5 648.3 834 650 833.4 651.7 832.7 653.3 831.8 655 830.6 656.7 829.2 658.3 827.5 660 825.5 661.7 823.1 663.3 820.5 665 817.6 666.6 814.4 668.3 811 670 807.6 671.6 804.2 673.3 801 675 798 676.6 795.5 678.3 793.4 680 791.8 681.6 790.5 683.3 789.6 685 788.8 686.6 788 688.3 787.1 689.9 786.2 691.6 785.1 693.3 783.9 694.9 782.6 696.6 781.3 698.3 780.1 699.9 779.1 701.6 778.3 703.3 777.8 704.9 777.7 706.6 778 708.3 778.7 709.9 779.7 711.6 781 713.2 782.5 714.9 784.1 716.6 785.8 718.2 787.6 719.9 789.3 721.6 791 723.2 792.6 724.9 794.1 726.6 795.5 728.2 796.8 729.9 798 731.6 799.1 733.2 800.1 734.9 801.2 736.5 802.3 738.2 803.3 739.9 804.5 741.5 805.7 743.2 807 744.9 808.4 746.5 809.9 748.2 811.5 749.9 813.1 751.5 814.8 753.2 816.6 754.9 818.4 756.5 820.2 758.2 822 759.8 823.8 761.5 825.6 763.2 827.4 764.8 829.1 766.5 830.8 768.2 832.4 769.8 833.9 771.5 835.3 773.2 836.7 774.8 838 776.5 839.1 778.2 840.2 779.8 841.2 781.5 842.2 783.1 843 784.8 843.7 786.5 844.4 788.1 845 789.8 845.6 791.5 846.1 793.1 846.5 794.8 846.8 796.5 847.2 798.1 847.4 799.8 847.7 801.5 847.9 803.1 848 804.8 848.2 806.4 848.3 808.1 848.4 809.8 848.4 811.4 848.5 813.1 848.5 814.8 848.6 816.4 848.6 818.1 848.6 819.8 848.6 821.4 848.5 823.1 848.5 824.7 848.4 826.4 848.4 828.1 848.3 829.7 848.3 831.4 848.2 833.1 848.1 834.7 848 836.4 847.9 838.1 847.7 839.7 847.6 841.4 847.4 843.1 847.3 844.7 847.1 846.4 846.9 848 846.6 849.7 846.3 851.4 846 853 845.7 854.7 845.3 856.4 844.8 858 844.2 859.7 843.5 861.4 842.7 863 841.7 864.7 840.5 866.4 839.1 868 837.4 869.7 835.4 871.3 833 873 830.2 874.7 826.9 876.3 823.2 878 818.9 879.7 814 881.3 808.6 883 802.5 884.7 795.8 886.3 788.4 888 780.4 889.7 771.8 891.3 762.6 893 752.8 894.6 742.5 896.3 731.7 898 720.4 899.6 708.6 901.3 696.2 903 683.2 904.6 669.8 906.3 656 908 642 909.6 628.1 911.3 614.6 913 602 914.6 590.7 916.3 581.3 917.9 574.3 919.6 570.1 921.3 569.2 922.9 571.7 924.6 577.5 926.3 586.4 927.9 597.9 929.6 611.5 931.3 626.6 932.9 642.6 934.6 659.1 936.3 675.4 937.9 691.1 939.6 706.1 941.2 719.9 942.9 732.5 944.6 743.7 946.2 753.6 947.9 762.2 949.6 769.6 951.2 776 952.9 781.6 954.6 786.7 956.2 791.4 957.9 796 959.6 800.7 961.2 805.5 962.9 810.4 964.5 815.6 966.2 821 967.9 826.4 969.5 831.8 971.2 837.2 972.9 842.5 974.5 847.6 976.2 852.5 977.9 857.1 979.5 861.3 981.2 865.2 982.9 868.8 984.5 872 986.2 874.8 987.8 877.3 989.5 879.5 991.2 881.4 992.8 883 994.5 884.4 996.2 885.5 997.8 886.5 999.5 887.4 1001.2 888.1 1002.8 888.7 1004.5 889.2 1006.2 889.7 1007.8 890.1 1009.5 890.4 1011.1 890.7 1012.8 891 1014.5 891.3 1016.1 891.5 1017.8 891.7 1019.5 891.9 1021.1 892.1 1022.8 892.2 1024.5 892.4 1026.1 892.6 1027.8 892.7 1029.4 892.8 1031.1 893 1032.8 893.1 1034.4 893.2 1036.1 893.3 1037.8 893.4 1039.4 893.5 1041.1 893.6 1042.8 893.7 1044.4 893.8 1046.1 893.9 1047.8 894 1049.4 894 1051.1 894.1 1052.7 894.2 1054.4 894.3 1056.1 894.3 1057.7 894.4 1059.4 894.5 1061.1 894.5 1062.7 894.6 1064.4 894.6 1066.1 894.7 1067.7 894.7 1069.4 894.8 1071.1 894.8 1072.7 894.9 1074.4 894.9 1076 895 1077.7 895 1079.4 895 1081 895.1 1082.7 895.1 1084.4 895.2 1086 895.2 1087.7 895.2 1089.4 895.3 1091 895.3 1092.7 895.3 1094.4 895.4 1096 895.4 1097.7 895.4 1099.3 895.5 1101 895.5 1102.7 895.5 1104.3 895.5 1106 895.6 1107.7 895.6 1109.3 895.6 1111 895.6 1112.7 895.7 1114.3 895.7 1116 895.7 1117.7 895.7 1119.3 895.8 1121 895.8 1122.6 895.8 1124.3 895.8 1126 895.8 1127.6 895.9 1129.3 895.9 1131 895.9 1132.6 895.9" fill="none" stroke="#d8a422" stroke-width="3.2" stroke-linejoin="round" stroke-linecap="round" />
<line x1="1134.85" y1="922.6" x2="1134.85" y2="930.6" stroke="#000" stroke-width="3" />
<line x1="1047.1" y1="922.6" x2="1047.1" y2="930.6" stroke="#000" stroke-width="3" />
<line x1="959.35" y1="922.6" x2="959.35" y2="930.6" stroke="#000" stroke-width="3" />
<line x1="871.6" y1="922.6" x2="871.6" y2="930.6" stroke="#000" stroke-width="3" />
<line x1="783.85" y1="922.6" x2="783.85" y2="930.6" stroke="#000" stroke-width="3" />
<line x1="696.1" y1="922.6" x2="696.1" y2="930.6" stroke="#000" stroke-width="3" />
<line x1="1090.97" y1="922.6" x2="1090.97" y2="927.1" stroke="#000" stroke-width="3" />
<line x1="1003.23" y1="922.6" x2="1003.23" y2="927.1" stroke="#000" stroke-width="3" />
<line x1="915.48" y1="922.6" x2="915.48" y2="927.1" stroke="#000" stroke-width="3" />
<line x1="827.73" y1="922.6" x2="827.73" y2="927.1" stroke="#000" stroke-width="3" />
<line x1="739.98" y1="922.6" x2="739.98" y2="927.1" stroke="#000" stroke-width="3" />
<line x1="652.23" y1="922.6" x2="652.23" y2="927.1" stroke="#000" stroke-width="3" />
<rect x="636.6" y="523.2" width="498.1" height="399.4" fill="none" stroke="#000" stroke-width="3.2" />
<text x="1134.85" y="954.4" font-size="26" text-anchor="middle" fill="#111" >510</text>
<text x="1047.1" y="954.4" font-size="26" text-anchor="middle" fill="#111" >513</text>
<text x="959.35" y="954.4" font-size="26" text-anchor="middle" fill="#111" >516</text>
<text x="871.6" y="954.4" font-size="26" text-anchor="middle" fill="#111" >519</text>
<text x="783.85" y="954.4" font-size="26" text-anchor="middle" fill="#111" >522</text>
<text x="696.1" y="954.4" font-size="26" text-anchor="middle" fill="#111" >525</text>
<text x="893.6" y="984.5" font-size="26.8" text-anchor="middle" fill="#111" >Binding energy (eV)</text>
<text x="612" y="727" font-size="27.6" text-anchor="middle" fill="#111" transform="rotate(-90 612 727)" >Intensity (a.u.)</text>
<text x="645.5" y="772.6" font-size="23" text-anchor="start" fill="#111" >V<tspan font-size="14.49" dy="-9.2">5+</tspan><tspan dy="9.2" font-size="1">&#8203;</tspan></text>
<line x1="656.5" y1="776" x2="668.11" y2="795.99" stroke="#000" stroke-width="2.1" /><path d="M675.5 808.7 L656.74 795.32 L668.11 795.99 L673.16 785.77Z" fill="#000" stroke="none" stroke-width="1" />
<text x="692" y="736.4" font-size="23" text-anchor="start" fill="#111" >V<tspan font-size="14.49" dy="-9.2">4+</tspan><tspan dy="9.2" font-size="1">&#8203;</tspan></text>
<line x1="701.3" y1="739.8" x2="701.3" y2="775.8" stroke="#000" stroke-width="2.1" /><path d="M701.3 790.5 L691.8 769.5 L701.3 775.8 L710.8 769.5Z" fill="#000" stroke="none" stroke-width="1" />
<text x="755.7" y="772.6" font-size="23" text-anchor="start" fill="#111" >V<tspan font-size="14.49" dy="-9.2">3+</tspan><tspan dy="9.2" font-size="1">&#8203;</tspan></text>
<line x1="759.9" y1="776" x2="747.67" y2="796.74" stroke="#000" stroke-width="2.1" /><path d="M740.2 809.4 L742.69 786.49 L747.67 796.74 L759.05 796.14Z" fill="#000" stroke="none" stroke-width="1" />
<text x="855.7" y="780.1" font-size="23" text-anchor="start" fill="#111" >V<tspan font-size="14.49" dy="-9.2">5+</tspan><tspan dy="9.2" font-size="1">&#8203;</tspan></text>
<line x1="867" y1="782.9" x2="878.8" y2="803.89" stroke="#000" stroke-width="2.1" /><path d="M886 816.7 L867.43 803.05 L878.8 803.89 L883.99 793.74Z" fill="#000" stroke="none" stroke-width="1" />
<text x="864.3" y="588.2" font-size="23" text-anchor="start" fill="#111" >V<tspan font-size="14.49" dy="-9.2">4+</tspan><tspan dy="9.2" font-size="1">&#8203;</tspan></text>
<line x1="875.6" y1="591.7" x2="904.25" y2="622.27" stroke="#000" stroke-width="2.1" /><path d="M914.3 633 L893.01 624.17 L904.25 622.27 L906.87 611.18Z" fill="#000" stroke="none" stroke-width="1" />
<text x="975.6" y="796.7" font-size="23" text-anchor="start" fill="#111" >V<tspan font-size="14.49" dy="-9.2">3+</tspan><tspan dy="9.2" font-size="1">&#8203;</tspan></text>
<line x1="979" y1="799.1" x2="966.49" y2="820.25" stroke="#000" stroke-width="2.1" /><path d="M959 832.9 L961.52 809.99 L966.49 820.25 L977.87 819.66Z" fill="#000" stroke="none" stroke-width="1" /><text x="579.7" y="536.5" font-size="55" text-anchor="start" fill="#000" >d</text><text x="657.5" y="555.5" font-size="26.3" text-anchor="start" fill="#111" >V 2p</text><text x="1121.7" y="555.5" font-size="25.5" text-anchor="end" fill="#111" >V<tspan font-size="72%">2</tspan>C/V<tspan font-size="72%">2</tspan>O<tspan font-size="72%">5-x</tspan></text></g>
<g id="panel_e"><path d="M1221.8 714.1 1222.8 713.7 1223.8 713.2 1224.8 712.7 1225.8 712.4 1226.8 712.2 1227.8 712.1 1228.8 712.1 1229.8 712.1 1230.8 712.2 1231.8 712.3 1232.8 712.5 1233.8 712.6 1234.8 712.5 1235.8 712.2 1236.8 711.7 1237.8 711.2 1238.8 710.9 1239.8 710.7 1240.8 710.6 1241.8 710.6 1242.8 710.6 1243.8 710.6 1244.8 710.4 1245.8 710.2 1246.8 709.9 1247.8 709.7 1248.8 709.6 1249.8 709.5 1250.8 709.5 1251.8 709.3 1252.8 708.9 1253.8 708.3 1254.8 707.5 1255.8 706.7 1256.8 706.2 1257.8 705.8 1258.8 705.6 1259.8 705.5 1260.8 705.2 1261.8 704.9 1262.8 704.6 1263.8 704.4 1264.8 704.4 1265.8 704.6 1266.8 705 1267.8 705.5 1268.8 706.1 1269.8 706.9 1270.8 708 1271.8 709.2 1272.8 710.4 1273.8 711.5 1274.8 712.3 1275.8 712.8 1276.8 713.2 1277.8 713.5 1278.8 713.8 1279.8 714.3 1280.8 715 1281.8 715.6 1282.8 716.1 1283.8 716.2 1284.8 716.1 1285.8 715.8 1286.8 715.5 1287.8 715.2 1288.8 715.1 1289.8 714.9 1290.8 714.8 1291.8 714.7 1292.8 714.5 1293.8 714.4 1294.8 714.2 1295.8 713.9 1296.8 713.4 1297.8 712.8 1298.8 712.1 1299.8 711.5 1300.8 710.9 1301.8 710.4 1302.8 710 1303.8 709.7 1304.8 709.4 1305.8 709.1 1306.8 708.6 1307.8 708.1 1308.8 707.7 1309.8 707.4 1310.8 707.4 1311.8 707.7 1312.8 708.1 1313.8 708.6 1314.8 709 1315.8 709.4 1316.8 709.8 1317.8 710.1 1318.8 710.5 1319.8 710.8 1320.8 711 1321.8 711 1322.8 710.9 1323.8 710.8 1324.8 710.7 1325.8 710.5 1326.8 710.1 1327.8 709.8 1328.8 709.4 1329.8 709.1 1330.8 708.7 1331.8 708.5 1332.8 708.2 1333.8 708.1 1334.8 708 1335.8 708 1336.8 708 1337.8 708 1338.8 708 1339.8 707.8 1340.8 707.6 1341.8 707.3 1342.8 707.1 1343.8 706.9 1344.8 706.8 1345.8 706.8 1346.8 706.9 1347.8 706.9 1348.8 707 1349.8 707 1350.8 707.1 1351.8 707.3 1352.8 707.4 1353.8 707.4 1354.8 707.3 1355.8 707 1356.8 706.8 1357.8 706.5 1358.8 706.3 1359.8 706 1360.8 705.9 1361.8 706 1362.8 706.1 1363.8 706.4 1364.8 706.5 1365.8 706.5 1366.8 706.4 1367.8 706.3 1368.8 706.1 1369.8 705.8 1370.8 705.4 1371.8 705 1372.8 704.6 1373.8 704.2 1374.8 703.8 1375.8 703.4 1376.8 703.1 1377.8 702.7 1378.8 702.1 1379.8 701.3 1380.8 700.4 1381.8 699.3 1382.8 698.2 1383.8 697.2 1384.8 696.2 1385.8 695.2 1386.8 694.3 1387.8 693.4 1388.8 692.6 1389.8 691.9 1390.8 691.2 1391.8 690.6 1392.8 689.8 1393.8 689.1 1394.8 688.3 1395.8 687.7 1396.8 687.2 1397.8 687 1398.8 686.9 1399.8 686.8 1400.8 686.5 1401.8 685.9 1402.8 685 1403.8 683.8 1404.8 682.5 1405.8 681.3 1406.8 680.3 1407.8 679.4 1408.8 678.5 1409.8 677.4 1410.8 676.2 1411.8 674.8 1412.8 673.6 1413.8 672.4 1414.8 671.3 1415.8 670.2 1416.8 669.1 1417.8 667.8 1418.8 666.3 1419.8 664.6 1420.8 662.8 1421.8 661 1422.8 659.3 1423.8 657.7 1424.8 656.2 1425.8 654.7 1426.8 653 1427.8 651.3 1428.8 649.6 1429.8 648 1430.8 646.5 1431.8 645.1 1432.8 643.8 1433.8 642.7 1434.8 641.7 1435.8 640.8 1436.8 640.1 1437.8 639.3 1438.8 638.5 1439.8 637.9 1440.8 637.5 1441.8 637.5 1442.8 638 1443.8 638.9 1444.8 640 1445.8 641.1 1446.8 642.5 1447.8 645.3 1448.8 649.3 1449.8 654.1 1450.8 659.3 1451.8 664.5 1452.8 670.1 1453.8 676.2 1454.8 682.6 1455.8 689 1456.8 695.2 1457.8 701.4 1458.8 707.9 1459.8 714.6 1460.8 721.5 1461.8 728.3 1462.8 735.3 1463.8 742.3 1464.8 749 1465.8 755 1466.8 759.9 1467.8 763.9 1468.8 767.4 1469.8 770.5 1470.8 773.2 1471.8 775.4 1472.8 777.2 1473.8 778.9 1474.8 780.4 1475.8 782.1 1476.8 783.8 1477.8 785.5 1478.8 787 1479.8 788.2 1480.8 788.9 1481.8 789.1 1482.8 788.8 1483.8 788.3 1484.8 787.7 1485.8 786.9 1486.8 785.9 1487.8 784.8 1488.8 783.6 1489.8 782.5 1490.8 781.1 1491.8 779.4 1492.8 777.5 1493.8 775.4 1494.8 773.1 1495.8 770.7 1496.8 768.2 1497.8 766 1498.8 764.1 1499.8 762.4 1500.8 760.8 1501.8 759.4 1502.8 758.1 1503.8 756.9 1504.8 755.8 1505.8 754.6 1506.8 753.4 1507.8 752.1 1508.8 750.8 1509.8 749.6 1510.8 748.4 1511.8 747 1512.8 745.6 1513.8 744.2 1514.8 743 1515.8 742.1 1516.8 741.4 1517.8 741 1518.8 740.6 1519.8 740.1 1520.8 739.4 1521.8 738.7 1522.8 738 1523.8 737.4 1524.8 736.9 1525.8 736.4 1526.8 735.9 1527.8 735.5 1528.8 735.2 1529.8 734.8 1530.8 734.2 1531.8 733.2 1532.8 731.8 1533.8 730.2 1534.8 728.4 1535.8 726.8 1536.8 725.4 1537.8 724.5 1538.8 724.2 1539.8 724.4 1540.8 724.8 1541.8 725.2 1542.8 725.4 1543.8 725.3 1544.8 724.9 1545.8 724.6 1546.8 724.5 1547.8 724.6 1548.8 724.9 1549.8 725.2 1550.8 725.5 1551.8 725.8 1552.8 726.2 1553.8 726.5 1554.8 726.7 1555.8 726.7 1556.8 726.5 1557.8 726 1558.8 725.1 1559.8 724 1560.8 722.9 1561.8 722 1562.8 721.5 1563.8 721.6 1564.8 721.6 1565.8 721.4 1566.8 721 1567.8 720.6 1568.8 720.4 1569.8 720.4 1570.8 720.5 1571.8 720.8 1572.8 721 1573.8 721.2 1574.8 721.1 1575.8 720.9 1576.8 720.6 1577.8 720.3 1578.8 720.2 1579.8 720.4 1580.8 720.6 1581.8 720.7 1582.8 720.8 1583.8 720.6 1584.8 720.5 1585.8 720.3 1586.8 720.2 1587.8 720.1 1588.8 720.1 1589.8 720 1590.8 719.9 1591.8 719.7 1592.8 719.4 1593.8 719.1 1594.8 718.8 1595.8 718.5 1596.8 718.2 1597.8 718 1598.8 717.7 1599.8 717.3 1600.8 716.9 1601.8 716.7 1602.8 716.5 1603.8 716.4 1604.8 716.4 1605.8 716.4 1606.8 716.4 1607.8 716.5 1608.8 716.6 1609.8 716.6 1610.8 716.4 1611.8 716.2 1612.8 716.1 1613.8 716.1 1614.8 716.4 1615.8 716.7 1616.8 717 1617.8 717 1618.8 716.7 1619.8 716.2 1620.8 715.7 1621.8 715.4 1622.8 715.1 1623.8 714.8 1624.8 714.6 1625.8 714.5 1626.8 714.3 1627.8 714 1628.8 713.7 1629.8 713.4 1630.8 713.1 1631.8 713.1 1632.8 713.3 1633.8 713.6 1634.8 713.8 1635.8 713.8 1636.8 713.7 1637.8 713.6 1638.8 713.4 1639.8 713.2 1640.8 713 1641.8 712.8 1642.8 712.5 1643.8 712.3 1644.8 712.4 1645.8 712.7 1646.8 713.4 1647.8 714.3 1648.8 715.3 1649.8 716.2 1650.8 716.9 1651.8 717.4 1652.8 717.7 1653.8 717.9 1654.8 718.3 1655.8 718.7 1656.8 719.4 1657.8 720.1 1658.8 721 1659.8 721.9 1660.8 722.5 1661.8 722.8 1662.8 722.6 1663.8 722 1664.8 721.3 1665.8 720.4 1666.8 719.6 1667.8 719 1668.8 718.5 1669.8 718.1 1670.8 717.8 1671.8 717.5 1672.8 717.2 1673.8 716.9 1674.8 716.5 1675.8 716.2 1676.8 715.8 1677.8 715.4 1678.8 715.1 1679.8 714.8 1680.8 714.8 1681.8 714.8 1682.8 714.8 1683.8 714.8 1684.8 714.8 1685.8 714.8 1686.8 714.9 1687.8 714.9 1688.8 714.9 1689.8 714.7 1690.8 714.3 1691.8 714.1 1692.8 713.9 1693.8 714 1694.8 714.1 1695.8 714.5 1696.8 714.8 1697.8 715.1 1698.8 715.3 1699.8 715.6 1700.8 716 1701.8 716.5 1702.8 717 1703.8 717.4 1704.8 717.5 1705.8 717.6 1706.8 717.6 1707.8 717.7 1708.8 717.8 1709.8 717.9 1710.8 717.9" fill="none" stroke="#7c9fca" stroke-width="3" stroke-linejoin="round" stroke-linecap="round" />
<path d="M1221.8 712.4 1222.8 712.5 1223.8 712.5 1224.8 712.4 1225.8 712.4 1226.8 712.5 1227.8 712.7 1228.8 712.9 1229.8 713.1 1230.8 713.3 1231.8 713.5 1232.8 713.6 1233.8 713.6 1234.8 713.7 1235.8 713.8 1236.8 713.9 1237.8 714.1 1238.8 714.2 1239.8 714.2 1240.8 714.1 1241.8 714 1242.8 714 1243.8 714.1 1244.8 714.3 1245.8 714.5 1246.8 714.4 1247.8 714.2 1248.8 713.8 1249.8 713.2 1250.8 712.7 1251.8 712.2 1252.8 711.8 1253.8 711.5 1254.8 711.3 1255.8 711.4 1256.8 711.4 1257.8 711.4 1258.8 711.1 1259.8 710.6 1260.8 709.9 1261.8 709.3 1262.8 708.8 1263.8 708.5 1264.8 708.3 1265.8 708.3 1266.8 708.2 1267.8 708.3 1268.8 708.3 1269.8 708.3 1270.8 708.4 1271.8 708.6 1272.8 709 1273.8 709.4 1274.8 710 1275.8 710.7 1276.8 711.5 1277.8 712.3 1278.8 713.1 1279.8 713.7 1280.8 714.1 1281.8 714.2 1282.8 713.9 1283.8 713.5 1284.8 713.1 1285.8 712.7 1286.8 712.5 1287.8 712.3 1288.8 712.3 1289.8 712.3 1290.8 712.2 1291.8 712 1292.8 711.6 1293.8 711.1 1294.8 710.6 1295.8 710 1296.8 709.5 1297.8 708.9 1298.8 708.3 1299.8 707.6 1300.8 706.9 1301.8 706.1 1302.8 705.5 1303.8 705.1 1304.8 704.9 1305.8 704.9 1306.8 705 1307.8 705.1 1308.8 705.2 1309.8 705.3 1310.8 705.6 1311.8 705.9 1312.8 706.3 1313.8 706.7 1314.8 707.1 1315.8 707.5 1316.8 707.8 1317.8 708 1318.8 708.2 1319.8 708.6 1320.8 708.9 1321.8 709.2 1322.8 709.4 1323.8 709.2 1324.8 708.8 1325.8 708.1 1326.8 707.2 1327.8 706.3 1328.8 705.4 1329.8 704.6 1330.8 703.7 1331.8 702.9 1332.8 702 1333.8 701.2 1334.8 700.7 1335.8 700.7 1336.8 701 1337.8 701.4 1338.8 701.9 1339.8 702.4 1340.8 702.9 1341.8 703.5 1342.8 704 1343.8 704.5 1344.8 705.1 1345.8 705.6 1346.8 706.1 1347.8 706.4 1348.8 706.4 1349.8 706.2 1350.8 705.9 1351.8 705.4 1352.8 704.9 1353.8 704.3 1354.8 703.9 1355.8 703.4 1356.8 702.9 1357.8 702.3 1358.8 701.3 1359.8 700.1 1360.8 698.9 1361.8 697.8 1362.8 696.8 1363.8 695.9 1364.8 695.2 1365.8 694.5 1366.8 694 1367.8 693.6 1368.8 693.3 1369.8 692.9 1370.8 692.4 1371.8 692 1372.8 691.5 1373.8 691.2 1374.8 690.9 1375.8 690.5 1376.8 690 1377.8 689.3 1378.8 688.5 1379.8 687.5 1380.8 686.4 1381.8 685.2 1382.8 683.9 1383.8 682.5 1384.8 681 1385.8 679.6 1386.8 678.1 1387.8 676.7 1388.8 675.3 1389.8 674 1390.8 672.9 1391.8 671.9 1392.8 671 1393.8 670 1394.8 668.7 1395.8 667.1 1396.8 665.3 1397.8 663.2 1398.8 661.1 1399.8 658.9 1400.8 656.8 1401.8 654.8 1402.8 652.8 1403.8 650.6 1404.8 648.4 1405.8 646.1 1406.8 643.7 1407.8 641.2 1408.8 638.7 1409.8 636.1 1410.8 633.6 1411.8 631 1412.8 628.4 1413.8 625.6 1414.8 622.8 1415.8 619.8 1416.8 616.7 1417.8 613.5 1418.8 610.3 1419.8 606.9 1420.8 603.5 1421.8 600.1 1422.8 596.6 1423.8 592.9 1424.8 589 1425.8 585 1426.8 581.1 1427.8 577.4 1428.8 573.9 1429.8 570.4 1430.8 566.6 1431.8 562.5 1432.8 558.3 1433.8 554.4 1434.8 551.2 1435.8 548.7 1436.8 546.8 1437.8 545.1 1438.8 543.5 1439.8 542.3 1440.8 541.6 1441.8 541.6 1442.8 542.3 1443.8 543.6 1444.8 545.5 1445.8 547.8 1446.8 550.6 1447.8 555 1448.8 560.8 1449.8 567.7 1450.8 575.4 1451.8 583.3 1452.8 592.4 1453.8 602.6 1454.8 613.5 1455.8 624.9 1456.8 636.7 1457.8 649.8 1458.8 664.4 1459.8 679.8 1460.8 695.4 1461.8 710.6 1462.8 725.6 1463.8 740.9 1464.8 755.9 1465.8 770.3 1466.8 783.8 1467.8 796.5 1468.8 809 1469.8 821.1 1470.8 832.3 1471.8 842.1 1472.8 850.4 1473.8 857.9 1474.8 864.7 1475.8 870.6 1476.8 875.4 1477.8 879.2 1478.8 882.8 1479.8 885.8 1480.8 887.7 1481.8 888.1 1482.8 887 1483.8 885.1 1484.8 882.6 1485.8 880 1486.8 877.2 1487.8 873.8 1488.8 870 1489.8 865.7 1490.8 861.2 1491.8 856.6 1492.8 852.1 1493.8 847.8 1494.8 843.9 1495.8 840.1 1496.8 836.3 1497.8 832.4 1498.8 828.5 1499.8 824.7 1500.8 821 1501.8 817.3 1502.8 813.8 1503.8 810.4 1504.8 807.3 1505.8 804.4 1506.8 801.5 1507.8 798.7 1508.8 795.9 1509.8 793.3 1510.8 790.8 1511.8 788.5 1512.8 786.3 1513.8 784 1514.8 781.7 1515.8 779.5 1516.8 777.5 1517.8 775.7 1518.8 774.1 1519.8 772.6 1520.8 771.1 1521.8 769.6 1522.8 768.2 1523.8 766.8 1524.8 765.5 1525.8 764.3 1526.8 763 1527.8 761.7 1528.8 760.3 1529.8 758.7 1530.8 757.1 1531.8 755.5 1532.8 753.9 1533.8 752.4 1534.8 751 1535.8 749.7 1536.8 748.5 1537.8 747.6 1538.8 746.7 1539.8 745.8 1540.8 744.9 1541.8 744 1542.8 742.9 1543.8 741.7 1544.8 740.5 1545.8 739.1 1546.8 737.9 1547.8 736.8 1548.8 735.8 1549.8 735 1550.8 734.3 1551.8 733.6 1552.8 732.9 1553.8 732.2 1554.8 731.6 1555.8 731.2 1556.8 730.9 1557.8 730.8 1558.8 730.8 1559.8 730.8 1560.8 730.7 1561.8 730.5 1562.8 730.4 1563.8 730.2 1564.8 730.2 1565.8 730.1 1566.8 729.8 1567.8 729.4 1568.8 728.9 1569.8 728.2 1570.8 727.5 1571.8 726.8 1572.8 726.1 1573.8 725.4 1574.8 724.8 1575.8 724.1 1576.8 723.4 1577.8 722.8 1578.8 722.2 1579.8 721.7 1580.8 721.3 1581.8 721 1582.8 720.9 1583.8 720.7 1584.8 720.6 1585.8 720.5 1586.8 720.3 1587.8 720.1 1588.8 720 1589.8 720 1590.8 720 1591.8 720 1592.8 720 1593.8 719.9 1594.8 719.8 1595.8 719.6 1596.8 719.4 1597.8 719.1 1598.8 718.8 1599.8 718.5 1600.8 718 1601.8 717.6 1602.8 717.3 1603.8 717 1604.8 716.8 1605.8 716.6 1606.8 716.5 1607.8 716.3 1608.8 716.1 1609.8 716.2 1610.8 716.6 1611.8 717.2 1612.8 718 1613.8 718.9 1614.8 719.8 1615.8 720.8 1616.8 721.9 1617.8 723.1 1618.8 724.3 1619.8 725.4 1620.8 726.2 1621.8 726.6 1622.8 726.6 1623.8 726.4 1624.8 725.9 1625.8 725.3 1626.8 724.7 1627.8 724.1 1628.8 723.4 1629.8 722.7 1630.8 722.1 1631.8 721.5 1632.8 720.9 1633.8 720.4 1634.8 719.7 1635.8 718.9 1636.8 718.1 1637.8 717.2 1638.8 716.4 1639.8 715.7 1640.8 715.1 1641.8 714.5 1642.8 714.2 1643.8 714.2 1644.8 714.1 1645.8 714.2 1646.8 714.4 1647.8 714.6 1648.8 714.9 1649.8 715.3 1650.8 715.8 1651.8 716.4 1652.8 716.9 1653.8 717.4 1654.8 717.7 1655.8 718 1656.8 718.1 1657.8 718.1 1658.8 717.9 1659.8 717.7 1660.8 717.4 1661.8 717 1662.8 716.6 1663.8 716.3 1664.8 716.2 1665.8 716.2 1666.8 716.3 1667.8 716.3 1668.8 716.3 1669.8 716 1670.8 715.8 1671.8 715.6 1672.8 715.5 1673.8 715.6 1674.8 715.8 1675.8 716.1 1676.8 716.3 1677.8 716.4 1678.8 716.3 1679.8 716.2 1680.8 716.2 1681.8 716.4 1682.8 716.6 1683.8 716.9 1684.8 717.1 1685.8 717 1686.8 716.8 1687.8 716.5 1688.8 716.2 1689.8 715.8 1690.8 715.6 1691.8 715.4 1692.8 715.3 1693.8 715.3 1694.8 715.4 1695.8 715.4 1696.8 715.5 1697.8 715.6 1698.8 715.6 1699.8 715.5 1700.8 715.3 1701.8 715.1 1702.8 715.1 1703.8 715.3 1704.8 715.4 1705.8 715.6 1706.8 715.7 1707.8 715.7 1708.8 715.5 1709.8 715.3 1710.8 715.2" fill="none" stroke="#d6a224" stroke-width="3" stroke-linejoin="round" stroke-linecap="round" />
<line x1="1219.7" y1="921.1" x2="1219.7" y2="930.1" stroke="#000" stroke-width="3" />
<line x1="1318.38" y1="921.1" x2="1318.38" y2="930.1" stroke="#000" stroke-width="3" />
<line x1="1417.06" y1="921.1" x2="1417.06" y2="930.1" stroke="#000" stroke-width="3" />
<line x1="1515.74" y1="921.1" x2="1515.74" y2="930.1" stroke="#000" stroke-width="3" />
<line x1="1614.42" y1="921.1" x2="1614.42" y2="930.1" stroke="#000" stroke-width="3" />
<line x1="1713.1" y1="921.1" x2="1713.1" y2="930.1" stroke="#000" stroke-width="3" />
<line x1="1269.04" y1="921.1" x2="1269.04" y2="926.1" stroke="#000" stroke-width="3" />
<line x1="1367.72" y1="921.1" x2="1367.72" y2="926.1" stroke="#000" stroke-width="3" />
<line x1="1466.4" y1="921.1" x2="1466.4" y2="926.1" stroke="#000" stroke-width="3" />
<line x1="1565.08" y1="921.1" x2="1565.08" y2="926.1" stroke="#000" stroke-width="3" />
<line x1="1663.76" y1="921.1" x2="1663.76" y2="926.1" stroke="#000" stroke-width="3" />
<rect x="1219.7" y="522.9" width="493.6" height="398.2" fill="none" stroke="#000" stroke-width="3.2" />
<text x="1215.6" y="953.9" font-size="25.2" text-anchor="middle" fill="#111" >3490</text>
<text x="1318.38" y="953.9" font-size="25.2" text-anchor="middle" fill="#111" >3500</text>
<text x="1417.06" y="953.9" font-size="25.2" text-anchor="middle" fill="#111" >3510</text>
<text x="1515.74" y="953.9" font-size="25.2" text-anchor="middle" fill="#111" >3520</text>
<text x="1614.42" y="953.9" font-size="25.2" text-anchor="middle" fill="#111" >3530</text>
<text x="1713.1" y="953.9" font-size="25.2" text-anchor="middle" fill="#111" >3540</text>
<text x="1464" y="984.6" font-size="25.8" text-anchor="middle" fill="#111" >Magnetic field (mT)</text>
<text x="1187.2" y="725.2" font-size="27.8" text-anchor="middle" fill="#111" transform="rotate(-90 1187.2 725.2)" >Intensity (a.u.)</text>
<text x="1152.9" y="536.4" font-size="55" text-anchor="start" fill="#000" >e</text>
<line x1="1492.5" y1="566.9" x2="1551.5" y2="566.9" stroke="#7c9fca" stroke-width="3" stroke-linecap="round"/>
<line x1="1492.5" y1="605.5" x2="1551.5" y2="605.5" stroke="#d0a01c" stroke-width="3" stroke-linecap="round"/>
<text x="1564.6" y="579" font-size="25.5" text-anchor="start" fill="#111" >V<tspan font-size="72%">2</tspan>CT<tspan font-size="72%">x</tspan></text>
<text x="1564.6" y="615.9" font-size="25.5" text-anchor="start" fill="#111" >V<tspan font-size="72%">2</tspan>C/V<tspan font-size="72%">2</tspan>O<tspan font-size="72%">5-x</tspan></text></g>
<g id="panel_f"><defs>
<filter id="fnoise" x="0" y="0" width="100%" height="100%" color-interpolation-filters="sRGB">
<feTurbulence type="fractalNoise" baseFrequency="0.42" numOctaves="2" seed="11" result="n"/>
<feColorMatrix in="n" type="matrix" values="2.1 2.1 0 0 -1.66  2.1 2.1 0 0 -1.66  2.1 2.1 0 0 -1.66  0 0 0 0 1"/>
</filter>
<filter id="fnoise2" x="0" y="0" width="100%" height="100%" color-interpolation-filters="sRGB">
<feTurbulence type="fractalNoise" baseFrequency="0.62" numOctaves="2" seed="5" result="n"/>
<feColorMatrix in="n" type="matrix" values="1.1 1.1 0 0 -0.72  1.1 1.1 0 0 -0.72  1.1 1.1 0 0 -0.72  0 0 0 0 1"/>
</filter>
<filter id="fnoise3" x="0" y="0" width="100%" height="100%" color-interpolation-filters="sRGB">
<feTurbulence type="fractalNoise" baseFrequency="0.36" numOctaves="2" seed="23" result="n"/>
<feColorMatrix in="n" type="matrix" values="2.6 2.6 0 0 -2.26  2.6 2.6 0 0 -2.26  2.6 2.6 0 0 -2.26  0 0 0 0 1"/>
</filter>
<filter id="fblur" x="-10%" y="-10%" width="120%" height="120%"><feGaussianBlur stdDeviation="5"/></filter>
<filter id="fblur2" x="-10%" y="-10%" width="120%" height="120%"><feGaussianBlur stdDeviation="9"/></filter>
<clipPath id="fclip"><rect x="47.4" y="1009" width="500.5" height="404"/></clipPath>
<mask id="fllmask"><rect x="27.4" y="989" width="540.5" height="444" fill="#000"/><polygon points="47.4,1246.2 54.8,1255.1 84.5,1267 129,1284.8 164.6,1290.7 188.3,1284.8 218,1302.6 265.5,1320.4 307,1332.2 366.3,1350 410.8,1385.6 416.7,1412.9 47.4,1412.9" fill="#fff" filter="url(#fblur)"/><polygon points="47.4,1008.3 158.7,1008.3 99.3,1017.8 60.8,1032.6 47.4,1050.4" fill="#fff" filter="url(#fblur)"/></mask>
<mask id="furmask"><rect x="27.4" y="989" width="540.5" height="444" fill="#000"/><polygon points="307,1008.3 547.9,1008.3 547.9,1272.9 520.6,1261.1 490.9,1237.3 461.2,1207.7 434.5,1178 413.8,1154.3 372.2,1097.9 351.5,1059.3 321.8,1020.8" fill="#fff" filter="url(#fblur)"/></mask>
</defs>
<g clip-path="url(#fclip)" style="isolation:isolate">
<rect x="47.4" y="1009" width="500.5" height="404" fill="#777" stroke="none" stroke-width="1" filter="url(#fnoise)"/>
<g mask="url(#fllmask)"><rect x="47.4" y="1009" width="500.5" height="404" fill="#999" stroke="none" stroke-width="1" filter="url(#fnoise2)"/></g>
<g mask="url(#furmask)"><rect x="47.4" y="1009" width="500.5" height="404" fill="#666" stroke="none" stroke-width="1" filter="url(#fnoise3)"/></g>
<polygon points="307,1008.3 547.9,1008.3 547.9,1272.9 520.6,1261.1 490.9,1237.3 461.2,1207.7 434.5,1178 413.8,1154.3 372.2,1097.9 351.5,1059.3 321.8,1020.8" fill="#e4e4e4" filter="url(#fblur)" style="mix-blend-mode:multiply"/>
<polygon points="307,1008.3 547.9,1008.3 547.9,1213.6 502.8,1183.9 461.2,1154.3 434.5,1133.5 416.7,1148.3 372.2,1097.9 351.5,1059.3 321.8,1020.8" fill="#e2e2e2" filter="url(#fblur2)" style="mix-blend-mode:multiply"/>
<polygon points="47.4,1050.4 60.8,1032.6 99.3,1017.8 158.7,1011.9 307,1008.3 321.8,1020.8 351.5,1059.3 372.2,1097.9 413.8,1154.3 366.3,1183.9 307,1225.5 247.7,1255.1 188.3,1284.8 164.6,1290.7 129,1284.8 84.5,1267 54.8,1255.1 47.4,1246.2" fill="#7d9eb2" filter="url(#fblur)" style="mix-blend-mode:multiply"/>
<polygon points="413.8,1154.3 434.5,1178 461.2,1207.7 490.9,1237.3 520.6,1261.1 547.9,1272.9 547.9,1412.9 416.7,1412.9 410.8,1385.6 366.3,1350 307,1332.2 265.5,1320.4 218,1302.6 188.3,1284.8 247.7,1255.1 307,1225.5 366.3,1183.9" fill="#9d80aa" filter="url(#fblur)" style="mix-blend-mode:multiply"/>
<polygon points="47.4,1050.4 60.8,1032.6 99.3,1017.8 158.7,1011.9 307,1008.3 321.8,1020.8 351.5,1059.3 372.2,1097.9 413.8,1154.3 366.3,1183.9 307,1225.5 247.7,1255.1 188.3,1284.8 164.6,1290.7 129,1284.8 84.5,1267 54.8,1255.1 47.4,1246.2" fill="#5f8aa2" opacity="0.10" filter="url(#fblur)"/>
<polygon points="413.8,1154.3 434.5,1178 461.2,1207.7 490.9,1237.3 520.6,1261.1 547.9,1272.9 547.9,1412.9 416.7,1412.9 410.8,1385.6 366.3,1350 307,1332.2 265.5,1320.4 218,1302.6 188.3,1284.8 247.7,1255.1 307,1225.5 366.3,1183.9" fill="#8a6a9a" opacity="0.10" filter="url(#fblur)"/>
</g>
<line x1="166.97" y1="1113.32" x2="195.15" y2="1076.54" stroke="#fbfbfb" stroke-width="2.2" />
<line x1="172.9" y1="1117.18" x2="200.49" y2="1080.09" stroke="#fbfbfb" stroke-width="2.2" />
<line x1="140.86" y1="1068.82" x2="168.64" y2="1088.13" stroke="#fbfbfb" stroke-width="3.2" /><path d="M175.86 1093.15 L163.69 1091.39 L168.64 1088.13 L169.97 1082.35Z" fill="#fbfbfb" stroke="none" stroke-width="1" />
<line x1="223.92" y1="1122.22" x2="195.25" y2="1104.83" stroke="#fbfbfb" stroke-width="3.2" /><path d="M187.73 1100.27 L199.99 1101.27 L195.25 1104.83 L194.28 1110.67Z" fill="#fbfbfb" stroke="none" stroke-width="1" />
<line x1="266.05" y1="1257.49" x2="266.05" y2="1319.79" stroke="#fbfbfb" stroke-width="2.4" />
<line x1="272.87" y1="1257.49" x2="272.87" y2="1319.79" stroke="#fbfbfb" stroke-width="2.4" />
<line x1="219.47" y1="1287.16" x2="255.17" y2="1287.16" stroke="#fbfbfb" stroke-width="3" /><path d="M263.97 1287.16 L252.97 1292.66 L255.17 1287.16 L252.97 1281.66Z" fill="#fbfbfb" stroke="none" stroke-width="1" />
<line x1="318.85" y1="1287.16" x2="284.64" y2="1287.16" stroke="#fbfbfb" stroke-width="3" /><path d="M275.84 1287.16 L286.84 1281.66 L284.64 1287.16 L286.84 1292.66Z" fill="#fbfbfb" stroke="none" stroke-width="1" />
<text x="75.6" y="1088.4" font-size="20" text-anchor="start" fill="#ffffff" >V<tspan font-size="72%">2</tspan>CT<tspan font-size="80%">X</tspan></text>
<text x="75.6" y="1114.2" font-size="18.6" text-anchor="start" fill="#ffffff" >(1 0 3)</text>
<text x="72" y="1137.3" font-size="18.6" text-anchor="start" fill="#ffffff" >0.22 nm</text>
<text x="351.5" y="1272.9" font-size="21" text-anchor="start" fill="#ffffff" >V<tspan font-size="72%">2</tspan>O<tspan font-size="72%">5-x</tspan></text>
<text x="353.9" y="1298" font-size="18.6" text-anchor="start" fill="#ffffff" >(2 0 1)</text>
<text x="348.5" y="1321.9" font-size="18.6" text-anchor="start" fill="#ffffff" >0.34 nm</text>
<text x="71.1" y="1391.6" font-size="22.7" text-anchor="start" fill="#fff" >5 nm</text>
<rect x="53.3" y="1399.9" width="94.1" height="8" fill="#fff" stroke="none" stroke-width="1" />
<text x="5.5" y="1016.8" font-size="55" text-anchor="start" fill="#000" >f</text></g>
<g id="panel_g"><line x1="766.8" y1="1089.8" x2="766.8" y2="1336.4" stroke="#4fc873" stroke-width="2.6" stroke-dasharray="2.2 2.2"/>
<path d="M639.5 1367.7 640.3 1367.2 641.1 1366.6 641.9 1366.1 642.7 1365.5 643.5 1364.9 644.3 1364.4 645.1 1363.7 645.9 1363.1 646.7 1362.5 647.5 1361.8 648.3 1361.1 649.1 1360.3 649.9 1359.5 650.7 1358.6 651.5 1357.7 652.3 1356.8 653.1 1355.9 653.9 1355 654.7 1354.2 655.5 1353.4 656.3 1352.7 657.1 1352 657.9 1351.5 658.7 1351 659.5 1350.4 660.3 1349.9 661.1 1349.4 661.9 1348.9 662.7 1348.5 663.5 1348.1 664.3 1347.9 665.1 1347.7 665.9 1347.6 666.7 1347.6 667.5 1347.8 668.3 1348.1 669.1 1348.5 669.9 1349 670.7 1349.7 671.5 1350.3 672.3 1351.1 673.1 1351.8 673.9 1352.6 674.7 1353.4 675.5 1354.4 676.3 1355.8 677.1 1357.3 677.9 1358.9 678.7 1360.5 679.5 1362.1 680.3 1363.6 681.1 1364.8 681.9 1365.9 682.7 1366.9 683.5 1367.9 684.3 1368.7 685.1 1369.2 685.9 1369 686.7 1368.2 687.5 1366.9 688.3 1365.2 689.1 1363.4 689.9 1361.5 690.7 1359.3 691.5 1356.5 692.3 1353.4 693.1 1350 693.9 1346.4 694.7 1342.7 695.5 1339.1 696.3 1335.7 697.1 1332.5 697.9 1329.2 698.7 1325.8 699.5 1322.3 700.3 1318.9 701.1 1315.6 701.9 1312.3 702.7 1309.1 703.5 1306.1 704.3 1303.2 705.1 1300.6 705.9 1298.1 706.7 1295.6 707.5 1293.1 708.3 1290.7 709.1 1288.5 709.9 1286.3 710.7 1284.3 711.5 1282.5 712.3 1280.9 713.1 1279.5 713.9 1278.3 714.7 1277.3 715.5 1276.3 716.3 1275.3 717.1 1274.5 717.9 1273.8 718.7 1273.1 719.5 1272.6 720.3 1272.2 721.1 1271.9 721.9 1271.6 722.7 1271.4 723.5 1271.3 724.3 1271.1 725.1 1270.9 725.9 1270.8 726.7 1270.6 727.5 1270.3 728.3 1270 729.1 1269.6 729.9 1269 730.7 1268.2 731.5 1267.3 732.3 1266.1 733.1 1264.8 733.9 1263.4 734.7 1261.9 735.5 1260.2 736.3 1258 737.1 1255.3 737.9 1252 738.7 1248.3 739.5 1244.2 740.3 1240 741.1 1235.7 741.9 1231.4 742.7 1227 743.5 1222.2 744.3 1217.1 745.1 1211.8 745.9 1206.3 746.7 1200.8 747.5 1195.3 748.3 1190 749.1 1184.9 749.9 1179.8 750.7 1174.7 751.5 1169.6 752.3 1164.5 753.1 1159.6 753.9 1154.9 754.7 1150.5 755.5 1146.4 756.3 1142.5 757.1 1138.5 757.9 1134.6 758.7 1130.8 759.5 1127.3 760.3 1124.2 761.1 1121.5 761.9 1119.5 762.7 1118.1 763.5 1116.9 764.3 1115.8 765.1 1115 765.9 1114.4 766.7 1114.1 767.5 1114.2 768.3 1114.6 769.1 1115.2 769.9 1116 770.7 1117 771.5 1118 772.3 1119.2 773.1 1121 773.9 1123.3 774.7 1126.2 775.5 1129.4 776.3 1132.8 777.1 1136.4 777.9 1140.1 778.7 1144.1 779.5 1148.6 780.3 1153.5 781.1 1158.7 781.9 1164.2 782.7 1170 783.5 1175.9 784.3 1182.1 785.1 1188.5 785.9 1195.4 786.7 1202.7 787.5 1210.3 788.3 1218.2 789.1 1226.3 789.9 1234.4 790.7 1242.5 791.5 1250.5 792.3 1258.7 793.1 1267.1 793.9 1275.5 794.7 1284.1 795.5 1292.7 796.3 1301.2 797.1 1309.6 797.9 1317.9 798.7 1326.2 799.5 1334.7 800.3 1342.8 801.1 1350.1 801.9 1357.3 802.7 1364.5 803.5 1368.4 804.3 1366.8 805.1 1361.5 805.9 1354.9 806.7 1349.2 807.5 1343.2 808.3 1337 809.1 1330.7 809.9 1324.5 810.7 1318.9 811.5 1314 812.3 1309.6 813.1 1305.4 813.9 1301.6 814.7 1298 815.5 1294.6 816.3 1291.5 817.1 1288.5 817.9 1285.7 818.7 1283 819.5 1280.4 820.3 1278 821.1 1275.7 821.9 1273.6 822.7 1271.7 823.5 1270 824.3 1268.5 825.1 1267.1 825.9 1265.9 826.7 1264.8 827.5 1263.7 828.3 1262.6 829.1 1261.4 829.9 1260.2 830.7 1258.9 831.5 1257.4 832.3 1255.7 833.1 1253.8 833.9 1251.8 834.7 1249.7 835.5 1247.3 836.3 1244.9 837.1 1242.4 837.9 1239.5 838.7 1236.4 839.5 1233.1 840.3 1229.7 841.1 1226.3 841.9 1222.9 842.7 1219.6 843.5 1216.5 844.3 1213.5 845.1 1210.5 845.9 1207.5 846.7 1204.6 847.5 1201.7 848.3 1199 849.1 1196.4 849.9 1193.9 850.7 1191.6 851.5 1189.2 852.3 1186.9 853.1 1184.6 853.9 1182.4 854.7 1180.3 855.5 1178.3 856.3 1176.5 857.1 1175 857.9 1173.6 858.7 1172.6 859.5 1171.7 860.3 1170.8 861.1 1170 861.9 1169.2 862.7 1168.5 863.5 1167.9 864.3 1167.4 865.1 1167.1 865.9 1166.9 866.7 1166.8 867.5 1167 868.3 1167.4 869.1 1168.1 869.9 1168.8 870.7 1169.8 871.5 1170.8 872.3 1171.9 873.1 1173.1 873.9 1174.2 874.7 1175.6 875.5 1177.3 876.3 1179.2 877.1 1181.4 877.9 1183.7 878.7 1186.3 879.5 1188.9 880.3 1191.6 881.1 1194.4 881.9 1197.4 882.7 1200.8 883.5 1204.4 884.3 1208.1 885.1 1212 885.9 1215.9 886.7 1219.8 887.5 1223.6 888.3 1227.5 889.1 1231.5 889.9 1235.7 890.7 1239.8 891.5 1244 892.3 1248.1 893.1 1252 893.9 1255.8 894.7 1259.3 895.5 1262.9 896.3 1266.4 897.1 1269.8 897.9 1273.1 898.7 1276.2 899.5 1279.2 900.3 1282 901.1 1284.6 901.9 1287 902.7 1289.4 903.5 1291.7 904.3 1293.9 905.1 1296 905.9 1297.8 906.7 1299.4 907.5 1300.7 908.3 1301.7 909.1 1302.7 909.9 1303.7 910.7 1304.5 911.5 1305.3 912.3 1305.9 913.1 1306.5 913.9 1306.9 914.7 1307.1 915.5 1307.3 916.3 1307.4 917.1 1307.6 917.9 1307.8 918.7 1307.9 919.5 1308 920.3 1308.1 921.1 1308.2 921.9 1308.3 922.7 1308.3 923.5 1308.4 924.3 1308.4 925.1 1308.4 925.9 1308.4 926.7 1308.4 927.5 1308.4 928.3 1308.4 929.1 1308.4 929.9 1308.4 930.7 1308.4 931.5 1308.4 932.3 1308.4 933.1 1308.4 933.9 1308.4 934.7 1308.4 935.5 1308.4 936.3 1308.4 937.1 1308.4 937.9 1308.4 938.7 1308.4 939.5 1308.4 940.3 1308.4 941.1 1308.4 941.9 1308.4 942.7 1308.4 943.5 1308.4 944.3 1308.4 945.1 1308.4 945.9 1308.4 946.7 1308.4 947.5 1308.4 948.3 1308.4 949.1 1308.5 949.9 1308.8 950.7 1309.2 951.5 1309.8 952.3 1310.4 953.1 1311.1 953.9 1311.8 954.7 1312.5 955.5 1313.2 956.3 1314 957.1 1314.9 957.9 1315.8 958.7 1316.8 959.5 1317.9 960.3 1319.1 961.1 1320.2 961.9 1321.5 962.7 1322.8 963.5 1324.2 964.3 1325.8 965.1 1327.4 965.9 1329.1 966.7 1330.8 967.5 1332.6 968.3 1334.3 969.1 1336 969.9 1337.9 970.7 1339.8 971.5 1341.7 972.3 1343.6 973.1 1345.5 973.9 1347.2 974.7 1348.9 975.5 1350.4 976.3 1351.9 977.1 1353.5 977.9 1355.1 978.7 1356.5 979.5 1357.7 980.3 1358.6 981.1 1359 981.9 1358.8 982.7 1357.8 983.5 1356.2 984.3 1354.3 985.1 1352.3 985.9 1350.4 986.7 1348 987.5 1345.3 988.3 1342.4 989.1 1339.4 989.9 1336.3 990.7 1333.2 991.5 1330.2 992.3 1327.5 993.1 1324.8 993.9 1322.1 994.7 1319.3 995.5 1316.6 996.3 1313.9 997.1 1311.3 997.9 1308.8 998.7 1306.3 999.5 1304 1000.3 1301.7 1001.1 1299.6 1001.9 1297.5 1002.7 1295.3 1003.5 1293.2 1004.3 1291.2 1005.1 1289.2 1005.9 1287.4 1006.7 1285.8 1007.5 1284.4 1008.3 1283.2 1009.1 1282.3 1009.9 1281.6 1010.7 1280.9 1011.5 1280.2 1012.3 1279.6 1013.1 1279.1 1013.9 1278.7 1014.7 1278.5 1015.5 1278.3 1016.3 1278.4 1017.1 1278.6 1017.9 1279.1 1018.7 1279.7 1019.5 1280.4 1020.3 1281.3 1021.1 1282.2 1021.9 1283.2 1022.7 1284.2 1023.5 1285.5 1024.3 1287.1 1025.1 1288.9 1025.9 1291 1026.7 1293.2 1027.5 1295.6 1028.3 1297.9 1029.1 1300.3 1029.9 1302.7 1030.7 1305.3 1031.5 1308 1032.3 1310.8 1033.1 1313.8 1033.9 1316.7 1034.7 1319.7 1035.5 1322.6 1036.3 1325.4 1037.1 1328.3 1037.9 1331.4 1038.7 1334.5 1039.5 1337.6 1040.3 1340.6 1041.1 1343.3 1041.9 1345.8 1042.7 1347.9 1043.5 1349.8 1044.3 1351.8 1045.1 1353.5 1045.9 1355 1046.7 1355.8 1047.5 1355.9 1048.3 1355.1 1049.1 1353.6 1049.9 1351.6 1050.7 1349.6 1051.5 1347.8 1052.3 1345.9 1053.1 1343.8 1053.9 1341.6 1054.7 1339.4 1055.5 1337.3 1056.3 1335.2 1057.1 1333.3 1057.9 1331.6 1058.7 1330.1 1059.5 1328.6 1060.3 1327.2 1061.1 1325.8 1061.9 1324.5 1062.7 1323.4 1063.5 1322.4 1064.3 1321.6 1065.1 1321 1065.9 1320.5 1066.7 1319.9 1067.5 1319.5 1068.3 1319.2 1069.1 1318.9 1069.9 1318.9 1070.7 1319 1071.5 1319.3 1072.3 1319.8 1073.1 1320.5 1073.9 1321.3 1074.7 1322.2 1075.5 1323.2 1076.3 1324.2 1077.1 1325.3 1077.9 1326.8 1078.7 1328.6 1079.5 1330.6 1080.3 1332.9 1081.1 1335.2 1081.9 1337.5 1082.7 1339.7 1083.5 1341.8 1084.3 1343.9 1085.1 1346.1 1085.9 1348.3 1086.7 1350.5 1087.5 1352.7 1088.3 1354.7 1089.1 1356.5 1089.9 1358 1090.7 1359.3 1091.5 1360.7 1092.3 1362 1093.1 1363.2 1093.9 1364.3 1094.7 1365.1 1095.5 1365.7 1096.3 1365.8 1097.1 1365.5 1097.9 1364.7 1098.7 1363.7 1099.5 1362.4 1100.3 1361 1101.1 1359.7 1101.9 1358.5 1102.7 1357.3 1103.5 1356 1104.3 1354.7 1105.1 1353.4 1105.9 1352 1106.7 1350.8 1107.5 1349.7 1108.3 1348.7 1109.1 1347.9 1109.9 1347 1110.7 1346.2 1111.5 1345.5 1112.3 1344.7 1113.1 1344 1113.9 1343.4 1114.7 1342.9 1115.5 1342.5 1116.3 1342.3 1117.1 1342.2 1117.9 1342.2 1118.7 1342.2 1119.5 1342.3 1120.3 1342.4 1121.1 1342.6 1121.9 1342.7 1122.7 1342.9 1123.5 1343.1 1124.3 1343.3 1125.1 1343.5 1125.9 1343.9 1126.7 1344.2 1127.5 1344.7 1128.3 1345.2 1129.1 1345.7 1129.9 1346.3 1130.7 1346.9" fill="none" stroke="#b9a2c8" stroke-width="3" stroke-linejoin="round" stroke-linecap="round" />
<path d="M639.5 1351 640.3 1351.2 641.1 1351.3 641.9 1351.4 642.7 1351.5 643.5 1351.5 644.3 1351.6 645.1 1351.6 645.9 1351.6 646.7 1351.6 647.5 1351.6 648.3 1351.6 649.1 1351.3 649.9 1351 650.7 1350.5 651.5 1350 652.3 1349.4 653.1 1348.7 653.9 1348 654.7 1347.3 655.5 1346.6 656.3 1345.9 657.1 1345.3 657.9 1344.7 658.7 1344.1 659.5 1343.5 660.3 1342.8 661.1 1342.1 661.9 1341.4 662.7 1340.8 663.5 1340.2 664.3 1339.7 665.1 1339.4 665.9 1339.2 666.7 1339.1 667.5 1339 668.3 1338.9 669.1 1338.9 669.9 1338.8 670.7 1338.8 671.5 1338.8 672.3 1339.1 673.1 1339.8 673.9 1340.7 674.7 1341.8 675.5 1343 676.3 1344.2 677.1 1345.4 677.9 1346.5 678.7 1347.5 679.5 1348.7 680.3 1349.9 681.1 1351.2 681.9 1352.3 682.7 1353.4 683.5 1354.2 684.3 1354.8 685.1 1355.1 685.9 1355.3 686.7 1355.5 687.5 1355.6 688.3 1355.6 689.1 1355 689.9 1353.7 690.7 1351.8 691.5 1349.7 692.3 1347.3 693.1 1345.1 693.9 1342.6 694.7 1339.8 695.5 1336.7 696.3 1333.3 697.1 1329.7 697.9 1326.2 698.7 1322.7 699.5 1319.5 700.3 1316.4 701.1 1313.4 701.9 1310.4 702.7 1307.4 703.5 1304.5 704.3 1301.6 705.1 1299 705.9 1296.4 706.7 1294.1 707.5 1291.9 708.3 1289.6 709.1 1287.3 709.9 1285.2 710.7 1283.2 711.5 1281.5 712.3 1280.1 713.1 1279.2 713.9 1278.7 714.7 1278.3 715.5 1278 716.3 1277.7 717.1 1277.5 717.9 1277.3 718.7 1277.3 719.5 1277.6 720.3 1278.2 721.1 1279 721.9 1280.1 722.7 1281.2 723.5 1282.3 724.3 1283.5 725.1 1285.1 725.9 1286.9 726.7 1288.9 727.5 1290.9 728.3 1293 729.1 1294.9 729.9 1296.7 730.7 1298.3 731.5 1300 732.3 1301.8 733.1 1303.5 733.9 1304.8 734.7 1305.7 735.5 1306 736.3 1305.5 737.1 1304.4 737.9 1302.9 738.7 1301.1 739.5 1298.6 740.3 1294.8 741.1 1290 741.9 1284.5 742.7 1278.7 743.5 1272.9 744.3 1267.3 745.1 1261.3 745.9 1254.9 746.7 1248.2 747.5 1241.5 748.3 1234.7 749.1 1228 749.9 1221.7 750.7 1215.8 751.5 1210 752.3 1204.2 753.1 1198.4 753.9 1192.8 754.7 1187.5 755.5 1182.5 756.3 1177.9 757.1 1173.8 757.9 1170.1 758.7 1166.5 759.5 1163 760.3 1159.8 761.1 1156.8 761.9 1154.1 762.7 1151.8 763.5 1150 764.3 1148.7 765.1 1147.6 765.9 1146.5 766.7 1145.5 767.5 1144.7 768.3 1143.9 769.1 1143.2 769.9 1142.7 770.7 1142.4 771.5 1142.2 772.3 1142.2 773.1 1142.6 773.9 1143.3 774.7 1144.2 775.5 1145.3 776.3 1146.6 777.1 1148 777.9 1149.4 778.7 1151.4 779.5 1153.9 780.3 1156.9 781.1 1160.3 781.9 1163.9 782.7 1167.8 783.5 1171.7 784.3 1175.5 785.1 1179.5 785.9 1183.8 786.7 1188.3 787.5 1193 788.3 1198 789.1 1203.1 789.9 1208.3 790.7 1213.6 791.5 1218.9 792.3 1224.5 793.1 1230.4 793.9 1236.4 794.7 1242.5 795.5 1248.7 796.3 1254.9 797.1 1261.1 797.9 1267.2 798.7 1273.2 799.5 1279.3 800.3 1285.4 801.1 1291.6 801.9 1297.6 802.7 1303.6 803.5 1309.5 804.3 1315.3 805.1 1321 805.9 1326.9 806.7 1332.8 807.5 1338.5 808.3 1343.8 809.1 1348.5 809.9 1352.4 810.7 1356.2 811.5 1359.9 812.3 1363.2 813.1 1365.6 813.9 1366.8 814.7 1366.4 815.5 1364.5 816.3 1361.7 817.1 1358.6 817.9 1355.8 818.7 1353.5 819.5 1351.1 820.3 1348.6 821.1 1346.3 821.9 1344.2 822.7 1342.4 823.5 1341.1 824.3 1339.9 825.1 1338.8 825.9 1337.8 826.7 1336.9 827.5 1336.1 828.3 1335.5 829.1 1335 829.9 1334.7 830.7 1334.6 831.5 1334.5 832.3 1334.4 833.1 1334.4 833.9 1334.3 834.7 1334.3 835.5 1334.2 836.3 1334.1 837.1 1334 837.9 1333.8 838.7 1333.6 839.5 1333.3 840.3 1333 841.1 1332.6 841.9 1332.2 842.7 1331.8 843.5 1331.4 844.3 1330.8 845.1 1330.2 845.9 1329.5 846.7 1328.7 847.5 1327.9 848.3 1327 849.1 1326 849.9 1325.1 850.7 1324.2 851.5 1323.3 852.3 1322.5 853.1 1321.7 853.9 1321 854.7 1320.3 855.5 1319.6 856.3 1318.8 857.1 1318.2 857.9 1317.5 858.7 1317 859.5 1316.5 860.3 1316.2 861.1 1315.9 861.9 1315.7 862.7 1315.5 863.5 1315.3 864.3 1315.2 865.1 1315.1 865.9 1315.2 866.7 1315.5 867.5 1316.1 868.3 1316.9 869.1 1317.8 869.9 1318.8 870.7 1319.7 871.5 1320.8 872.3 1322.1 873.1 1323.5 873.9 1325.1 874.7 1326.7 875.5 1328.3 876.3 1330 877.1 1331.5 877.9 1333 878.7 1334.3 879.5 1335.5 880.3 1336.6 881.1 1337.8 881.9 1338.9 882.7 1340 883.5 1341.1 884.3 1342 885.1 1342.9 885.9 1343.7 886.7 1344.4 887.5 1344.9 888.3 1345.4 889.1 1345.8 889.9 1346.3 890.7 1346.7 891.5 1347 892.3 1347.3 893.1 1347.5 893.9 1347.6 894.7 1347.5 895.5 1347.4 896.3 1347.2 897.1 1346.8 897.9 1346.5 898.7 1346 899.5 1345.6 900.3 1345.2 901.1 1344.8 901.9 1344.4 902.7 1343.9 903.5 1343.4 904.3 1342.9 905.1 1342.3 905.9 1341.8 906.7 1341.3 907.5 1340.8 908.3 1340.3 909.1 1339.9 909.9 1339.6 910.7 1339.2 911.5 1338.9 912.3 1338.6 913.1 1338.3 913.9 1338 914.7 1337.8 915.5 1337.5 916.3 1337.3 917.1 1337.2 917.9 1337.1 918.7 1337 919.5 1336.9 920.3 1336.8 921.1 1336.8 921.9 1336.7 922.7 1336.6 923.5 1336.6 924.3 1336.5 925.1 1336.5 925.9 1336.5 926.7 1336.4 927.5 1336.4 928.3 1336.4 929.1 1336.4 929.9 1336.5 930.7 1336.6 931.5 1336.7 932.3 1336.8 933.1 1337 933.9 1337.1 934.7 1337.3 935.5 1337.5 936.3 1337.7 937.1 1337.9 937.9 1338.1 938.7 1338.3 939.5 1338.5 940.3 1338.8 941.1 1339.2 941.9 1339.5 942.7 1339.9 943.5 1340.3 944.3 1340.8 945.1 1341.3 945.9 1341.7 946.7 1342.2 947.5 1342.7 948.3 1343.2 949.1 1343.8 949.9 1344.4 950.7 1345 951.5 1345.7 952.3 1346.4 953.1 1347.1 953.9 1347.9 954.7 1348.6 955.5 1349.3 956.3 1350 957.1 1350.7 957.9 1351.3 958.7 1351.9 959.5 1352.4 960.3 1353 961.1 1353.7 961.9 1354.3 962.7 1354.9 963.5 1355.4 964.3 1356 965.1 1356.5 965.9 1356.9 966.7 1357.2 967.5 1357.5 968.3 1357.7 969.1 1357.8 969.9 1357.8 970.7 1357.9 971.5 1358 972.3 1358 973.1 1358 973.9 1358.1 974.7 1358.1 975.5 1358.2 976.3 1358.2 977.1 1358.3 977.9 1358.3 978.7 1358.4 979.5 1358.5 980.3 1358.6 981.1 1358.7 981.9 1358.8 982.7 1358.9 983.5 1359 984.3 1359.2 985.1 1359.3 985.9 1359.5 986.7 1359.6 987.5 1359.8 988.3 1360 989.1 1360.1 989.9 1360.3 990.7 1360.6 991.5 1360.8 992.3 1361.1 993.1 1361.4 993.9 1361.7 994.7 1362 995.5 1362.2 996.3 1362.4 997.1 1362.6 997.9 1362.7 998.7 1362.8 999.5 1362.7 1000.3 1362.6 1001.1 1362.4 1001.9 1362.1 1002.7 1361.7 1003.5 1361.3 1004.3 1360.9 1005.1 1360.3 1005.9 1359.6 1006.7 1358.7 1007.5 1357.8 1008.3 1356.7 1009.1 1355.7 1009.9 1354.6 1010.7 1353.6 1011.5 1352.6 1012.3 1351.7 1013.1 1351 1013.9 1350.2 1014.7 1349.4 1015.5 1348.6 1016.3 1347.8 1017.1 1347.1 1017.9 1346.4 1018.7 1345.7 1019.5 1345.1 1020.3 1344.5 1021.1 1344.1 1021.9 1343.6 1022.7 1343.1 1023.5 1342.6 1024.3 1342.1 1025.1 1341.7 1025.9 1341.3 1026.7 1340.9 1027.5 1340.5 1028.3 1340.3 1029.1 1340 1029.9 1339.9 1030.7 1339.8 1031.5 1339.8 1032.3 1339.9 1033.1 1340.1 1033.9 1340.4 1034.7 1340.7 1035.5 1341 1036.3 1341.4 1037.1 1341.8 1037.9 1342.2 1038.7 1342.8 1039.5 1343.4 1040.3 1344.2 1041.1 1345.1 1041.9 1346 1042.7 1347 1043.5 1348.1 1044.3 1349.1 1045.1 1350.2 1045.9 1351.2 1046.7 1352.3 1047.5 1353.3 1048.3 1354.5 1049.1 1355.7 1049.9 1357 1050.7 1358.2 1051.5 1359.4 1052.3 1360.5 1053.1 1361.6 1053.9 1362.6 1054.7 1363.5 1055.5 1364.3 1056.3 1365.2 1057.1 1366.1 1057.9 1366.9 1058.7 1367.7 1059.5 1368.5 1060.3 1369.1 1061.1 1369.6 1061.9 1370 1062.7 1370.2 1063.5 1370.2 1064.3 1370 1065.1 1369.7 1065.9 1369.3 1066.7 1368.8 1067.5 1368.2 1068.3 1367.7 1069.1 1367.2 1069.9 1366.8 1070.7 1366.4 1071.5 1366 1072.3 1365.5 1073.1 1365.1 1073.9 1364.6 1074.7 1364.2 1075.5 1363.7 1076.3 1363.4 1077.1 1363 1077.9 1362.8 1078.7 1362.6 1079.5 1362.5 1080.3 1362.4 1081.1 1362.5 1081.9 1362.6 1082.7 1362.7 1083.5 1362.8 1084.3 1363 1085.1 1363.2 1085.9 1363.4 1086.7 1363.6 1087.5 1363.8 1088.3 1364 1089.1 1364.2 1089.9 1364.4 1090.7 1364.6 1091.5 1364.8 1092.3 1365 1093.1 1365.3 1093.9 1365.5 1094.7 1365.8 1095.5 1366 1096.3 1366.2 1097.1 1366.4 1097.9 1366.6 1098.7 1366.7 1099.5 1366.8 1100.3 1366.8 1101.1 1366.8 1101.9 1366.7 1102.7 1366.5 1103.5 1366.3 1104.3 1366 1105.1 1365.7 1105.9 1365.4 1106.7 1365 1107.5 1364.7 1108.3 1364.3 1109.1 1364 1109.9 1363.6 1110.7 1363.3 1111.5 1363 1112.3 1362.6 1113.1 1362.3 1113.9 1361.9 1114.7 1361.5 1115.5 1361.1 1116.3 1360.7 1117.1 1360.3 1117.9 1360 1118.7 1359.7 1119.5 1359.4 1120.3 1359.1 1121.1 1358.9 1121.9 1358.7 1122.7 1358.5 1123.5 1358.3 1124.3 1358.1 1125.1 1357.9 1125.9 1357.7 1126.7 1357.5 1127.5 1357.4 1128.3 1357.2 1129.1 1357.1 1129.9 1357 1130.7 1356.9" fill="none" stroke="#d9a520" stroke-width="3" stroke-linejoin="round" stroke-linecap="round" />
<line x1="637.3" y1="1410.7" x2="637.3" y2="1418.7" stroke="#000" stroke-width="3" />
<line x1="719.9" y1="1410.7" x2="719.9" y2="1418.7" stroke="#000" stroke-width="3" />
<line x1="802.5" y1="1410.7" x2="802.5" y2="1418.7" stroke="#000" stroke-width="3" />
<line x1="885.1" y1="1410.7" x2="885.1" y2="1418.7" stroke="#000" stroke-width="3" />
<line x1="967.7" y1="1410.7" x2="967.7" y2="1418.7" stroke="#000" stroke-width="3" />
<line x1="1050.3" y1="1410.7" x2="1050.3" y2="1418.7" stroke="#000" stroke-width="3" />
<line x1="1132.9" y1="1410.7" x2="1132.9" y2="1418.7" stroke="#000" stroke-width="3" />
<line x1="678.6" y1="1410.7" x2="678.6" y2="1415.2" stroke="#000" stroke-width="3" />
<line x1="761.2" y1="1410.7" x2="761.2" y2="1415.2" stroke="#000" stroke-width="3" />
<line x1="843.8" y1="1410.7" x2="843.8" y2="1415.2" stroke="#000" stroke-width="3" />
<line x1="926.4" y1="1410.7" x2="926.4" y2="1415.2" stroke="#000" stroke-width="3" />
<line x1="1009" y1="1410.7" x2="1009" y2="1415.2" stroke="#000" stroke-width="3" />
<line x1="1091.6" y1="1410.7" x2="1091.6" y2="1415.2" stroke="#000" stroke-width="3" />
<rect x="637.2" y="1009.8" width="495.7" height="400.9" fill="none" stroke="#000" stroke-width="3.2" />
<text x="637.3" y="1441.1" font-size="26" text-anchor="middle" fill="#111" >0</text>
<text x="719.9" y="1441.1" font-size="26" text-anchor="middle" fill="#111" >1</text>
<text x="802.5" y="1441.1" font-size="26" text-anchor="middle" fill="#111" >2</text>
<text x="885.1" y="1441.1" font-size="26" text-anchor="middle" fill="#111" >3</text>
<text x="967.7" y="1441.1" font-size="26" text-anchor="middle" fill="#111" >4</text>
<text x="1050.3" y="1441.1" font-size="26" text-anchor="middle" fill="#111" >5</text>
<text x="1132.9" y="1441.1" font-size="26" text-anchor="middle" fill="#111" >6</text>
<text x="887.6" y="1469.9" font-size="26.5" text-anchor="middle" fill="#111" >R (Å)</text>
<text x="609.7" y="1214.8" font-size="26.5" text-anchor="middle" fill="#111" transform="rotate(-90 609.7 1214.8)" >FT k<tspan font-size="15.9" dy="-9.54">3</tspan><tspan dy="9.54" font-size="1">&#8203;</tspan> χ(k)</text>
<text x="583.4" y="1016.5" font-size="55" text-anchor="start" fill="#000" >g</text>
<text x="646.9" y="1040.8" font-size="26" text-anchor="start" fill="#111" >V R-space</text>
<line x1="933" y1="1038.3" x2="992.3" y2="1038.3" stroke="#b99dc6" stroke-width="3" stroke-linecap="round"/>
<line x1="933" y1="1076.7" x2="992.3" y2="1076.7" stroke="#d0a01c" stroke-width="3" stroke-linecap="round"/>
<text x="1004.7" y="1050.4" font-size="25.5" text-anchor="start" fill="#111" >V<tspan font-size="72%">2</tspan>O<tspan font-size="72%">5</tspan></text>
<text x="1004.7" y="1087.4" font-size="25.5" text-anchor="start" fill="#111" >V<tspan font-size="72%">2</tspan>C/V<tspan font-size="72%">2</tspan>O<tspan font-size="72%">5-x</tspan></text>
<text x="817.5" y="1094.9" font-size="26" text-anchor="start" fill="#111" >V-O/V-C</text>
<line x1="816.5" y1="1096.6" x2="788.24" y2="1123.55" stroke="#000" stroke-width="2.1" /><path d="M777.6 1133.7 L786.24 1112.33 L788.24 1123.55 L799.35 1126.08Z" fill="#000" stroke="none" stroke-width="1" />
<text x="926.3" y="1172.6" font-size="26" text-anchor="start" fill="#111" >V-V</text>
<line x1="925.3" y1="1172.6" x2="894.99" y2="1196.26" stroke="#000" stroke-width="2.1" /><path d="M883.4 1205.3 L894.11 1184.89 L894.99 1196.26 L905.8 1199.87Z" fill="#000" stroke="none" stroke-width="1" /></g>
<g id="panel_h"><filter id="hblur" x="-5%" y="-5%" width="110%" height="110%"><feGaussianBlur stdDeviation="3.5"/></filter>
<clipPath id="cliph1"><rect x="1219.7" y="1011.3" width="493.6" height="197.5"/></clipPath>
<g clip-path="url(#cliph1)">
<rect x="1214.7" y="1006.3" width="503.6" height="207.5" fill="#88b0e2" stroke="none" stroke-width="1" />
<g filter="url(#hblur)">
<path d="M1266 1012 1269 1009 1274 1009 1281 1009 1288 1009 1295 1009 1301 1009 1308 1009 1315 1009 1321 1009 1328 1009 1334 1009 1338 1012 1341 1013 1345 1014 1348 1014 1351 1015 1358 1016 1365 1016 1371 1016 1378 1015 1382 1015 1388 1013 1391 1012 1395 1011 1398 1009 1405 1009 1411 1009 1418 1009 1425 1009 1431 1009 1438 1009 1445 1009 1451 1009 1458 1009 1465 1009 1472 1009 1478 1009 1485 1009 1489 1009 1493 1012 1497 1015 1500 1017 1502 1020 1504 1023 1506 1026 1508 1028 1510 1031 1512 1036 1513 1039 1514 1045 1516 1050 1518 1054 1521 1058 1524 1061 1528 1064 1532 1066 1535 1067 1538 1069 1542 1070 1545 1072 1548 1073 1552 1075 1555 1076 1558 1077 1562 1079 1565 1080 1568 1081 1572 1083 1575 1084 1578 1086 1582 1088 1585 1089 1588 1091 1592 1093 1595 1095 1598 1096 1602 1098 1605 1099 1608 1101 1612 1102 1615 1103 1618 1104 1622 1105 1625 1106 1628 1107 1632 1107 1635 1108 1638 1109 1642 1110 1645 1111 1649 1111 1652 1112 1655 1113 1659 1114 1662 1114 1665 1115 1669 1116 1672 1117 1675 1117 1679 1118 1682 1119 1685 1120 1689 1120 1692 1121 1695 1122 1699 1122 1702 1123 1705 1124 1712 1125 1715 1126 1715 1132 1715 1137 1715 1143 1715 1148 1715 1154 1715 1159 1715 1165 1715 1170 1715 1175 1715 1181 1715 1186 1715 1191 1712 1192 1709 1193 1705 1194 1702 1195 1699 1196 1695 1197 1692 1197 1689 1198 1685 1199 1682 1200 1679 1201 1675 1202 1672 1203 1669 1204 1665 1204 1662 1205 1659 1206 1655 1207 1649 1208 1642 1209 1635 1210 1628 1211 1622 1211 1615 1211 1608 1211 1602 1211 1595 1211 1588 1211 1582 1211 1575 1211 1568 1211 1562 1211 1555 1211 1548 1211 1542 1211 1535 1211 1528 1211 1522 1211 1515 1211 1508 1211 1502 1211 1495 1211 1488 1211 1482 1211 1475 1211 1468 1211 1461 1211 1455 1211 1448 1211 1441 1211 1435 1211 1428 1211 1421 1211 1415 1211 1408 1211 1401 1211 1395 1211 1388 1211 1381 1211 1375 1211 1368 1211 1361 1211 1355 1211 1348 1211 1341 1211 1335 1211 1328 1211 1321 1211 1315 1211 1308 1211 1301 1211 1295 1211 1288 1211 1281 1211 1274 1211 1268 1211 1261 1211 1254 1211 1248 1211 1241 1211 1234 1211 1228 1211 1221 1211 1218 1208 1218 1203 1218 1197 1218 1192 1218 1186 1218 1181 1218 1175 1218 1170 1218 1165 1218 1159 1218 1154 1218 1148 1218 1143 1218 1137 1218 1132 1218 1126 1218 1121 1218 1115 1218 1110 1218 1105 1218 1099 1218 1094 1218 1088 1218 1083 1218 1077 1218 1072 1218 1066 1218 1061 1218 1056 1218 1050 1218 1045 1218 1039 1221 1039 1224 1038 1228 1037 1231 1036 1234 1035 1238 1033 1241 1031 1244 1029 1248 1027 1251 1025 1254 1023 1257 1020 1260 1017 1263 1015 1266 1012ZM1308 1115 1301 1116 1295 1118 1293 1121 1298 1122 1305 1123 1308 1124 1315 1124 1321 1124 1328 1124 1335 1124 1341 1124 1348 1124 1351 1123 1358 1122 1361 1121 1364 1118 1358 1117 1352 1115 1345 1115 1338 1114 1331 1114 1325 1114 1318 1115 1311 1115ZM1381 1072 1375 1073 1368 1074 1365 1075 1361 1077 1362 1080 1368 1082 1371 1083 1378 1084 1385 1084 1391 1084 1398 1083 1402 1083 1408 1081 1411 1080 1414 1077 1411 1075 1408 1074 1405 1073 1398 1072 1391 1072 1385 1072Z" fill="#85b2db" fill-rule="evenodd"/>
<path d="M1281 1012 1284 1010 1291 1009 1298 1009 1305 1009 1311 1009 1318 1009 1325 1011 1328 1012 1331 1013 1335 1014 1338 1015 1341 1016 1348 1017 1353 1017 1358 1018 1365 1018 1371 1018 1378 1018 1385 1017 1391 1016 1395 1015 1398 1014 1401 1013 1405 1013 1408 1011 1411 1010 1415 1009 1421 1009 1428 1009 1434 1009 1438 1011 1441 1012 1445 1013 1448 1015 1451 1016 1455 1018 1458 1020 1461 1023 1464 1026 1466 1028 1468 1031 1470 1034 1472 1038 1472 1042 1473 1047 1473 1053 1473 1058 1473 1064 1475 1069 1476 1072 1479 1075 1482 1077 1485 1079 1488 1082 1492 1084 1495 1086 1497 1088 1500 1091 1503 1094 1504 1096 1505 1102 1507 1107 1511 1110 1515 1111 1518 1112 1522 1113 1528 1114 1535 1115 1540 1115 1545 1116 1552 1116 1558 1117 1565 1117 1572 1118 1577 1118 1582 1118 1588 1119 1595 1119 1602 1120 1608 1120 1613 1121 1618 1121 1625 1122 1632 1123 1638 1124 1645 1125 1652 1126 1659 1128 1665 1129 1669 1130 1672 1130 1675 1131 1678 1132 1682 1133 1685 1133 1689 1134 1692 1135 1695 1136 1699 1137 1702 1138 1705 1139 1709 1141 1712 1142 1715 1144 1715 1148 1715 1154 1715 1159 1712 1162 1709 1163 1705 1165 1702 1166 1699 1168 1695 1170 1692 1171 1689 1173 1685 1175 1682 1177 1679 1179 1675 1180 1672 1182 1669 1183 1665 1185 1662 1186 1659 1187 1655 1188 1652 1188 1649 1189 1645 1190 1638 1191 1634 1192 1628 1193 1622 1193 1615 1194 1608 1195 1602 1195 1595 1196 1588 1196 1582 1197 1575 1197 1568 1197 1562 1197 1555 1198 1548 1198 1542 1198 1535 1198 1528 1199 1522 1199 1515 1199 1508 1200 1502 1200 1495 1200 1488 1201 1482 1201 1475 1201 1468 1202 1461 1202 1455 1202 1448 1203 1441 1203 1435 1203 1428 1204 1421 1204 1415 1204 1408 1205 1401 1205 1395 1205 1391 1205 1385 1206 1378 1206 1371 1206 1365 1206 1358 1207 1351 1207 1345 1207 1338 1207 1331 1207 1325 1207 1318 1208 1311 1208 1305 1208 1298 1208 1291 1208 1284 1208 1278 1208 1271 1208 1264 1208 1258 1208 1251 1208 1244 1208 1238 1208 1231 1208 1224 1208 1218 1208 1218 1203 1218 1197 1218 1192 1218 1186 1218 1181 1218 1175 1218 1170 1218 1165 1218 1159 1218 1154 1218 1148 1218 1143 1218 1137 1218 1132 1218 1126 1218 1121 1218 1115 1218 1110 1218 1105 1218 1099 1218 1094 1218 1088 1218 1083 1218 1077 1218 1072 1218 1066 1218 1061 1218 1056 1218 1050 1221 1046 1224 1045 1228 1044 1231 1043 1234 1041 1238 1040 1241 1038 1244 1037 1248 1035 1251 1032 1254 1030 1257 1028 1261 1026 1264 1023 1268 1021 1271 1018 1274 1016 1278 1014 1281 1012ZM1311 1113 1305 1113 1298 1114 1291 1114 1285 1115 1281 1117 1282 1121 1288 1122 1291 1123 1298 1124 1305 1125 1311 1125 1318 1125 1325 1125 1331 1125 1338 1125 1345 1125 1351 1125 1358 1124 1365 1123 1368 1122 1371 1122 1375 1120 1377 1118 1371 1115 1368 1115 1361 1114 1355 1113 1349 1113 1345 1112 1338 1112 1331 1112 1325 1112 1318 1112 1311 1113ZM1365 1072 1361 1072 1358 1073 1355 1075 1351 1077 1355 1082 1358 1083 1361 1084 1365 1085 1368 1086 1375 1086 1381 1087 1388 1087 1395 1087 1401 1087 1408 1086 1415 1085 1418 1084 1421 1083 1425 1082 1428 1081 1431 1077 1429 1075 1425 1073 1421 1072 1418 1072 1411 1071 1405 1070 1398 1069 1391 1069 1385 1069 1378 1070 1371 1070 1365 1072Z" fill="#81b4d5" fill-rule="evenodd"/>
<path d="M1293 1017 1298 1016 1305 1015 1311 1015 1318 1016 1325 1017 1331 1017 1335 1018 1341 1019 1348 1020 1355 1020 1361 1020 1368 1020 1375 1020 1381 1020 1388 1020 1395 1019 1401 1019 1408 1018 1415 1018 1421 1020 1425 1020 1428 1022 1431 1023 1435 1026 1438 1028 1441 1031 1443 1034 1445 1037 1446 1042 1447 1047 1445 1053 1443 1058 1441 1061 1438 1064 1435 1065 1431 1066 1426 1066 1421 1067 1415 1067 1408 1067 1401 1067 1395 1067 1388 1067 1381 1067 1375 1068 1368 1068 1363 1069 1358 1070 1355 1071 1351 1072 1348 1073 1345 1075 1342 1077 1344 1083 1348 1085 1351 1086 1355 1087 1358 1088 1361 1089 1365 1089 1371 1090 1378 1091 1385 1092 1391 1092 1398 1092 1405 1093 1411 1093 1418 1093 1421 1096 1418 1098 1415 1099 1411 1100 1408 1101 1405 1102 1401 1103 1395 1104 1391 1105 1385 1106 1378 1106 1371 1107 1365 1107 1358 1107 1351 1107 1345 1107 1338 1107 1331 1107 1325 1107 1318 1108 1311 1108 1305 1108 1298 1108 1291 1108 1284 1108 1278 1108 1271 1107 1264 1106 1258 1105 1251 1103 1248 1103 1244 1102 1241 1101 1238 1100 1234 1099 1231 1098 1228 1097 1224 1096 1221 1095 1218 1094 1218 1088 1218 1083 1218 1077 1218 1072 1218 1066 1218 1061 1218 1056 1221 1055 1224 1054 1228 1053 1231 1051 1234 1050 1238 1048 1241 1046 1244 1045 1248 1043 1251 1041 1254 1038 1257 1037 1261 1034 1264 1032 1268 1030 1271 1028 1274 1026 1278 1024 1281 1022 1284 1021 1288 1019 1291 1018ZM1413 1115 1418 1115 1425 1115 1431 1116 1438 1116 1445 1116 1451 1117 1458 1117 1465 1118 1472 1119 1478 1119 1485 1120 1492 1120 1498 1121 1505 1121 1512 1122 1518 1122 1525 1122 1532 1123 1538 1123 1545 1124 1552 1124 1558 1124 1565 1125 1572 1125 1578 1125 1585 1126 1592 1126 1598 1127 1605 1127 1612 1128 1618 1129 1623 1129 1628 1130 1635 1131 1641 1132 1645 1133 1649 1133 1652 1134 1655 1135 1659 1136 1662 1136 1665 1137 1669 1138 1672 1139 1675 1141 1679 1142 1682 1143 1685 1145 1689 1148 1690 1151 1689 1155 1685 1158 1682 1161 1679 1162 1675 1164 1672 1165 1669 1167 1665 1168 1662 1170 1659 1171 1655 1173 1652 1174 1649 1176 1645 1177 1642 1179 1638 1180 1635 1181 1632 1182 1628 1183 1625 1184 1622 1184 1615 1186 1611 1186 1605 1187 1598 1188 1592 1189 1586 1189 1582 1189 1575 1190 1568 1190 1562 1191 1555 1191 1548 1191 1542 1192 1535 1192 1528 1192 1522 1193 1515 1193 1508 1193 1502 1194 1495 1194 1488 1194 1482 1195 1475 1195 1468 1195 1461 1196 1455 1196 1448 1196 1441 1197 1435 1197 1428 1197 1421 1197 1415 1197 1408 1198 1401 1198 1395 1198 1388 1198 1381 1198 1375 1199 1368 1199 1361 1199 1355 1199 1348 1199 1341 1199 1335 1199 1328 1199 1321 1199 1315 1199 1308 1199 1301 1199 1295 1199 1288 1199 1281 1199 1274 1199 1268 1199 1261 1198 1254 1198 1248 1198 1241 1198 1234 1198 1228 1197 1221 1197 1218 1194 1218 1189 1218 1184 1218 1178 1218 1173 1218 1167 1218 1162 1218 1156 1218 1151 1218 1145 1218 1140 1218 1135 1218 1129 1218 1124 1221 1120 1228 1119 1234 1119 1241 1119 1248 1119 1254 1119 1261 1120 1264 1121 1271 1122 1278 1123 1284 1124 1291 1125 1298 1125 1305 1126 1311 1126 1318 1126 1325 1127 1331 1127 1338 1126 1345 1126 1351 1126 1358 1125 1365 1125 1371 1124 1378 1123 1385 1122 1388 1121 1391 1120 1395 1119 1398 1118 1401 1117 1405 1116 1411 1116ZM1475 1170 1482 1170 1488 1170 1495 1170 1492 1169 1485 1169 1478 1169Z" fill="#7db6ca" fill-rule="evenodd"/>
<path d="M1316 1023 1321 1023 1328 1022 1335 1023 1341 1023 1348 1023 1355 1023 1361 1024 1368 1024 1375 1024 1381 1024 1388 1024 1395 1024 1401 1025 1405 1026 1408 1027 1411 1029 1415 1031 1418 1033 1421 1037 1422 1039 1424 1045 1423 1050 1419 1056 1416 1058 1411 1060 1408 1061 1401 1062 1395 1063 1390 1064 1385 1064 1378 1065 1371 1065 1365 1066 1358 1067 1351 1068 1348 1069 1345 1070 1341 1071 1338 1072 1335 1074 1331 1077 1329 1080 1330 1086 1329 1091 1325 1092 1318 1093 1311 1094 1305 1094 1298 1094 1291 1093 1284 1093 1278 1093 1271 1092 1266 1091 1261 1090 1258 1089 1254 1089 1251 1088 1248 1087 1245 1086 1241 1084 1238 1082 1235 1080 1232 1077 1230 1075 1230 1069 1232 1066 1234 1064 1237 1061 1240 1058 1244 1056 1248 1053 1251 1051 1254 1048 1258 1046 1261 1044 1264 1042 1268 1040 1271 1038 1274 1036 1278 1034 1281 1032 1284 1031 1288 1029 1291 1028 1295 1027 1298 1026 1301 1025 1305 1025 1311 1023 1316 1023ZM1391 1124 1398 1123 1405 1122 1411 1122 1418 1122 1425 1122 1431 1122 1438 1122 1445 1122 1451 1123 1458 1123 1465 1123 1472 1124 1478 1124 1485 1125 1492 1125 1498 1125 1505 1126 1512 1126 1518 1127 1525 1127 1532 1127 1538 1128 1545 1128 1552 1128 1558 1129 1563 1129 1568 1129 1575 1130 1582 1130 1588 1131 1595 1131 1602 1132 1608 1133 1615 1133 1622 1134 1628 1135 1635 1137 1638 1137 1642 1138 1645 1139 1648 1140 1652 1141 1655 1142 1659 1144 1662 1145 1665 1148 1667 1151 1665 1156 1662 1158 1659 1160 1656 1162 1652 1163 1649 1165 1645 1166 1642 1167 1638 1168 1635 1169 1632 1170 1628 1171 1625 1172 1622 1174 1618 1175 1615 1176 1612 1177 1608 1178 1605 1178 1602 1179 1598 1180 1595 1181 1588 1182 1582 1183 1575 1184 1568 1184 1562 1185 1555 1185 1548 1186 1542 1187 1535 1187 1528 1188 1522 1188 1515 1189 1509 1189 1505 1189 1498 1190 1492 1190 1485 1191 1478 1191 1472 1191 1465 1192 1458 1192 1451 1192 1445 1193 1438 1193 1431 1193 1425 1193 1418 1194 1411 1194 1405 1194 1398 1194 1391 1194 1385 1194 1378 1194 1372 1194 1365 1195 1358 1195 1351 1195 1345 1195 1338 1195 1331 1195 1325 1195 1318 1195 1311 1195 1305 1194 1298 1194 1291 1194 1284 1194 1278 1194 1271 1194 1264 1194 1258 1193 1251 1193 1244 1193 1238 1192 1231 1192 1226 1192 1221 1191 1218 1189 1218 1184 1218 1178 1218 1173 1218 1167 1218 1162 1218 1156 1218 1151 1218 1145 1218 1140 1218 1135 1218 1129 1221 1125 1228 1125 1234 1124 1241 1124 1248 1124 1254 1124 1261 1124 1268 1125 1274 1125 1281 1126 1288 1126 1295 1127 1301 1127 1308 1127 1315 1127 1321 1128 1328 1128 1335 1128 1341 1127 1348 1127 1355 1127 1361 1126 1368 1126 1375 1125 1381 1125 1388 1124ZM1472 1167 1465 1168 1458 1169 1461 1171 1468 1171 1475 1172 1482 1172 1488 1172 1495 1172 1502 1172 1508 1171 1515 1171 1521 1170 1515 1169 1508 1168 1503 1167 1498 1167 1492 1167 1485 1167 1478 1167 1472 1167Z" fill="#78b9bc" fill-rule="evenodd"/>
<path d="M1328 1031 1335 1030 1341 1030 1348 1030 1355 1030 1361 1030 1368 1030 1375 1031 1381 1032 1385 1033 1388 1034 1391 1036 1395 1039 1397 1042 1398 1047 1395 1053 1391 1056 1388 1057 1385 1058 1381 1059 1378 1060 1375 1060 1368 1062 1361 1063 1355 1064 1348 1065 1341 1066 1338 1067 1335 1068 1331 1069 1328 1070 1325 1071 1321 1072 1318 1073 1315 1074 1311 1076 1308 1077 1305 1078 1301 1078 1295 1079 1288 1079 1281 1078 1277 1077 1271 1076 1268 1074 1264 1072 1262 1069 1261 1064 1264 1058 1266 1056 1269 1053 1273 1050 1277 1047 1281 1045 1284 1043 1288 1042 1291 1040 1295 1039 1298 1038 1301 1037 1305 1036 1308 1035 1311 1034 1315 1033 1321 1032 1328 1031ZM1383 1126 1388 1126 1395 1126 1401 1125 1408 1125 1415 1125 1421 1125 1428 1125 1435 1126 1441 1126 1448 1126 1454 1126 1458 1127 1465 1127 1472 1127 1478 1128 1485 1128 1492 1128 1498 1129 1503 1129 1508 1129 1515 1130 1522 1130 1528 1131 1535 1131 1542 1132 1547 1132 1552 1132 1558 1133 1565 1133 1572 1133 1578 1134 1585 1134 1592 1135 1598 1136 1605 1137 1609 1137 1615 1138 1622 1140 1625 1140 1628 1141 1632 1142 1635 1143 1638 1144 1642 1146 1645 1148 1647 1151 1645 1155 1642 1158 1638 1160 1635 1161 1632 1162 1628 1163 1625 1164 1622 1165 1618 1166 1615 1167 1612 1168 1608 1168 1602 1170 1595 1171 1588 1172 1582 1173 1575 1174 1568 1175 1565 1176 1562 1177 1558 1177 1555 1178 1548 1179 1542 1180 1535 1181 1528 1182 1522 1183 1515 1184 1508 1185 1502 1185 1495 1186 1488 1187 1482 1187 1475 1188 1468 1188 1461 1188 1455 1189 1448 1189 1441 1190 1435 1190 1428 1190 1421 1190 1415 1191 1408 1191 1401 1191 1395 1191 1388 1191 1381 1191 1375 1191 1368 1192 1361 1192 1355 1192 1348 1192 1341 1192 1335 1192 1328 1192 1321 1191 1315 1191 1308 1191 1301 1191 1295 1191 1288 1191 1281 1191 1274 1190 1268 1190 1261 1190 1254 1189 1248 1189 1241 1189 1234 1188 1228 1188 1221 1187 1218 1184 1218 1178 1218 1173 1218 1167 1218 1162 1218 1156 1218 1151 1218 1145 1218 1140 1218 1135 1218 1129 1224 1128 1231 1128 1238 1127 1244 1127 1251 1127 1258 1127 1264 1127 1271 1127 1278 1127 1284 1128 1291 1128 1298 1128 1305 1128 1311 1128 1318 1129 1325 1129 1331 1129 1338 1128 1345 1128 1351 1128 1358 1128 1365 1127 1371 1127 1378 1127 1383 1126ZM1458 1167 1451 1168 1448 1169 1445 1170 1448 1171 1455 1172 1461 1172 1468 1173 1475 1173 1482 1173 1488 1174 1495 1174 1502 1174 1508 1174 1515 1174 1522 1174 1528 1173 1535 1173 1542 1172 1545 1171 1542 1169 1535 1168 1528 1167 1522 1167 1515 1167 1508 1166 1502 1166 1495 1166 1488 1166 1482 1166 1475 1166 1468 1167 1461 1167Z" fill="#73bbae" fill-rule="evenodd"/>
<path d="M1268 1129 1274 1129 1279 1129 1284 1129 1291 1129 1298 1129 1305 1129 1311 1130 1318 1130 1325 1130 1331 1130 1338 1130 1345 1129 1351 1129 1358 1129 1365 1129 1371 1129 1378 1128 1385 1128 1391 1128 1398 1128 1405 1128 1411 1128 1418 1128 1425 1128 1431 1128 1438 1128 1445 1129 1451 1129 1458 1129 1465 1130 1472 1130 1478 1130 1485 1131 1492 1131 1498 1132 1505 1132 1512 1133 1518 1133 1525 1133 1532 1134 1538 1134 1545 1135 1552 1135 1558 1136 1565 1136 1572 1137 1578 1138 1585 1138 1592 1139 1597 1140 1602 1141 1608 1142 1612 1143 1615 1144 1618 1145 1622 1146 1625 1148 1628 1151 1625 1156 1622 1158 1619 1159 1615 1160 1612 1161 1608 1162 1605 1163 1602 1163 1596 1165 1592 1165 1585 1166 1578 1166 1572 1167 1565 1167 1558 1167 1552 1166 1545 1166 1538 1166 1532 1166 1525 1166 1518 1165 1512 1165 1505 1165 1498 1165 1492 1165 1485 1165 1478 1165 1472 1166 1465 1166 1458 1166 1451 1167 1445 1167 1441 1168 1438 1169 1435 1170 1438 1171 1441 1172 1447 1173 1451 1173 1458 1174 1465 1174 1472 1175 1478 1175 1485 1175 1490 1175 1495 1176 1502 1177 1507 1178 1502 1180 1498 1180 1495 1181 1488 1182 1482 1183 1477 1184 1472 1184 1465 1185 1458 1185 1451 1186 1445 1186 1438 1187 1431 1187 1425 1187 1418 1188 1411 1188 1405 1188 1398 1188 1391 1188 1385 1189 1378 1189 1371 1189 1365 1189 1358 1189 1351 1189 1345 1189 1338 1189 1331 1189 1325 1189 1318 1189 1311 1188 1305 1188 1298 1188 1291 1188 1284 1188 1278 1187 1271 1187 1264 1186 1258 1186 1251 1185 1244 1185 1238 1184 1231 1183 1224 1182 1218 1181 1218 1175 1218 1170 1218 1165 1218 1159 1218 1154 1218 1148 1218 1143 1218 1137 1218 1132 1224 1131 1231 1131 1238 1130 1244 1130 1251 1130 1258 1129 1264 1129Z" fill="#6fbba1" fill-rule="evenodd"/>
<path d="M1251 1132 1258 1131 1264 1131 1271 1131 1278 1131 1284 1131 1291 1131 1298 1131 1305 1131 1311 1131 1318 1131 1325 1131 1331 1131 1338 1131 1345 1131 1351 1130 1358 1130 1365 1130 1371 1130 1378 1130 1385 1130 1391 1130 1398 1130 1405 1130 1411 1130 1418 1130 1425 1130 1431 1130 1438 1131 1445 1131 1451 1131 1458 1132 1465 1132 1472 1132 1478 1133 1485 1133 1492 1134 1498 1134 1503 1135 1508 1135 1515 1135 1522 1136 1528 1137 1535 1137 1542 1138 1548 1138 1555 1139 1562 1140 1565 1140 1572 1141 1578 1142 1585 1143 1588 1143 1592 1144 1595 1145 1598 1146 1602 1147 1605 1149 1608 1151 1605 1155 1602 1157 1598 1158 1595 1159 1592 1160 1588 1160 1582 1162 1575 1162 1568 1163 1562 1164 1555 1164 1548 1164 1542 1164 1535 1164 1528 1164 1522 1164 1515 1164 1508 1164 1502 1164 1495 1164 1488 1164 1482 1165 1475 1165 1468 1165 1461 1165 1455 1166 1448 1166 1441 1167 1435 1167 1431 1168 1428 1169 1425 1170 1428 1172 1431 1172 1435 1173 1441 1174 1448 1175 1455 1175 1461 1177 1468 1178 1465 1179 1461 1180 1458 1181 1451 1182 1445 1182 1438 1183 1433 1184 1428 1184 1421 1184 1415 1185 1408 1185 1401 1185 1395 1185 1388 1186 1381 1186 1375 1186 1368 1186 1361 1186 1355 1186 1348 1186 1341 1186 1335 1186 1328 1186 1321 1186 1315 1185 1308 1185 1301 1185 1295 1185 1288 1184 1281 1184 1274 1183 1268 1183 1261 1182 1254 1181 1248 1180 1244 1179 1241 1178 1238 1178 1234 1177 1231 1176 1228 1175 1224 1174 1221 1173 1218 1173 1218 1167 1218 1162 1218 1156 1218 1151 1218 1145 1218 1140 1218 1135 1224 1134 1231 1133 1238 1133 1244 1132 1251 1132Z" fill="#6bbc94" fill-rule="evenodd"/>
<path d="M1346 1132 1351 1132 1358 1132 1365 1132 1371 1132 1378 1132 1385 1131 1391 1132 1398 1132 1405 1132 1410 1132 1415 1132 1421 1132 1428 1132 1435 1133 1441 1133 1448 1133 1455 1134 1461 1134 1468 1134 1475 1135 1482 1135 1488 1136 1495 1136 1502 1137 1506 1137 1512 1138 1518 1138 1525 1139 1532 1140 1538 1141 1545 1141 1552 1142 1556 1143 1562 1144 1568 1145 1572 1145 1575 1146 1578 1147 1582 1149 1585 1151 1582 1155 1578 1156 1575 1157 1572 1158 1568 1159 1562 1160 1555 1161 1548 1161 1543 1162 1538 1162 1532 1162 1525 1163 1518 1163 1512 1163 1505 1163 1498 1163 1492 1163 1485 1163 1478 1164 1472 1164 1465 1164 1458 1165 1451 1165 1445 1165 1438 1166 1431 1166 1425 1167 1421 1168 1418 1169 1415 1170 1417 1173 1421 1174 1425 1175 1429 1175 1433 1178 1428 1179 1421 1180 1415 1181 1408 1181 1401 1182 1395 1182 1388 1182 1381 1182 1375 1183 1368 1183 1361 1183 1355 1183 1348 1183 1341 1183 1335 1183 1328 1182 1321 1182 1315 1182 1308 1181 1301 1181 1295 1180 1288 1180 1281 1179 1277 1178 1271 1177 1264 1176 1258 1175 1251 1173 1244 1172 1238 1171 1232 1170 1228 1169 1221 1168 1218 1167 1218 1162 1218 1156 1218 1151 1218 1145 1218 1140 1221 1136 1228 1136 1234 1135 1241 1135 1248 1134 1254 1134 1261 1133 1268 1133 1274 1133 1281 1133 1288 1132 1295 1132 1301 1132 1308 1132 1315 1132 1321 1132 1328 1132 1335 1132 1341 1132 1346 1132Z" fill="#6fbc86" fill-rule="evenodd"/>
<path d="M1279 1135 1284 1134 1291 1134 1298 1134 1305 1134 1311 1134 1318 1134 1325 1134 1331 1133 1338 1133 1345 1133 1351 1133 1358 1133 1365 1133 1371 1133 1378 1133 1385 1133 1391 1133 1398 1133 1405 1134 1411 1134 1418 1134 1425 1134 1431 1134 1438 1135 1445 1135 1451 1135 1458 1136 1465 1136 1472 1137 1478 1137 1482 1138 1488 1138 1495 1139 1502 1139 1507 1140 1512 1141 1518 1141 1525 1142 1529 1143 1535 1144 1542 1145 1546 1145 1552 1147 1555 1148 1558 1150 1559 1154 1555 1155 1552 1156 1548 1157 1545 1158 1538 1159 1532 1160 1525 1160 1518 1161 1512 1161 1506 1162 1502 1162 1495 1162 1488 1162 1482 1163 1475 1163 1468 1163 1461 1163 1455 1164 1448 1164 1443 1165 1438 1165 1431 1165 1425 1166 1418 1167 1413 1167 1408 1168 1405 1169 1401 1170 1398 1173 1396 1175 1391 1176 1385 1177 1378 1178 1371 1178 1365 1178 1358 1178 1351 1178 1345 1178 1338 1178 1331 1177 1325 1177 1318 1177 1311 1176 1307 1175 1301 1175 1295 1174 1288 1173 1284 1173 1278 1172 1271 1171 1264 1170 1258 1170 1251 1169 1244 1168 1240 1167 1234 1167 1228 1166 1221 1165 1218 1162 1218 1156 1218 1151 1218 1145 1218 1140 1221 1139 1228 1138 1234 1137 1241 1137 1248 1136 1254 1136 1261 1135 1268 1135 1274 1135 1279 1135Z" fill="#83bb74" fill-rule="evenodd"/>
<path d="M1265 1137 1271 1137 1278 1137 1284 1136 1291 1136 1298 1136 1305 1135 1311 1135 1318 1135 1325 1135 1331 1135 1338 1135 1345 1135 1351 1135 1358 1135 1365 1135 1371 1135 1378 1135 1385 1135 1391 1135 1398 1135 1405 1135 1411 1136 1418 1136 1425 1136 1431 1136 1438 1137 1445 1137 1451 1138 1458 1138 1465 1138 1472 1139 1478 1140 1482 1140 1488 1141 1495 1141 1502 1142 1506 1143 1512 1144 1518 1145 1522 1145 1528 1147 1532 1148 1535 1150 1532 1155 1528 1156 1525 1157 1518 1158 1513 1159 1508 1159 1502 1160 1495 1161 1488 1161 1482 1162 1478 1162 1472 1162 1465 1162 1458 1163 1451 1163 1445 1163 1438 1164 1431 1164 1425 1165 1418 1165 1411 1166 1405 1167 1400 1167 1395 1168 1388 1169 1381 1170 1375 1171 1368 1172 1361 1172 1355 1172 1348 1172 1341 1172 1335 1172 1328 1172 1321 1171 1315 1171 1308 1171 1301 1170 1295 1170 1288 1169 1281 1169 1274 1168 1268 1167 1261 1167 1254 1166 1248 1165 1243 1165 1238 1164 1231 1163 1224 1162 1218 1161 1218 1156 1218 1151 1218 1145 1221 1142 1228 1141 1233 1140 1238 1140 1244 1139 1251 1138 1258 1138 1264 1137Z" fill="#97ba62" fill-rule="evenodd"/>
<path d="M1302 1137 1308 1137 1315 1137 1321 1137 1328 1137 1335 1137 1341 1136 1348 1136 1355 1136 1361 1136 1368 1136 1375 1136 1381 1137 1388 1137 1395 1137 1401 1137 1408 1137 1415 1137 1421 1138 1428 1138 1435 1138 1441 1139 1448 1139 1455 1140 1461 1140 1468 1141 1475 1142 1482 1142 1488 1143 1495 1144 1501 1145 1505 1147 1508 1147 1512 1148 1515 1151 1514 1154 1508 1155 1505 1156 1498 1158 1492 1159 1485 1159 1478 1160 1472 1161 1465 1161 1458 1162 1451 1162 1445 1162 1438 1163 1431 1163 1425 1164 1418 1164 1413 1165 1408 1165 1401 1165 1395 1166 1388 1167 1381 1167 1375 1168 1368 1168 1361 1168 1355 1169 1348 1169 1341 1169 1335 1168 1328 1168 1321 1168 1315 1168 1308 1167 1301 1167 1295 1167 1288 1166 1281 1166 1274 1165 1269 1165 1264 1164 1258 1163 1251 1163 1244 1162 1238 1161 1231 1160 1226 1159 1221 1158 1218 1157 1218 1151 1218 1145 1221 1145 1228 1143 1232 1143 1238 1142 1244 1141 1251 1141 1256 1140 1261 1140 1268 1139 1274 1139 1281 1138 1288 1138 1295 1138 1301 1137Z" fill="#a9b853" fill-rule="evenodd"/>
<path d="M1285 1140 1291 1140 1298 1139 1305 1139 1311 1139 1318 1139 1325 1138 1331 1138 1338 1138 1345 1138 1351 1138 1358 1138 1365 1138 1371 1138 1378 1138 1385 1138 1391 1139 1398 1139 1405 1139 1411 1139 1418 1140 1425 1140 1431 1140 1438 1141 1445 1141 1451 1142 1458 1142 1465 1143 1472 1144 1478 1145 1485 1147 1488 1147 1491 1148 1495 1150 1494 1154 1488 1155 1485 1156 1478 1158 1472 1159 1465 1159 1458 1160 1451 1160 1445 1161 1438 1161 1434 1162 1428 1162 1421 1162 1415 1163 1408 1163 1401 1164 1395 1164 1391 1165 1385 1165 1378 1165 1371 1166 1365 1166 1358 1166 1351 1166 1345 1166 1338 1166 1331 1166 1325 1166 1318 1165 1311 1165 1305 1165 1298 1164 1291 1164 1284 1163 1278 1163 1271 1162 1267 1162 1261 1161 1254 1160 1248 1159 1241 1158 1234 1157 1231 1156 1228 1155 1224 1154 1222 1151 1224 1149 1228 1148 1231 1147 1234 1146 1238 1145 1244 1144 1251 1143 1258 1142 1264 1142 1271 1141 1278 1140 1284 1140Z" fill="#b8b647" fill-rule="evenodd"/>
<path d="M1333 1140 1338 1140 1345 1140 1351 1140 1358 1140 1365 1140 1371 1140 1378 1140 1385 1140 1391 1140 1398 1141 1405 1141 1411 1141 1418 1142 1425 1142 1431 1142 1436 1143 1441 1143 1448 1144 1455 1145 1459 1145 1465 1147 1468 1147 1472 1148 1475 1150 1475 1154 1468 1155 1465 1156 1458 1157 1451 1158 1445 1159 1441 1159 1435 1160 1428 1160 1421 1161 1415 1161 1409 1162 1401 1162 1395 1162 1388 1163 1381 1163 1375 1163 1368 1164 1361 1164 1355 1164 1348 1164 1341 1164 1335 1163 1328 1163 1321 1163 1315 1163 1308 1162 1301 1162 1297 1162 1291 1161 1284 1161 1278 1160 1271 1159 1267 1159 1261 1158 1254 1157 1251 1156 1244 1155 1241 1153 1244 1148 1248 1147 1251 1146 1254 1146 1261 1145 1268 1144 1274 1143 1281 1142 1288 1142 1295 1142 1301 1141 1308 1141 1315 1141 1321 1140 1328 1140 1333 1140Z" fill="#c6b33b" fill-rule="evenodd"/>
<path d="M1311 1143 1318 1142 1325 1142 1331 1142 1338 1142 1345 1142 1351 1142 1358 1142 1365 1142 1371 1142 1378 1142 1385 1142 1391 1142 1398 1143 1405 1143 1411 1143 1418 1144 1425 1144 1431 1145 1436 1145 1441 1146 1448 1148 1451 1148 1455 1150 1454 1154 1448 1155 1445 1156 1438 1157 1431 1158 1425 1158 1419 1159 1415 1159 1408 1160 1401 1160 1395 1160 1388 1161 1381 1161 1375 1161 1368 1161 1361 1161 1355 1161 1348 1161 1341 1161 1335 1161 1328 1161 1321 1161 1315 1160 1308 1160 1301 1160 1295 1159 1288 1158 1281 1158 1274 1157 1268 1155 1264 1155 1261 1154 1258 1151 1261 1149 1264 1148 1268 1147 1274 1146 1278 1145 1284 1145 1291 1144 1298 1144 1305 1143 1311 1143Z" fill="#d3b12f" fill-rule="evenodd"/>
<path d="M1309 1145 1315 1145 1321 1145 1328 1144 1335 1144 1341 1144 1348 1144 1355 1144 1361 1144 1368 1144 1375 1144 1381 1144 1388 1145 1395 1145 1401 1145 1408 1146 1415 1147 1421 1147 1427 1148 1431 1150 1435 1151 1431 1153 1428 1154 1421 1155 1416 1156 1411 1157 1405 1157 1398 1158 1391 1158 1385 1159 1378 1159 1371 1159 1367 1159 1361 1159 1355 1159 1348 1159 1341 1159 1335 1159 1328 1158 1321 1158 1315 1158 1308 1157 1301 1157 1295 1156 1288 1154 1283 1154 1281 1152 1284 1149 1288 1148 1295 1147 1301 1146 1308 1146Z" fill="#ddb024" fill-rule="evenodd"/>
<path d="M1321 1148 1325 1148 1331 1147 1338 1147 1345 1147 1351 1147 1358 1147 1365 1147 1371 1147 1378 1147 1385 1148 1391 1148 1398 1149 1401 1150 1405 1151 1401 1153 1398 1154 1391 1155 1385 1155 1378 1156 1371 1156 1365 1156 1358 1156 1351 1156 1345 1156 1338 1156 1331 1155 1325 1155 1318 1154 1314 1154 1311 1152 1309 1151 1315 1149 1318 1149Z" fill="#e8ae18" fill-rule="evenodd"/>
</g>
<path d="M1217.7 1050.8 1219.6 1050.4 1221.5 1049.9 1223.5 1049.3 1225.4 1048.7 1227.3 1048.1 1229.2 1047.4 1231.1 1046.7 1233.1 1045.9 1235.0 1045.1 1236.9 1044.2 1238.8 1043.3 1240.8 1042.3 1242.7 1041.3 1244.6 1040.2 1246.5 1039.2 1248.4 1038.0 1250.4 1036.9 1252.0 1035.9 1254.2 1034.4 1256.1 1033.2 1258.0 1031.9 1260.0 1030.6 1261.4 1029.6 1263.7 1028.0 1265.7 1026.7 1267.7 1025.4 1269.6 1024.1 1271.5 1022.8 1273.1 1021.8 1275.3 1020.4 1277.3 1019.3 1279.2 1018.2 1281.1 1017.1 1283.0 1016.2 1284.9 1015.3 1286.9 1014.4 1288.8 1013.7 1290.7 1013.0 1292.6 1012.4 1294.5 1011.9 1296.5 1011.4 1298.4 1011.1 1302.2 1010.6 1306.1 1010.5 1309.9 1010.7 1313.8 1011.3 1315.7 1011.7 1317.6 1012.1 1319.5 1012.6 1321.4 1013.1 1323.4 1013.6 1325.3 1014.1 1327.2 1014.5 1329.1 1015.0 1331.1 1015.4 1333.0 1015.9 1334.9 1016.2 1336.8 1016.6 1338.7 1016.9 1340.7 1017.3 1342.6 1017.5 1346.4 1018.0 1350.3 1018.4 1353.2 1018.7 1356.0 1018.9 1359.9 1019.1 1363.7 1019.2 1367.6 1019.2 1371.4 1019.1 1375.2 1019.0 1379.1 1018.7 1382.9 1018.4 1386.8 1018.0 1390.6 1017.6 1394.0 1017.1 1396.4 1016.8 1398.3 1016.5 1400.2 1016.2 1402.1 1015.8 1404.1 1015.5 1406.0 1015.2 1407.9 1014.9 1411.7 1014.4 1415.6 1014.1 1419.4 1014.0 1423.3 1014.3 1427.1 1014.9 1429.0 1015.3 1431.0 1015.8 1432.9 1016.5 1434.7 1017.1 1436.7 1018.0 1438.3 1018.7 1440.6 1019.9 1442.5 1021.0 1444.4 1022.2 1446.1 1023.4 1448.1 1024.9 1449.9 1026.5 1451.5 1028.0 1452.9 1029.6 1454.0 1031.0 1455.2 1032.7 1456.1 1034.3 1456.9 1035.9 1457.9 1038.5 1458.4 1040.5 1458.8 1043.7 1458.9 1046.8 1458.7 1049.9 1458.3 1053.0 1457.9 1055.2 1457.3 1057.7 1456.5 1060.8 1455.3 1064.0 1454.5 1065.5 1453.3 1067.1 1452.1 1068.3 1450.2 1069.6 1448.2 1070.4 1446.3 1070.9 1442.5 1071.3 1438.6 1071.2 1434.8 1070.9 1431.0 1070.5 1428.6 1070.2 1425.2 1069.9 1421.4 1069.5 1417.5 1069.1 1413.7 1068.9 1410.6 1068.7 1407.9 1068.5 1404.1 1068.3 1400.2 1068.2 1396.4 1068.1 1392.5 1068.1 1388.7 1068.2 1384.8 1068.3 1381.0 1068.5 1378.6 1068.7 1375.2 1068.9 1371.4 1069.3 1367.6 1069.8 1365.6 1070.1 1363.7 1070.4 1361.8 1070.8 1359.9 1071.2 1358.0 1071.6 1356.0 1072.1 1354.1 1072.8 1352.4 1073.3 1350.3 1074.4 1348.3 1075.6 1346.5 1078.0 1348.0 1081.2 1350.3 1082.6 1352.2 1083.5 1354.1 1084.2 1356.0 1084.9 1358.0 1085.4 1359.9 1085.8 1361.8 1086.3 1363.7 1086.6 1365.6 1087.0 1368.8 1087.4 1371.4 1087.8 1375.2 1088.2 1379.1 1088.5 1382.9 1088.6 1386.8 1088.8 1390.6 1088.8 1394.5 1088.8 1398.3 1088.7 1402.1 1088.6 1406.0 1088.4 1409.8 1088.1 1413.7 1087.7 1416.5 1087.4 1419.4 1087.1 1423.3 1086.6 1425.2 1086.3 1427.1 1085.9 1429.0 1085.6 1431.0 1085.3 1432.9 1084.9 1434.8 1084.6 1436.7 1084.2 1438.6 1083.9 1440.6 1083.5 1442.5 1083.2 1446.3 1082.7 1450.2 1082.6 1454.0 1083.1 1455.9 1083.6 1457.8 1084.3 1459.8 1085.2 1461.7 1086.3 1463.3 1087.4 1464.9 1089.0 1466.2 1090.5 1467.0 1092.1 1467.4 1095.2 1466.2 1098.3 1465.1 1099.9 1463.7 1101.5 1462.2 1103.0 1460.8 1104.6 1459.8 1106.1 1460.9 1109.3 1463.6 1110.6 1465.5 1111.2 1467.5 1111.8 1469.4 1112.3 1471.3 1112.7 1473.2 1113.1 1475.1 1113.5 1477.1 1113.8 1479.0 1114.1 1480.9 1114.4 1482.8 1114.7 1484.8 1115.0 1486.7 1115.3 1490.5 1115.8 1494.4 1116.3 1498.2 1116.7 1501.1 1117.1 1504.0 1117.4 1507.8 1117.7 1511.6 1118.1 1515.5 1118.5 1519.3 1118.8 1523.2 1119.1 1527.0 1119.4 1530.9 1119.7 1534.7 1119.9 1538.5 1120.2 1542.4 1120.4 1546.2 1120.6 1550.1 1120.8 1553.9 1121.1 1557.8 1121.3 1561.6 1121.5 1565.4 1121.7 1569.3 1121.9 1573.1 1122.0 1577.0 1122.2 1580.8 1122.4 1584.7 1122.7 1588.5 1122.9 1592.3 1123.1 1594.9 1123.3 1598.1 1123.5 1601.9 1123.8 1605.8 1124.1 1609.6 1124.5 1613.5 1124.9 1617.3 1125.3 1621.2 1125.7 1625.0 1126.2 1627.2 1126.5 1630.8 1126.9 1634.6 1127.5 1636.5 1127.8 1638.5 1128.1 1640.4 1128.4 1642.3 1128.7 1644.2 1129.0 1646.1 1129.3 1648.1 1129.7 1650.0 1130.0 1651.9 1130.4 1653.8 1130.8 1655.7 1131.2 1657.7 1131.6 1659.6 1132.0 1661.5 1132.4 1663.4 1132.8 1665.3 1133.3 1667.3 1133.7 1669.2 1134.2 1671.1 1134.7 1673.0 1135.2 1675.0 1135.7 1676.9 1136.2 1678.8 1136.8 1680.7 1137.4 1682.6 1138.0 1684.6 1138.6 1686.5 1139.2 1688.4 1139.9 1690.3 1140.6 1692.2 1141.4 1694.2 1142.3 1696.1 1143.2 1698.0 1144.2 1699.6 1145.2 1701.7 1146.8 1703.3 1148.3 1704.2 1149.9 1704.4 1153.0 1703.7 1154.6 1702.4 1156.1 1700.7 1157.7 1698.5 1159.3 1696.1 1160.7 1694.2 1161.7 1692.2 1162.7 1690.3 1163.6 1688.4 1164.5 1686.5 1165.4 1684.6 1166.3 1682.9 1167.1 1680.7 1168.0 1678.8 1168.9 1676.9 1169.8 1675.0 1170.7 1673.0 1171.6 1671.1 1172.6 1669.2 1173.6 1667.3 1174.6 1665.3 1175.6 1663.7 1176.4 1661.5 1177.6 1659.6 1178.6 1657.7 1179.5 1655.7 1180.3 1653.8 1181.1 1651.9 1181.9 1650.0 1182.5 1648.1 1183.2 1646.1 1183.8 1644.2 1184.3 1642.3 1184.9 1640.4 1185.3 1638.5 1185.8 1636.5 1186.2 1634.6 1186.6 1632.7 1187.0 1630.8 1187.4 1628.8 1187.8 1626.9 1188.1 1625.0 1188.4 1623.1 1188.7 1621.2 1189.0 1617.3 1189.5 1613.5 1190.0 1609.6 1190.4 1605.8 1190.8 1601.9 1191.2 1598.1 1191.5 1594.3 1191.8 1590.6 1192.1 1588.5 1192.2 1584.7 1192.4 1580.8 1192.7 1577.0 1192.9 1573.1 1193.1 1569.3 1193.3 1565.4 1193.4 1561.6 1193.6 1557.8 1193.8 1553.9 1193.9 1550.1 1194.1 1546.2 1194.3 1542.4 1194.4 1538.5 1194.6 1534.7 1194.8 1530.9 1194.9 1527.0 1195.1 1524.7 1195.2 1521.3 1195.3 1517.4 1195.5 1513.6 1195.7 1509.7 1195.9 1505.9 1196.1 1502.0 1196.3 1498.2 1196.5 1494.4 1196.6 1491.9 1196.7 1488.6 1196.9 1484.8 1197.1 1480.9 1197.3 1477.1 1197.5 1473.2 1197.7 1469.4 1197.9 1465.5 1198.0 1461.7 1198.2 1459.1 1198.3 1455.9 1198.5 1452.1 1198.6 1448.2 1198.8 1444.4 1199.0 1440.6 1199.2 1436.7 1199.3 1432.9 1199.5 1429.0 1199.6 1425.2 1199.7 1421.6 1199.9 1419.4 1200.0 1415.6 1200.1 1411.7 1200.3 1407.9 1200.4 1404.1 1200.5 1400.2 1200.6 1396.4 1200.8 1392.5 1200.9 1388.7 1201.0 1384.8 1201.1 1381.0 1201.2 1377.2 1201.3 1373.3 1201.4 1369.5 1201.5 1365.6 1201.6 1361.8 1201.7 1358.0 1201.8 1354.1 1201.8 1350.3 1201.9 1346.4 1202.0 1342.6 1202.1 1338.7 1202.1 1334.9 1202.2 1331.1 1202.2 1327.2 1202.3 1323.4 1202.3 1319.5 1202.3 1315.7 1202.4 1311.8 1202.4 1308.0 1202.4 1304.2 1202.4 1300.3 1202.5 1296.5 1202.5 1292.6 1202.5 1288.8 1202.5 1284.9 1202.4 1281.1 1202.4 1277.3 1202.4 1273.4 1202.4 1269.6 1202.3 1265.7 1202.3 1261.9 1202.2 1258.0 1202.2 1254.2 1202.1 1250.4 1202.0 1246.5 1202.0 1242.7 1201.9 1238.8 1201.8 1235.0 1201.7 1231.1 1201.5 1227.7 1201.4 1225.4 1201.4 1221.5 1201.2 1217.7 1201.1M1315.7 1110.8 1311.8 1110.9 1308.0 1111.1 1304.2 1111.2 1300.3 1111.4 1296.5 1111.7 1292.6 1112.0 1288.8 1112.4 1284.9 1112.8 1281.1 1113.2 1279.2 1113.5 1277.3 1113.9 1275.3 1114.2 1273.4 1114.7 1271.5 1115.3 1269.6 1116.2 1269.2 1118.6 1271.5 1119.8 1273.4 1120.6 1275.3 1121.2 1277.2 1121.8 1279.2 1122.1 1281.1 1122.5 1283.0 1122.9 1284.9 1123.3 1286.9 1123.5 1290.7 1124.0 1294.5 1124.5 1298.3 1124.9 1302.2 1125.2 1306.1 1125.5 1309.9 1125.7 1313.8 1125.8 1317.6 1126.0 1321.4 1126.0 1325.3 1126.1 1329.1 1126.1 1333.0 1126.1 1336.8 1126.0 1340.7 1125.9 1344.5 1125.7 1348.3 1125.5 1352.2 1125.2 1356.0 1124.9 1359.9 1124.6 1363.7 1124.1 1367.6 1123.6 1369.5 1123.3 1371.4 1123.0 1373.3 1122.6 1375.2 1122.2 1377.2 1121.8 1379.1 1121.2 1381.0 1120.6 1382.9 1119.8 1384.8 1118.7 1385.5 1117.1 1383.7 1115.5 1381.0 1114.5 1379.1 1114.0 1377.2 1113.6 1375.2 1113.2 1373.3 1112.9 1369.5 1112.4 1365.6 1112.0 1361.8 1111.6 1358.0 1111.4 1354.1 1111.1 1350.3 1111.0 1346.4 1110.9 1342.6 1110.7 1338.7 1110.6 1334.9 1110.6 1331.1 1110.6 1327.2 1110.6 1323.4 1110.6 1319.5 1110.7 1315.7 1110.8M1217.7 1115.5 1219.6 1115.0 1221.5 1114.5 1223.5 1114.0 1225.4 1113.3 1227.3 1112.4 1228.6 1110.8 1227.3 1108.7 1225.4 1107.3 1223.5 1106.3 1221.5 1105.4 1219.8 1104.6 1217.7 1103.8M1324.3 1026.5 1327.2 1026.2 1331.1 1026.0 1334.9 1025.8 1338.7 1025.8 1342.6 1025.7 1346.4 1025.7 1350.3 1025.8 1354.1 1025.8 1358.0 1025.9 1361.8 1026.0 1365.6 1026.1 1369.5 1026.2 1373.3 1026.4 1375.8 1026.5 1379.1 1026.7 1382.9 1027.1 1386.8 1027.5 1388.7 1027.8 1390.6 1028.2 1392.5 1028.6 1394.5 1029.1 1396.4 1029.7 1398.3 1030.4 1400.1 1031.2 1402.1 1032.2 1404.1 1033.4 1406.0 1034.8 1407.2 1035.9 1408.6 1037.4 1409.8 1039.0 1410.6 1040.5 1411.4 1043.7 1411.4 1046.8 1410.5 1049.9 1409.7 1051.5 1408.7 1053.0 1407.3 1054.6 1406.0 1055.8 1404.1 1057.1 1402.1 1058.0 1400.2 1058.8 1398.3 1059.4 1396.4 1059.9 1394.5 1060.4 1392.5 1060.8 1390.6 1061.1 1388.7 1061.4 1386.8 1061.7 1382.9 1062.2 1379.1 1062.7 1375.2 1063.1 1371.4 1063.6 1368.8 1064.0 1365.6 1064.3 1361.8 1064.9 1359.9 1065.2 1358.0 1065.5 1356.0 1065.8 1354.1 1066.1 1352.2 1066.4 1350.3 1066.8 1348.3 1067.2 1346.4 1067.6 1344.5 1068.0 1342.6 1068.5 1340.7 1069.0 1338.7 1069.5 1336.8 1070.1 1334.9 1070.7 1333.0 1071.4 1331.1 1072.1 1329.1 1073.0 1327.2 1073.9 1325.4 1074.9 1323.4 1076.2 1321.4 1077.7 1319.5 1079.5 1317.9 1081.2 1316.1 1082.7 1313.8 1084.1 1311.8 1084.9 1309.9 1085.5 1308.0 1085.9 1306.1 1086.2 1302.2 1086.6 1298.4 1086.8 1294.5 1086.8 1290.7 1086.7 1286.9 1086.6 1283.0 1086.3 1279.2 1085.9 1275.3 1085.4 1273.4 1085.1 1271.5 1084.8 1269.6 1084.4 1267.7 1084.0 1265.7 1083.6 1263.8 1083.1 1261.9 1082.6 1260.0 1082.0 1258.0 1081.3 1256.1 1080.5 1254.2 1079.7 1252.3 1078.6 1250.4 1077.4 1249.1 1076.5 1247.5 1074.9 1246.5 1073.6 1245.6 1071.8 1245.3 1068.7 1246.1 1065.5 1247.0 1064.0 1248.0 1062.4 1249.3 1060.8 1250.4 1059.7 1252.3 1057.7 1253.9 1056.2 1255.7 1054.6 1257.6 1053.0 1259.6 1051.5 1261.7 1049.9 1263.8 1048.4 1265.7 1047.1 1267.7 1045.8 1269.6 1044.5 1271.5 1043.3 1273.4 1042.1 1275.3 1041.0 1277.3 1040.0 1279.1 1039.0 1281.1 1038.0 1283.0 1037.1 1284.9 1036.2 1286.9 1035.4 1288.8 1034.6 1290.7 1033.9 1292.6 1033.2 1294.5 1032.5 1296.5 1031.9 1298.4 1031.4 1300.3 1030.8 1302.2 1030.3 1304.2 1029.9 1306.1 1029.4 1308.0 1029.0 1309.9 1028.6 1311.8 1028.2 1313.8 1027.9 1315.7 1027.6 1317.6 1027.3 1321.4 1026.8 1324.3 1026.5M1217.7 1127.2 1221.5 1126.9 1225.4 1126.6 1228.3 1126.5 1231.1 1126.3 1235.0 1126.1 1238.8 1125.9 1242.7 1125.7 1246.5 1125.6 1250.4 1125.6 1254.2 1125.6 1258.0 1125.6 1261.9 1125.7 1265.7 1125.8 1269.6 1126.0 1273.4 1126.2 1277.3 1126.4 1281.1 1126.6 1284.9 1126.8 1288.8 1127.0 1292.6 1127.2 1296.5 1127.4 1300.3 1127.5 1304.2 1127.7 1308.0 1127.8 1311.8 1127.9 1315.7 1127.9 1319.5 1128.0 1321.8 1128.0 1325.3 1128.0 1329.1 1128.0 1333.0 1128.0 1336.8 1127.9 1340.7 1127.9 1344.5 1127.8 1348.3 1127.6 1352.2 1127.5 1356.0 1127.3 1359.9 1127.1 1363.7 1126.9 1367.6 1126.6 1370.1 1126.5 1373.3 1126.2 1377.2 1125.9 1381.0 1125.6 1384.8 1125.3 1388.7 1125.0 1392.5 1124.7 1396.4 1124.5 1400.2 1124.2 1404.1 1124.0 1407.9 1123.9 1411.7 1123.8 1415.6 1123.7 1419.4 1123.7 1423.3 1123.8 1427.1 1123.8 1431.0 1123.9 1434.8 1124.0 1438.6 1124.1 1442.5 1124.3 1446.3 1124.4 1450.2 1124.6 1454.0 1124.8 1456.4 1124.9 1459.8 1125.0 1463.6 1125.2 1467.5 1125.4 1471.3 1125.6 1475.1 1125.9 1479.0 1126.1 1482.8 1126.3 1485.2 1126.5 1488.6 1126.6 1492.4 1126.9 1496.3 1127.1 1500.1 1127.3 1504.0 1127.6 1507.8 1127.8 1511.0 1128.0 1513.6 1128.2 1517.4 1128.4 1521.3 1128.6 1525.1 1128.8 1528.9 1129.1 1532.8 1129.3 1536.6 1129.5 1540.5 1129.8 1544.3 1130.0 1548.2 1130.2 1552.0 1130.4 1555.8 1130.6 1559.7 1130.8 1563.5 1131.1 1567.4 1131.3 1571.2 1131.5 1575.0 1131.8 1578.9 1132.1 1582.7 1132.3 1586.6 1132.7 1590.4 1133.0 1594.3 1133.3 1598.1 1133.7 1601.9 1134.1 1605.8 1134.5 1609.6 1135.0 1613.5 1135.5 1615.4 1135.8 1617.3 1136.1 1619.2 1136.4 1621.2 1136.8 1623.1 1137.1 1625.0 1137.5 1626.9 1137.8 1628.8 1138.2 1630.8 1138.6 1632.7 1139.1 1634.6 1139.6 1636.5 1140.0 1638.5 1140.6 1640.4 1141.1 1642.3 1141.7 1644.2 1142.4 1646.1 1143.1 1648.1 1143.9 1650.0 1144.8 1651.9 1145.9 1653.4 1146.8 1655.2 1148.3 1656.4 1149.9 1656.7 1153.0 1656.0 1154.6 1654.5 1156.1 1652.5 1157.7 1650.0 1159.2 1648.1 1160.2 1646.1 1161.1 1644.2 1161.9 1642.3 1162.6 1640.4 1163.3 1638.7 1163.9 1636.5 1164.7 1634.6 1165.3 1632.7 1165.9 1630.8 1166.5 1628.8 1167.0 1626.9 1167.6 1625.0 1168.1 1623.1 1168.6 1621.2 1169.1 1619.2 1169.6 1617.3 1170.1 1615.4 1170.6 1613.5 1171.0 1611.6 1171.5 1609.6 1172.0 1607.7 1172.4 1605.8 1172.9 1603.9 1173.4 1601.9 1173.8 1600.0 1174.3 1598.1 1174.8 1596.2 1175.2 1594.3 1175.7 1592.3 1176.1 1590.4 1176.5 1588.5 1176.9 1586.6 1177.3 1584.7 1177.8 1582.7 1178.1 1580.8 1178.5 1578.9 1178.8 1577.0 1179.2 1575.0 1179.5 1573.1 1179.8 1571.2 1180.1 1569.3 1180.4 1567.4 1180.7 1565.4 1181.0 1561.6 1181.5 1557.8 1182.0 1553.9 1182.5 1550.1 1183.0 1546.2 1183.4 1542.4 1183.8 1538.5 1184.2 1534.7 1184.6 1530.9 1185.0 1527.0 1185.4 1523.2 1185.7 1519.3 1186.1 1515.5 1186.4 1511.6 1186.7 1507.8 1187.0 1504.0 1187.3 1500.1 1187.6 1496.3 1187.9 1492.4 1188.2 1488.6 1188.5 1484.8 1188.7 1481.6 1188.9 1479.0 1189.1 1475.1 1189.3 1471.3 1189.6 1467.5 1189.8 1463.6 1190.0 1459.8 1190.2 1455.9 1190.4 1452.1 1190.6 1448.2 1190.8 1444.4 1190.9 1440.6 1191.1 1436.7 1191.3 1432.9 1191.4 1429.0 1191.6 1425.2 1191.7 1421.4 1191.8 1417.5 1191.9 1413.7 1192.0 1409.8 1192.2 1406.0 1192.3 1402.1 1192.4 1398.3 1192.5 1394.5 1192.5 1390.6 1192.6 1386.8 1192.7 1382.9 1192.8 1379.1 1192.8 1375.2 1192.9 1371.4 1192.9 1367.6 1193.0 1363.7 1193.0 1359.9 1193.0 1356.0 1193.1 1352.2 1193.1 1348.3 1193.1 1344.5 1193.1 1340.7 1193.1 1336.8 1193.1 1333.0 1193.1 1329.1 1193.0 1325.3 1193.0 1321.4 1193.0 1317.6 1193.0 1313.8 1192.9 1309.9 1192.9 1306.1 1192.8 1302.2 1192.7 1298.4 1192.7 1294.5 1192.6 1290.7 1192.5 1286.9 1192.4 1283.0 1192.3 1279.2 1192.2 1275.6 1192.1 1273.4 1192.0 1269.6 1191.9 1265.7 1191.7 1261.9 1191.6 1258.0 1191.4 1254.2 1191.2 1250.4 1191.0 1246.5 1190.8 1242.7 1190.6 1240.3 1190.5 1236.9 1190.3 1233.1 1190.0 1229.2 1189.8 1225.4 1189.5 1221.5 1189.2 1218.0 1188.9M1465.5 1167.0 1461.7 1167.3 1457.9 1167.7 1454.0 1168.2 1450.5 1168.6 1449.8 1170.2 1452.1 1170.6 1454.0 1170.9 1457.9 1171.4 1460.8 1171.7 1463.6 1171.9 1467.5 1172.2 1471.3 1172.4 1475.1 1172.5 1479.0 1172.6 1482.8 1172.7 1486.7 1172.8 1490.5 1172.8 1494.4 1172.8 1498.2 1172.8 1502.0 1172.8 1505.9 1172.7 1509.7 1172.6 1513.6 1172.4 1517.4 1172.2 1521.3 1172.0 1524.1 1171.7 1527.0 1171.3 1528.9 1170.9 1530.9 1170.5 1528.9 1168.7 1527.0 1168.4 1523.2 1168.0 1519.3 1167.6 1515.5 1167.3 1512.9 1167.1 1509.7 1166.9 1505.9 1166.8 1502.0 1166.7 1498.2 1166.6 1494.4 1166.5 1490.5 1166.5 1486.7 1166.5 1482.8 1166.5 1479.0 1166.6 1475.1 1166.7 1471.3 1166.8 1467.5 1166.9M1217.7 1133.0 1220.9 1132.7 1223.5 1132.5 1227.3 1132.2 1231.1 1131.9 1235.0 1131.6 1238.8 1131.4 1242.7 1131.2 1246.5 1130.9 1250.4 1130.7 1254.2 1130.5 1258.0 1130.4 1261.9 1130.3 1265.7 1130.2 1269.6 1130.1 1273.4 1130.0 1277.3 1130.0 1281.1 1130.0 1284.9 1130.0 1288.8 1130.0 1292.6 1130.0 1296.5 1130.1 1300.3 1130.1 1304.2 1130.1 1308.0 1130.2 1311.8 1130.2 1315.7 1130.2 1319.5 1130.2 1323.4 1130.2 1327.2 1130.2 1331.1 1130.2 1334.9 1130.1 1338.7 1130.1 1342.6 1130.0 1346.4 1129.9 1350.3 1129.8 1354.1 1129.7 1358.0 1129.6 1360.3 1129.6 1363.7 1129.5 1367.6 1129.4 1371.4 1129.3 1375.2 1129.2 1379.1 1129.1 1382.9 1129.0 1386.8 1128.9 1390.6 1128.8 1394.5 1128.8 1398.3 1128.8 1402.1 1128.7 1406.0 1128.8 1409.8 1128.8 1413.7 1128.9 1417.5 1128.9 1421.4 1129.0 1425.2 1129.1 1429.0 1129.3 1432.9 1129.4 1436.7 1129.5 1440.6 1129.7 1444.4 1129.9 1448.2 1130.0 1452.1 1130.2 1455.9 1130.4 1459.8 1130.6 1463.6 1130.8 1467.5 1131.0 1469.7 1131.1 1473.2 1131.3 1477.1 1131.6 1480.9 1131.8 1484.8 1132.0 1488.6 1132.3 1492.4 1132.5 1494.7 1132.7 1498.2 1132.9 1502.0 1133.2 1505.9 1133.5 1509.7 1133.7 1513.6 1134.0 1516.7 1134.3 1519.3 1134.5 1523.2 1134.7 1527.0 1135.0 1530.9 1135.3 1534.7 1135.6 1537.3 1135.8 1540.5 1136.1 1544.3 1136.4 1548.2 1136.7 1552.0 1137.0 1555.8 1137.3 1559.7 1137.7 1563.5 1138.0 1567.4 1138.4 1571.2 1138.8 1575.0 1139.2 1578.9 1139.7 1582.7 1140.1 1585.6 1140.5 1588.5 1140.9 1590.4 1141.2 1592.3 1141.5 1594.3 1141.9 1596.2 1142.2 1598.1 1142.6 1600.0 1143.0 1601.9 1143.4 1603.9 1143.9 1605.8 1144.4 1607.7 1145.0 1609.6 1145.6 1611.6 1146.3 1613.5 1147.2 1615.4 1148.2 1617.3 1149.9 1618.1 1151.4 1617.3 1153.7 1615.4 1155.4 1613.5 1156.6 1611.6 1157.5 1609.6 1158.2 1607.7 1158.9 1605.8 1159.5 1603.9 1160.0 1601.9 1160.5 1600.0 1161.0 1598.1 1161.4 1596.2 1161.8 1594.3 1162.1 1592.3 1162.5 1590.4 1162.8 1588.5 1163.0 1584.7 1163.5 1581.2 1163.9 1578.9 1164.2 1575.0 1164.5 1571.2 1164.7 1567.4 1164.9 1563.5 1165.0 1559.7 1165.1 1555.8 1165.2 1552.0 1165.2 1548.2 1165.2 1544.3 1165.1 1540.5 1165.1 1536.6 1165.1 1532.8 1165.0 1528.9 1164.9 1525.1 1164.9 1521.3 1164.8 1517.4 1164.8 1513.6 1164.8 1509.7 1164.7 1505.9 1164.7 1502.0 1164.7 1498.2 1164.7 1494.4 1164.7 1490.5 1164.8 1486.7 1164.8 1482.8 1164.9 1479.0 1164.9 1475.1 1165.0 1471.3 1165.2 1467.5 1165.3 1463.6 1165.4 1459.8 1165.6 1455.9 1165.8 1452.1 1166.1 1448.2 1166.4 1444.4 1166.7 1440.6 1167.0 1438.6 1167.3 1436.7 1167.7 1434.8 1168.0 1432.9 1168.3 1431.0 1168.9 1429.3 1170.2 1431.0 1170.8 1432.9 1171.5 1434.8 1171.9 1436.7 1172.3 1438.6 1172.5 1442.5 1173.0 1445.0 1173.3 1448.2 1173.7 1452.1 1174.1 1455.9 1174.4 1459.8 1174.6 1463.6 1174.9 1467.5 1175.3 1471.3 1175.6 1475.1 1175.9 1479.0 1176.2 1481.6 1176.4 1484.8 1177.3 1486.7 1177.8 1484.8 1179.3 1482.8 1179.8 1480.9 1180.2 1479.0 1180.6 1477.1 1181.0 1475.1 1181.3 1471.3 1181.8 1467.5 1182.3 1464.9 1182.7 1461.7 1183.0 1457.9 1183.4 1454.0 1183.8 1450.2 1184.1 1446.3 1184.4 1442.5 1184.7 1438.6 1185.0 1434.8 1185.2 1431.0 1185.5 1427.1 1185.7 1424.8 1185.8 1421.4 1186.0 1417.5 1186.2 1413.7 1186.3 1409.8 1186.5 1406.0 1186.6 1402.1 1186.7 1398.3 1186.9 1394.5 1187.0 1390.6 1187.1 1386.8 1187.2 1382.9 1187.2 1379.1 1187.3 1375.5 1187.4 1371.4 1187.4 1367.6 1187.5 1363.7 1187.5 1359.9 1187.5 1356.0 1187.5 1352.2 1187.5 1348.3 1187.5 1344.5 1187.5 1340.7 1187.5 1336.8 1187.5 1333.0 1187.4 1330.2 1187.4 1327.2 1187.3 1323.4 1187.3 1319.5 1187.2 1315.7 1187.1 1311.8 1187.0 1308.0 1186.9 1304.2 1186.7 1300.3 1186.6 1296.5 1186.4 1292.6 1186.3 1288.8 1186.1 1284.9 1185.9 1281.1 1185.7 1277.3 1185.4 1273.4 1185.2 1269.6 1184.9 1265.7 1184.6 1261.9 1184.3 1258.0 1183.9 1254.2 1183.5 1250.4 1183.1 1247.2 1182.7 1244.6 1182.3 1242.7 1182.0 1240.8 1181.7 1238.8 1181.4 1236.9 1181.1 1235.0 1180.7 1233.1 1180.3 1231.1 1179.9 1229.2 1179.5 1227.3 1179.0 1225.4 1178.5 1223.5 1178.0 1221.5 1177.5 1219.6 1176.9 1217.7 1176.3M1217.7 1138.0 1221.5 1137.5 1225.4 1137.2 1229.2 1136.8 1233.1 1136.5 1236.9 1136.1 1240.8 1135.8 1244.6 1135.5 1248.4 1135.3 1252.3 1135.0 1256.1 1134.8 1260.0 1134.5 1263.8 1134.3 1267.7 1134.1 1271.5 1133.9 1275.3 1133.8 1279.2 1133.6 1283.0 1133.5 1286.9 1133.4 1290.7 1133.3 1294.5 1133.2 1298.4 1133.1 1302.2 1133.0 1306.1 1133.0 1309.9 1132.9 1313.8 1132.9 1317.6 1132.8 1321.4 1132.8 1325.3 1132.8 1329.1 1132.7 1333.0 1132.7 1336.8 1132.6 1340.7 1132.6 1344.5 1132.6 1348.3 1132.5 1352.2 1132.5 1356.0 1132.4 1359.9 1132.4 1363.7 1132.4 1367.6 1132.4 1371.4 1132.3 1375.2 1132.3 1379.1 1132.3 1382.9 1132.3 1386.8 1132.4 1390.6 1132.4 1394.5 1132.4 1398.3 1132.5 1402.1 1132.6 1406.0 1132.7 1409.8 1132.8 1413.7 1132.9 1417.5 1133.0 1421.4 1133.1 1425.2 1133.3 1429.0 1133.4 1432.9 1133.6 1436.7 1133.7 1440.6 1133.9 1444.4 1134.1 1447.3 1134.3 1450.2 1134.4 1454.0 1134.6 1457.9 1134.9 1461.7 1135.1 1465.5 1135.3 1469.4 1135.6 1472.7 1135.8 1475.1 1136.0 1479.0 1136.3 1482.8 1136.6 1486.7 1136.9 1490.5 1137.2 1492.8 1137.4 1496.3 1137.7 1500.1 1138.0 1504.0 1138.4 1507.8 1138.8 1509.9 1138.9 1513.6 1139.3 1517.4 1139.7 1521.3 1140.1 1524.7 1140.5 1527.0 1140.8 1530.9 1141.2 1534.7 1141.7 1537.5 1142.1 1540.5 1142.5 1544.3 1143.0 1548.2 1143.6 1550.1 1143.9 1552.0 1144.2 1553.9 1144.6 1555.8 1144.9 1557.8 1145.3 1559.7 1145.7 1561.6 1146.2 1563.5 1146.6 1565.4 1147.2 1567.4 1147.8 1569.3 1148.6 1571.2 1149.6 1572.8 1151.4 1571.2 1153.6 1569.8 1154.6 1567.4 1155.5 1565.6 1156.1 1563.5 1156.7 1561.6 1157.1 1559.7 1157.6 1557.8 1158.0 1555.8 1158.3 1553.9 1158.7 1552.0 1159.0 1550.1 1159.3 1546.2 1159.8 1542.4 1160.3 1538.5 1160.7 1534.7 1161.0 1530.9 1161.3 1527.0 1161.5 1523.2 1161.8 1519.3 1162.0 1515.5 1162.1 1511.6 1162.3 1507.8 1162.4 1504.0 1162.6 1500.1 1162.7 1496.3 1162.8 1492.4 1162.9 1488.6 1163.0 1484.8 1163.1 1480.9 1163.2 1477.1 1163.3 1473.2 1163.5 1469.4 1163.6 1465.5 1163.8 1462.2 1163.9 1459.8 1164.0 1455.9 1164.2 1452.1 1164.4 1448.2 1164.6 1444.4 1164.8 1440.6 1165.1 1436.7 1165.4 1432.9 1165.7 1429.0 1166.1 1425.2 1166.5 1421.4 1166.9 1417.5 1167.5 1415.6 1167.9 1413.7 1168.2 1411.7 1168.5 1409.8 1169.2 1407.9 1170.0 1407.1 1171.7 1409.8 1173.3 1411.7 1174.2 1413.7 1174.8 1415.6 1176.4 1413.7 1177.2 1411.7 1177.8 1409.8 1178.1 1406.0 1178.6 1402.1 1179.0 1398.3 1179.4 1394.5 1179.7 1390.6 1179.9 1386.8 1180.1 1382.9 1180.3 1379.1 1180.4 1375.2 1180.6 1371.4 1180.7 1367.6 1180.7 1363.7 1180.8 1359.9 1180.8 1356.0 1180.8 1352.2 1180.8 1348.3 1180.8 1344.5 1180.7 1340.7 1180.6 1336.8 1180.5 1333.0 1180.4 1329.1 1180.2 1325.3 1180.0 1321.4 1179.8 1317.6 1179.6 1313.8 1179.3 1309.9 1179.0 1306.1 1178.6 1302.2 1178.2 1298.4 1177.8 1294.5 1177.3 1290.7 1176.7 1288.8 1176.4 1286.9 1176.2 1284.9 1175.9 1283.0 1175.6 1281.1 1175.3 1279.2 1174.9 1277.3 1174.6 1275.3 1174.3 1273.4 1174.0 1271.5 1173.7 1269.6 1173.4 1267.7 1173.1 1265.7 1172.8 1263.8 1172.5 1261.9 1172.2 1260.0 1171.9 1258.0 1171.6 1254.2 1171.1 1252.3 1170.8 1250.4 1170.5 1248.4 1170.2 1244.6 1169.7 1240.8 1169.2 1236.9 1168.6 1235.0 1168.4 1231.1 1167.8 1227.3 1167.3 1223.5 1166.8 1219.6 1166.2 1217.7 1165.9M1217.7 1143.5 1219.6 1143.2 1221.5 1142.9 1223.5 1142.6 1225.4 1142.3 1229.2 1141.7 1233.1 1141.3 1236.9 1140.8 1239.4 1140.5 1242.7 1140.2 1246.5 1139.8 1250.4 1139.4 1254.2 1139.1 1258.0 1138.8 1261.9 1138.5 1265.7 1138.2 1269.6 1138.0 1273.4 1137.7 1277.3 1137.5 1281.1 1137.3 1284.9 1137.1 1288.8 1136.9 1292.6 1136.8 1296.5 1136.6 1300.3 1136.5 1304.2 1136.3 1308.0 1136.2 1311.8 1136.1 1315.7 1136.0 1319.5 1135.9 1323.4 1135.9 1325.7 1135.8 1329.1 1135.8 1333.0 1135.7 1336.8 1135.7 1340.7 1135.6 1344.5 1135.6 1348.3 1135.6 1352.2 1135.6 1356.0 1135.5 1359.9 1135.5 1363.7 1135.6 1367.6 1135.6 1371.4 1135.6 1375.2 1135.6 1379.1 1135.7 1382.9 1135.7 1386.8 1135.8 1390.6 1135.9 1394.5 1135.9 1398.3 1136.0 1402.1 1136.1 1406.0 1136.3 1409.8 1136.4 1413.7 1136.5 1417.5 1136.7 1421.4 1136.8 1425.2 1137.0 1429.0 1137.2 1432.8 1137.4 1436.7 1137.6 1440.6 1137.8 1444.4 1138.1 1448.2 1138.3 1452.1 1138.6 1455.9 1138.8 1459.8 1139.1 1463.6 1139.5 1467.5 1139.8 1471.3 1140.1 1475.1 1140.5 1479.0 1140.9 1482.8 1141.3 1486.7 1141.8 1489.4 1142.1 1492.4 1142.5 1496.3 1143.0 1500.1 1143.5 1502.0 1143.8 1504.0 1144.2 1505.9 1144.5 1507.8 1144.8 1509.7 1145.2 1511.6 1145.6 1513.6 1146.0 1515.5 1146.4 1517.4 1146.9 1519.3 1147.5 1521.3 1148.1 1523.2 1149.0 1524.8 1149.9 1525.8 1151.4 1524.9 1153.0 1523.2 1153.9 1521.3 1154.8 1519.3 1155.4 1517.4 1156.0 1515.5 1156.5 1513.6 1156.9 1511.6 1157.3 1509.7 1157.7 1507.8 1158.0 1505.9 1158.3 1504.0 1158.6 1500.1 1159.2 1496.3 1159.6 1492.4 1159.9 1488.6 1160.3 1484.8 1160.6 1482.0 1160.8 1479.0 1161.0 1475.1 1161.2 1471.3 1161.4 1467.5 1161.6 1463.6 1161.9 1459.8 1162.1 1455.9 1162.3 1452.1 1162.5 1448.2 1162.7 1444.4 1162.9 1440.6 1163.2 1436.7 1163.4 1432.9 1163.7 1429.0 1163.9 1425.2 1164.2 1421.4 1164.5 1417.5 1164.8 1413.7 1165.1 1409.8 1165.4 1406.0 1165.8 1402.1 1166.2 1398.3 1166.5 1394.5 1166.9 1390.6 1167.3 1386.8 1167.8 1382.9 1168.2 1379.1 1168.5 1375.2 1168.9 1371.4 1169.3 1367.6 1169.5 1363.7 1169.7 1359.9 1169.9 1356.0 1170.0 1352.2 1170.1 1348.3 1170.1 1344.5 1170.1 1340.7 1170.1 1336.8 1170.0 1333.0 1169.9 1329.1 1169.8 1325.3 1169.7 1321.4 1169.6 1317.6 1169.4 1313.8 1169.2 1309.9 1169.0 1306.1 1168.7 1302.2 1168.5 1298.4 1168.3 1294.5 1168.0 1290.7 1167.7 1286.9 1167.4 1283.0 1167.1 1279.2 1166.8 1275.3 1166.5 1271.5 1166.1 1267.7 1165.8 1265.0 1165.5 1261.9 1165.2 1258.0 1164.8 1254.2 1164.4 1250.4 1164.0 1246.5 1163.6 1242.7 1163.1 1238.8 1162.6 1235.0 1162.1 1231.1 1161.6 1229.2 1161.3 1227.3 1161.0 1225.4 1160.7 1223.5 1160.4 1221.5 1160.1 1219.6 1159.7 1217.7 1159.4M1345.0 1138.9 1348.3 1138.9 1352.2 1138.9 1356.0 1138.9 1359.9 1138.9 1363.7 1138.9 1366.7 1138.9 1369.5 1139.0 1373.3 1139.0 1377.2 1139.1 1381.0 1139.1 1384.8 1139.2 1388.7 1139.3 1392.5 1139.4 1396.4 1139.5 1400.2 1139.7 1404.1 1139.8 1407.9 1140.0 1411.7 1140.2 1415.6 1140.3 1419.0 1140.5 1421.4 1140.6 1425.2 1140.9 1429.0 1141.1 1432.9 1141.4 1436.7 1141.7 1440.6 1142.0 1444.4 1142.3 1448.2 1142.7 1452.1 1143.1 1455.9 1143.5 1459.8 1144.0 1463.6 1144.5 1467.5 1145.1 1469.4 1145.4 1471.3 1145.7 1473.2 1146.1 1475.1 1146.5 1477.1 1146.9 1479.0 1147.4 1480.9 1148.0 1482.8 1148.7 1484.8 1149.6 1486.4 1151.4 1485.3 1153.0 1482.8 1154.2 1480.9 1154.9 1479.0 1155.4 1477.1 1155.9 1475.1 1156.4 1473.2 1156.7 1471.3 1157.1 1469.4 1157.4 1467.5 1157.7 1463.6 1158.2 1459.8 1158.7 1455.9 1159.2 1452.1 1159.5 1448.2 1159.8 1444.4 1160.1 1440.6 1160.5 1436.7 1160.8 1432.9 1161.0 1429.0 1161.3 1425.2 1161.5 1421.4 1161.8 1417.5 1162.0 1413.7 1162.3 1409.8 1162.5 1406.0 1162.8 1402.1 1163.0 1398.3 1163.2 1394.5 1163.4 1390.6 1163.6 1386.8 1163.8 1384.6 1163.9 1381.0 1164.1 1377.2 1164.3 1373.3 1164.4 1369.5 1164.5 1365.6 1164.6 1361.8 1164.7 1358.0 1164.7 1354.1 1164.8 1350.3 1164.8 1346.4 1164.8 1342.6 1164.7 1338.7 1164.7 1334.9 1164.6 1331.1 1164.5 1327.2 1164.4 1323.4 1164.3 1319.5 1164.2 1315.7 1164.0 1311.8 1163.8 1308.0 1163.6 1304.2 1163.4 1300.3 1163.2 1296.5 1163.0 1292.6 1162.7 1288.8 1162.4 1284.9 1162.1 1281.1 1161.8 1277.3 1161.5 1273.4 1161.1 1270.6 1160.8 1267.7 1160.5 1263.8 1160.0 1260.0 1159.6 1257.4 1159.3 1254.2 1158.8 1252.3 1158.5 1250.4 1158.2 1248.4 1157.9 1246.5 1157.5 1244.6 1157.1 1242.7 1156.7 1240.8 1156.3 1238.8 1155.8 1236.9 1155.3 1235.0 1154.7 1233.1 1153.8 1231.5 1153.0 1230.4 1151.4 1231.1 1150.0 1233.1 1148.9 1235.0 1148.0 1236.9 1147.4 1238.8 1146.8 1240.8 1146.4 1242.7 1146.0 1244.6 1145.6 1246.5 1145.2 1248.4 1144.9 1250.4 1144.6 1252.3 1144.3 1254.2 1144.0 1257.1 1143.6 1260.0 1143.3 1263.8 1142.9 1267.7 1142.5 1271.5 1142.1 1275.3 1141.8 1279.2 1141.5 1283.0 1141.2 1286.9 1140.9 1290.7 1140.7 1293.4 1140.5 1296.5 1140.3 1300.3 1140.2 1304.2 1140.0 1308.0 1139.8 1311.8 1139.7 1315.7 1139.5 1319.5 1139.4 1323.4 1139.3 1327.2 1139.2 1331.1 1139.1 1334.9 1139.1 1338.7 1139.0 1342.6 1139.0 1345.0 1138.9M1316.2 1143.6 1319.5 1143.5 1323.4 1143.3 1327.2 1143.2 1331.1 1143.1 1334.9 1143.0 1338.7 1142.9 1342.6 1142.8 1346.4 1142.8 1350.3 1142.7 1354.1 1142.7 1358.0 1142.7 1361.8 1142.7 1365.6 1142.8 1369.5 1142.8 1373.3 1142.9 1377.2 1143.0 1381.0 1143.1 1384.8 1143.2 1388.7 1143.3 1392.5 1143.5 1396.4 1143.6 1400.2 1143.8 1404.1 1144.1 1407.9 1144.3 1411.7 1144.6 1415.6 1144.9 1419.2 1145.2 1421.4 1145.4 1425.2 1145.9 1429.0 1146.3 1432.3 1146.8 1434.8 1147.2 1436.7 1147.6 1438.6 1148.0 1440.6 1148.4 1442.5 1149.0 1444.4 1149.7 1446.3 1151.4 1444.7 1153.0 1442.5 1153.8 1440.6 1154.4 1438.6 1154.9 1436.7 1155.2 1434.8 1155.6 1432.9 1156.0 1431.0 1156.3 1427.1 1156.7 1423.3 1157.2 1419.4 1157.6 1415.6 1158.0 1411.7 1158.3 1407.9 1158.6 1404.1 1158.8 1400.2 1159.1 1397.6 1159.3 1394.5 1159.4 1390.6 1159.6 1386.8 1159.7 1382.9 1159.9 1379.1 1160.0 1375.2 1160.1 1371.4 1160.2 1367.6 1160.3 1363.7 1160.3 1359.9 1160.3 1356.0 1160.3 1352.2 1160.3 1348.3 1160.3 1344.5 1160.2 1340.7 1160.2 1336.8 1160.1 1333.0 1160.0 1329.1 1159.9 1325.3 1159.7 1321.4 1159.5 1317.6 1159.4 1313.8 1159.1 1309.9 1158.9 1306.1 1158.6 1302.2 1158.3 1298.4 1158.0 1295.3 1157.7 1292.6 1157.4 1288.8 1156.9 1284.9 1156.4 1282.8 1156.1 1279.2 1155.4 1277.3 1155.1 1275.3 1154.7 1273.4 1154.1 1271.5 1153.5 1269.6 1152.4 1269.6 1150.1 1271.5 1149.2 1273.4 1148.5 1275.3 1148.0 1277.3 1147.6 1279.2 1147.2 1281.1 1146.9 1283.0 1146.6 1286.9 1146.1 1290.7 1145.6 1294.2 1145.2 1296.5 1145.0 1300.3 1144.7 1304.2 1144.4 1308.0 1144.1 1311.8 1143.9 1315.7 1143.7" fill="none" stroke="#332d2d" stroke-width="1.85" stroke-linejoin="round"/>
</g>
<clipPath id="cliph2"><rect x="1219.7" y="1208.8" width="493.6" height="200.4"/></clipPath>
<g clip-path="url(#cliph2)">
<rect x="1214.7" y="1203.8" width="503.6" height="210.4" fill="#88b0e2" stroke="none" stroke-width="1" />
<g filter="url(#hblur)">
<path d="M1304 1210 1306 1207 1311 1207 1318 1207 1325 1207 1331 1207 1338 1207 1345 1207 1351 1207 1358 1207 1365 1207 1371 1207 1378 1207 1385 1207 1391 1207 1398 1207 1405 1207 1411 1207 1418 1207 1425 1207 1431 1207 1438 1207 1445 1207 1451 1207 1458 1207 1465 1207 1472 1207 1478 1207 1485 1207 1492 1207 1498 1207 1505 1207 1512 1207 1518 1207 1525 1207 1532 1207 1538 1207 1544 1207 1548 1209 1552 1210 1555 1212 1558 1214 1561 1215 1565 1217 1568 1219 1572 1221 1575 1223 1578 1224 1581 1226 1585 1228 1588 1230 1592 1232 1595 1234 1598 1237 1602 1239 1605 1241 1608 1243 1611 1245 1615 1248 1618 1251 1622 1254 1625 1257 1628 1259 1631 1262 1635 1265 1638 1268 1641 1270 1644 1273 1647 1276 1649 1279 1652 1281 1655 1284 1658 1287 1660 1290 1663 1292 1665 1295 1667 1298 1668 1301 1670 1303 1672 1309 1672 1315 1672 1320 1671 1326 1671 1331 1672 1336 1673 1339 1675 1342 1677 1345 1680 1348 1682 1350 1684 1353 1686 1356 1687 1359 1688 1364 1686 1370 1684 1373 1681 1375 1677 1378 1674 1381 1670 1384 1666 1386 1662 1389 1659 1392 1655 1394 1652 1396 1649 1398 1645 1400 1642 1402 1638 1403 1635 1405 1632 1406 1628 1407 1625 1408 1622 1409 1618 1410 1615 1411 1608 1411 1602 1411 1595 1411 1588 1411 1582 1411 1575 1411 1568 1411 1562 1411 1555 1411 1548 1411 1542 1411 1535 1411 1528 1411 1522 1411 1515 1411 1508 1411 1502 1411 1495 1411 1488 1411 1482 1411 1475 1411 1468 1411 1461 1411 1455 1411 1448 1411 1441 1411 1435 1411 1428 1411 1421 1411 1415 1411 1408 1411 1401 1411 1395 1411 1388 1411 1381 1411 1375 1411 1368 1411 1361 1411 1355 1411 1348 1411 1341 1411 1335 1411 1328 1411 1321 1411 1315 1411 1308 1411 1301 1411 1295 1411 1288 1411 1281 1411 1274 1411 1268 1411 1261 1411 1254 1411 1248 1411 1241 1411 1234 1411 1228 1411 1221 1411 1218 1408 1218 1403 1218 1397 1218 1392 1218 1386 1218 1381 1218 1375 1218 1370 1218 1364 1218 1359 1218 1353 1218 1348 1218 1342 1218 1337 1218 1331 1218 1326 1218 1320 1218 1315 1218 1309 1218 1303 1218 1298 1218 1292 1218 1287 1218 1281 1218 1276 1220 1273 1224 1272 1228 1271 1231 1270 1234 1268 1238 1267 1241 1265 1244 1264 1248 1262 1251 1260 1254 1258 1257 1257 1261 1254 1264 1251 1268 1249 1271 1246 1274 1243 1278 1240 1281 1237 1284 1234 1286 1232 1289 1229 1291 1226 1294 1223 1296 1221 1298 1218 1300 1215 1302 1212 1304 1210ZM1308 1331 1311 1332 1318 1333 1325 1333 1331 1333 1338 1333 1345 1332 1341 1330 1335 1330 1328 1330 1321 1330 1315 1330 1308 1331ZM1365 1229 1358 1230 1355 1230 1351 1232 1349 1234 1351 1237 1355 1239 1358 1239 1365 1240 1371 1240 1377 1240 1381 1239 1385 1238 1388 1234 1385 1232 1381 1230 1378 1230 1375 1229 1368 1229ZM1465 1323 1458 1324 1451 1324 1448 1325 1450 1328 1455 1329 1461 1329 1468 1329 1475 1330 1482 1330 1488 1330 1495 1330 1502 1330 1508 1329 1515 1328 1518 1326 1515 1325 1512 1324 1505 1323 1498 1322 1492 1322 1485 1322 1478 1322 1472 1322 1465 1323Z" fill="#85b2db" fill-rule="evenodd"/>
<path d="M1326 1210 1330 1207 1335 1207 1341 1207 1348 1207 1355 1207 1361 1207 1368 1207 1375 1207 1381 1207 1388 1207 1395 1207 1401 1207 1408 1207 1415 1207 1421 1207 1428 1207 1435 1207 1441 1207 1448 1207 1455 1207 1461 1207 1468 1207 1475 1207 1478 1208 1482 1209 1485 1211 1488 1212 1492 1213 1495 1215 1498 1216 1502 1218 1505 1219 1508 1221 1512 1223 1515 1224 1518 1226 1522 1227 1524 1229 1528 1231 1532 1233 1535 1234 1538 1236 1542 1238 1545 1240 1548 1242 1552 1244 1555 1246 1558 1248 1562 1251 1565 1253 1568 1256 1572 1258 1575 1261 1578 1265 1581 1268 1584 1270 1586 1273 1588 1276 1590 1279 1592 1281 1595 1284 1597 1287 1598 1289 1601 1292 1603 1295 1604 1298 1606 1301 1608 1303 1609 1306 1611 1309 1613 1315 1614 1320 1616 1326 1618 1331 1619 1334 1621 1337 1623 1339 1625 1342 1627 1345 1630 1348 1632 1350 1634 1353 1636 1356 1637 1359 1638 1364 1636 1370 1634 1373 1631 1375 1628 1377 1625 1380 1622 1382 1619 1384 1615 1386 1612 1388 1609 1389 1605 1391 1602 1392 1598 1393 1595 1394 1592 1395 1588 1396 1585 1397 1578 1398 1572 1399 1565 1399 1558 1399 1552 1400 1545 1400 1538 1400 1532 1400 1525 1401 1518 1401 1512 1402 1505 1402 1500 1403 1495 1403 1488 1404 1482 1405 1475 1405 1469 1406 1465 1406 1458 1407 1451 1407 1445 1407 1438 1408 1431 1408 1425 1408 1421 1409 1415 1409 1408 1409 1401 1410 1395 1410 1388 1410 1381 1410 1375 1410 1368 1411 1361 1411 1355 1411 1348 1411 1341 1411 1335 1411 1328 1411 1321 1411 1315 1411 1308 1411 1301 1411 1295 1411 1288 1411 1281 1411 1274 1411 1268 1411 1261 1411 1254 1411 1248 1411 1241 1410 1234 1410 1228 1410 1221 1410 1218 1408 1218 1403 1218 1397 1218 1392 1218 1386 1218 1381 1218 1375 1218 1370 1218 1364 1218 1359 1218 1353 1218 1348 1218 1342 1218 1337 1218 1331 1218 1326 1218 1320 1218 1315 1218 1309 1218 1303 1218 1298 1218 1292 1219 1290 1224 1287 1228 1285 1231 1283 1234 1281 1238 1279 1241 1278 1244 1276 1248 1274 1251 1272 1254 1270 1258 1268 1261 1265 1264 1263 1268 1260 1271 1258 1274 1255 1278 1252 1281 1250 1284 1247 1288 1244 1291 1241 1295 1238 1298 1235 1301 1232 1305 1229 1308 1226 1311 1223 1313 1221 1316 1218 1319 1215 1321 1213 1325 1211ZM1358 1226 1351 1227 1348 1227 1345 1228 1341 1230 1338 1232 1340 1237 1345 1239 1348 1240 1351 1241 1358 1242 1365 1243 1371 1243 1378 1242 1385 1241 1388 1240 1391 1238 1395 1236 1394 1232 1391 1230 1388 1228 1385 1227 1381 1227 1375 1226 1368 1225 1361 1225ZM1445 1323 1441 1323 1438 1324 1435 1325 1437 1328 1441 1329 1448 1330 1455 1331 1460 1331 1465 1331 1472 1332 1478 1332 1485 1332 1492 1332 1498 1332 1505 1332 1512 1331 1518 1331 1525 1330 1532 1329 1535 1326 1532 1324 1528 1323 1522 1322 1515 1322 1508 1321 1502 1321 1495 1321 1488 1321 1482 1321 1475 1321 1468 1321 1461 1321 1455 1322 1448 1322ZM1308 1328 1301 1329 1295 1330 1291 1331 1295 1332 1298 1333 1301 1334 1308 1334 1315 1335 1321 1335 1328 1335 1335 1335 1341 1335 1348 1334 1353 1334 1358 1332 1361 1331 1358 1330 1351 1329 1346 1328 1341 1328 1335 1328 1328 1328 1321 1328 1315 1328 1308 1328ZM1318 1295 1315 1298 1318 1299 1325 1299 1331 1300 1338 1300 1345 1299 1351 1298 1349 1295 1345 1295 1338 1294 1331 1294 1325 1294 1318 1295Z" fill="#81b4d5" fill-rule="evenodd"/>
<path d="M1369 1210 1375 1209 1381 1208 1388 1207 1395 1207 1401 1207 1408 1208 1415 1208 1421 1209 1428 1210 1435 1211 1438 1212 1441 1213 1445 1214 1448 1215 1451 1216 1455 1217 1458 1218 1461 1219 1465 1220 1468 1221 1472 1222 1475 1224 1478 1225 1482 1226 1485 1228 1488 1229 1492 1231 1495 1232 1498 1233 1502 1235 1505 1236 1508 1238 1512 1240 1515 1241 1518 1243 1522 1245 1525 1246 1528 1248 1532 1250 1535 1252 1538 1255 1541 1257 1544 1259 1548 1262 1550 1265 1553 1268 1555 1270 1557 1273 1558 1276 1560 1279 1562 1284 1563 1290 1564 1295 1564 1301 1565 1306 1565 1312 1563 1317 1558 1319 1552 1319 1545 1319 1538 1319 1532 1319 1525 1319 1518 1319 1512 1319 1505 1319 1498 1319 1492 1319 1485 1319 1478 1319 1472 1319 1465 1319 1458 1320 1454 1320 1448 1320 1441 1321 1435 1322 1428 1323 1425 1324 1421 1325 1422 1328 1428 1329 1435 1331 1439 1331 1445 1332 1451 1332 1458 1333 1465 1333 1472 1333 1478 1334 1485 1334 1492 1334 1498 1334 1505 1334 1512 1334 1518 1334 1525 1334 1532 1333 1538 1333 1545 1332 1552 1332 1558 1331 1565 1331 1572 1331 1578 1332 1582 1333 1585 1335 1588 1337 1592 1339 1595 1341 1598 1343 1602 1346 1604 1348 1607 1350 1610 1353 1612 1356 1613 1359 1614 1364 1612 1370 1609 1373 1605 1375 1602 1378 1598 1379 1595 1381 1592 1382 1588 1383 1585 1384 1582 1385 1578 1386 1574 1386 1568 1387 1562 1388 1555 1389 1550 1389 1545 1390 1538 1390 1532 1391 1525 1391 1518 1392 1512 1393 1505 1394 1499 1395 1495 1395 1488 1396 1482 1397 1475 1397 1472 1398 1465 1398 1458 1399 1451 1400 1446 1400 1441 1400 1435 1401 1428 1401 1421 1402 1415 1402 1408 1403 1402 1403 1395 1403 1388 1404 1381 1404 1375 1404 1368 1404 1361 1404 1355 1405 1348 1405 1341 1405 1335 1405 1328 1405 1321 1405 1315 1405 1308 1405 1301 1405 1295 1405 1288 1405 1281 1405 1274 1405 1268 1404 1261 1404 1254 1404 1248 1404 1241 1404 1234 1403 1229 1403 1224 1403 1218 1402 1218 1397 1218 1392 1218 1386 1218 1381 1218 1375 1218 1370 1218 1364 1218 1359 1218 1353 1218 1348 1218 1342 1218 1337 1218 1331 1221 1330 1224 1330 1228 1329 1231 1328 1234 1327 1238 1326 1241 1324 1244 1320 1245 1317 1244 1312 1244 1306 1244 1302 1246 1298 1248 1295 1250 1292 1252 1290 1254 1287 1257 1284 1260 1281 1263 1279 1266 1276 1269 1273 1272 1270 1274 1268 1278 1265 1281 1262 1284 1259 1288 1257 1291 1254 1294 1251 1298 1248 1301 1246 1305 1244 1308 1242 1311 1240 1315 1239 1321 1238 1328 1239 1331 1240 1335 1241 1338 1242 1341 1242 1348 1243 1355 1244 1361 1245 1368 1245 1375 1244 1381 1244 1387 1243 1391 1242 1395 1241 1398 1239 1401 1237 1403 1234 1401 1230 1398 1227 1395 1226 1391 1224 1388 1224 1385 1223 1381 1222 1375 1221 1368 1221 1361 1220 1355 1219 1351 1218 1355 1214 1358 1212 1361 1211 1365 1211 1368 1210ZM1278 1328 1274 1329 1271 1330 1274 1332 1278 1333 1281 1333 1288 1334 1295 1335 1301 1335 1308 1336 1315 1336 1321 1336 1328 1336 1335 1336 1341 1336 1348 1336 1355 1335 1361 1335 1368 1334 1371 1333 1375 1332 1371 1329 1368 1328 1361 1327 1355 1327 1348 1326 1341 1326 1335 1326 1328 1326 1321 1326 1315 1326 1308 1326 1301 1326 1295 1326 1288 1327 1281 1327ZM1311 1292 1305 1293 1301 1294 1298 1295 1296 1298 1301 1300 1305 1300 1311 1301 1318 1302 1325 1302 1331 1302 1338 1302 1345 1302 1351 1301 1358 1300 1361 1298 1360 1295 1355 1294 1348 1293 1341 1292 1335 1292 1328 1292 1321 1292 1315 1292Z" fill="#7db6ca" fill-rule="evenodd"/>
<path d="M1417 1226 1421 1224 1428 1224 1435 1225 1441 1226 1445 1227 1448 1228 1451 1229 1455 1229 1458 1230 1461 1232 1465 1233 1468 1234 1472 1235 1475 1236 1478 1237 1482 1238 1485 1240 1488 1241 1492 1242 1495 1244 1498 1245 1502 1247 1505 1248 1508 1250 1512 1252 1515 1254 1518 1256 1522 1258 1525 1260 1527 1262 1530 1265 1533 1268 1535 1270 1536 1273 1538 1279 1539 1284 1537 1290 1536 1292 1534 1295 1532 1298 1529 1301 1526 1303 1522 1306 1518 1308 1515 1310 1512 1311 1508 1312 1505 1313 1502 1314 1495 1315 1488 1315 1482 1316 1475 1316 1468 1317 1462 1317 1455 1318 1448 1318 1441 1318 1435 1319 1428 1319 1423 1320 1418 1321 1411 1321 1405 1322 1398 1324 1391 1325 1385 1325 1378 1324 1371 1324 1365 1324 1358 1323 1351 1323 1345 1323 1341 1322 1335 1322 1328 1321 1321 1321 1315 1320 1311 1319 1308 1318 1305 1316 1301 1315 1298 1313 1295 1310 1298 1307 1305 1306 1311 1306 1318 1306 1325 1306 1331 1306 1338 1305 1345 1305 1351 1304 1355 1303 1361 1302 1365 1302 1368 1301 1371 1298 1370 1295 1365 1294 1361 1293 1358 1292 1351 1291 1345 1291 1338 1290 1331 1290 1327 1290 1321 1290 1315 1289 1308 1289 1301 1289 1295 1289 1288 1288 1285 1287 1283 1284 1284 1279 1286 1276 1288 1273 1290 1270 1292 1268 1294 1265 1297 1262 1300 1259 1303 1257 1306 1254 1310 1251 1315 1249 1318 1247 1321 1247 1328 1246 1335 1246 1341 1246 1348 1246 1355 1247 1361 1247 1368 1247 1375 1246 1381 1246 1388 1245 1395 1243 1398 1242 1401 1241 1405 1240 1408 1238 1411 1236 1415 1232 1416 1229 1417 1226ZM1386 1334 1391 1333 1398 1332 1405 1331 1411 1331 1418 1332 1425 1332 1431 1333 1438 1333 1445 1334 1451 1334 1458 1335 1465 1335 1472 1336 1478 1336 1485 1336 1490 1337 1495 1337 1502 1338 1508 1339 1515 1339 1522 1340 1528 1341 1535 1342 1538 1343 1545 1343 1552 1344 1558 1345 1565 1346 1572 1347 1575 1348 1578 1349 1581 1350 1585 1352 1588 1354 1592 1358 1594 1361 1593 1367 1590 1370 1586 1373 1582 1375 1578 1376 1575 1377 1572 1378 1568 1378 1562 1380 1555 1381 1548 1382 1542 1383 1535 1384 1528 1384 1522 1385 1515 1386 1512 1387 1505 1388 1498 1389 1492 1390 1485 1391 1478 1392 1472 1392 1465 1393 1458 1394 1451 1394 1445 1395 1438 1396 1431 1396 1425 1397 1418 1397 1413 1397 1408 1398 1401 1398 1395 1398 1388 1399 1381 1399 1375 1399 1368 1399 1361 1400 1355 1400 1348 1400 1341 1400 1335 1400 1328 1400 1321 1400 1315 1400 1308 1400 1301 1400 1295 1400 1288 1400 1281 1400 1274 1400 1268 1399 1261 1399 1254 1399 1248 1399 1241 1398 1234 1398 1230 1397 1224 1397 1218 1396 1218 1392 1218 1386 1218 1381 1218 1375 1218 1370 1218 1364 1218 1359 1218 1353 1218 1348 1218 1342 1218 1337 1222 1337 1228 1336 1234 1335 1241 1335 1248 1335 1254 1335 1261 1335 1268 1335 1274 1335 1281 1336 1288 1336 1295 1336 1301 1337 1308 1337 1315 1337 1321 1337 1328 1337 1335 1337 1341 1337 1348 1337 1353 1337 1358 1336 1365 1336 1371 1335 1378 1335 1385 1334Z" fill="#78b9bc" fill-rule="evenodd"/>
<path d="M1427 1237 1431 1237 1438 1236 1444 1237 1448 1238 1451 1239 1455 1239 1458 1240 1461 1241 1465 1242 1468 1243 1472 1244 1475 1245 1478 1246 1482 1248 1485 1249 1488 1250 1492 1252 1495 1253 1498 1255 1501 1257 1505 1259 1508 1261 1512 1263 1515 1266 1518 1270 1520 1273 1521 1279 1520 1284 1519 1287 1517 1290 1515 1292 1512 1295 1508 1297 1505 1299 1502 1301 1498 1302 1495 1303 1492 1305 1488 1306 1485 1307 1482 1308 1478 1308 1475 1309 1468 1310 1461 1311 1455 1312 1448 1313 1441 1313 1435 1313 1428 1314 1421 1314 1415 1314 1408 1314 1401 1313 1395 1313 1388 1312 1381 1311 1375 1310 1371 1309 1375 1305 1378 1303 1381 1301 1379 1295 1375 1294 1371 1293 1368 1292 1361 1291 1355 1290 1348 1289 1341 1288 1335 1288 1328 1287 1321 1286 1315 1285 1311 1285 1308 1283 1305 1279 1306 1273 1308 1268 1310 1265 1312 1262 1315 1260 1318 1257 1321 1255 1324 1254 1328 1252 1331 1251 1338 1250 1345 1250 1351 1249 1358 1249 1365 1249 1371 1249 1378 1248 1385 1248 1391 1247 1397 1245 1401 1245 1405 1244 1408 1243 1411 1242 1415 1241 1418 1240 1421 1238 1425 1238ZM1383 1337 1388 1336 1395 1336 1401 1336 1408 1335 1415 1335 1421 1336 1428 1336 1435 1336 1440 1337 1445 1337 1451 1338 1458 1338 1465 1339 1470 1339 1475 1340 1482 1341 1488 1342 1495 1343 1502 1344 1506 1345 1512 1346 1518 1347 1525 1349 1532 1350 1535 1350 1542 1352 1545 1352 1548 1353 1552 1354 1555 1355 1558 1356 1562 1357 1565 1359 1568 1361 1567 1367 1563 1370 1558 1371 1555 1373 1552 1373 1548 1374 1545 1375 1542 1376 1538 1377 1535 1377 1532 1378 1528 1379 1522 1380 1517 1381 1512 1382 1505 1383 1498 1384 1492 1385 1485 1386 1478 1387 1472 1388 1465 1389 1458 1390 1451 1390 1445 1391 1438 1392 1431 1392 1425 1393 1418 1393 1411 1394 1405 1394 1398 1394 1391 1395 1385 1395 1378 1395 1371 1396 1365 1396 1358 1396 1351 1396 1345 1396 1338 1396 1331 1396 1325 1396 1318 1396 1311 1396 1305 1396 1298 1396 1291 1396 1284 1396 1278 1396 1271 1395 1264 1395 1258 1395 1254 1395 1248 1394 1241 1394 1234 1393 1228 1393 1221 1392 1218 1389 1218 1384 1218 1378 1218 1373 1218 1367 1218 1361 1218 1356 1218 1350 1218 1345 1221 1341 1228 1340 1233 1339 1238 1339 1244 1338 1251 1338 1258 1338 1264 1338 1271 1338 1278 1338 1284 1338 1291 1338 1298 1338 1305 1338 1311 1338 1318 1338 1325 1338 1331 1338 1338 1338 1345 1338 1351 1338 1358 1338 1365 1338 1371 1337 1378 1337 1383 1337Z" fill="#73bbae" fill-rule="evenodd"/>
<path d="M1415 1245 1421 1245 1428 1244 1435 1244 1441 1245 1447 1245 1451 1246 1455 1247 1458 1248 1461 1249 1465 1250 1468 1251 1472 1252 1475 1253 1478 1254 1482 1256 1485 1257 1488 1259 1492 1261 1495 1263 1497 1265 1501 1268 1503 1270 1504 1273 1505 1279 1503 1284 1501 1287 1498 1289 1495 1292 1492 1294 1488 1295 1485 1297 1482 1298 1478 1299 1475 1300 1472 1301 1468 1301 1461 1303 1455 1303 1451 1304 1445 1304 1438 1305 1431 1305 1425 1305 1418 1305 1411 1304 1408 1303 1401 1302 1398 1300 1396 1298 1391 1296 1388 1294 1385 1293 1381 1292 1378 1291 1375 1290 1370 1290 1365 1289 1358 1288 1353 1287 1348 1286 1341 1285 1336 1284 1331 1282 1328 1280 1325 1277 1323 1273 1324 1268 1326 1265 1329 1262 1331 1260 1335 1258 1338 1257 1341 1255 1345 1255 1348 1254 1355 1253 1361 1252 1368 1252 1375 1251 1381 1251 1388 1250 1395 1249 1399 1248 1405 1247 1411 1246 1415 1245ZM1347 1339 1351 1339 1358 1339 1365 1339 1371 1339 1378 1339 1385 1339 1391 1339 1398 1339 1405 1339 1411 1339 1418 1339 1422 1339 1428 1340 1435 1340 1441 1341 1448 1341 1455 1342 1461 1343 1468 1344 1475 1345 1482 1346 1488 1347 1492 1348 1498 1349 1502 1350 1505 1350 1508 1351 1512 1352 1515 1353 1518 1354 1522 1355 1525 1356 1528 1357 1532 1358 1535 1360 1537 1361 1539 1364 1538 1367 1535 1369 1532 1370 1528 1372 1525 1373 1522 1374 1518 1375 1515 1376 1512 1377 1508 1378 1505 1378 1502 1379 1498 1380 1495 1381 1488 1382 1482 1383 1477 1384 1472 1384 1465 1385 1458 1386 1451 1387 1445 1388 1438 1388 1431 1389 1425 1390 1418 1390 1411 1391 1405 1391 1398 1391 1391 1392 1385 1392 1378 1392 1371 1393 1365 1393 1358 1393 1351 1393 1345 1393 1338 1393 1331 1393 1325 1393 1318 1393 1311 1393 1305 1393 1298 1393 1291 1393 1284 1393 1278 1392 1271 1392 1265 1392 1261 1392 1254 1391 1248 1391 1241 1390 1234 1390 1228 1389 1221 1389 1218 1386 1218 1381 1218 1375 1218 1370 1218 1364 1218 1359 1218 1353 1218 1348 1221 1344 1228 1343 1234 1342 1241 1342 1248 1341 1254 1341 1261 1340 1268 1340 1274 1340 1281 1340 1288 1340 1295 1340 1301 1340 1308 1340 1315 1340 1321 1340 1328 1340 1335 1340 1341 1339 1347 1339Z" fill="#6fbba1" fill-rule="evenodd"/>
<path d="M1408 1251 1415 1250 1421 1250 1428 1250 1435 1251 1441 1252 1448 1253 1451 1254 1455 1254 1458 1255 1461 1256 1465 1257 1468 1258 1472 1260 1475 1261 1478 1263 1481 1265 1485 1268 1487 1270 1489 1273 1490 1279 1488 1282 1486 1284 1483 1287 1478 1289 1475 1291 1472 1292 1468 1293 1465 1294 1461 1295 1455 1296 1448 1297 1441 1297 1435 1298 1428 1297 1421 1297 1415 1296 1410 1295 1405 1294 1401 1293 1398 1292 1395 1291 1391 1291 1388 1290 1385 1289 1381 1288 1378 1288 1374 1287 1368 1285 1365 1285 1361 1284 1358 1283 1355 1282 1351 1281 1348 1279 1345 1276 1342 1273 1342 1268 1344 1265 1348 1262 1351 1260 1355 1259 1358 1258 1361 1257 1365 1256 1371 1255 1378 1255 1384 1254 1388 1253 1395 1253 1401 1252 1408 1251ZM1273 1342 1278 1342 1284 1342 1291 1342 1298 1341 1305 1341 1311 1341 1318 1341 1325 1341 1331 1341 1338 1341 1345 1341 1351 1341 1358 1341 1365 1341 1371 1341 1378 1341 1385 1341 1391 1341 1398 1341 1405 1342 1411 1342 1418 1342 1425 1343 1431 1343 1438 1344 1445 1345 1451 1345 1458 1346 1465 1347 1472 1348 1478 1349 1483 1350 1488 1351 1492 1352 1495 1353 1498 1354 1502 1355 1505 1356 1508 1357 1511 1359 1515 1361 1517 1364 1515 1368 1512 1370 1508 1372 1505 1373 1502 1374 1498 1375 1495 1376 1492 1377 1488 1378 1485 1379 1482 1379 1475 1380 1468 1382 1461 1383 1455 1384 1448 1384 1441 1385 1435 1386 1429 1386 1425 1387 1418 1387 1411 1388 1405 1388 1398 1389 1391 1389 1385 1389 1378 1390 1371 1390 1365 1390 1358 1390 1351 1391 1345 1391 1338 1391 1331 1391 1325 1391 1318 1391 1311 1391 1305 1391 1298 1390 1291 1390 1284 1390 1278 1390 1271 1389 1266 1389 1261 1389 1254 1388 1248 1388 1241 1387 1234 1387 1231 1386 1224 1386 1218 1385 1218 1381 1218 1375 1218 1370 1218 1364 1218 1359 1218 1353 1218 1348 1221 1347 1228 1346 1234 1345 1239 1345 1244 1344 1251 1344 1258 1343 1264 1343 1271 1342Z" fill="#6bbc94" fill-rule="evenodd"/>
<path d="M1386 1259 1391 1258 1398 1258 1405 1257 1411 1257 1418 1257 1425 1257 1431 1257 1438 1258 1444 1259 1448 1260 1451 1261 1455 1262 1458 1263 1461 1265 1465 1266 1468 1269 1472 1272 1473 1276 1472 1279 1468 1283 1466 1284 1461 1286 1458 1287 1455 1288 1451 1289 1445 1290 1438 1290 1431 1290 1425 1290 1418 1290 1411 1289 1405 1288 1400 1287 1395 1286 1391 1285 1388 1284 1385 1283 1381 1282 1378 1281 1375 1280 1371 1278 1368 1276 1365 1273 1365 1268 1368 1265 1371 1263 1374 1262 1378 1261 1381 1260 1385 1260ZM1267 1345 1274 1344 1281 1344 1288 1344 1295 1344 1301 1343 1308 1343 1315 1343 1321 1343 1328 1343 1335 1343 1341 1343 1348 1343 1355 1343 1361 1343 1368 1343 1375 1343 1381 1343 1388 1344 1395 1344 1401 1344 1408 1345 1412 1345 1418 1345 1425 1346 1431 1346 1438 1347 1443 1348 1448 1348 1455 1349 1461 1350 1468 1351 1475 1353 1478 1354 1482 1354 1485 1355 1488 1356 1492 1358 1495 1359 1498 1361 1501 1364 1498 1368 1495 1371 1492 1372 1488 1373 1485 1374 1482 1375 1478 1376 1475 1377 1472 1378 1468 1378 1461 1379 1455 1381 1448 1381 1441 1382 1435 1383 1430 1384 1425 1384 1418 1385 1411 1385 1405 1386 1398 1386 1391 1387 1385 1387 1378 1387 1371 1388 1365 1388 1358 1388 1351 1388 1345 1388 1338 1388 1331 1388 1325 1388 1318 1388 1311 1388 1305 1388 1298 1388 1291 1388 1284 1388 1278 1387 1271 1387 1264 1386 1258 1386 1251 1386 1244 1385 1238 1384 1231 1384 1224 1383 1218 1382 1218 1375 1218 1370 1218 1364 1218 1359 1218 1353 1221 1350 1228 1349 1234 1348 1241 1347 1248 1347 1254 1346 1261 1345 1267 1345Z" fill="#6fbc86" fill-rule="evenodd"/>
<path d="M1404 1268 1408 1267 1415 1266 1421 1266 1428 1266 1435 1267 1438 1268 1441 1269 1445 1271 1447 1273 1445 1278 1441 1279 1438 1280 1431 1281 1425 1281 1418 1280 1411 1279 1408 1278 1405 1277 1402 1276 1398 1273 1401 1269ZM1325 1345 1331 1345 1338 1345 1345 1345 1351 1345 1358 1345 1365 1345 1371 1345 1378 1346 1385 1346 1391 1346 1398 1347 1405 1347 1411 1347 1418 1348 1425 1349 1431 1349 1438 1350 1445 1351 1451 1352 1458 1353 1461 1354 1465 1355 1468 1355 1472 1356 1475 1357 1478 1359 1482 1360 1485 1363 1485 1367 1482 1370 1478 1371 1475 1373 1472 1374 1468 1375 1465 1375 1461 1376 1458 1377 1452 1378 1448 1379 1441 1380 1435 1381 1428 1381 1421 1382 1415 1383 1408 1383 1404 1384 1398 1384 1391 1384 1385 1385 1378 1385 1371 1385 1365 1386 1358 1386 1351 1386 1345 1386 1338 1386 1331 1386 1325 1386 1318 1386 1311 1386 1305 1386 1298 1386 1291 1386 1284 1385 1278 1385 1271 1385 1264 1384 1258 1384 1251 1383 1244 1382 1238 1382 1231 1381 1224 1380 1218 1379 1218 1373 1218 1367 1218 1361 1218 1356 1221 1352 1228 1351 1234 1351 1241 1350 1248 1349 1254 1348 1261 1348 1268 1347 1274 1347 1281 1346 1288 1346 1295 1346 1301 1345 1308 1345 1315 1345 1321 1345 1325 1345Z" fill="#83bb74" fill-rule="evenodd"/>
<path d="M1296 1348 1301 1347 1308 1347 1315 1347 1321 1347 1328 1347 1335 1347 1341 1347 1348 1347 1355 1347 1361 1347 1368 1347 1375 1348 1381 1348 1388 1348 1395 1349 1401 1349 1408 1350 1415 1350 1421 1351 1428 1352 1435 1353 1439 1353 1445 1354 1451 1355 1455 1356 1458 1357 1461 1358 1465 1359 1468 1361 1472 1364 1468 1369 1465 1371 1461 1372 1458 1373 1455 1374 1451 1375 1448 1376 1441 1377 1435 1378 1428 1379 1421 1380 1415 1380 1410 1381 1405 1381 1398 1382 1391 1382 1385 1383 1378 1383 1371 1383 1366 1384 1361 1384 1355 1384 1348 1384 1341 1384 1335 1384 1328 1384 1321 1384 1315 1384 1308 1384 1301 1384 1295 1384 1288 1383 1281 1383 1274 1383 1268 1382 1261 1382 1254 1381 1248 1380 1241 1379 1234 1379 1231 1378 1224 1377 1218 1376 1218 1370 1218 1364 1218 1359 1221 1355 1228 1354 1234 1353 1238 1353 1244 1352 1251 1351 1256 1350 1261 1350 1268 1349 1274 1349 1281 1348 1288 1348 1295 1348Z" fill="#97ba62" fill-rule="evenodd"/>
<path d="M1283 1350 1288 1350 1295 1350 1301 1349 1308 1349 1315 1349 1321 1349 1328 1349 1335 1349 1341 1349 1348 1349 1355 1349 1361 1349 1368 1349 1375 1350 1381 1350 1388 1350 1395 1351 1401 1351 1408 1352 1415 1353 1419 1353 1425 1354 1431 1355 1437 1356 1441 1357 1445 1358 1448 1359 1451 1360 1455 1361 1458 1364 1455 1369 1451 1370 1448 1372 1445 1373 1441 1373 1438 1374 1435 1375 1428 1376 1421 1377 1415 1378 1408 1379 1401 1379 1395 1380 1388 1380 1381 1381 1375 1381 1368 1382 1361 1382 1355 1382 1348 1382 1341 1382 1335 1382 1328 1382 1321 1382 1315 1382 1308 1382 1301 1382 1295 1382 1288 1381 1281 1381 1274 1380 1268 1380 1261 1379 1254 1379 1250 1378 1244 1377 1238 1376 1232 1375 1228 1374 1224 1373 1221 1373 1218 1371 1218 1367 1218 1361 1221 1359 1224 1358 1228 1357 1231 1357 1234 1356 1241 1355 1248 1354 1252 1353 1258 1353 1264 1352 1271 1351 1278 1351 1283 1350Z" fill="#a9b853" fill-rule="evenodd"/>
<path d="M1275 1353 1281 1353 1288 1352 1295 1352 1301 1352 1308 1351 1315 1351 1321 1351 1328 1351 1335 1351 1341 1351 1348 1351 1355 1351 1361 1351 1368 1352 1375 1352 1381 1352 1388 1353 1395 1353 1401 1354 1408 1355 1415 1355 1419 1356 1425 1357 1428 1358 1431 1358 1435 1359 1438 1361 1441 1362 1444 1364 1441 1368 1439 1370 1435 1371 1431 1372 1428 1373 1421 1374 1415 1375 1411 1376 1405 1377 1398 1377 1391 1378 1385 1378 1378 1379 1371 1379 1365 1380 1358 1380 1351 1380 1345 1380 1338 1380 1331 1380 1325 1380 1318 1380 1311 1380 1305 1380 1298 1380 1291 1379 1284 1379 1278 1378 1273 1378 1268 1378 1261 1377 1254 1376 1250 1375 1244 1374 1241 1374 1238 1373 1234 1372 1231 1371 1228 1370 1224 1367 1228 1362 1231 1361 1234 1360 1238 1359 1241 1358 1244 1357 1251 1356 1258 1355 1264 1354 1271 1354Z" fill="#b8b647" fill-rule="evenodd"/>
<path d="M1310 1353 1315 1353 1321 1353 1328 1353 1335 1353 1341 1353 1348 1353 1355 1353 1361 1353 1368 1354 1375 1354 1381 1355 1388 1355 1395 1356 1401 1356 1408 1357 1415 1359 1418 1359 1421 1360 1425 1361 1428 1363 1429 1367 1425 1369 1421 1370 1418 1371 1415 1372 1411 1373 1405 1374 1398 1375 1394 1375 1388 1376 1381 1376 1375 1377 1368 1377 1361 1378 1355 1378 1348 1378 1341 1378 1335 1378 1328 1378 1321 1378 1315 1378 1310 1378 1305 1378 1298 1378 1291 1377 1284 1377 1278 1376 1271 1375 1264 1375 1258 1374 1252 1373 1248 1371 1244 1370 1241 1369 1238 1367 1241 1363 1244 1361 1248 1360 1251 1359 1254 1358 1261 1357 1268 1356 1274 1356 1281 1355 1288 1354 1295 1354 1301 1354 1308 1353Z" fill="#c6b33b" fill-rule="evenodd"/>
<path d="M1299 1356 1305 1356 1311 1355 1318 1355 1325 1355 1331 1355 1338 1355 1345 1355 1351 1355 1358 1355 1365 1356 1371 1356 1378 1357 1385 1357 1391 1358 1395 1359 1401 1360 1405 1361 1408 1361 1411 1363 1413 1367 1408 1369 1405 1370 1401 1371 1398 1372 1394 1373 1388 1373 1381 1374 1375 1375 1368 1375 1361 1376 1355 1376 1348 1376 1341 1376 1335 1376 1328 1376 1321 1376 1315 1376 1308 1376 1301 1375 1295 1375 1288 1374 1281 1374 1274 1373 1268 1372 1264 1371 1261 1370 1258 1369 1254 1368 1253 1364 1258 1362 1261 1361 1264 1360 1268 1360 1271 1359 1278 1358 1284 1357 1291 1357 1298 1356Z" fill="#d3b12f" fill-rule="evenodd"/>
<path d="M1298 1359 1305 1358 1311 1358 1318 1358 1325 1357 1331 1357 1338 1357 1345 1358 1351 1358 1358 1358 1365 1358 1368 1359 1375 1359 1381 1360 1388 1361 1391 1363 1395 1364 1391 1368 1388 1369 1385 1370 1378 1371 1371 1372 1367 1373 1361 1373 1355 1373 1348 1374 1341 1374 1335 1374 1328 1374 1321 1374 1315 1374 1308 1373 1301 1373 1297 1373 1291 1372 1284 1371 1278 1370 1274 1369 1271 1367 1274 1363 1278 1362 1284 1360 1291 1360 1298 1359Z" fill="#ddb024" fill-rule="evenodd"/>
<path d="M1308 1361 1315 1361 1321 1361 1328 1361 1335 1361 1341 1361 1348 1361 1355 1361 1361 1362 1368 1363 1371 1364 1368 1368 1365 1368 1358 1370 1351 1370 1345 1371 1338 1371 1331 1371 1325 1371 1318 1370 1311 1370 1307 1370 1301 1369 1298 1368 1295 1367 1298 1363 1301 1363 1308 1361Z" fill="#e8ae18" fill-rule="evenodd"/>
</g>
<path d="M1446.5 1206.8 1450.2 1207.8 1452.1 1208.3 1454.0 1208.8 1455.9 1209.4 1457.8 1210.0 1459.8 1210.6 1461.7 1211.2 1463.6 1211.9 1465.5 1212.5 1467.3 1213.1 1469.4 1213.9 1471.3 1214.6 1473.2 1215.3 1475.1 1216.0 1477.1 1216.8 1479.0 1217.5 1480.9 1218.3 1482.8 1219.1 1484.8 1219.9 1486.7 1220.7 1488.6 1221.5 1490.5 1222.4 1492.4 1223.2 1494.4 1224.1 1496.3 1224.9 1498.2 1225.8 1500.1 1226.7 1501.7 1227.4 1504.0 1228.5 1505.9 1229.4 1507.8 1230.3 1509.7 1231.2 1511.6 1232.1 1513.6 1233.0 1515.5 1234.0 1517.4 1234.9 1519.3 1235.9 1521.3 1236.8 1523.2 1237.8 1525.1 1238.8 1527.0 1239.8 1528.9 1240.8 1530.4 1241.7 1532.8 1242.9 1534.7 1244.0 1536.1 1244.8 1538.5 1246.3 1540.5 1247.4 1542.4 1248.6 1543.9 1249.6 1546.2 1251.1 1548.2 1252.4 1550.1 1253.8 1552.0 1255.2 1553.9 1256.7 1555.8 1258.2 1557.8 1259.9 1559.7 1261.6 1561.6 1263.5 1563.5 1265.4 1564.9 1267.0 1566.3 1268.6 1567.4 1269.9 1568.8 1271.8 1569.9 1273.3 1571.0 1274.9 1572.1 1276.5 1573.0 1278.1 1574.0 1279.7 1574.9 1281.3 1575.8 1282.9 1576.6 1284.4 1577.4 1286.0 1578.3 1287.6 1579.1 1289.2 1579.9 1290.8 1580.7 1292.4 1581.5 1293.9 1582.4 1295.5 1583.2 1297.1 1584.0 1298.7 1584.9 1300.3 1585.8 1301.9 1586.6 1303.4 1587.5 1305.0 1588.3 1306.6 1589.2 1308.2 1590.0 1309.8 1590.8 1311.4 1591.5 1313.0 1592.3 1314.5 1593.0 1316.1 1593.6 1317.7 1594.3 1319.5 1595.3 1322.5 1596.0 1324.1 1596.8 1325.6 1597.9 1327.2 1599.0 1328.8 1600.0 1330.1 1601.5 1332.0 1602.9 1333.6 1604.2 1335.1 1605.7 1336.7 1607.2 1338.3 1608.7 1339.9 1610.3 1341.5 1611.6 1342.8 1613.4 1344.7 1615.0 1346.2 1616.5 1347.8 1618.0 1349.4 1619.2 1350.8 1620.7 1352.6 1621.8 1354.2 1622.9 1355.7 1623.7 1357.3 1624.4 1358.9 1625.0 1361.9 1624.8 1365.2 1623.5 1368.4 1622.5 1370.0 1621.3 1371.6 1619.8 1373.2 1618.0 1374.8 1616.0 1376.3 1613.7 1377.9 1611.6 1379.3 1609.6 1380.4 1607.7 1381.5 1605.8 1382.4 1603.9 1383.4 1601.9 1384.2 1600.0 1385.0 1598.1 1385.8 1596.2 1386.5 1594.3 1387.2 1592.3 1387.8 1590.4 1388.4 1588.5 1388.9 1586.6 1389.4 1584.7 1389.9 1582.7 1390.3 1580.8 1390.7 1578.9 1391.0 1577.0 1391.4 1575.0 1391.6 1571.2 1392.1 1567.4 1392.6 1563.5 1392.9 1559.7 1393.2 1555.8 1393.4 1552.0 1393.7 1548.2 1393.9 1544.3 1394.1 1540.5 1394.4 1536.6 1394.6 1532.8 1394.9 1528.9 1395.3 1525.1 1395.6 1521.3 1396.0 1517.4 1396.4 1513.6 1396.8 1509.7 1397.2 1505.9 1397.6 1502.0 1398.1 1498.2 1398.5 1494.4 1398.9 1490.5 1399.3 1486.7 1399.8 1483.2 1400.1 1480.9 1400.4 1477.1 1400.7 1473.2 1401.1 1469.4 1401.5 1466.8 1401.7 1463.6 1402.0 1459.8 1402.3 1455.9 1402.6 1452.1 1402.9 1448.2 1403.2 1444.4 1403.5 1440.6 1403.8 1436.7 1404.0 1432.9 1404.3 1429.0 1404.5 1425.2 1404.7 1422.9 1404.9 1419.4 1405.1 1415.6 1405.3 1411.7 1405.5 1407.9 1405.7 1404.1 1405.8 1400.2 1406.0 1396.4 1406.2 1392.5 1406.3 1388.7 1406.4 1384.8 1406.6 1381.0 1406.7 1377.2 1406.8 1373.3 1407.0 1369.5 1407.1 1365.6 1407.2 1361.8 1407.3 1358.0 1407.4 1354.1 1407.4 1350.3 1407.5 1346.4 1407.6 1342.6 1407.6 1338.7 1407.7 1334.9 1407.7 1331.1 1407.8 1327.2 1407.8 1323.4 1407.8 1319.5 1407.9 1315.7 1407.9 1311.8 1407.9 1308.0 1407.9 1304.2 1407.9 1300.3 1407.9 1296.5 1407.8 1292.6 1407.8 1288.8 1407.8 1284.9 1407.7 1281.1 1407.7 1277.3 1407.6 1273.4 1407.6 1269.6 1407.5 1265.7 1407.4 1261.9 1407.4 1258.0 1407.3 1254.2 1407.2 1250.4 1407.1 1246.5 1406.9 1242.7 1406.8 1238.8 1406.7 1235.0 1406.5 1231.1 1406.4 1227.3 1406.2 1223.5 1406.1 1219.6 1405.9M1350.3 1224.1 1346.4 1224.5 1342.6 1225.1 1340.7 1225.4 1338.7 1225.8 1336.8 1226.2 1334.9 1226.7 1333.0 1227.3 1331.1 1228.0 1329.1 1228.9 1327.5 1230.6 1328.6 1233.7 1330.3 1235.3 1332.7 1236.9 1334.9 1238.0 1336.8 1238.8 1338.7 1239.6 1340.7 1240.2 1342.6 1240.7 1344.5 1241.2 1346.4 1241.7 1348.3 1242.1 1350.3 1242.4 1352.2 1242.7 1356.0 1243.2 1359.9 1243.5 1363.7 1243.7 1367.6 1243.7 1371.4 1243.6 1375.2 1243.4 1379.1 1243.0 1382.9 1242.4 1384.8 1242.0 1386.8 1241.6 1388.7 1241.1 1390.6 1240.5 1392.5 1239.8 1394.5 1238.9 1396.4 1237.8 1398.3 1236.0 1399.3 1233.7 1398.3 1231.4 1396.4 1229.7 1394.5 1228.5 1392.5 1227.7 1390.6 1226.9 1388.7 1226.4 1386.8 1225.9 1384.8 1225.4 1382.9 1225.0 1381.0 1224.7 1377.4 1224.2 1375.2 1224.0 1371.4 1223.7 1367.6 1223.5 1363.7 1223.4 1359.9 1223.5 1356.0 1223.6 1352.2 1223.9M1311.8 1293.9 1309.9 1294.3 1308.0 1294.8 1306.1 1295.4 1304.8 1297.1 1307.6 1298.7 1309.9 1299.2 1311.8 1299.6 1313.8 1300.0 1315.7 1300.3 1319.5 1300.7 1323.4 1301.0 1327.2 1301.1 1331.1 1301.2 1334.9 1301.2 1338.7 1301.1 1342.6 1300.8 1346.4 1300.5 1350.3 1299.9 1352.2 1299.5 1354.1 1299.1 1356.0 1298.2 1357.4 1297.1 1356.0 1295.7 1354.1 1295.0 1352.2 1294.5 1350.3 1294.0 1348.3 1293.7 1344.5 1293.3 1340.7 1293.0 1336.8 1292.7 1333.0 1292.6 1329.1 1292.6 1325.3 1292.7 1321.4 1292.9 1317.6 1293.2 1313.8 1293.6M1455.9 1320.8 1452.1 1321.1 1448.2 1321.4 1444.4 1321.8 1440.6 1322.3 1436.7 1322.9 1434.8 1323.2 1432.9 1323.6 1431.0 1324.0 1429.0 1324.9 1427.4 1325.6 1429.0 1327.7 1431.0 1328.4 1432.9 1328.9 1434.8 1329.3 1436.7 1329.6 1438.6 1329.9 1442.2 1330.4 1444.4 1330.6 1448.2 1331.0 1452.1 1331.4 1455.9 1331.6 1459.8 1331.9 1463.6 1332.1 1467.5 1332.3 1471.3 1332.4 1475.1 1332.6 1479.0 1332.7 1482.8 1332.7 1486.7 1332.8 1490.5 1332.8 1494.4 1332.8 1498.2 1332.8 1502.0 1332.7 1505.9 1332.6 1509.7 1332.5 1513.6 1332.4 1517.4 1332.2 1520.3 1332.0 1523.2 1331.8 1527.0 1331.5 1530.9 1331.1 1534.7 1330.6 1536.6 1330.3 1538.5 1330.0 1540.5 1329.6 1542.4 1329.2 1544.3 1328.7 1546.2 1327.9 1547.8 1327.2 1548.5 1325.6 1546.2 1324.3 1544.3 1323.6 1542.4 1323.1 1540.5 1322.7 1538.5 1322.4 1536.6 1322.1 1532.8 1321.6 1528.9 1321.2 1525.1 1320.9 1521.3 1320.6 1517.4 1320.4 1513.6 1320.2 1509.7 1320.1 1505.9 1319.9 1502.0 1319.9 1498.2 1319.8 1494.4 1319.8 1490.5 1319.8 1486.7 1319.8 1482.8 1319.8 1479.0 1319.9 1475.1 1320.0 1471.3 1320.1 1467.5 1320.2 1463.6 1320.4 1459.8 1320.6 1455.9 1320.8M1217.7 1323.4 1219.0 1322.5 1220.8 1320.9 1221.9 1319.3 1222.7 1317.7 1223.3 1314.5 1223.4 1311.4 1223.5 1309.2 1223.8 1306.6 1224.7 1303.5 1225.4 1301.9 1226.3 1300.3 1227.3 1298.7 1228.6 1297.1 1230.0 1295.5 1231.1 1294.4 1233.1 1292.6 1235.0 1290.9 1236.9 1289.4 1238.8 1287.9 1240.8 1286.5 1242.7 1285.1 1244.6 1283.7 1246.5 1282.4 1248.0 1281.3 1250.3 1279.7 1252.3 1278.3 1254.2 1276.9 1256.1 1275.6 1258.0 1274.2 1260.0 1272.7 1261.2 1271.8 1263.3 1270.2 1265.4 1268.6 1267.4 1267.0 1269.3 1265.4 1271.3 1263.8 1273.2 1262.3 1275.2 1260.7 1277.1 1259.1 1279.0 1257.5 1280.9 1255.9 1282.8 1254.3 1284.7 1252.8 1286.6 1251.2 1288.5 1249.6 1290.5 1248.0 1292.4 1246.4 1294.4 1244.8 1296.4 1243.2 1298.4 1241.7 1300.3 1240.3 1302.2 1239.0 1304.2 1237.7 1306.1 1236.5 1308.0 1235.4 1309.9 1234.3 1311.8 1233.3 1313.8 1232.3 1315.7 1231.3 1317.6 1230.3 1319.5 1229.1 1321.4 1227.4 1322.5 1225.8 1323.3 1224.2 1324.3 1222.6 1325.3 1221.3 1326.9 1219.5 1328.5 1217.9 1330.4 1216.3 1332.6 1214.7 1334.9 1213.2 1336.8 1212.1 1338.7 1211.1 1340.7 1210.2 1342.6 1209.3 1344.5 1208.5 1346.4 1207.8 1348.3 1207.1M1308.0 1327.2 1304.2 1327.4 1300.3 1327.6 1296.5 1327.9 1292.6 1328.2 1288.8 1328.7 1286.9 1329.1 1284.9 1329.6 1283.0 1330.1 1284.9 1332.5 1286.9 1332.9 1288.8 1333.3 1290.7 1333.7 1294.5 1334.1 1298.4 1334.4 1302.2 1334.8 1306.1 1335.0 1309.9 1335.2 1313.8 1335.4 1317.6 1335.5 1321.4 1335.5 1325.3 1335.6 1329.1 1335.6 1333.0 1335.5 1336.8 1335.5 1340.7 1335.4 1344.5 1335.2 1348.3 1335.0 1352.2 1334.7 1356.0 1334.3 1359.9 1333.9 1362.9 1333.6 1365.6 1332.8 1367.6 1332.3 1368.5 1330.4 1365.6 1329.6 1363.7 1329.2 1361.8 1328.8 1358.0 1328.3 1354.1 1328.0 1350.3 1327.7 1346.4 1327.4 1342.6 1327.2 1338.7 1327.1 1334.9 1326.9 1331.1 1326.9 1327.2 1326.8 1323.4 1326.8 1319.5 1326.9 1315.7 1326.9 1311.8 1327.0 1308.0 1327.2M1426.5 1232.2 1429.0 1231.6 1432.9 1231.3 1436.7 1231.4 1440.6 1231.8 1442.5 1232.1 1444.4 1232.4 1446.3 1232.8 1448.2 1233.2 1450.2 1233.6 1452.1 1234.1 1454.0 1234.5 1455.9 1235.0 1457.9 1235.6 1459.8 1236.1 1461.7 1236.7 1463.6 1237.2 1465.5 1237.8 1467.5 1238.4 1469.4 1239.1 1471.3 1239.7 1473.2 1240.3 1475.1 1241.0 1477.0 1241.7 1479.0 1242.3 1480.9 1243.0 1482.8 1243.8 1484.8 1244.5 1486.7 1245.2 1488.6 1246.0 1490.5 1246.8 1492.4 1247.6 1494.4 1248.4 1496.3 1249.2 1498.2 1250.1 1500.1 1251.0 1502.0 1251.9 1503.6 1252.8 1505.9 1253.9 1507.8 1255.0 1509.4 1255.9 1511.6 1257.3 1513.6 1258.5 1515.5 1259.8 1517.4 1261.3 1518.7 1262.3 1520.5 1263.8 1522.1 1265.4 1523.6 1267.0 1524.9 1268.6 1526.0 1270.2 1527.0 1271.8 1527.8 1273.3 1528.4 1274.9 1529.2 1278.1 1529.4 1281.3 1528.9 1284.4 1527.8 1287.6 1527.0 1289.2 1526.0 1290.8 1524.8 1292.4 1523.5 1293.9 1521.9 1295.5 1520.1 1297.1 1518.0 1298.7 1515.7 1300.3 1513.6 1301.6 1511.6 1302.7 1509.7 1303.7 1507.8 1304.7 1505.9 1305.5 1504.0 1306.4 1502.0 1307.2 1500.1 1307.9 1498.2 1308.6 1496.3 1309.3 1494.6 1309.8 1492.4 1310.4 1490.5 1311.0 1488.6 1311.5 1486.7 1311.9 1484.8 1312.3 1482.8 1312.7 1480.9 1313.1 1477.1 1313.6 1473.2 1314.1 1469.5 1314.5 1467.5 1314.7 1463.6 1315.0 1459.8 1315.3 1455.9 1315.6 1452.1 1315.9 1448.5 1316.1 1446.3 1316.2 1442.5 1316.4 1438.6 1316.7 1434.8 1316.9 1431.0 1317.1 1427.1 1317.3 1423.3 1317.6 1420.7 1317.7 1417.5 1317.9 1413.7 1318.1 1409.8 1318.2 1406.0 1318.4 1402.1 1318.5 1398.3 1318.6 1394.5 1318.7 1390.6 1318.7 1386.8 1318.6 1382.9 1318.5 1379.1 1318.3 1375.2 1318.0 1372.8 1317.7 1369.5 1317.4 1365.6 1316.9 1361.8 1316.3 1359.9 1316.1 1358.0 1315.8 1356.0 1315.5 1354.1 1315.1 1352.2 1314.8 1350.3 1314.5 1348.3 1314.1 1346.4 1313.7 1344.5 1313.3 1342.6 1312.8 1340.7 1312.3 1338.7 1311.7 1336.8 1310.6 1338.7 1308.7 1340.7 1308.1 1344.5 1307.5 1346.4 1307.2 1348.3 1306.8 1350.3 1306.5 1354.1 1305.9 1356.0 1305.6 1358.0 1305.2 1359.9 1304.8 1361.8 1304.5 1363.7 1304.1 1365.6 1303.6 1367.6 1303.1 1369.5 1302.6 1371.4 1301.9 1373.3 1301.1 1374.8 1300.3 1376.5 1298.7 1375.2 1295.9 1373.3 1294.9 1371.4 1294.0 1369.5 1293.5 1367.6 1292.9 1365.6 1292.5 1363.7 1292.1 1361.8 1291.7 1359.9 1291.4 1358.0 1291.1 1355.6 1290.8 1352.2 1290.3 1348.3 1289.9 1344.5 1289.6 1340.7 1289.3 1336.8 1289.0 1333.0 1288.8 1329.1 1288.6 1325.3 1288.4 1321.4 1288.2 1317.6 1288.0 1313.8 1287.8 1310.0 1287.6 1308.0 1287.4 1304.2 1286.9 1302.2 1286.6 1300.3 1286.2 1298.4 1285.4 1296.5 1284.4 1295.3 1282.9 1294.9 1279.7 1295.6 1276.5 1296.5 1273.9 1297.4 1271.8 1298.3 1270.2 1299.2 1268.6 1300.3 1267.0 1301.5 1265.4 1302.8 1263.8 1304.2 1262.4 1305.9 1260.7 1307.6 1259.1 1309.5 1257.5 1311.5 1255.9 1313.8 1254.4 1315.7 1253.2 1317.6 1252.1 1319.5 1251.2 1321.4 1250.4 1323.4 1249.8 1325.3 1249.2 1327.2 1248.8 1329.1 1248.5 1333.0 1248.0 1336.8 1247.8 1340.7 1247.7 1344.5 1247.7 1348.3 1247.8 1352.2 1247.8 1356.0 1247.9 1359.9 1247.9 1363.7 1247.9 1367.6 1247.8 1371.4 1247.6 1375.2 1247.4 1379.1 1247.0 1382.9 1246.6 1386.8 1246.1 1388.7 1245.8 1390.6 1245.5 1392.5 1245.1 1394.5 1244.7 1396.4 1244.3 1398.3 1243.8 1400.2 1243.3 1402.1 1242.7 1404.1 1242.2 1406.0 1241.5 1407.9 1240.8 1409.7 1240.1 1411.7 1239.2 1413.7 1238.3 1415.6 1237.3 1417.5 1236.2 1419.2 1235.3 1421.4 1234.1 1423.3 1233.2 1425.2 1232.5M1217.7 1339.2 1221.5 1338.8 1225.4 1338.3 1229.2 1337.9 1233.1 1337.5 1236.9 1337.2 1240.8 1336.9 1243.3 1336.7 1246.5 1336.5 1250.4 1336.4 1254.2 1336.3 1258.0 1336.2 1261.9 1336.3 1265.7 1336.3 1269.6 1336.4 1273.4 1336.5 1277.3 1336.6 1279.9 1336.7 1283.0 1336.8 1286.9 1337.0 1290.7 1337.1 1294.5 1337.2 1298.4 1337.3 1302.2 1337.4 1306.1 1337.5 1309.9 1337.6 1313.8 1337.7 1317.6 1337.7 1321.4 1337.7 1325.3 1337.7 1329.1 1337.7 1333.0 1337.7 1336.8 1337.7 1340.7 1337.6 1344.5 1337.5 1348.3 1337.4 1352.2 1337.3 1356.0 1337.2 1359.9 1337.0 1363.7 1336.8 1367.6 1336.6 1371.4 1336.3 1375.2 1336.1 1379.1 1335.8 1382.9 1335.5 1386.8 1335.2 1390.6 1334.8 1394.5 1334.5 1398.3 1334.2 1402.1 1333.9 1406.0 1333.7 1409.8 1333.6 1413.7 1333.6 1417.5 1333.7 1421.4 1333.8 1425.2 1334.0 1429.0 1334.2 1432.9 1334.5 1436.7 1334.7 1440.6 1335.0 1443.6 1335.1 1446.3 1335.4 1450.2 1335.6 1454.0 1335.9 1457.9 1336.2 1461.7 1336.5 1465.5 1336.7 1469.4 1337.0 1473.2 1337.4 1477.1 1337.7 1480.9 1338.1 1482.9 1338.3 1486.7 1338.8 1490.5 1339.3 1494.4 1339.8 1496.3 1340.1 1498.2 1340.4 1500.1 1340.7 1502.0 1341.1 1504.0 1341.4 1505.9 1341.7 1507.8 1342.0 1509.7 1342.4 1511.6 1342.7 1513.6 1343.0 1515.5 1343.4 1517.4 1343.7 1519.3 1344.0 1521.3 1344.4 1523.2 1344.7 1525.1 1345.0 1527.0 1345.3 1528.9 1345.6 1530.9 1345.9 1532.8 1346.2 1534.7 1346.5 1536.6 1346.8 1538.5 1347.1 1540.5 1347.3 1542.4 1347.6 1544.3 1347.9 1548.2 1348.5 1550.1 1348.8 1552.0 1349.0 1553.9 1349.3 1555.8 1349.7 1557.8 1350.0 1559.7 1350.4 1561.6 1350.8 1563.5 1351.2 1565.4 1351.6 1567.4 1352.2 1569.3 1352.7 1571.2 1353.4 1573.1 1354.1 1575.0 1355.0 1576.5 1355.7 1578.9 1357.3 1580.8 1358.9 1581.9 1360.5 1582.6 1362.1 1582.2 1365.2 1581.3 1366.8 1579.7 1368.4 1577.4 1370.0 1575.0 1371.2 1573.1 1372.1 1571.2 1372.8 1569.3 1373.5 1567.4 1374.1 1565.4 1374.6 1563.5 1375.1 1561.6 1375.6 1559.7 1376.0 1557.8 1376.4 1555.8 1376.8 1553.9 1377.2 1552.0 1377.5 1550.1 1377.9 1548.2 1378.2 1546.2 1378.5 1544.3 1378.9 1542.4 1379.2 1540.5 1379.5 1538.5 1379.8 1536.6 1380.2 1534.7 1380.5 1532.8 1380.8 1530.9 1381.1 1528.9 1381.4 1527.0 1381.8 1525.1 1382.1 1523.2 1382.4 1521.3 1382.7 1519.3 1383.0 1517.4 1383.4 1515.5 1383.7 1513.6 1384.0 1511.6 1384.3 1509.7 1384.6 1507.8 1384.9 1505.9 1385.2 1504.0 1385.5 1502.0 1385.8 1500.1 1386.1 1498.2 1386.4 1496.3 1386.7 1494.4 1387.0 1491.5 1387.4 1488.6 1387.9 1484.8 1388.4 1480.9 1388.9 1477.1 1389.4 1473.2 1389.9 1469.4 1390.4 1467.3 1390.6 1463.6 1391.0 1459.8 1391.5 1455.9 1391.9 1452.6 1392.2 1450.2 1392.4 1446.3 1392.8 1442.5 1393.2 1438.6 1393.5 1435.2 1393.8 1432.9 1394.0 1429.0 1394.3 1425.2 1394.6 1421.4 1394.8 1417.5 1395.1 1413.7 1395.3 1409.8 1395.6 1406.0 1395.8 1402.1 1396.1 1398.3 1396.3 1394.5 1396.5 1390.6 1396.6 1386.8 1396.8 1383.3 1396.9 1381.0 1397.0 1377.2 1397.2 1373.3 1397.3 1369.5 1397.5 1365.6 1397.6 1361.8 1397.7 1358.0 1397.8 1354.1 1397.9 1350.3 1398.0 1346.4 1398.0 1342.6 1398.1 1338.7 1398.1 1334.9 1398.2 1331.1 1398.2 1327.2 1398.2 1323.4 1398.2 1319.5 1398.2 1315.7 1398.2 1311.8 1398.2 1308.0 1398.2 1304.2 1398.1 1300.3 1398.1 1296.5 1398.0 1292.6 1398.0 1288.8 1397.9 1284.9 1397.8 1281.1 1397.7 1277.3 1397.6 1273.4 1397.4 1269.6 1397.3 1265.7 1397.1 1261.9 1397.0 1258.0 1396.8 1254.2 1396.6 1250.4 1396.4 1246.5 1396.2 1242.7 1396.0 1238.8 1395.7 1235.0 1395.4 1231.1 1395.2 1227.3 1394.9 1223.5 1394.6 1219.6 1394.2M1413.6 1248.0 1415.6 1247.8 1419.4 1247.4 1423.3 1247.2 1427.1 1247.1 1431.0 1247.2 1434.8 1247.4 1438.6 1247.8 1442.5 1248.3 1444.4 1248.6 1446.3 1249.0 1448.2 1249.3 1450.2 1249.7 1452.1 1250.2 1454.0 1250.6 1455.9 1251.1 1457.9 1251.6 1459.8 1252.1 1461.7 1252.6 1463.6 1253.2 1465.5 1253.8 1467.3 1254.3 1469.4 1255.0 1471.3 1255.7 1473.2 1256.4 1475.1 1257.2 1477.1 1258.0 1479.0 1258.8 1480.9 1259.7 1482.8 1260.7 1484.8 1261.8 1486.7 1262.9 1488.1 1263.8 1490.3 1265.4 1492.2 1267.0 1493.8 1268.6 1495.1 1270.2 1496.2 1271.8 1496.9 1273.3 1497.7 1276.5 1497.3 1279.7 1496.3 1282.1 1494.7 1284.4 1493.1 1286.0 1491.3 1287.6 1489.0 1289.2 1486.7 1290.6 1484.8 1291.5 1483.0 1292.4 1480.9 1293.3 1479.2 1293.9 1477.1 1294.7 1475.1 1295.3 1473.2 1295.9 1471.3 1296.4 1469.4 1296.9 1467.5 1297.4 1465.5 1297.8 1463.6 1298.2 1461.7 1298.6 1459.8 1298.9 1457.9 1299.2 1455.9 1299.5 1452.1 1300.0 1449.5 1300.3 1446.3 1300.6 1442.5 1300.8 1438.6 1301.0 1434.8 1301.1 1431.0 1301.2 1427.1 1301.1 1423.3 1300.9 1419.4 1300.6 1416.8 1300.3 1413.7 1299.8 1411.7 1299.4 1409.8 1299.0 1407.9 1298.5 1406.0 1297.9 1404.1 1297.2 1402.1 1296.6 1400.2 1295.8 1398.3 1295.1 1396.4 1294.5 1394.5 1293.8 1392.5 1293.2 1390.6 1292.6 1388.7 1292.1 1386.8 1291.6 1384.8 1291.1 1382.9 1290.6 1381.0 1290.2 1379.1 1289.8 1377.2 1289.4 1375.2 1289.0 1373.3 1288.6 1371.4 1288.3 1369.5 1287.9 1367.6 1287.6 1365.6 1287.3 1363.7 1286.9 1361.8 1286.6 1359.9 1286.3 1358.0 1285.9 1356.0 1285.6 1354.1 1285.2 1352.2 1284.8 1350.3 1284.5 1348.3 1284.0 1346.4 1283.4 1344.5 1282.9 1342.6 1282.2 1340.7 1281.4 1338.7 1280.3 1336.8 1279.0 1334.9 1277.1 1333.4 1274.9 1332.7 1273.3 1332.4 1270.2 1333.0 1268.0 1334.4 1265.4 1335.8 1263.8 1337.6 1262.3 1339.8 1260.7 1342.6 1259.2 1344.5 1258.3 1346.4 1257.6 1348.3 1257.0 1350.3 1256.4 1352.1 1255.9 1354.1 1255.5 1356.0 1255.2 1358.0 1254.8 1359.9 1254.5 1363.7 1254.0 1367.6 1253.6 1371.4 1253.2 1375.1 1252.8 1377.2 1252.5 1381.0 1252.2 1384.8 1251.7 1388.7 1251.3 1392.5 1250.8 1396.4 1250.3 1400.2 1249.8 1404.1 1249.3 1407.9 1248.7 1411.7 1248.2M1217.7 1345.9 1221.5 1345.4 1225.4 1345.0 1228.2 1344.7 1231.1 1344.3 1235.0 1343.9 1238.8 1343.5 1242.7 1343.1 1246.5 1342.8 1250.4 1342.4 1254.2 1342.1 1258.0 1341.8 1261.9 1341.6 1265.7 1341.3 1269.6 1341.1 1273.4 1341.0 1277.3 1340.8 1281.1 1340.7 1284.9 1340.6 1288.8 1340.5 1292.6 1340.5 1296.5 1340.4 1300.3 1340.4 1304.2 1340.4 1308.0 1340.4 1311.8 1340.4 1315.7 1340.3 1319.5 1340.3 1323.4 1340.3 1327.2 1340.3 1331.1 1340.3 1334.9 1340.3 1338.7 1340.2 1342.6 1340.2 1346.4 1340.2 1350.3 1340.1 1354.1 1340.1 1358.0 1340.0 1361.8 1340.0 1365.6 1340.0 1369.5 1339.9 1372.1 1339.9 1375.2 1339.9 1379.1 1339.9 1382.9 1339.9 1386.8 1339.9 1389.1 1339.9 1392.5 1339.9 1396.4 1340.0 1400.2 1340.1 1404.1 1340.2 1407.9 1340.3 1411.7 1340.5 1415.6 1340.7 1419.4 1340.9 1423.3 1341.2 1427.1 1341.5 1431.0 1341.7 1434.8 1342.0 1438.6 1342.4 1442.5 1342.8 1445.5 1343.1 1448.2 1343.3 1452.1 1343.8 1455.9 1344.2 1459.3 1344.7 1461.7 1345.0 1465.5 1345.5 1469.4 1346.0 1471.3 1346.3 1473.2 1346.6 1475.1 1346.9 1477.1 1347.2 1479.0 1347.6 1480.9 1347.9 1482.8 1348.2 1484.8 1348.6 1486.7 1348.9 1488.6 1349.3 1490.5 1349.7 1492.4 1350.1 1494.4 1350.5 1496.3 1350.9 1498.2 1351.4 1500.1 1351.8 1502.0 1352.3 1504.0 1352.8 1505.9 1353.3 1507.8 1353.8 1509.7 1354.4 1511.6 1355.0 1513.6 1355.6 1515.5 1356.3 1517.4 1357.0 1519.3 1357.8 1521.3 1358.7 1523.2 1359.8 1525.1 1361.1 1527.0 1363.5 1526.3 1366.8 1525.1 1367.9 1523.2 1369.3 1521.3 1370.3 1519.3 1371.2 1517.4 1372.0 1515.5 1372.8 1513.6 1373.5 1511.6 1374.1 1509.7 1374.7 1507.8 1375.2 1505.9 1375.8 1504.0 1376.3 1502.0 1376.8 1500.1 1377.2 1498.2 1377.7 1496.3 1378.1 1494.4 1378.6 1492.4 1379.0 1490.5 1379.4 1488.6 1379.8 1486.7 1380.1 1484.8 1380.5 1482.8 1380.8 1480.9 1381.2 1479.0 1381.5 1477.1 1381.8 1475.1 1382.2 1473.2 1382.5 1471.3 1382.8 1469.4 1383.1 1467.5 1383.3 1463.6 1383.9 1460.7 1384.3 1457.9 1384.6 1454.0 1385.1 1450.2 1385.6 1447.8 1385.8 1444.4 1386.2 1440.6 1386.6 1436.7 1387.0 1432.9 1387.4 1429.0 1387.7 1425.2 1388.1 1421.4 1388.4 1417.5 1388.7 1413.7 1389.0 1409.8 1389.2 1406.0 1389.5 1402.1 1389.7 1398.3 1390.0 1394.5 1390.2 1390.6 1390.4 1386.8 1390.6 1382.9 1390.8 1379.1 1390.9 1375.2 1391.1 1371.4 1391.2 1367.6 1391.4 1363.7 1391.5 1359.9 1391.6 1356.0 1391.7 1352.2 1391.8 1348.3 1391.8 1344.5 1391.9 1340.7 1391.9 1336.8 1392.0 1333.0 1392.0 1329.1 1392.0 1325.3 1392.0 1321.4 1392.0 1317.6 1392.0 1313.8 1391.9 1309.9 1391.9 1306.1 1391.8 1302.2 1391.8 1298.4 1391.7 1294.5 1391.6 1290.7 1391.5 1286.9 1391.4 1283.0 1391.2 1279.2 1391.1 1275.3 1390.9 1271.5 1390.7 1268.8 1390.6 1265.7 1390.4 1261.9 1390.2 1258.0 1390.0 1254.2 1389.8 1250.4 1389.5 1246.5 1389.2 1244.0 1389.0 1240.8 1388.8 1236.9 1388.4 1233.1 1388.1 1229.2 1387.7 1226.4 1387.4 1223.5 1387.1 1219.6 1386.7M1410.1 1260.7 1413.7 1260.6 1417.5 1260.5 1421.4 1260.6 1425.2 1260.8 1429.0 1261.1 1432.9 1261.6 1436.7 1262.1 1438.6 1262.5 1440.6 1262.8 1442.5 1263.3 1444.4 1263.7 1446.3 1264.3 1448.2 1264.8 1450.1 1265.4 1452.1 1266.2 1454.0 1267.0 1455.9 1268.0 1457.9 1269.1 1459.3 1270.2 1460.9 1271.8 1461.9 1273.3 1462.2 1276.5 1461.4 1278.1 1459.9 1279.7 1457.9 1281.1 1455.9 1282.1 1454.2 1282.9 1452.1 1283.6 1450.2 1284.1 1448.2 1284.6 1446.3 1285.0 1444.4 1285.3 1442.5 1285.6 1439.0 1286.0 1436.7 1286.2 1432.9 1286.4 1429.0 1286.4 1425.2 1286.3 1421.4 1286.1 1417.5 1285.7 1413.7 1285.2 1409.8 1284.7 1407.9 1284.3 1406.0 1283.9 1404.1 1283.5 1402.1 1283.1 1400.2 1282.7 1398.3 1282.2 1396.4 1281.6 1394.5 1281.1 1392.5 1280.4 1390.6 1279.8 1388.7 1279.0 1386.8 1278.2 1384.8 1277.2 1382.9 1276.1 1381.1 1274.9 1379.5 1273.3 1378.6 1271.8 1379.1 1268.7 1380.8 1267.0 1382.9 1265.8 1384.8 1265.0 1386.8 1264.3 1388.7 1263.7 1390.6 1263.3 1392.5 1262.8 1394.5 1262.4 1396.4 1262.1 1398.3 1261.8 1402.1 1261.3 1406.0 1260.9 1409.8 1260.7M1217.7 1351.6 1219.6 1351.3 1221.5 1351.0 1223.5 1350.7 1227.3 1350.2 1231.1 1349.7 1233.2 1349.4 1236.9 1348.9 1240.8 1348.5 1244.6 1348.1 1247.2 1347.8 1250.4 1347.5 1254.2 1347.1 1258.0 1346.8 1261.9 1346.5 1265.2 1346.2 1267.7 1346.1 1271.5 1345.8 1275.3 1345.5 1279.2 1345.3 1283.0 1345.1 1286.9 1344.9 1290.7 1344.7 1294.5 1344.6 1298.4 1344.4 1302.2 1344.3 1306.1 1344.2 1309.9 1344.1 1313.8 1344.1 1317.6 1344.0 1321.4 1343.9 1325.3 1343.9 1329.1 1343.9 1333.0 1343.8 1336.8 1343.8 1340.7 1343.8 1344.5 1343.9 1348.3 1343.9 1352.2 1343.9 1356.0 1343.9 1359.9 1344.0 1363.7 1344.1 1367.6 1344.2 1371.4 1344.2 1375.2 1344.4 1379.1 1344.5 1382.9 1344.6 1386.8 1344.8 1390.6 1344.9 1394.5 1345.1 1398.3 1345.3 1402.1 1345.6 1406.0 1345.8 1409.8 1346.1 1412.3 1346.2 1415.6 1346.5 1419.4 1346.8 1423.3 1347.1 1427.1 1347.5 1430.6 1347.8 1432.9 1348.1 1436.7 1348.5 1440.6 1348.9 1444.4 1349.4 1448.2 1349.9 1452.1 1350.5 1454.0 1350.8 1455.9 1351.1 1457.9 1351.4 1459.8 1351.7 1461.7 1352.1 1463.6 1352.4 1465.5 1352.8 1467.5 1353.2 1469.4 1353.6 1471.3 1354.0 1473.2 1354.5 1475.1 1355.0 1477.1 1355.5 1479.0 1356.1 1480.9 1356.7 1482.8 1357.3 1484.8 1358.1 1486.7 1358.8 1488.6 1359.8 1490.5 1361.0 1491.9 1362.1 1493.0 1363.7 1492.6 1366.8 1491.1 1368.4 1488.7 1370.0 1486.7 1370.9 1484.8 1371.8 1482.8 1372.5 1480.9 1373.2 1479.0 1373.8 1477.1 1374.3 1475.1 1374.9 1473.2 1375.3 1471.3 1375.8 1469.4 1376.3 1467.5 1376.7 1465.5 1377.1 1463.6 1377.5 1461.7 1377.8 1459.8 1378.2 1457.9 1378.5 1455.9 1378.8 1454.0 1379.2 1452.1 1379.5 1450.2 1379.8 1448.2 1380.0 1444.4 1380.6 1440.6 1381.1 1438.6 1381.3 1434.8 1381.8 1431.0 1382.2 1427.1 1382.7 1423.3 1383.1 1419.4 1383.4 1415.6 1383.8 1411.7 1384.1 1409.6 1384.3 1406.0 1384.5 1402.1 1384.8 1398.3 1385.1 1394.5 1385.3 1390.6 1385.6 1386.8 1385.8 1382.9 1386.0 1379.1 1386.2 1375.2 1386.3 1371.4 1386.5 1367.6 1386.6 1363.7 1386.8 1359.9 1386.9 1356.0 1387.0 1352.2 1387.1 1348.3 1387.1 1344.5 1387.2 1340.7 1387.2 1336.8 1387.3 1333.0 1387.3 1329.1 1387.3 1325.3 1387.3 1321.4 1387.3 1317.6 1387.2 1313.8 1387.2 1309.9 1387.1 1306.1 1387.1 1302.2 1387.0 1298.4 1386.9 1294.5 1386.8 1290.7 1386.6 1286.9 1386.5 1283.0 1386.3 1279.2 1386.1 1275.3 1385.9 1271.5 1385.7 1267.7 1385.5 1263.8 1385.2 1260.0 1385.0 1256.1 1384.7 1252.3 1384.4 1248.4 1384.0 1244.6 1383.7 1240.8 1383.3 1236.9 1382.9 1233.1 1382.4 1229.2 1382.0 1225.4 1381.5 1222.5 1381.1 1219.6 1380.7 1217.7 1380.4M1217.7 1358.0 1219.6 1357.5 1221.5 1357.0 1223.5 1356.6 1225.4 1356.2 1227.3 1355.7 1229.2 1355.4 1231.1 1355.0 1233.1 1354.7 1235.0 1354.4 1236.9 1354.1 1238.8 1353.8 1240.8 1353.5 1244.6 1353.0 1247.5 1352.6 1250.4 1352.2 1254.2 1351.8 1258.0 1351.4 1261.9 1351.0 1265.7 1350.7 1269.6 1350.3 1273.4 1350.0 1277.3 1349.7 1281.1 1349.5 1284.9 1349.3 1288.8 1349.0 1292.6 1348.8 1296.5 1348.7 1300.3 1348.5 1304.2 1348.4 1308.0 1348.3 1311.8 1348.2 1315.7 1348.1 1319.5 1348.0 1323.4 1347.9 1327.2 1347.9 1331.1 1347.9 1334.9 1347.9 1338.7 1347.9 1342.6 1347.9 1346.4 1347.9 1350.3 1348.0 1354.1 1348.1 1358.0 1348.1 1361.8 1348.2 1365.6 1348.4 1369.5 1348.5 1373.3 1348.6 1377.2 1348.8 1381.0 1349.0 1384.8 1349.2 1388.7 1349.4 1392.5 1349.6 1396.4 1349.9 1400.2 1350.2 1404.1 1350.5 1407.9 1350.8 1410.2 1351.0 1413.7 1351.3 1417.5 1351.7 1421.4 1352.2 1424.8 1352.6 1427.1 1352.9 1431.0 1353.4 1432.9 1353.7 1434.8 1354.0 1436.7 1354.3 1438.6 1354.6 1440.6 1355.0 1442.5 1355.3 1444.4 1355.7 1446.3 1356.1 1448.2 1356.6 1450.2 1357.0 1452.1 1357.6 1454.0 1358.1 1455.9 1358.7 1457.9 1359.4 1459.8 1360.2 1461.7 1361.2 1463.1 1362.1 1464.6 1363.7 1464.5 1366.8 1462.8 1368.4 1460.0 1370.0 1457.9 1370.8 1455.9 1371.6 1454.0 1372.2 1452.1 1372.7 1450.2 1373.3 1448.2 1373.8 1446.3 1374.2 1444.4 1374.6 1442.5 1375.0 1440.6 1375.4 1438.6 1375.8 1436.7 1376.1 1434.8 1376.4 1432.9 1376.7 1431.0 1377.0 1429.0 1377.3 1425.2 1377.9 1421.4 1378.4 1417.5 1378.8 1413.7 1379.3 1411.3 1379.5 1407.9 1379.8 1404.1 1380.2 1400.2 1380.5 1396.4 1380.8 1393.1 1381.1 1390.6 1381.3 1386.8 1381.5 1382.9 1381.8 1379.1 1382.0 1375.2 1382.2 1371.4 1382.4 1367.6 1382.5 1363.7 1382.7 1359.9 1382.8 1356.0 1382.9 1352.2 1383.0 1348.3 1383.1 1344.5 1383.2 1340.7 1383.2 1336.8 1383.2 1333.0 1383.3 1329.1 1383.3 1325.3 1383.3 1321.4 1383.2 1317.6 1383.2 1313.8 1383.1 1309.9 1383.0 1306.1 1382.9 1302.2 1382.8 1298.4 1382.7 1294.5 1382.6 1290.7 1382.4 1286.9 1382.2 1283.0 1382.0 1279.2 1381.8 1275.3 1381.5 1271.5 1381.3 1269.2 1381.1 1265.7 1380.8 1261.9 1380.5 1258.0 1380.1 1254.2 1379.8 1251.9 1379.5 1248.4 1379.1 1244.6 1378.6 1240.8 1378.1 1236.9 1377.6 1235.0 1377.3 1233.1 1377.0 1231.1 1376.6 1229.2 1376.3 1227.3 1375.9 1225.4 1375.6 1223.5 1375.2 1221.6 1374.8 1219.6 1374.3 1217.7 1373.8M1300.0 1352.6 1302.2 1352.5 1306.1 1352.3 1309.9 1352.2 1313.8 1352.1 1317.6 1352.0 1321.4 1351.9 1325.3 1351.9 1329.1 1351.8 1333.0 1351.8 1336.8 1351.8 1340.7 1351.8 1344.5 1351.9 1348.3 1351.9 1352.2 1352.0 1356.0 1352.1 1359.9 1352.2 1363.7 1352.4 1367.6 1352.5 1371.4 1352.7 1375.2 1352.9 1379.1 1353.2 1382.9 1353.4 1386.8 1353.7 1390.6 1354.0 1394.5 1354.4 1398.3 1354.8 1402.1 1355.2 1406.0 1355.6 1409.8 1356.2 1411.7 1356.4 1413.7 1356.7 1415.6 1357.0 1417.5 1357.4 1419.4 1357.8 1421.4 1358.1 1423.3 1358.6 1425.2 1359.0 1427.1 1359.5 1429.0 1360.1 1431.0 1360.7 1432.9 1361.6 1434.8 1362.6 1436.3 1363.7 1437.0 1365.2 1436.4 1366.8 1434.8 1368.0 1432.9 1369.1 1431.0 1369.9 1429.0 1370.6 1427.1 1371.1 1425.2 1371.7 1423.3 1372.1 1421.4 1372.6 1419.4 1373.0 1417.5 1373.4 1415.6 1373.7 1413.7 1374.0 1411.7 1374.3 1409.8 1374.6 1406.0 1375.2 1402.1 1375.7 1398.3 1376.1 1396.3 1376.3 1392.5 1376.7 1388.7 1377.1 1384.8 1377.4 1381.0 1377.7 1377.5 1377.9 1375.2 1378.1 1371.4 1378.3 1367.6 1378.5 1363.7 1378.7 1359.9 1378.8 1356.0 1379.0 1352.2 1379.1 1348.3 1379.2 1344.5 1379.3 1340.7 1379.3 1336.8 1379.4 1333.0 1379.4 1329.1 1379.4 1325.3 1379.4 1321.4 1379.3 1317.6 1379.3 1313.8 1379.2 1309.9 1379.1 1306.1 1379.0 1302.2 1378.8 1298.4 1378.6 1294.5 1378.5 1290.7 1378.2 1286.9 1378.0 1283.0 1377.7 1279.2 1377.4 1275.3 1377.1 1271.5 1376.7 1267.7 1376.3 1263.8 1375.9 1260.0 1375.4 1256.1 1374.9 1254.2 1374.6 1252.3 1374.2 1250.4 1373.9 1248.4 1373.5 1246.6 1373.2 1244.6 1372.7 1242.7 1372.2 1240.8 1371.8 1238.8 1371.2 1236.9 1370.5 1235.0 1369.8 1233.1 1368.8 1231.1 1367.3 1230.5 1365.2 1231.6 1363.7 1233.1 1362.8 1235.0 1361.8 1236.9 1361.0 1238.8 1360.3 1240.8 1359.8 1242.7 1359.3 1244.6 1358.8 1246.5 1358.4 1248.4 1358.0 1250.4 1357.6 1252.3 1357.2 1254.2 1356.9 1256.1 1356.6 1258.0 1356.3 1260.0 1356.1 1262.2 1355.7 1265.7 1355.3 1269.6 1354.9 1273.4 1354.5 1276.6 1354.2 1279.2 1353.9 1283.0 1353.6 1286.9 1353.3 1290.7 1353.1 1294.5 1352.9 1298.4 1352.7M1297.3 1357.3 1300.3 1357.1 1304.2 1356.9 1308.0 1356.7 1311.8 1356.5 1315.7 1356.4 1319.5 1356.3 1323.4 1356.2 1327.2 1356.1 1331.1 1356.1 1334.9 1356.1 1338.7 1356.1 1342.6 1356.2 1346.4 1356.2 1350.3 1356.4 1354.1 1356.5 1358.0 1356.7 1361.8 1356.9 1365.6 1357.1 1369.3 1357.3 1371.4 1357.5 1375.2 1357.9 1379.1 1358.2 1382.9 1358.7 1385.0 1358.9 1388.7 1359.5 1390.6 1359.8 1392.5 1360.1 1394.5 1360.5 1396.4 1361.0 1398.3 1361.5 1400.2 1362.0 1402.1 1362.8 1404.0 1363.7 1405.3 1365.2 1404.6 1366.8 1402.1 1368.2 1400.2 1368.9 1398.3 1369.5 1396.4 1370.1 1394.5 1370.5 1392.5 1370.8 1390.6 1371.2 1388.7 1371.6 1384.8 1372.1 1381.0 1372.6 1377.2 1373.1 1373.3 1373.4 1369.5 1373.7 1365.6 1374.0 1361.8 1374.3 1358.0 1374.5 1354.1 1374.7 1350.3 1374.8 1346.4 1375.0 1342.6 1375.0 1338.7 1375.1 1334.9 1375.1 1331.1 1375.2 1327.2 1375.1 1323.4 1375.1 1319.5 1375.0 1315.7 1374.9 1311.8 1374.8 1308.0 1374.6 1304.2 1374.4 1300.3 1374.2 1296.5 1373.9 1292.6 1373.6 1288.8 1373.2 1284.9 1372.8 1281.1 1372.3 1277.3 1371.8 1275.3 1371.5 1273.4 1371.1 1271.5 1370.7 1269.6 1370.3 1267.7 1369.7 1265.7 1369.1 1263.8 1368.5 1261.9 1367.2 1260.9 1365.2 1262.4 1363.7 1265.7 1362.2 1267.7 1361.7 1269.6 1361.2 1271.5 1360.7 1273.4 1360.3 1275.3 1360.0 1277.3 1359.6 1279.2 1359.3 1281.1 1359.0 1284.9 1358.5 1288.8 1358.1 1292.6 1357.7 1296.5 1357.4" fill="none" stroke="#332d2d" stroke-width="1.85" stroke-linejoin="round"/>
</g>
<line x1="1220.5" y1="1409.2" x2="1220.5" y2="1417.2" stroke="#000" stroke-width="3" />
<line x1="1384.7" y1="1409.2" x2="1384.7" y2="1417.2" stroke="#000" stroke-width="3" />
<line x1="1548.9" y1="1409.2" x2="1548.9" y2="1417.2" stroke="#000" stroke-width="3" />
<line x1="1713.1" y1="1409.2" x2="1713.1" y2="1417.2" stroke="#000" stroke-width="3" />
<line x1="1302.6" y1="1409.2" x2="1302.6" y2="1413.7" stroke="#000" stroke-width="3" />
<line x1="1466.8" y1="1409.2" x2="1466.8" y2="1413.7" stroke="#000" stroke-width="3" />
<line x1="1631" y1="1409.2" x2="1631" y2="1413.7" stroke="#000" stroke-width="3" />
<line x1="1212.7" y1="1186.7" x2="1219.7" y2="1186.7" stroke="#000" stroke-width="3" />
<line x1="1212.7" y1="1395.6" x2="1219.7" y2="1395.6" stroke="#000" stroke-width="3" />
<line x1="1212.7" y1="1116.2" x2="1219.7" y2="1116.2" stroke="#000" stroke-width="3" />
<line x1="1212.7" y1="1329.7" x2="1219.7" y2="1329.7" stroke="#000" stroke-width="3" />
<line x1="1212.7" y1="1045.7" x2="1219.7" y2="1045.7" stroke="#000" stroke-width="3" />
<line x1="1212.7" y1="1263.8" x2="1219.7" y2="1263.8" stroke="#000" stroke-width="3" />
<line x1="1216.2" y1="1151.75" x2="1219.7" y2="1151.75" stroke="#000" stroke-width="2.6" />
<line x1="1216.2" y1="1362.65" x2="1219.7" y2="1362.65" stroke="#000" stroke-width="2.6" />
<line x1="1216.2" y1="1081.25" x2="1219.7" y2="1081.25" stroke="#000" stroke-width="2.6" />
<line x1="1216.2" y1="1296.75" x2="1219.7" y2="1296.75" stroke="#000" stroke-width="2.6" />
<line x1="1216.2" y1="1230.85" x2="1219.7" y2="1230.85" stroke="#000" stroke-width="2.6" />
<line x1="1219.7" y1="1208.8" x2="1713.3" y2="1208.8" stroke="#000" stroke-width="3" />
<rect x="1219.7" y="1011.3" width="493.6" height="397.9" fill="none" stroke="#000" stroke-width="3.2" />
<text x="1220.5" y="1440.2" font-size="26" text-anchor="middle" fill="#111" >0</text>
<text x="1384.7" y="1440.2" font-size="26" text-anchor="middle" fill="#111" >5</text>
<text x="1548.9" y="1440.2" font-size="26" text-anchor="middle" fill="#111" >10</text>
<text x="1713.1" y="1440.2" font-size="26" text-anchor="middle" fill="#111" >15</text>
<text x="1213" y="1197" font-size="25.6" text-anchor="end" fill="#111" >1</text>
<text x="1213" y="1405.9" font-size="25.6" text-anchor="end" fill="#111" >1</text>
<text x="1213" y="1126.5" font-size="25.6" text-anchor="end" fill="#111" >2</text>
<text x="1213" y="1340" font-size="25.6" text-anchor="end" fill="#111" >2</text>
<text x="1213" y="1056" font-size="25.6" text-anchor="end" fill="#111" >3</text>
<text x="1213" y="1274.1" font-size="25.6" text-anchor="end" fill="#111" >3</text>
<text x="1466.5" y="1470.2" font-size="26.5" text-anchor="middle" fill="#111" >K (Å<tspan font-size="15.9" dy="-9.54">-1</tspan><tspan dy="9.54" font-size="1">&#8203;</tspan>)</text>
<text x="1184.4" y="1215.6" font-size="26.5" text-anchor="middle" fill="#111" transform="rotate(-90 1184.4 1215.6)" >R+α (Å<tspan font-size="15.9" dy="-9.54">-1</tspan><tspan dy="9.54" font-size="1">&#8203;</tspan>)</text>
<text x="1159.3" y="1016.6" font-size="55" text-anchor="start" fill="#000" >h</text>
<text x="1700.4" y="1046" font-size="25.5" text-anchor="end" fill="#222" >V<tspan font-size="72%">2</tspan>C/V<tspan font-size="72%">2</tspan>O<tspan font-size="72%">5-x</tspan></text>
<text x="1679.8" y="1241.4" font-size="25.5" text-anchor="end" fill="#222" >V<tspan font-size="72%">2</tspan>O<tspan font-size="72%">5</tspan></text>
<text x="1348.5" y="1157" font-size="25.5" text-anchor="middle" fill="#222" >V-O</text>
<text x="1445" y="1286" font-size="25.5" text-anchor="middle" fill="#222" >V-V</text>
<text x="1324.5" y="1377.3" font-size="25.5" text-anchor="middle" fill="#222" >V-O</text>
<linearGradient id="cbar" x1="0" y1="0" x2="0" y2="1"><stop offset="0.00" stop-color="#e8ae18"/><stop offset="0.16" stop-color="#cdb236"/><stop offset="0.34" stop-color="#a2b958"/><stop offset="0.52" stop-color="#69bc8c"/><stop offset="0.68" stop-color="#72bbac"/><stop offset="0.85" stop-color="#80b5d2"/><stop offset="1.00" stop-color="#88b0e2"/></linearGradient>
<rect x="1719.3" y="1038.3" width="23" height="330.5" fill="url(#cbar)" stroke="#000" stroke-width="2.6" />
<text x="1716.7" y="1028.5" font-size="16.5" text-anchor="start" fill="#111" >High</text>
<text x="1717.3" y="1386.5" font-size="16.5" text-anchor="start" fill="#111" >Low</text></g>
</svg>
</body></html>
